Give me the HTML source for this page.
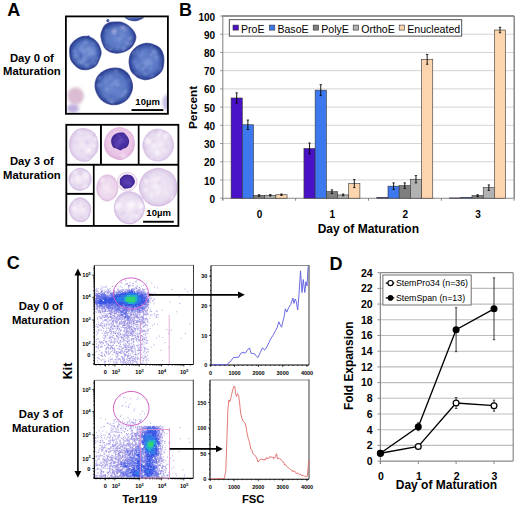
<!DOCTYPE html>
<html><head><meta charset="utf-8"><style>
html,body{margin:0;padding:0;background:#fff;}
svg{display:block;}
text{font-family:"Liberation Sans",sans-serif;}
</style></head><body>
<svg width="520" height="507" viewBox="0 0 520 507" font-family="Liberation Sans">
<text x="7.3" y="15.6" font-size="18" font-weight="bold" text-anchor="start" fill="#000" >A</text>
<text x="31.9" y="61.8" font-size="11.3" font-weight="bold" text-anchor="middle" fill="#000" >Day 0 of</text>
<text x="31.9" y="75.3" font-size="11.3" font-weight="bold" text-anchor="middle" fill="#000" >Maturation</text>
<text x="31.9" y="164.9" font-size="11.3" font-weight="bold" text-anchor="middle" fill="#000" >Day 3 of</text>
<text x="31.9" y="178.9" font-size="11.3" font-weight="bold" text-anchor="middle" fill="#000" >Maturation</text>
<defs><radialGradient id="gBlue" cx="50%" cy="50%" r="50%"><stop offset="0" stop-color="#6e8cd2"/><stop offset="0.68" stop-color="#5774c2"/><stop offset="0.92" stop-color="#354fa0"/><stop offset="1" stop-color="#2b4394"/></radialGradient><radialGradient id="gLav" cx="50%" cy="50%" r="50%"><stop offset="0" stop-color="#f1e9f5"/><stop offset="0.75" stop-color="#e8dcf0"/><stop offset="1" stop-color="#d8c6e6"/></radialGradient><radialGradient id="gPink" cx="50%" cy="50%" r="50%"><stop offset="0" stop-color="#f3e4f2"/><stop offset="0.8" stop-color="#ecd6ec"/><stop offset="1" stop-color="#dec2e0"/></radialGradient><radialGradient id="gPinkS" cx="50%" cy="45%" r="52%"><stop offset="0" stop-color="#f2d6ee"/><stop offset="0.8" stop-color="#eac4e6"/><stop offset="1" stop-color="#deb2da"/></radialGradient><radialGradient id="gNuc" cx="50%" cy="50%" r="50%"><stop offset="0" stop-color="#5840b4"/><stop offset="0.8" stop-color="#452c9c"/><stop offset="1" stop-color="#3c248e"/></radialGradient><filter id="blur1" x="-20%" y="-20%" width="140%" height="140%"><feGaussianBlur stdDeviation="0.7"/></filter><filter id="blurS" x="-20%" y="-20%" width="140%" height="140%"><feGaussianBlur stdDeviation="0.9"/></filter><filter id="blur2" x="-30%" y="-30%" width="160%" height="160%"><feGaussianBlur stdDeviation="1.5"/></filter><clipPath id="clipTop"><rect x="66.8" y="17.2" width="100.2" height="95.8"/></clipPath><clipPath id="clipBR"><rect x="94.5" y="165.6" width="84" height="59.5"/></clipPath></defs>
<g clip-path="url(#clipTop)">
<ellipse cx="75.6" cy="96" rx="8.2" ry="8.8" fill="#dcbcd2" filter="url(#blur2)"/>
<ellipse cx="73" cy="108.5" rx="6" ry="4.5" fill="#c0b0e0" filter="url(#blur2)"/>
<ellipse cx="167.5" cy="102.5" rx="5" ry="8" fill="#c6bae2" filter="url(#blur2)"/>
<clipPath id="cc1"><path d="M146.05 11.30C146.05 12.48 145.79 13.77 145.21 14.86C144.63 15.94 143.67 17.03 142.58 17.83C141.48 18.63 140.04 19.21 138.65 19.67C137.25 20.13 135.70 20.57 134.20 20.60C132.70 20.63 131.04 20.32 129.66 19.85C128.28 19.37 126.98 18.60 125.91 17.76C124.84 16.93 123.82 15.92 123.22 14.85C122.63 13.77 122.34 12.48 122.35 11.30C122.35 10.12 122.68 8.85 123.26 7.77C123.84 6.68 124.79 5.63 125.85 4.79C126.92 3.96 128.26 3.18 129.65 2.74C131.05 2.31 132.69 2.17 134.20 2.18C135.71 2.19 137.32 2.38 138.71 2.82C140.09 3.26 141.42 4.01 142.50 4.83C143.57 5.66 144.59 6.68 145.18 7.75C145.77 8.83 146.04 10.12 146.05 11.30Z"/></clipPath>
<path d="M146.05 11.30C146.05 12.48 145.79 13.77 145.21 14.86C144.63 15.94 143.67 17.03 142.58 17.83C141.48 18.63 140.04 19.21 138.65 19.67C137.25 20.13 135.70 20.57 134.20 20.60C132.70 20.63 131.04 20.32 129.66 19.85C128.28 19.37 126.98 18.60 125.91 17.76C124.84 16.93 123.82 15.92 123.22 14.85C122.63 13.77 122.34 12.48 122.35 11.30C122.35 10.12 122.68 8.85 123.26 7.77C123.84 6.68 124.79 5.63 125.85 4.79C126.92 3.96 128.26 3.18 129.65 2.74C131.05 2.31 132.69 2.17 134.20 2.18C135.71 2.19 137.32 2.38 138.71 2.82C140.09 3.26 141.42 4.01 142.50 4.83C143.57 5.66 144.59 6.68 145.18 7.75C145.77 8.83 146.04 10.12 146.05 11.30Z" fill="url(#gBlue)" filter="url(#blur1)"/>
<g clip-path="url(#cc1)" filter="url(#blurS)"><ellipse cx="126.9" cy="11.4" rx="1.8" ry="1.1" fill="#98aae2" fill-opacity="0.4"/><ellipse cx="127.3" cy="17.6" rx="0.9" ry="0.6" fill="#98aae2" fill-opacity="0.4"/><ellipse cx="143.0" cy="13.1" rx="1.4" ry="1.3" fill="#98aae2" fill-opacity="0.4"/><ellipse cx="137.4" cy="8.2" rx="1.0" ry="1.1" fill="#98aae2" fill-opacity="0.4"/><ellipse cx="137.6" cy="11.6" rx="2.1" ry="2.0" fill="#98aae2" fill-opacity="0.4"/><ellipse cx="143.7" cy="7.1" rx="1.7" ry="1.5" fill="#98aae2" fill-opacity="0.4"/><ellipse cx="131.3" cy="12.7" rx="1.2" ry="1.3" fill="#98aae2" fill-opacity="0.4"/><ellipse cx="141.4" cy="6.0" rx="1.5" ry="1.2" fill="#98aae2" fill-opacity="0.4"/><ellipse cx="126.0" cy="17.1" rx="1.5" ry="1.0" fill="#98aae2" fill-opacity="0.4"/><ellipse cx="137.6" cy="7.1" rx="2.2" ry="1.6" fill="#98aae2" fill-opacity="0.4"/><ellipse cx="125.0" cy="7.1" rx="1.4" ry="1.2" fill="#98aae2" fill-opacity="0.4"/><ellipse cx="142.2" cy="14.2" rx="1.3" ry="0.8" fill="#98aae2" fill-opacity="0.4"/><ellipse cx="127.5" cy="18.5" rx="1.5" ry="1.6" fill="#98aae2" fill-opacity="0.4"/><ellipse cx="125.4" cy="4.7" rx="2.2" ry="2.1" fill="#98aae2" fill-opacity="0.4"/><ellipse cx="130.4" cy="8.8" rx="0.9" ry="0.7" fill="#98aae2" fill-opacity="0.4"/><ellipse cx="124.8" cy="16.3" rx="1.5" ry="1.0" fill="#98aae2" fill-opacity="0.4"/><ellipse cx="138.9" cy="7.0" rx="0.9" ry="0.9" fill="#98aae2" fill-opacity="0.4"/><ellipse cx="142.0" cy="4.6" rx="2.1" ry="1.5" fill="#98aae2" fill-opacity="0.4"/><ellipse cx="126.2" cy="4.4" rx="1.3" ry="1.3" fill="#98aae2" fill-opacity="0.4"/><ellipse cx="134.1" cy="16.5" rx="1.1" ry="0.9" fill="#98aae2" fill-opacity="0.4"/><ellipse cx="129.4" cy="18.3" rx="2.3" ry="1.9" fill="#98aae2" fill-opacity="0.4"/><ellipse cx="132.9" cy="8.7" rx="2.0" ry="1.2" fill="#98aae2" fill-opacity="0.4"/><ellipse cx="125.7" cy="10.0" rx="1.2" ry="1.3" fill="#98aae2" fill-opacity="0.4"/><ellipse cx="139.0" cy="12.1" rx="1.9" ry="1.9" fill="#98aae2" fill-opacity="0.4"/><ellipse cx="139.7" cy="17.6" rx="1.0" ry="1.0" fill="#98aae2" fill-opacity="0.4"/><ellipse cx="127.2" cy="10.6" rx="2.1" ry="2.3" fill="#98aae2" fill-opacity="0.4"/><ellipse cx="139.3" cy="4.7" rx="1.4" ry="1.0" fill="#98aae2" fill-opacity="0.4"/><ellipse cx="144.0" cy="6.3" rx="1.2" ry="1.0" fill="#98aae2" fill-opacity="0.4"/><ellipse cx="125.5" cy="16.7" rx="1.8" ry="1.3" fill="#98aae2" fill-opacity="0.4"/><ellipse cx="134.2" cy="5.3" rx="1.8" ry="1.3" fill="#98aae2" fill-opacity="0.4"/><ellipse cx="125.1" cy="5.8" rx="1.7" ry="1.7" fill="#98aae2" fill-opacity="0.4"/><ellipse cx="130.7" cy="13.5" rx="1.4" ry="0.9" fill="#98aae2" fill-opacity="0.4"/><ellipse cx="130.6" cy="9.9" rx="2.3" ry="1.5" fill="#98aae2" fill-opacity="0.4"/><ellipse cx="126.0" cy="12.3" rx="2.3" ry="2.7" fill="#98aae2" fill-opacity="0.4"/><ellipse cx="138.1" cy="5.1" rx="1.6" ry="1.6" fill="#34469c" fill-opacity="0.35"/><ellipse cx="127.2" cy="10.9" rx="0.8" ry="0.8" fill="#34469c" fill-opacity="0.35"/><ellipse cx="138.5" cy="15.8" rx="1.5" ry="1.2" fill="#34469c" fill-opacity="0.35"/><ellipse cx="139.9" cy="7.8" rx="0.9" ry="0.7" fill="#34469c" fill-opacity="0.35"/><ellipse cx="134.2" cy="8.3" rx="1.4" ry="1.3" fill="#34469c" fill-opacity="0.35"/><ellipse cx="129.1" cy="13.2" rx="1.1" ry="1.1" fill="#34469c" fill-opacity="0.35"/><ellipse cx="130.1" cy="15.7" rx="1.2" ry="1.1" fill="#34469c" fill-opacity="0.35"/><ellipse cx="137.6" cy="11.7" rx="1.0" ry="1.2" fill="#34469c" fill-opacity="0.35"/><ellipse cx="126.2" cy="8.9" rx="1.3" ry="0.8" fill="#34469c" fill-opacity="0.35"/><ellipse cx="127.4" cy="15.7" rx="1.6" ry="1.5" fill="#34469c" fill-opacity="0.35"/><ellipse cx="142.1" cy="15.1" rx="1.0" ry="1.0" fill="#34469c" fill-opacity="0.35"/><ellipse cx="131.0" cy="15.0" rx="1.1" ry="0.8" fill="#34469c" fill-opacity="0.35"/><ellipse cx="141.6" cy="14.1" rx="1.5" ry="1.4" fill="#34469c" fill-opacity="0.35"/><ellipse cx="139.8" cy="10.6" rx="1.3" ry="0.8" fill="#34469c" fill-opacity="0.35"/><ellipse cx="135.3" cy="15.9" rx="1.5" ry="1.6" fill="#34469c" fill-opacity="0.35"/><ellipse cx="134.1" cy="16.9" rx="0.8" ry="0.9" fill="#34469c" fill-opacity="0.35"/><ellipse cx="131.7" cy="5.5" rx="1.4" ry="1.2" fill="#34469c" fill-opacity="0.35"/><ellipse cx="132.8" cy="16.5" rx="0.9" ry="0.8" fill="#34469c" fill-opacity="0.35"/><ellipse cx="132.5" cy="11.8" rx="1.2" ry="0.9" fill="#34469c" fill-opacity="0.35"/><ellipse cx="134.4" cy="16.6" rx="0.9" ry="0.5" fill="#34469c" fill-opacity="0.35"/></g>
<path d="M146.05 11.30C146.05 12.48 145.79 13.77 145.21 14.86C144.63 15.94 143.67 17.03 142.58 17.83C141.48 18.63 140.04 19.21 138.65 19.67C137.25 20.13 135.70 20.57 134.20 20.60C132.70 20.63 131.04 20.32 129.66 19.85C128.28 19.37 126.98 18.60 125.91 17.76C124.84 16.93 123.82 15.92 123.22 14.85C122.63 13.77 122.34 12.48 122.35 11.30C122.35 10.12 122.68 8.85 123.26 7.77C123.84 6.68 124.79 5.63 125.85 4.79C126.92 3.96 128.26 3.18 129.65 2.74C131.05 2.31 132.69 2.17 134.20 2.18C135.71 2.19 137.32 2.38 138.71 2.82C140.09 3.26 141.42 4.01 142.50 4.83C143.57 5.66 144.59 6.68 145.18 7.75C145.77 8.83 146.04 10.12 146.05 11.30Z" fill="none" stroke="#26348a" stroke-width="1.5" stroke-opacity="0.75" filter="url(#blur1)"/>
<clipPath id="cc2"><path d="M101.10 36.60C100.77 33.77 101.85 31.85 102.50 30.00C103.15 28.15 103.92 26.67 105.00 25.50C106.08 24.33 107.50 23.53 109.00 23.00C110.50 22.47 112.17 22.42 114.00 22.30C115.83 22.18 118.00 21.93 120.00 22.30C122.00 22.67 124.25 23.55 126.00 24.50C127.75 25.45 129.17 26.75 130.50 28.00C131.83 29.25 133.13 30.42 134.00 32.00C134.87 33.58 135.78 35.50 135.70 37.50C135.62 39.50 134.47 42.22 133.50 44.00C132.53 45.78 131.48 46.95 129.90 48.20C128.32 49.45 126.15 50.72 124.00 51.50C121.85 52.28 119.33 52.90 117.00 52.90C114.67 52.90 112.08 52.48 110.00 51.50C107.92 50.52 105.98 49.48 104.50 47.00C103.02 44.52 101.43 39.43 101.10 36.60Z"/></clipPath>
<path d="M101.10 36.60C100.77 33.77 101.85 31.85 102.50 30.00C103.15 28.15 103.92 26.67 105.00 25.50C106.08 24.33 107.50 23.53 109.00 23.00C110.50 22.47 112.17 22.42 114.00 22.30C115.83 22.18 118.00 21.93 120.00 22.30C122.00 22.67 124.25 23.55 126.00 24.50C127.75 25.45 129.17 26.75 130.50 28.00C131.83 29.25 133.13 30.42 134.00 32.00C134.87 33.58 135.78 35.50 135.70 37.50C135.62 39.50 134.47 42.22 133.50 44.00C132.53 45.78 131.48 46.95 129.90 48.20C128.32 49.45 126.15 50.72 124.00 51.50C121.85 52.28 119.33 52.90 117.00 52.90C114.67 52.90 112.08 52.48 110.00 51.50C107.92 50.52 105.98 49.48 104.50 47.00C103.02 44.52 101.43 39.43 101.10 36.60Z" fill="url(#gBlue)" filter="url(#blur1)"/>
<g clip-path="url(#cc2)" filter="url(#blurS)"><ellipse cx="110.8" cy="49.5" rx="1.1" ry="0.8" fill="#98aae2" fill-opacity="0.4"/><ellipse cx="113.8" cy="30.4" rx="1.9" ry="1.3" fill="#98aae2" fill-opacity="0.4"/><ellipse cx="130.5" cy="47.1" rx="0.8" ry="0.7" fill="#98aae2" fill-opacity="0.4"/><ellipse cx="106.4" cy="31.2" rx="1.5" ry="1.3" fill="#98aae2" fill-opacity="0.4"/><ellipse cx="117.4" cy="49.0" rx="1.2" ry="0.9" fill="#98aae2" fill-opacity="0.4"/><ellipse cx="123.6" cy="49.5" rx="2.3" ry="2.6" fill="#98aae2" fill-opacity="0.4"/><ellipse cx="105.1" cy="49.2" rx="1.8" ry="2.1" fill="#98aae2" fill-opacity="0.4"/><ellipse cx="115.6" cy="30.1" rx="2.1" ry="2.1" fill="#98aae2" fill-opacity="0.4"/><ellipse cx="126.9" cy="29.7" rx="1.0" ry="1.1" fill="#98aae2" fill-opacity="0.4"/><ellipse cx="103.7" cy="49.5" rx="1.0" ry="1.0" fill="#98aae2" fill-opacity="0.4"/><ellipse cx="115.9" cy="32.9" rx="1.1" ry="1.1" fill="#98aae2" fill-opacity="0.4"/><ellipse cx="131.1" cy="43.7" rx="1.8" ry="1.8" fill="#98aae2" fill-opacity="0.4"/><ellipse cx="119.5" cy="39.1" rx="2.2" ry="1.7" fill="#98aae2" fill-opacity="0.4"/><ellipse cx="109.9" cy="49.5" rx="2.3" ry="2.0" fill="#98aae2" fill-opacity="0.4"/><ellipse cx="127.6" cy="44.1" rx="2.3" ry="1.5" fill="#98aae2" fill-opacity="0.4"/><ellipse cx="130.6" cy="37.6" rx="1.5" ry="1.5" fill="#98aae2" fill-opacity="0.4"/><ellipse cx="122.0" cy="35.9" rx="1.3" ry="1.5" fill="#98aae2" fill-opacity="0.4"/><ellipse cx="128.2" cy="27.0" rx="1.4" ry="1.5" fill="#98aae2" fill-opacity="0.4"/><ellipse cx="130.0" cy="49.9" rx="1.2" ry="1.3" fill="#98aae2" fill-opacity="0.4"/><ellipse cx="124.4" cy="26.1" rx="1.1" ry="0.8" fill="#98aae2" fill-opacity="0.4"/><ellipse cx="105.5" cy="42.6" rx="1.3" ry="1.3" fill="#98aae2" fill-opacity="0.4"/><ellipse cx="105.6" cy="47.5" rx="1.9" ry="2.0" fill="#98aae2" fill-opacity="0.4"/><ellipse cx="121.7" cy="36.5" rx="1.1" ry="1.3" fill="#98aae2" fill-opacity="0.4"/><ellipse cx="107.6" cy="38.2" rx="1.0" ry="0.7" fill="#98aae2" fill-opacity="0.4"/><ellipse cx="124.4" cy="47.9" rx="1.5" ry="1.7" fill="#98aae2" fill-opacity="0.4"/><ellipse cx="129.4" cy="38.5" rx="2.0" ry="1.6" fill="#98aae2" fill-opacity="0.4"/><ellipse cx="107.7" cy="29.3" rx="0.8" ry="0.5" fill="#98aae2" fill-opacity="0.4"/><ellipse cx="126.1" cy="48.3" rx="0.9" ry="0.9" fill="#98aae2" fill-opacity="0.4"/><ellipse cx="126.9" cy="42.4" rx="1.6" ry="1.4" fill="#98aae2" fill-opacity="0.4"/><ellipse cx="124.4" cy="30.8" rx="2.0" ry="1.4" fill="#98aae2" fill-opacity="0.4"/><ellipse cx="104.2" cy="49.1" rx="0.9" ry="0.7" fill="#98aae2" fill-opacity="0.4"/><ellipse cx="104.8" cy="24.6" rx="1.0" ry="1.2" fill="#98aae2" fill-opacity="0.4"/><ellipse cx="124.4" cy="35.1" rx="0.8" ry="0.9" fill="#98aae2" fill-opacity="0.4"/><ellipse cx="117.9" cy="47.0" rx="1.6" ry="1.0" fill="#98aae2" fill-opacity="0.4"/><ellipse cx="105.4" cy="45.3" rx="0.9" ry="0.7" fill="#34469c" fill-opacity="0.35"/><ellipse cx="115.6" cy="31.3" rx="1.0" ry="1.1" fill="#34469c" fill-opacity="0.35"/><ellipse cx="117.5" cy="50.8" rx="0.8" ry="0.6" fill="#34469c" fill-opacity="0.35"/><ellipse cx="130.1" cy="35.9" rx="1.5" ry="1.3" fill="#34469c" fill-opacity="0.35"/><ellipse cx="115.5" cy="47.9" rx="1.0" ry="1.0" fill="#34469c" fill-opacity="0.35"/><ellipse cx="120.4" cy="25.5" rx="0.8" ry="0.6" fill="#34469c" fill-opacity="0.35"/><ellipse cx="103.2" cy="42.5" rx="1.3" ry="1.1" fill="#34469c" fill-opacity="0.35"/><ellipse cx="115.9" cy="25.4" rx="1.1" ry="1.3" fill="#34469c" fill-opacity="0.35"/><ellipse cx="104.3" cy="41.7" rx="1.5" ry="1.1" fill="#34469c" fill-opacity="0.35"/><ellipse cx="112.1" cy="29.1" rx="1.3" ry="1.1" fill="#34469c" fill-opacity="0.35"/><ellipse cx="107.1" cy="32.0" rx="1.0" ry="1.2" fill="#34469c" fill-opacity="0.35"/><ellipse cx="121.8" cy="37.0" rx="1.2" ry="1.2" fill="#34469c" fill-opacity="0.35"/><ellipse cx="133.1" cy="34.5" rx="0.8" ry="0.5" fill="#34469c" fill-opacity="0.35"/><ellipse cx="103.3" cy="29.7" rx="1.4" ry="1.0" fill="#34469c" fill-opacity="0.35"/><ellipse cx="128.7" cy="49.6" rx="0.8" ry="0.9" fill="#34469c" fill-opacity="0.35"/><ellipse cx="123.3" cy="50.7" rx="0.9" ry="1.0" fill="#34469c" fill-opacity="0.35"/><ellipse cx="113.3" cy="29.6" rx="1.0" ry="1.1" fill="#34469c" fill-opacity="0.35"/><ellipse cx="117.8" cy="35.9" rx="1.7" ry="1.8" fill="#34469c" fill-opacity="0.35"/><ellipse cx="130.5" cy="24.9" rx="1.8" ry="1.8" fill="#34469c" fill-opacity="0.35"/><ellipse cx="130.7" cy="45.7" rx="1.7" ry="1.9" fill="#34469c" fill-opacity="0.35"/><ellipse cx="122.9" cy="27.7" rx="2.7" ry="1.7" fill="#d8c4e4" fill-opacity="0.5"/><ellipse cx="113.8" cy="31.8" rx="2.3" ry="2.5" fill="#d8c4e4" fill-opacity="0.5"/></g>
<path d="M101.10 36.60C100.77 33.77 101.85 31.85 102.50 30.00C103.15 28.15 103.92 26.67 105.00 25.50C106.08 24.33 107.50 23.53 109.00 23.00C110.50 22.47 112.17 22.42 114.00 22.30C115.83 22.18 118.00 21.93 120.00 22.30C122.00 22.67 124.25 23.55 126.00 24.50C127.75 25.45 129.17 26.75 130.50 28.00C131.83 29.25 133.13 30.42 134.00 32.00C134.87 33.58 135.78 35.50 135.70 37.50C135.62 39.50 134.47 42.22 133.50 44.00C132.53 45.78 131.48 46.95 129.90 48.20C128.32 49.45 126.15 50.72 124.00 51.50C121.85 52.28 119.33 52.90 117.00 52.90C114.67 52.90 112.08 52.48 110.00 51.50C107.92 50.52 105.98 49.48 104.50 47.00C103.02 44.52 101.43 39.43 101.10 36.60Z" fill="none" stroke="#26348a" stroke-width="1.5" stroke-opacity="0.75" filter="url(#blur1)"/>
<ellipse cx="107.8" cy="20.6" rx="1.5" ry="1.6" fill="#4058a8" filter="url(#blur1)"/>
<ellipse cx="88.5" cy="36.3" rx="1.2" ry="1" fill="#6878c0" filter="url(#blur1)"/>
<clipPath id="cc3"><path d="M100.98 53.10C100.92 55.18 99.80 57.29 98.99 59.26C98.19 61.22 97.47 63.38 96.14 64.90C94.82 66.41 92.88 67.55 91.05 68.33C89.23 69.12 87.16 69.60 85.20 69.61C83.24 69.62 81.09 69.24 79.32 68.40C77.55 67.55 75.96 66.05 74.57 64.55C73.19 63.06 71.78 61.34 71.01 59.43C70.24 57.53 70.06 55.26 69.96 53.10C69.86 50.94 69.68 48.46 70.40 46.49C71.13 44.53 72.79 42.77 74.28 41.33C75.77 39.89 77.51 38.62 79.33 37.83C81.15 37.03 83.25 36.55 85.20 36.56C87.15 36.57 89.25 37.06 91.05 37.89C92.84 38.71 94.57 40.03 95.95 41.51C97.34 42.99 98.52 44.85 99.36 46.78C100.20 48.71 101.04 51.02 100.98 53.10Z"/></clipPath>
<path d="M100.98 53.10C100.92 55.18 99.80 57.29 98.99 59.26C98.19 61.22 97.47 63.38 96.14 64.90C94.82 66.41 92.88 67.55 91.05 68.33C89.23 69.12 87.16 69.60 85.20 69.61C83.24 69.62 81.09 69.24 79.32 68.40C77.55 67.55 75.96 66.05 74.57 64.55C73.19 63.06 71.78 61.34 71.01 59.43C70.24 57.53 70.06 55.26 69.96 53.10C69.86 50.94 69.68 48.46 70.40 46.49C71.13 44.53 72.79 42.77 74.28 41.33C75.77 39.89 77.51 38.62 79.33 37.83C81.15 37.03 83.25 36.55 85.20 36.56C87.15 36.57 89.25 37.06 91.05 37.89C92.84 38.71 94.57 40.03 95.95 41.51C97.34 42.99 98.52 44.85 99.36 46.78C100.20 48.71 101.04 51.02 100.98 53.10Z" fill="url(#gBlue)" filter="url(#blur1)"/>
<g clip-path="url(#cc3)" filter="url(#blurS)"><ellipse cx="95.3" cy="63.4" rx="2.1" ry="1.6" fill="#98aae2" fill-opacity="0.4"/><ellipse cx="74.0" cy="66.1" rx="1.8" ry="1.1" fill="#98aae2" fill-opacity="0.4"/><ellipse cx="96.6" cy="67.2" rx="1.3" ry="1.4" fill="#98aae2" fill-opacity="0.4"/><ellipse cx="74.2" cy="51.3" rx="2.1" ry="1.8" fill="#98aae2" fill-opacity="0.4"/><ellipse cx="85.9" cy="42.0" rx="2.1" ry="1.9" fill="#98aae2" fill-opacity="0.4"/><ellipse cx="78.7" cy="61.1" rx="2.4" ry="2.2" fill="#98aae2" fill-opacity="0.4"/><ellipse cx="91.9" cy="67.4" rx="0.8" ry="0.8" fill="#98aae2" fill-opacity="0.4"/><ellipse cx="98.1" cy="42.0" rx="1.2" ry="1.1" fill="#98aae2" fill-opacity="0.4"/><ellipse cx="91.5" cy="54.6" rx="1.7" ry="1.1" fill="#98aae2" fill-opacity="0.4"/><ellipse cx="91.9" cy="47.9" rx="0.9" ry="1.1" fill="#98aae2" fill-opacity="0.4"/><ellipse cx="89.8" cy="51.8" rx="2.0" ry="1.7" fill="#98aae2" fill-opacity="0.4"/><ellipse cx="75.3" cy="56.1" rx="2.0" ry="2.1" fill="#98aae2" fill-opacity="0.4"/><ellipse cx="86.9" cy="65.5" rx="2.3" ry="2.6" fill="#98aae2" fill-opacity="0.4"/><ellipse cx="82.0" cy="46.3" rx="1.6" ry="1.6" fill="#98aae2" fill-opacity="0.4"/><ellipse cx="76.3" cy="54.8" rx="1.5" ry="0.9" fill="#98aae2" fill-opacity="0.4"/><ellipse cx="83.3" cy="50.2" rx="2.3" ry="1.5" fill="#98aae2" fill-opacity="0.4"/><ellipse cx="97.0" cy="64.9" rx="1.8" ry="1.3" fill="#98aae2" fill-opacity="0.4"/><ellipse cx="93.3" cy="43.2" rx="1.3" ry="1.3" fill="#98aae2" fill-opacity="0.4"/><ellipse cx="83.4" cy="51.9" rx="1.3" ry="0.8" fill="#98aae2" fill-opacity="0.4"/><ellipse cx="81.7" cy="62.6" rx="2.1" ry="1.4" fill="#98aae2" fill-opacity="0.4"/><ellipse cx="86.9" cy="48.8" rx="1.4" ry="1.7" fill="#98aae2" fill-opacity="0.4"/><ellipse cx="93.8" cy="53.3" rx="1.6" ry="1.9" fill="#98aae2" fill-opacity="0.4"/><ellipse cx="82.1" cy="61.3" rx="2.0" ry="2.1" fill="#98aae2" fill-opacity="0.4"/><ellipse cx="84.3" cy="58.5" rx="2.1" ry="1.7" fill="#98aae2" fill-opacity="0.4"/><ellipse cx="92.6" cy="52.6" rx="1.7" ry="1.5" fill="#98aae2" fill-opacity="0.4"/><ellipse cx="82.1" cy="60.4" rx="1.4" ry="1.0" fill="#98aae2" fill-opacity="0.4"/><ellipse cx="93.2" cy="50.2" rx="1.7" ry="2.1" fill="#98aae2" fill-opacity="0.4"/><ellipse cx="89.5" cy="53.8" rx="1.3" ry="1.3" fill="#98aae2" fill-opacity="0.4"/><ellipse cx="97.9" cy="59.1" rx="2.0" ry="1.6" fill="#98aae2" fill-opacity="0.4"/><ellipse cx="80.4" cy="48.9" rx="1.6" ry="1.8" fill="#98aae2" fill-opacity="0.4"/><ellipse cx="84.6" cy="43.7" rx="1.7" ry="1.2" fill="#98aae2" fill-opacity="0.4"/><ellipse cx="89.1" cy="48.4" rx="2.3" ry="2.0" fill="#98aae2" fill-opacity="0.4"/><ellipse cx="87.7" cy="55.5" rx="1.5" ry="1.7" fill="#98aae2" fill-opacity="0.4"/><ellipse cx="73.1" cy="60.2" rx="1.2" ry="0.8" fill="#98aae2" fill-opacity="0.4"/><ellipse cx="76.8" cy="60.4" rx="1.7" ry="1.8" fill="#34469c" fill-opacity="0.35"/><ellipse cx="79.7" cy="53.0" rx="0.8" ry="0.7" fill="#34469c" fill-opacity="0.35"/><ellipse cx="78.9" cy="39.5" rx="1.0" ry="1.2" fill="#34469c" fill-opacity="0.35"/><ellipse cx="86.3" cy="46.5" rx="0.8" ry="0.9" fill="#34469c" fill-opacity="0.35"/><ellipse cx="74.4" cy="39.7" rx="0.8" ry="0.9" fill="#34469c" fill-opacity="0.35"/><ellipse cx="97.2" cy="41.3" rx="1.4" ry="1.4" fill="#34469c" fill-opacity="0.35"/><ellipse cx="86.2" cy="38.7" rx="1.5" ry="1.3" fill="#34469c" fill-opacity="0.35"/><ellipse cx="97.1" cy="67.5" rx="1.4" ry="0.9" fill="#34469c" fill-opacity="0.35"/><ellipse cx="80.5" cy="56.9" rx="1.7" ry="1.4" fill="#34469c" fill-opacity="0.35"/><ellipse cx="81.7" cy="56.2" rx="1.6" ry="1.2" fill="#34469c" fill-opacity="0.35"/><ellipse cx="88.0" cy="56.5" rx="1.2" ry="1.0" fill="#34469c" fill-opacity="0.35"/><ellipse cx="97.6" cy="62.3" rx="0.9" ry="0.5" fill="#34469c" fill-opacity="0.35"/><ellipse cx="78.9" cy="50.8" rx="0.9" ry="0.7" fill="#34469c" fill-opacity="0.35"/><ellipse cx="90.3" cy="60.0" rx="1.6" ry="1.7" fill="#34469c" fill-opacity="0.35"/><ellipse cx="80.7" cy="54.0" rx="1.5" ry="1.5" fill="#34469c" fill-opacity="0.35"/><ellipse cx="87.6" cy="62.2" rx="1.7" ry="2.0" fill="#34469c" fill-opacity="0.35"/><ellipse cx="79.3" cy="42.0" rx="1.0" ry="1.1" fill="#34469c" fill-opacity="0.35"/><ellipse cx="80.5" cy="60.2" rx="1.4" ry="1.6" fill="#34469c" fill-opacity="0.35"/><ellipse cx="75.2" cy="62.6" rx="0.8" ry="0.7" fill="#34469c" fill-opacity="0.35"/><ellipse cx="86.5" cy="45.7" rx="1.0" ry="0.8" fill="#34469c" fill-opacity="0.35"/></g>
<path d="M100.98 53.10C100.92 55.18 99.80 57.29 98.99 59.26C98.19 61.22 97.47 63.38 96.14 64.90C94.82 66.41 92.88 67.55 91.05 68.33C89.23 69.12 87.16 69.60 85.20 69.61C83.24 69.62 81.09 69.24 79.32 68.40C77.55 67.55 75.96 66.05 74.57 64.55C73.19 63.06 71.78 61.34 71.01 59.43C70.24 57.53 70.06 55.26 69.96 53.10C69.86 50.94 69.68 48.46 70.40 46.49C71.13 44.53 72.79 42.77 74.28 41.33C75.77 39.89 77.51 38.62 79.33 37.83C81.15 37.03 83.25 36.55 85.20 36.56C87.15 36.57 89.25 37.06 91.05 37.89C92.84 38.71 94.57 40.03 95.95 41.51C97.34 42.99 98.52 44.85 99.36 46.78C100.20 48.71 101.04 51.02 100.98 53.10Z" fill="none" stroke="#26348a" stroke-width="1.5" stroke-opacity="0.75" filter="url(#blur1)"/>
<clipPath id="cc4"><path d="M129.30 60.70C129.45 58.62 130.00 55.87 130.80 54.00C131.60 52.13 132.73 50.90 134.10 49.50C135.47 48.10 137.03 46.58 139.00 45.60C140.97 44.62 143.57 43.77 145.90 43.60C148.23 43.43 150.70 43.82 153.00 44.60C155.30 45.38 158.02 46.57 159.70 48.30C161.38 50.03 162.45 52.72 163.10 55.00C163.75 57.28 163.72 59.67 163.60 62.00C163.48 64.33 163.17 67.03 162.40 69.00C161.63 70.97 160.38 72.43 159.00 73.80C157.62 75.17 155.77 76.33 154.10 77.20C152.43 78.07 150.60 78.63 149.00 79.00C147.40 79.37 146.17 79.60 144.50 79.40C142.83 79.20 140.62 78.60 139.00 77.80C137.38 77.00 136.05 75.73 134.80 74.60C133.55 73.47 132.32 72.35 131.50 71.00C130.68 69.65 130.27 68.22 129.90 66.50C129.53 64.78 129.15 62.78 129.30 60.70Z"/></clipPath>
<path d="M129.30 60.70C129.45 58.62 130.00 55.87 130.80 54.00C131.60 52.13 132.73 50.90 134.10 49.50C135.47 48.10 137.03 46.58 139.00 45.60C140.97 44.62 143.57 43.77 145.90 43.60C148.23 43.43 150.70 43.82 153.00 44.60C155.30 45.38 158.02 46.57 159.70 48.30C161.38 50.03 162.45 52.72 163.10 55.00C163.75 57.28 163.72 59.67 163.60 62.00C163.48 64.33 163.17 67.03 162.40 69.00C161.63 70.97 160.38 72.43 159.00 73.80C157.62 75.17 155.77 76.33 154.10 77.20C152.43 78.07 150.60 78.63 149.00 79.00C147.40 79.37 146.17 79.60 144.50 79.40C142.83 79.20 140.62 78.60 139.00 77.80C137.38 77.00 136.05 75.73 134.80 74.60C133.55 73.47 132.32 72.35 131.50 71.00C130.68 69.65 130.27 68.22 129.90 66.50C129.53 64.78 129.15 62.78 129.30 60.70Z" fill="url(#gBlue)" filter="url(#blur1)"/>
<g clip-path="url(#cc4)" filter="url(#blurS)"><ellipse cx="156.5" cy="57.1" rx="1.9" ry="2.1" fill="#98aae2" fill-opacity="0.4"/><ellipse cx="150.7" cy="63.0" rx="2.0" ry="2.1" fill="#98aae2" fill-opacity="0.4"/><ellipse cx="145.5" cy="63.8" rx="2.0" ry="1.3" fill="#98aae2" fill-opacity="0.4"/><ellipse cx="150.9" cy="69.0" rx="1.4" ry="1.3" fill="#98aae2" fill-opacity="0.4"/><ellipse cx="138.2" cy="66.3" rx="2.4" ry="1.8" fill="#98aae2" fill-opacity="0.4"/><ellipse cx="145.3" cy="74.0" rx="1.7" ry="1.4" fill="#98aae2" fill-opacity="0.4"/><ellipse cx="151.5" cy="46.6" rx="1.0" ry="1.2" fill="#98aae2" fill-opacity="0.4"/><ellipse cx="136.1" cy="46.5" rx="2.3" ry="2.4" fill="#98aae2" fill-opacity="0.4"/><ellipse cx="160.9" cy="69.8" rx="2.3" ry="1.8" fill="#98aae2" fill-opacity="0.4"/><ellipse cx="154.2" cy="50.8" rx="2.1" ry="2.2" fill="#98aae2" fill-opacity="0.4"/><ellipse cx="137.1" cy="51.5" rx="1.1" ry="1.2" fill="#98aae2" fill-opacity="0.4"/><ellipse cx="151.4" cy="54.5" rx="1.8" ry="1.9" fill="#98aae2" fill-opacity="0.4"/><ellipse cx="152.2" cy="77.3" rx="2.2" ry="1.8" fill="#98aae2" fill-opacity="0.4"/><ellipse cx="132.7" cy="52.9" rx="0.9" ry="1.0" fill="#98aae2" fill-opacity="0.4"/><ellipse cx="155.3" cy="52.4" rx="2.3" ry="1.8" fill="#98aae2" fill-opacity="0.4"/><ellipse cx="145.4" cy="64.1" rx="2.4" ry="2.7" fill="#98aae2" fill-opacity="0.4"/><ellipse cx="135.7" cy="74.0" rx="1.1" ry="1.2" fill="#98aae2" fill-opacity="0.4"/><ellipse cx="151.6" cy="50.4" rx="0.9" ry="1.0" fill="#98aae2" fill-opacity="0.4"/><ellipse cx="131.4" cy="50.3" rx="2.4" ry="2.4" fill="#98aae2" fill-opacity="0.4"/><ellipse cx="148.4" cy="60.0" rx="1.7" ry="1.5" fill="#98aae2" fill-opacity="0.4"/><ellipse cx="133.3" cy="52.9" rx="1.3" ry="1.2" fill="#98aae2" fill-opacity="0.4"/><ellipse cx="143.2" cy="68.5" rx="2.1" ry="2.2" fill="#98aae2" fill-opacity="0.4"/><ellipse cx="145.3" cy="58.1" rx="0.8" ry="0.7" fill="#98aae2" fill-opacity="0.4"/><ellipse cx="155.1" cy="56.7" rx="1.3" ry="0.9" fill="#98aae2" fill-opacity="0.4"/><ellipse cx="150.5" cy="61.5" rx="0.9" ry="0.7" fill="#98aae2" fill-opacity="0.4"/><ellipse cx="133.6" cy="50.5" rx="1.2" ry="0.8" fill="#98aae2" fill-opacity="0.4"/><ellipse cx="161.3" cy="65.8" rx="1.0" ry="0.9" fill="#98aae2" fill-opacity="0.4"/><ellipse cx="143.3" cy="51.8" rx="1.5" ry="1.4" fill="#98aae2" fill-opacity="0.4"/><ellipse cx="134.3" cy="76.0" rx="1.6" ry="1.0" fill="#98aae2" fill-opacity="0.4"/><ellipse cx="152.1" cy="75.7" rx="0.8" ry="0.8" fill="#98aae2" fill-opacity="0.4"/><ellipse cx="156.7" cy="59.8" rx="0.9" ry="1.0" fill="#98aae2" fill-opacity="0.4"/><ellipse cx="141.4" cy="55.2" rx="2.0" ry="1.2" fill="#98aae2" fill-opacity="0.4"/><ellipse cx="138.8" cy="74.4" rx="1.1" ry="0.7" fill="#98aae2" fill-opacity="0.4"/><ellipse cx="134.1" cy="62.1" rx="1.4" ry="1.3" fill="#98aae2" fill-opacity="0.4"/><ellipse cx="159.0" cy="53.3" rx="1.5" ry="1.5" fill="#34469c" fill-opacity="0.35"/><ellipse cx="150.3" cy="46.5" rx="0.8" ry="0.5" fill="#34469c" fill-opacity="0.35"/><ellipse cx="144.7" cy="57.2" rx="1.0" ry="1.2" fill="#34469c" fill-opacity="0.35"/><ellipse cx="148.5" cy="56.3" rx="1.4" ry="1.5" fill="#34469c" fill-opacity="0.35"/><ellipse cx="137.2" cy="58.3" rx="0.9" ry="0.8" fill="#34469c" fill-opacity="0.35"/><ellipse cx="135.3" cy="56.4" rx="1.8" ry="2.1" fill="#34469c" fill-opacity="0.35"/><ellipse cx="131.7" cy="56.7" rx="1.6" ry="1.8" fill="#34469c" fill-opacity="0.35"/><ellipse cx="140.8" cy="66.6" rx="1.5" ry="1.3" fill="#34469c" fill-opacity="0.35"/><ellipse cx="134.8" cy="70.6" rx="1.5" ry="1.4" fill="#34469c" fill-opacity="0.35"/><ellipse cx="154.9" cy="77.1" rx="0.9" ry="0.6" fill="#34469c" fill-opacity="0.35"/><ellipse cx="150.2" cy="51.6" rx="1.7" ry="1.7" fill="#34469c" fill-opacity="0.35"/><ellipse cx="145.6" cy="70.6" rx="1.7" ry="1.8" fill="#34469c" fill-opacity="0.35"/><ellipse cx="139.4" cy="60.2" rx="0.8" ry="0.8" fill="#34469c" fill-opacity="0.35"/><ellipse cx="141.3" cy="50.0" rx="1.0" ry="0.8" fill="#34469c" fill-opacity="0.35"/><ellipse cx="155.9" cy="46.2" rx="0.9" ry="0.7" fill="#34469c" fill-opacity="0.35"/><ellipse cx="156.4" cy="49.1" rx="1.8" ry="1.9" fill="#34469c" fill-opacity="0.35"/><ellipse cx="143.9" cy="65.4" rx="1.4" ry="1.6" fill="#34469c" fill-opacity="0.35"/><ellipse cx="138.7" cy="73.6" rx="1.5" ry="1.0" fill="#34469c" fill-opacity="0.35"/><ellipse cx="131.7" cy="66.0" rx="1.6" ry="1.6" fill="#34469c" fill-opacity="0.35"/><ellipse cx="155.8" cy="45.7" rx="1.7" ry="1.4" fill="#34469c" fill-opacity="0.35"/></g>
<path d="M129.30 60.70C129.45 58.62 130.00 55.87 130.80 54.00C131.60 52.13 132.73 50.90 134.10 49.50C135.47 48.10 137.03 46.58 139.00 45.60C140.97 44.62 143.57 43.77 145.90 43.60C148.23 43.43 150.70 43.82 153.00 44.60C155.30 45.38 158.02 46.57 159.70 48.30C161.38 50.03 162.45 52.72 163.10 55.00C163.75 57.28 163.72 59.67 163.60 62.00C163.48 64.33 163.17 67.03 162.40 69.00C161.63 70.97 160.38 72.43 159.00 73.80C157.62 75.17 155.77 76.33 154.10 77.20C152.43 78.07 150.60 78.63 149.00 79.00C147.40 79.37 146.17 79.60 144.50 79.40C142.83 79.20 140.62 78.60 139.00 77.80C137.38 77.00 136.05 75.73 134.80 74.60C133.55 73.47 132.32 72.35 131.50 71.00C130.68 69.65 130.27 68.22 129.90 66.50C129.53 64.78 129.15 62.78 129.30 60.70Z" fill="none" stroke="#26348a" stroke-width="1.5" stroke-opacity="0.75" filter="url(#blur1)"/>
<clipPath id="cc5"><path d="M132.42 86.20C132.44 88.47 131.80 90.89 130.91 93.02C130.03 95.14 128.74 97.30 127.11 98.96C125.49 100.63 123.34 102.08 121.15 103.01C118.97 103.94 116.38 104.56 114.00 104.55C111.62 104.54 109.05 103.88 106.87 102.94C104.70 102.01 102.58 100.56 100.94 98.91C99.29 97.27 97.93 95.18 96.98 93.06C96.03 90.94 95.32 88.52 95.23 86.20C95.15 83.88 95.55 81.28 96.48 79.14C97.41 77.00 99.05 74.93 100.80 73.36C102.56 71.79 104.79 70.57 106.99 69.73C109.19 68.88 111.62 68.40 114.00 68.31C116.38 68.21 119.06 68.31 121.25 69.16C123.45 70.00 125.59 71.66 127.18 73.37C128.78 75.08 129.95 77.28 130.83 79.42C131.70 81.56 132.41 83.93 132.42 86.20Z"/></clipPath>
<path d="M132.42 86.20C132.44 88.47 131.80 90.89 130.91 93.02C130.03 95.14 128.74 97.30 127.11 98.96C125.49 100.63 123.34 102.08 121.15 103.01C118.97 103.94 116.38 104.56 114.00 104.55C111.62 104.54 109.05 103.88 106.87 102.94C104.70 102.01 102.58 100.56 100.94 98.91C99.29 97.27 97.93 95.18 96.98 93.06C96.03 90.94 95.32 88.52 95.23 86.20C95.15 83.88 95.55 81.28 96.48 79.14C97.41 77.00 99.05 74.93 100.80 73.36C102.56 71.79 104.79 70.57 106.99 69.73C109.19 68.88 111.62 68.40 114.00 68.31C116.38 68.21 119.06 68.31 121.25 69.16C123.45 70.00 125.59 71.66 127.18 73.37C128.78 75.08 129.95 77.28 130.83 79.42C131.70 81.56 132.41 83.93 132.42 86.20Z" fill="url(#gBlue)" filter="url(#blur1)"/>
<g clip-path="url(#cc5)" filter="url(#blurS)"><ellipse cx="120.2" cy="96.6" rx="1.4" ry="0.8" fill="#98aae2" fill-opacity="0.4"/><ellipse cx="116.2" cy="75.0" rx="2.0" ry="1.6" fill="#98aae2" fill-opacity="0.4"/><ellipse cx="112.4" cy="101.8" rx="2.1" ry="2.3" fill="#98aae2" fill-opacity="0.4"/><ellipse cx="115.7" cy="100.7" rx="0.8" ry="0.9" fill="#98aae2" fill-opacity="0.4"/><ellipse cx="110.2" cy="77.8" rx="1.7" ry="1.9" fill="#98aae2" fill-opacity="0.4"/><ellipse cx="108.2" cy="99.6" rx="1.5" ry="1.8" fill="#98aae2" fill-opacity="0.4"/><ellipse cx="122.6" cy="95.6" rx="1.4" ry="1.3" fill="#98aae2" fill-opacity="0.4"/><ellipse cx="105.5" cy="96.1" rx="1.2" ry="1.2" fill="#98aae2" fill-opacity="0.4"/><ellipse cx="99.7" cy="78.3" rx="1.4" ry="1.0" fill="#98aae2" fill-opacity="0.4"/><ellipse cx="105.9" cy="76.8" rx="0.9" ry="0.7" fill="#98aae2" fill-opacity="0.4"/><ellipse cx="112.8" cy="83.8" rx="2.2" ry="1.5" fill="#98aae2" fill-opacity="0.4"/><ellipse cx="117.9" cy="81.6" rx="0.8" ry="0.9" fill="#98aae2" fill-opacity="0.4"/><ellipse cx="111.2" cy="101.8" rx="2.0" ry="2.3" fill="#98aae2" fill-opacity="0.4"/><ellipse cx="116.0" cy="81.3" rx="2.2" ry="1.8" fill="#98aae2" fill-opacity="0.4"/><ellipse cx="126.2" cy="99.7" rx="1.4" ry="1.4" fill="#98aae2" fill-opacity="0.4"/><ellipse cx="124.2" cy="102.5" rx="1.5" ry="1.1" fill="#98aae2" fill-opacity="0.4"/><ellipse cx="105.8" cy="82.6" rx="0.9" ry="0.9" fill="#98aae2" fill-opacity="0.4"/><ellipse cx="99.1" cy="85.3" rx="2.4" ry="2.0" fill="#98aae2" fill-opacity="0.4"/><ellipse cx="104.2" cy="83.5" rx="1.2" ry="0.9" fill="#98aae2" fill-opacity="0.4"/><ellipse cx="105.9" cy="80.2" rx="1.5" ry="1.2" fill="#98aae2" fill-opacity="0.4"/><ellipse cx="118.4" cy="97.9" rx="0.8" ry="0.7" fill="#98aae2" fill-opacity="0.4"/><ellipse cx="117.7" cy="85.6" rx="1.9" ry="1.3" fill="#98aae2" fill-opacity="0.4"/><ellipse cx="128.3" cy="102.4" rx="2.1" ry="2.0" fill="#98aae2" fill-opacity="0.4"/><ellipse cx="124.9" cy="92.0" rx="2.2" ry="2.0" fill="#98aae2" fill-opacity="0.4"/><ellipse cx="106.6" cy="88.3" rx="1.6" ry="1.2" fill="#98aae2" fill-opacity="0.4"/><ellipse cx="119.6" cy="93.9" rx="1.2" ry="0.9" fill="#98aae2" fill-opacity="0.4"/><ellipse cx="116.5" cy="85.1" rx="2.0" ry="2.1" fill="#98aae2" fill-opacity="0.4"/><ellipse cx="97.9" cy="77.1" rx="2.2" ry="2.2" fill="#98aae2" fill-opacity="0.4"/><ellipse cx="123.5" cy="94.3" rx="1.8" ry="1.4" fill="#98aae2" fill-opacity="0.4"/><ellipse cx="106.7" cy="90.3" rx="1.8" ry="2.1" fill="#98aae2" fill-opacity="0.4"/><ellipse cx="118.0" cy="88.6" rx="0.8" ry="0.8" fill="#98aae2" fill-opacity="0.4"/><ellipse cx="126.4" cy="91.0" rx="1.6" ry="1.3" fill="#98aae2" fill-opacity="0.4"/><ellipse cx="130.2" cy="79.8" rx="2.0" ry="1.8" fill="#98aae2" fill-opacity="0.4"/><ellipse cx="116.1" cy="71.1" rx="2.1" ry="1.8" fill="#98aae2" fill-opacity="0.4"/><ellipse cx="128.4" cy="101.1" rx="1.7" ry="1.7" fill="#34469c" fill-opacity="0.35"/><ellipse cx="103.1" cy="76.7" rx="1.1" ry="0.8" fill="#34469c" fill-opacity="0.35"/><ellipse cx="128.7" cy="84.6" rx="1.5" ry="1.0" fill="#34469c" fill-opacity="0.35"/><ellipse cx="116.3" cy="73.4" rx="1.0" ry="1.1" fill="#34469c" fill-opacity="0.35"/><ellipse cx="111.5" cy="96.4" rx="1.3" ry="1.1" fill="#34469c" fill-opacity="0.35"/><ellipse cx="112.3" cy="82.4" rx="1.3" ry="1.0" fill="#34469c" fill-opacity="0.35"/><ellipse cx="125.1" cy="78.0" rx="1.5" ry="1.2" fill="#34469c" fill-opacity="0.35"/><ellipse cx="115.3" cy="75.1" rx="1.7" ry="1.4" fill="#34469c" fill-opacity="0.35"/><ellipse cx="129.1" cy="75.6" rx="1.1" ry="1.0" fill="#34469c" fill-opacity="0.35"/><ellipse cx="115.8" cy="97.9" rx="0.8" ry="0.7" fill="#34469c" fill-opacity="0.35"/><ellipse cx="115.3" cy="87.4" rx="1.3" ry="1.1" fill="#34469c" fill-opacity="0.35"/><ellipse cx="130.0" cy="76.5" rx="1.0" ry="0.9" fill="#34469c" fill-opacity="0.35"/><ellipse cx="129.1" cy="78.4" rx="1.0" ry="0.9" fill="#34469c" fill-opacity="0.35"/><ellipse cx="114.8" cy="85.8" rx="1.3" ry="1.4" fill="#34469c" fill-opacity="0.35"/><ellipse cx="123.5" cy="98.6" rx="1.1" ry="1.1" fill="#34469c" fill-opacity="0.35"/><ellipse cx="117.7" cy="77.3" rx="1.3" ry="1.1" fill="#34469c" fill-opacity="0.35"/><ellipse cx="129.6" cy="89.3" rx="1.6" ry="1.4" fill="#34469c" fill-opacity="0.35"/><ellipse cx="125.0" cy="99.6" rx="0.9" ry="0.8" fill="#34469c" fill-opacity="0.35"/><ellipse cx="118.2" cy="87.5" rx="1.6" ry="1.4" fill="#34469c" fill-opacity="0.35"/><ellipse cx="126.1" cy="96.3" rx="1.4" ry="1.0" fill="#34469c" fill-opacity="0.35"/></g>
<path d="M132.42 86.20C132.44 88.47 131.80 90.89 130.91 93.02C130.03 95.14 128.74 97.30 127.11 98.96C125.49 100.63 123.34 102.08 121.15 103.01C118.97 103.94 116.38 104.56 114.00 104.55C111.62 104.54 109.05 103.88 106.87 102.94C104.70 102.01 102.58 100.56 100.94 98.91C99.29 97.27 97.93 95.18 96.98 93.06C96.03 90.94 95.32 88.52 95.23 86.20C95.15 83.88 95.55 81.28 96.48 79.14C97.41 77.00 99.05 74.93 100.80 73.36C102.56 71.79 104.79 70.57 106.99 69.73C109.19 68.88 111.62 68.40 114.00 68.31C116.38 68.21 119.06 68.31 121.25 69.16C123.45 70.00 125.59 71.66 127.18 73.37C128.78 75.08 129.95 77.28 130.83 79.42C131.70 81.56 132.41 83.93 132.42 86.20Z" fill="none" stroke="#26348a" stroke-width="1.5" stroke-opacity="0.75" filter="url(#blur1)"/>
</g>
<rect x="65.9" y="16.4" width="102" height="97.4" fill="none" stroke="#000" stroke-width="1.8"/>
<rect x="131.5" y="109.1" width="31.8" height="1.9" fill="#000"/>
<text x="147.6" y="104.5" font-size="9.5" font-weight="bold" text-anchor="middle" fill="#000" >10µm</text>
<clipPath id="cc6"><path d="M98.06 144.80C98.08 146.95 97.89 149.35 97.15 151.27C96.40 153.18 94.88 154.76 93.56 156.29C92.24 157.82 90.88 159.60 89.22 160.45C87.56 161.30 85.45 161.47 83.60 161.39C81.75 161.31 79.82 160.82 78.14 159.99C76.46 159.16 74.79 157.91 73.52 156.42C72.24 154.94 71.18 153.01 70.47 151.07C69.76 149.13 69.29 146.91 69.24 144.80C69.19 142.69 69.48 140.35 70.16 138.38C70.85 136.41 72.03 134.49 73.35 132.98C74.66 131.47 76.34 130.09 78.05 129.35C79.76 128.61 81.77 128.47 83.60 128.54C85.43 128.61 87.28 129.04 89.01 129.75C90.74 130.47 92.63 131.41 93.97 132.84C95.31 134.28 96.38 136.38 97.06 138.37C97.74 140.37 98.05 142.65 98.06 144.80Z"/></clipPath>
<path d="M98.06 144.80C98.08 146.95 97.89 149.35 97.15 151.27C96.40 153.18 94.88 154.76 93.56 156.29C92.24 157.82 90.88 159.60 89.22 160.45C87.56 161.30 85.45 161.47 83.60 161.39C81.75 161.31 79.82 160.82 78.14 159.99C76.46 159.16 74.79 157.91 73.52 156.42C72.24 154.94 71.18 153.01 70.47 151.07C69.76 149.13 69.29 146.91 69.24 144.80C69.19 142.69 69.48 140.35 70.16 138.38C70.85 136.41 72.03 134.49 73.35 132.98C74.66 131.47 76.34 130.09 78.05 129.35C79.76 128.61 81.77 128.47 83.60 128.54C85.43 128.61 87.28 129.04 89.01 129.75C90.74 130.47 92.63 131.41 93.97 132.84C95.31 134.28 96.38 136.38 97.06 138.37C97.74 140.37 98.05 142.65 98.06 144.80Z" fill="url(#gLav)" filter="url(#blur1)"/>
<g clip-path="url(#cc6)" filter="url(#blurS)"><ellipse cx="93.7" cy="132.5" rx="2.1" ry="1.8" fill="#ffffff" fill-opacity="0.55"/><ellipse cx="88.1" cy="131.7" rx="1.1" ry="0.8" fill="#ffffff" fill-opacity="0.55"/><ellipse cx="95.5" cy="139.3" rx="1.9" ry="2.3" fill="#ffffff" fill-opacity="0.55"/><ellipse cx="88.7" cy="136.6" rx="1.7" ry="1.1" fill="#ffffff" fill-opacity="0.55"/><ellipse cx="78.3" cy="139.3" rx="1.0" ry="1.1" fill="#ffffff" fill-opacity="0.55"/><ellipse cx="93.5" cy="145.5" rx="2.0" ry="1.9" fill="#ffffff" fill-opacity="0.55"/><ellipse cx="87.7" cy="159.2" rx="1.9" ry="1.3" fill="#ffffff" fill-opacity="0.55"/><ellipse cx="88.4" cy="150.5" rx="2.4" ry="2.4" fill="#ffffff" fill-opacity="0.55"/><ellipse cx="79.3" cy="131.7" rx="1.7" ry="1.7" fill="#ffffff" fill-opacity="0.55"/><ellipse cx="89.5" cy="149.9" rx="2.0" ry="1.9" fill="#ffffff" fill-opacity="0.55"/><ellipse cx="77.0" cy="141.9" rx="1.3" ry="0.8" fill="#c8a8dc" fill-opacity="0.35"/><ellipse cx="94.9" cy="133.0" rx="2.0" ry="2.1" fill="#c8a8dc" fill-opacity="0.35"/><ellipse cx="76.8" cy="141.0" rx="1.1" ry="1.1" fill="#c8a8dc" fill-opacity="0.35"/><ellipse cx="72.0" cy="142.8" rx="1.7" ry="1.5" fill="#c8a8dc" fill-opacity="0.35"/><ellipse cx="86.8" cy="142.9" rx="1.6" ry="1.7" fill="#c8a8dc" fill-opacity="0.35"/><ellipse cx="88.0" cy="156.4" rx="1.8" ry="1.6" fill="#c8a8dc" fill-opacity="0.35"/><ellipse cx="81.6" cy="150.7" rx="1.6" ry="1.3" fill="#c8a8dc" fill-opacity="0.35"/><ellipse cx="86.7" cy="141.8" rx="2.0" ry="1.5" fill="#c8a8dc" fill-opacity="0.35"/></g>
<path d="M98.06 144.80C98.08 146.95 97.89 149.35 97.15 151.27C96.40 153.18 94.88 154.76 93.56 156.29C92.24 157.82 90.88 159.60 89.22 160.45C87.56 161.30 85.45 161.47 83.60 161.39C81.75 161.31 79.82 160.82 78.14 159.99C76.46 159.16 74.79 157.91 73.52 156.42C72.24 154.94 71.18 153.01 70.47 151.07C69.76 149.13 69.29 146.91 69.24 144.80C69.19 142.69 69.48 140.35 70.16 138.38C70.85 136.41 72.03 134.49 73.35 132.98C74.66 131.47 76.34 130.09 78.05 129.35C79.76 128.61 81.77 128.47 83.60 128.54C85.43 128.61 87.28 129.04 89.01 129.75C90.74 130.47 92.63 131.41 93.97 132.84C95.31 134.28 96.38 136.38 97.06 138.37C97.74 140.37 98.05 142.65 98.06 144.80Z" fill="none" stroke="#cfb0e0" stroke-width="1.0" stroke-opacity="0.6" filter="url(#blur1)"/>
<clipPath id="cc7"><path d="M134.55 143.70C134.52 145.70 134.17 147.83 133.44 149.66C132.71 151.49 131.52 153.28 130.18 154.70C128.84 156.12 127.14 157.34 125.37 158.19C123.61 159.03 121.51 159.80 119.60 159.77C117.69 159.75 115.71 158.81 113.89 158.02C112.08 157.22 110.16 156.36 108.73 155.00C107.31 153.64 106.06 151.72 105.34 149.84C104.63 147.95 104.41 145.72 104.46 143.70C104.52 141.68 104.95 139.58 105.68 137.70C106.40 135.83 107.45 133.93 108.79 132.46C110.13 131.00 111.90 129.72 113.70 128.89C115.50 128.06 117.64 127.48 119.60 127.49C121.56 127.50 123.65 128.14 125.48 128.95C127.30 129.75 129.21 130.86 130.55 132.31C131.90 133.77 132.90 135.79 133.57 137.69C134.23 139.58 134.57 141.70 134.55 143.70Z"/></clipPath>
<path d="M134.55 143.70C134.52 145.70 134.17 147.83 133.44 149.66C132.71 151.49 131.52 153.28 130.18 154.70C128.84 156.12 127.14 157.34 125.37 158.19C123.61 159.03 121.51 159.80 119.60 159.77C117.69 159.75 115.71 158.81 113.89 158.02C112.08 157.22 110.16 156.36 108.73 155.00C107.31 153.64 106.06 151.72 105.34 149.84C104.63 147.95 104.41 145.72 104.46 143.70C104.52 141.68 104.95 139.58 105.68 137.70C106.40 135.83 107.45 133.93 108.79 132.46C110.13 131.00 111.90 129.72 113.70 128.89C115.50 128.06 117.64 127.48 119.60 127.49C121.56 127.50 123.65 128.14 125.48 128.95C127.30 129.75 129.21 130.86 130.55 132.31C131.90 133.77 132.90 135.79 133.57 137.69C134.23 139.58 134.57 141.70 134.55 143.70Z" fill="url(#gPinkS)" filter="url(#blur1)"/>
<g clip-path="url(#cc7)" filter="url(#blurS)"><ellipse cx="110.6" cy="145.7" rx="2.1" ry="1.6" fill="#f4e0f0" fill-opacity="0.6"/><ellipse cx="124.4" cy="157.0" rx="3.0" ry="3.0" fill="#f4e0f0" fill-opacity="0.6"/><ellipse cx="128.1" cy="142.5" rx="2.0" ry="1.8" fill="#f4e0f0" fill-opacity="0.6"/><ellipse cx="122.1" cy="155.3" rx="2.1" ry="2.0" fill="#f4e0f0" fill-opacity="0.6"/><ellipse cx="117.2" cy="133.8" rx="1.6" ry="1.2" fill="#f4e0f0" fill-opacity="0.6"/><ellipse cx="122.3" cy="155.1" rx="1.0" ry="0.9" fill="#ffffff" fill-opacity="0.3"/><ellipse cx="127.7" cy="156.7" rx="1.2" ry="0.7" fill="#ffffff" fill-opacity="0.3"/><ellipse cx="110.4" cy="138.7" rx="1.4" ry="1.3" fill="#ffffff" fill-opacity="0.3"/><ellipse cx="107.7" cy="155.6" rx="1.7" ry="1.5" fill="#ffffff" fill-opacity="0.3"/></g>
<path d="M134.55 143.70C134.52 145.70 134.17 147.83 133.44 149.66C132.71 151.49 131.52 153.28 130.18 154.70C128.84 156.12 127.14 157.34 125.37 158.19C123.61 159.03 121.51 159.80 119.60 159.77C117.69 159.75 115.71 158.81 113.89 158.02C112.08 157.22 110.16 156.36 108.73 155.00C107.31 153.64 106.06 151.72 105.34 149.84C104.63 147.95 104.41 145.72 104.46 143.70C104.52 141.68 104.95 139.58 105.68 137.70C106.40 135.83 107.45 133.93 108.79 132.46C110.13 131.00 111.90 129.72 113.70 128.89C115.50 128.06 117.64 127.48 119.60 127.49C121.56 127.50 123.65 128.14 125.48 128.95C127.30 129.75 129.21 130.86 130.55 132.31C131.90 133.77 132.90 135.79 133.57 137.69C134.23 139.58 134.57 141.70 134.55 143.70Z" fill="none" stroke="#d8a0d8" stroke-width="1.0" stroke-opacity="0.5" filter="url(#blur1)"/>
<clipPath id="cc8"><path d="M129.19 141.30C129.22 142.42 128.87 143.66 128.40 144.70C127.94 145.73 127.27 146.84 126.41 147.51C125.55 148.17 124.29 148.22 123.26 148.68C122.22 149.13 121.22 150.24 120.20 150.25C119.18 150.26 118.19 149.16 117.12 148.74C116.04 148.32 114.63 148.41 113.75 147.75C112.88 147.08 112.31 145.82 111.87 144.75C111.43 143.67 111.12 142.45 111.11 141.30C111.10 140.15 111.33 138.87 111.80 137.82C112.27 136.77 113.05 135.75 113.90 135.00C114.75 134.26 115.85 133.74 116.90 133.34C117.95 132.94 119.06 132.72 120.20 132.61C121.34 132.50 122.76 132.24 123.77 132.68C124.78 133.12 125.53 134.34 126.28 135.22C127.03 136.10 127.77 136.95 128.26 137.96C128.74 138.98 129.17 140.18 129.19 141.30Z"/></clipPath>
<path d="M129.19 141.30C129.22 142.42 128.87 143.66 128.40 144.70C127.94 145.73 127.27 146.84 126.41 147.51C125.55 148.17 124.29 148.22 123.26 148.68C122.22 149.13 121.22 150.24 120.20 150.25C119.18 150.26 118.19 149.16 117.12 148.74C116.04 148.32 114.63 148.41 113.75 147.75C112.88 147.08 112.31 145.82 111.87 144.75C111.43 143.67 111.12 142.45 111.11 141.30C111.10 140.15 111.33 138.87 111.80 137.82C112.27 136.77 113.05 135.75 113.90 135.00C114.75 134.26 115.85 133.74 116.90 133.34C117.95 132.94 119.06 132.72 120.20 132.61C121.34 132.50 122.76 132.24 123.77 132.68C124.78 133.12 125.53 134.34 126.28 135.22C127.03 136.10 127.77 136.95 128.26 137.96C128.74 138.98 129.17 140.18 129.19 141.30Z" fill="url(#gNuc)" filter="url(#blur1)"/>
<g clip-path="url(#cc8)" filter="url(#blurS)"><ellipse cx="119.4" cy="142.4" rx="1.7" ry="1.3" fill="#8a70d8" fill-opacity="0.4"/><ellipse cx="121.4" cy="139.5" rx="1.6" ry="1.4" fill="#8a70d8" fill-opacity="0.4"/><ellipse cx="116.0" cy="141.6" rx="1.0" ry="0.7" fill="#8a70d8" fill-opacity="0.4"/><ellipse cx="114.7" cy="139.3" rx="0.8" ry="0.9" fill="#8a70d8" fill-opacity="0.4"/><ellipse cx="124.4" cy="134.9" rx="1.3" ry="1.1" fill="#8a70d8" fill-opacity="0.4"/><ellipse cx="118.8" cy="135.6" rx="1.7" ry="1.4" fill="#8a70d8" fill-opacity="0.4"/><ellipse cx="126.2" cy="140.1" rx="1.0" ry="0.8" fill="#8a70d8" fill-opacity="0.4"/><ellipse cx="116.6" cy="145.6" rx="1.6" ry="1.8" fill="#8a70d8" fill-opacity="0.4"/><ellipse cx="116.9" cy="138.6" rx="1.2" ry="1.3" fill="#302080" fill-opacity="0.3"/><ellipse cx="123.1" cy="146.1" rx="1.4" ry="1.3" fill="#302080" fill-opacity="0.3"/><ellipse cx="122.9" cy="145.0" rx="1.0" ry="1.1" fill="#302080" fill-opacity="0.3"/><ellipse cx="120.7" cy="143.3" rx="1.3" ry="1.4" fill="#302080" fill-opacity="0.3"/><ellipse cx="114.3" cy="135.6" rx="1.0" ry="0.7" fill="#302080" fill-opacity="0.3"/></g>
<clipPath id="cc9"><path d="M173.65 145.20C173.65 147.26 173.11 149.52 172.29 151.39C171.48 153.26 170.16 154.98 168.77 156.43C167.38 157.87 165.72 159.24 163.94 160.04C162.16 160.84 160.05 161.24 158.10 161.23C156.15 161.23 154.08 160.80 152.26 160.03C150.44 159.27 148.55 158.13 147.20 156.67C145.86 155.20 144.95 153.18 144.18 151.27C143.42 149.36 142.63 147.22 142.62 145.20C142.62 143.18 143.38 141.02 144.16 139.12C144.94 137.23 145.97 135.33 147.31 133.84C148.64 132.35 150.38 130.98 152.18 130.17C153.98 129.36 156.15 128.92 158.10 128.97C160.05 129.02 162.07 129.68 163.91 130.45C165.75 131.22 167.75 132.15 169.15 133.57C170.55 135.00 171.55 137.07 172.30 139.01C173.05 140.95 173.65 143.14 173.65 145.20Z"/></clipPath>
<path d="M173.65 145.20C173.65 147.26 173.11 149.52 172.29 151.39C171.48 153.26 170.16 154.98 168.77 156.43C167.38 157.87 165.72 159.24 163.94 160.04C162.16 160.84 160.05 161.24 158.10 161.23C156.15 161.23 154.08 160.80 152.26 160.03C150.44 159.27 148.55 158.13 147.20 156.67C145.86 155.20 144.95 153.18 144.18 151.27C143.42 149.36 142.63 147.22 142.62 145.20C142.62 143.18 143.38 141.02 144.16 139.12C144.94 137.23 145.97 135.33 147.31 133.84C148.64 132.35 150.38 130.98 152.18 130.17C153.98 129.36 156.15 128.92 158.10 128.97C160.05 129.02 162.07 129.68 163.91 130.45C165.75 131.22 167.75 132.15 169.15 133.57C170.55 135.00 171.55 137.07 172.30 139.01C173.05 140.95 173.65 143.14 173.65 145.20Z" fill="url(#gLav)" filter="url(#blur1)"/>
<g clip-path="url(#cc9)" filter="url(#blurS)"><ellipse cx="144.7" cy="155.6" rx="1.4" ry="1.4" fill="#ffffff" fill-opacity="0.55"/><ellipse cx="157.7" cy="153.3" rx="2.4" ry="2.7" fill="#ffffff" fill-opacity="0.55"/><ellipse cx="158.7" cy="158.2" rx="2.5" ry="2.5" fill="#ffffff" fill-opacity="0.55"/><ellipse cx="165.2" cy="136.0" rx="2.4" ry="2.9" fill="#ffffff" fill-opacity="0.55"/><ellipse cx="169.2" cy="134.3" rx="1.6" ry="1.9" fill="#ffffff" fill-opacity="0.55"/><ellipse cx="147.1" cy="139.8" rx="2.1" ry="2.0" fill="#ffffff" fill-opacity="0.55"/><ellipse cx="152.4" cy="151.3" rx="1.0" ry="1.1" fill="#ffffff" fill-opacity="0.55"/><ellipse cx="160.4" cy="131.5" rx="2.0" ry="1.7" fill="#ffffff" fill-opacity="0.55"/><ellipse cx="160.8" cy="144.3" rx="1.5" ry="1.2" fill="#ffffff" fill-opacity="0.55"/><ellipse cx="159.1" cy="135.6" rx="1.8" ry="2.1" fill="#ffffff" fill-opacity="0.55"/><ellipse cx="145.1" cy="148.0" rx="1.9" ry="1.6" fill="#c8a8dc" fill-opacity="0.35"/><ellipse cx="153.5" cy="146.7" rx="1.0" ry="0.6" fill="#c8a8dc" fill-opacity="0.35"/><ellipse cx="166.3" cy="146.1" rx="1.9" ry="1.5" fill="#c8a8dc" fill-opacity="0.35"/><ellipse cx="162.1" cy="135.8" rx="1.5" ry="1.1" fill="#c8a8dc" fill-opacity="0.35"/><ellipse cx="153.5" cy="141.3" rx="1.2" ry="1.4" fill="#c8a8dc" fill-opacity="0.35"/><ellipse cx="156.9" cy="131.8" rx="1.6" ry="1.3" fill="#c8a8dc" fill-opacity="0.35"/><ellipse cx="159.9" cy="138.4" rx="0.9" ry="0.7" fill="#c8a8dc" fill-opacity="0.35"/><ellipse cx="158.8" cy="157.6" rx="1.9" ry="2.1" fill="#c8a8dc" fill-opacity="0.35"/><ellipse cx="151.1" cy="158.6" rx="1.7" ry="1.7" fill="#ffffff" fill-opacity="0.5"/><ellipse cx="148.7" cy="143.1" rx="1.3" ry="1.6" fill="#ffffff" fill-opacity="0.5"/><ellipse cx="150.0" cy="141.1" rx="1.5" ry="1.3" fill="#ffffff" fill-opacity="0.5"/><ellipse cx="153.6" cy="146.3" rx="2.1" ry="2.4" fill="#ffffff" fill-opacity="0.5"/><ellipse cx="164.4" cy="150.4" rx="1.2" ry="1.1" fill="#ffffff" fill-opacity="0.5"/><ellipse cx="171.3" cy="136.1" rx="1.3" ry="1.4" fill="#ffffff" fill-opacity="0.5"/><ellipse cx="157.3" cy="150.9" rx="1.6" ry="1.0" fill="#ffffff" fill-opacity="0.5"/><ellipse cx="147.5" cy="142.1" rx="2.0" ry="1.8" fill="#ffffff" fill-opacity="0.5"/></g>
<path d="M173.65 145.20C173.65 147.26 173.11 149.52 172.29 151.39C171.48 153.26 170.16 154.98 168.77 156.43C167.38 157.87 165.72 159.24 163.94 160.04C162.16 160.84 160.05 161.24 158.10 161.23C156.15 161.23 154.08 160.80 152.26 160.03C150.44 159.27 148.55 158.13 147.20 156.67C145.86 155.20 144.95 153.18 144.18 151.27C143.42 149.36 142.63 147.22 142.62 145.20C142.62 143.18 143.38 141.02 144.16 139.12C144.94 137.23 145.97 135.33 147.31 133.84C148.64 132.35 150.38 130.98 152.18 130.17C153.98 129.36 156.15 128.92 158.10 128.97C160.05 129.02 162.07 129.68 163.91 130.45C165.75 131.22 167.75 132.15 169.15 133.57C170.55 135.00 171.55 137.07 172.30 139.01C173.05 140.95 173.65 143.14 173.65 145.20Z" fill="none" stroke="#d4b8e4" stroke-width="1.0" stroke-opacity="0.5" filter="url(#blur1)"/>
<clipPath id="cc10"><path d="M91.25 179.40C91.22 180.81 90.92 182.32 90.36 183.61C89.81 184.90 88.94 186.18 87.93 187.13C86.92 188.07 85.58 188.74 84.29 189.29C83.01 189.83 81.59 190.34 80.20 190.40C78.81 190.47 77.26 190.20 75.94 189.68C74.63 189.15 73.30 188.29 72.32 187.28C71.35 186.26 70.67 184.90 70.10 183.58C69.53 182.27 68.96 180.82 68.91 179.40C68.86 177.98 69.21 176.39 69.80 175.09C70.39 173.80 71.41 172.62 72.44 171.64C73.48 170.67 74.71 169.82 76.00 169.26C77.29 168.69 78.80 168.27 80.20 168.27C81.60 168.28 83.10 168.71 84.40 169.27C85.70 169.82 86.98 170.62 88.00 171.60C89.02 172.58 89.97 173.83 90.51 175.13C91.05 176.43 91.27 177.99 91.25 179.40Z"/></clipPath>
<path d="M91.25 179.40C91.22 180.81 90.92 182.32 90.36 183.61C89.81 184.90 88.94 186.18 87.93 187.13C86.92 188.07 85.58 188.74 84.29 189.29C83.01 189.83 81.59 190.34 80.20 190.40C78.81 190.47 77.26 190.20 75.94 189.68C74.63 189.15 73.30 188.29 72.32 187.28C71.35 186.26 70.67 184.90 70.10 183.58C69.53 182.27 68.96 180.82 68.91 179.40C68.86 177.98 69.21 176.39 69.80 175.09C70.39 173.80 71.41 172.62 72.44 171.64C73.48 170.67 74.71 169.82 76.00 169.26C77.29 168.69 78.80 168.27 80.20 168.27C81.60 168.28 83.10 168.71 84.40 169.27C85.70 169.82 86.98 170.62 88.00 171.60C89.02 172.58 89.97 173.83 90.51 175.13C91.05 176.43 91.27 177.99 91.25 179.40Z" fill="url(#gLav)" filter="url(#blur1)"/>
<g clip-path="url(#cc10)" filter="url(#blurS)"><ellipse cx="77.1" cy="178.6" rx="2.5" ry="2.9" fill="#ffffff" fill-opacity="0.55"/><ellipse cx="72.7" cy="170.3" rx="1.7" ry="2.0" fill="#ffffff" fill-opacity="0.55"/><ellipse cx="85.8" cy="186.7" rx="2.3" ry="1.6" fill="#ffffff" fill-opacity="0.55"/><ellipse cx="88.9" cy="176.8" rx="1.0" ry="0.6" fill="#ffffff" fill-opacity="0.55"/><ellipse cx="71.4" cy="180.8" rx="1.9" ry="1.3" fill="#ffffff" fill-opacity="0.55"/><ellipse cx="83.4" cy="173.2" rx="1.7" ry="1.3" fill="#ffffff" fill-opacity="0.55"/><ellipse cx="86.6" cy="175.0" rx="2.5" ry="3.0" fill="#ffffff" fill-opacity="0.55"/><ellipse cx="74.9" cy="171.7" rx="2.1" ry="1.5" fill="#ffffff" fill-opacity="0.55"/><ellipse cx="84.7" cy="176.6" rx="1.2" ry="1.2" fill="#ffffff" fill-opacity="0.55"/><ellipse cx="86.2" cy="178.8" rx="1.2" ry="0.8" fill="#ffffff" fill-opacity="0.55"/><ellipse cx="76.0" cy="185.6" rx="1.0" ry="1.0" fill="#c8a8dc" fill-opacity="0.35"/><ellipse cx="81.2" cy="172.5" rx="1.6" ry="1.4" fill="#c8a8dc" fill-opacity="0.35"/><ellipse cx="86.5" cy="173.8" rx="1.2" ry="0.8" fill="#c8a8dc" fill-opacity="0.35"/><ellipse cx="80.6" cy="173.0" rx="1.8" ry="1.5" fill="#c8a8dc" fill-opacity="0.35"/><ellipse cx="74.0" cy="187.6" rx="0.9" ry="0.9" fill="#c8a8dc" fill-opacity="0.35"/><ellipse cx="79.9" cy="185.8" rx="1.2" ry="1.4" fill="#c8a8dc" fill-opacity="0.35"/><ellipse cx="80.9" cy="184.8" rx="1.1" ry="0.7" fill="#c8a8dc" fill-opacity="0.35"/><ellipse cx="76.1" cy="179.1" rx="1.1" ry="0.9" fill="#c8a8dc" fill-opacity="0.35"/></g>
<path d="M91.25 179.40C91.22 180.81 90.92 182.32 90.36 183.61C89.81 184.90 88.94 186.18 87.93 187.13C86.92 188.07 85.58 188.74 84.29 189.29C83.01 189.83 81.59 190.34 80.20 190.40C78.81 190.47 77.26 190.20 75.94 189.68C74.63 189.15 73.30 188.29 72.32 187.28C71.35 186.26 70.67 184.90 70.10 183.58C69.53 182.27 68.96 180.82 68.91 179.40C68.86 177.98 69.21 176.39 69.80 175.09C70.39 173.80 71.41 172.62 72.44 171.64C73.48 170.67 74.71 169.82 76.00 169.26C77.29 168.69 78.80 168.27 80.20 168.27C81.60 168.28 83.10 168.71 84.40 169.27C85.70 169.82 86.98 170.62 88.00 171.60C89.02 172.58 89.97 173.83 90.51 175.13C91.05 176.43 91.27 177.99 91.25 179.40Z" fill="none" stroke="#c8a8dc" stroke-width="1.0" stroke-opacity="0.6" filter="url(#blur1)"/>
<clipPath id="cc11"><path d="M90.75 209.80C90.69 211.28 90.28 212.74 89.82 214.15C89.35 215.56 88.84 217.13 87.94 218.26C87.04 219.39 85.70 220.32 84.41 220.91C83.12 221.49 81.59 221.83 80.20 221.79C78.81 221.74 77.36 221.25 76.09 220.65C74.82 220.04 73.54 219.19 72.57 218.14C71.60 217.08 70.81 215.69 70.26 214.30C69.70 212.91 69.25 211.31 69.22 209.80C69.20 208.29 69.56 206.63 70.12 205.24C70.67 203.85 71.57 202.52 72.56 201.45C73.54 200.38 74.76 199.41 76.03 198.81C77.31 198.20 78.81 197.80 80.20 197.81C81.59 197.81 83.10 198.22 84.35 198.85C85.61 199.48 86.77 200.49 87.74 201.56C88.71 202.64 89.67 203.92 90.17 205.29C90.67 206.66 90.81 208.32 90.75 209.80Z"/></clipPath>
<path d="M90.75 209.80C90.69 211.28 90.28 212.74 89.82 214.15C89.35 215.56 88.84 217.13 87.94 218.26C87.04 219.39 85.70 220.32 84.41 220.91C83.12 221.49 81.59 221.83 80.20 221.79C78.81 221.74 77.36 221.25 76.09 220.65C74.82 220.04 73.54 219.19 72.57 218.14C71.60 217.08 70.81 215.69 70.26 214.30C69.70 212.91 69.25 211.31 69.22 209.80C69.20 208.29 69.56 206.63 70.12 205.24C70.67 203.85 71.57 202.52 72.56 201.45C73.54 200.38 74.76 199.41 76.03 198.81C77.31 198.20 78.81 197.80 80.20 197.81C81.59 197.81 83.10 198.22 84.35 198.85C85.61 199.48 86.77 200.49 87.74 201.56C88.71 202.64 89.67 203.92 90.17 205.29C90.67 206.66 90.81 208.32 90.75 209.80Z" fill="url(#gLav)" filter="url(#blur1)"/>
<g clip-path="url(#cc11)" filter="url(#blurS)"><ellipse cx="74.4" cy="207.8" rx="2.4" ry="2.0" fill="#ffffff" fill-opacity="0.55"/><ellipse cx="83.2" cy="210.0" rx="1.9" ry="2.1" fill="#ffffff" fill-opacity="0.55"/><ellipse cx="75.5" cy="202.6" rx="1.5" ry="1.3" fill="#ffffff" fill-opacity="0.55"/><ellipse cx="82.7" cy="218.5" rx="1.3" ry="1.0" fill="#ffffff" fill-opacity="0.55"/><ellipse cx="74.7" cy="209.5" rx="1.4" ry="1.5" fill="#ffffff" fill-opacity="0.55"/><ellipse cx="87.3" cy="212.5" rx="1.0" ry="0.9" fill="#ffffff" fill-opacity="0.55"/><ellipse cx="81.0" cy="205.3" rx="1.6" ry="1.4" fill="#ffffff" fill-opacity="0.55"/><ellipse cx="74.1" cy="201.5" rx="1.8" ry="1.9" fill="#ffffff" fill-opacity="0.55"/><ellipse cx="76.2" cy="212.1" rx="1.1" ry="1.2" fill="#ffffff" fill-opacity="0.55"/><ellipse cx="87.0" cy="218.3" rx="1.5" ry="1.3" fill="#ffffff" fill-opacity="0.55"/><ellipse cx="74.7" cy="203.0" rx="1.1" ry="1.0" fill="#c8a8dc" fill-opacity="0.35"/><ellipse cx="87.5" cy="210.7" rx="1.0" ry="0.9" fill="#c8a8dc" fill-opacity="0.35"/><ellipse cx="83.9" cy="206.2" rx="1.3" ry="1.1" fill="#c8a8dc" fill-opacity="0.35"/><ellipse cx="80.8" cy="217.0" rx="1.8" ry="1.5" fill="#c8a8dc" fill-opacity="0.35"/><ellipse cx="73.6" cy="202.5" rx="0.9" ry="0.7" fill="#c8a8dc" fill-opacity="0.35"/><ellipse cx="75.4" cy="199.9" rx="1.7" ry="1.9" fill="#c8a8dc" fill-opacity="0.35"/><ellipse cx="83.2" cy="217.8" rx="1.4" ry="1.0" fill="#c8a8dc" fill-opacity="0.35"/><ellipse cx="78.6" cy="202.4" rx="0.9" ry="0.9" fill="#c8a8dc" fill-opacity="0.35"/></g>
<path d="M90.75 209.80C90.69 211.28 90.28 212.74 89.82 214.15C89.35 215.56 88.84 217.13 87.94 218.26C87.04 219.39 85.70 220.32 84.41 220.91C83.12 221.49 81.59 221.83 80.20 221.79C78.81 221.74 77.36 221.25 76.09 220.65C74.82 220.04 73.54 219.19 72.57 218.14C71.60 217.08 70.81 215.69 70.26 214.30C69.70 212.91 69.25 211.31 69.22 209.80C69.20 208.29 69.56 206.63 70.12 205.24C70.67 203.85 71.57 202.52 72.56 201.45C73.54 200.38 74.76 199.41 76.03 198.81C77.31 198.20 78.81 197.80 80.20 197.81C81.59 197.81 83.10 198.22 84.35 198.85C85.61 199.48 86.77 200.49 87.74 201.56C88.71 202.64 89.67 203.92 90.17 205.29C90.67 206.66 90.81 208.32 90.75 209.80Z" fill="none" stroke="#c8a8dc" stroke-width="1.0" stroke-opacity="0.6" filter="url(#blur1)"/>
<g clip-path="url(#clipBR)">
<clipPath id="cc12"><path d="M118.06 187.80C118.12 189.47 117.71 191.32 117.18 192.90C116.65 194.47 115.86 196.09 114.88 197.24C113.90 198.40 112.57 199.19 111.30 199.84C110.04 200.49 108.64 201.12 107.30 201.14C105.96 201.16 104.50 200.64 103.25 199.97C102.01 199.30 100.80 198.29 99.82 197.11C98.84 195.94 97.89 194.47 97.38 192.92C96.86 191.37 96.71 189.48 96.76 187.80C96.80 186.12 97.14 184.37 97.66 182.83C98.17 181.28 98.91 179.69 99.85 178.52C100.79 177.34 102.06 176.38 103.30 175.78C104.54 175.18 105.96 174.92 107.30 174.89C108.64 174.87 110.09 175.04 111.35 175.63C112.60 176.21 113.92 177.21 114.83 178.42C115.75 179.63 116.30 181.32 116.84 182.88C117.38 184.44 118.00 186.13 118.06 187.80Z"/></clipPath>
<path d="M118.06 187.80C118.12 189.47 117.71 191.32 117.18 192.90C116.65 194.47 115.86 196.09 114.88 197.24C113.90 198.40 112.57 199.19 111.30 199.84C110.04 200.49 108.64 201.12 107.30 201.14C105.96 201.16 104.50 200.64 103.25 199.97C102.01 199.30 100.80 198.29 99.82 197.11C98.84 195.94 97.89 194.47 97.38 192.92C96.86 191.37 96.71 189.48 96.76 187.80C96.80 186.12 97.14 184.37 97.66 182.83C98.17 181.28 98.91 179.69 99.85 178.52C100.79 177.34 102.06 176.38 103.30 175.78C104.54 175.18 105.96 174.92 107.30 174.89C108.64 174.87 110.09 175.04 111.35 175.63C112.60 176.21 113.92 177.21 114.83 178.42C115.75 179.63 116.30 181.32 116.84 182.88C117.38 184.44 118.00 186.13 118.06 187.80Z" fill="url(#gPink)" filter="url(#blur1)"/>
<g clip-path="url(#cc12)" filter="url(#blurS)"><ellipse cx="110.9" cy="191.6" rx="1.1" ry="1.1" fill="#ffffff" fill-opacity="0.35"/><ellipse cx="104.3" cy="186.9" rx="2.4" ry="1.5" fill="#ffffff" fill-opacity="0.35"/><ellipse cx="101.9" cy="179.3" rx="2.2" ry="2.2" fill="#ffffff" fill-opacity="0.35"/><ellipse cx="103.0" cy="179.8" rx="2.0" ry="1.4" fill="#ffffff" fill-opacity="0.35"/><ellipse cx="103.6" cy="192.6" rx="1.1" ry="0.9" fill="#ffffff" fill-opacity="0.35"/><ellipse cx="107.5" cy="190.9" rx="1.6" ry="1.9" fill="#ffffff" fill-opacity="0.35"/><ellipse cx="112.0" cy="177.0" rx="1.2" ry="0.7" fill="#d8a0d6" fill-opacity="0.3"/><ellipse cx="113.3" cy="179.3" rx="1.2" ry="1.3" fill="#d8a0d6" fill-opacity="0.3"/><ellipse cx="105.4" cy="177.5" rx="1.1" ry="0.9" fill="#d8a0d6" fill-opacity="0.3"/><ellipse cx="108.5" cy="193.9" rx="1.5" ry="0.9" fill="#d8a0d6" fill-opacity="0.3"/><ellipse cx="113.4" cy="186.0" rx="1.7" ry="1.3" fill="#d8a0d6" fill-opacity="0.3"/><ellipse cx="99.4" cy="184.8" rx="1.8" ry="2.1" fill="#d8a0d6" fill-opacity="0.3"/></g>
<path d="M118.06 187.80C118.12 189.47 117.71 191.32 117.18 192.90C116.65 194.47 115.86 196.09 114.88 197.24C113.90 198.40 112.57 199.19 111.30 199.84C110.04 200.49 108.64 201.12 107.30 201.14C105.96 201.16 104.50 200.64 103.25 199.97C102.01 199.30 100.80 198.29 99.82 197.11C98.84 195.94 97.89 194.47 97.38 192.92C96.86 191.37 96.71 189.48 96.76 187.80C96.80 186.12 97.14 184.37 97.66 182.83C98.17 181.28 98.91 179.69 99.85 178.52C100.79 177.34 102.06 176.38 103.30 175.78C104.54 175.18 105.96 174.92 107.30 174.89C108.64 174.87 110.09 175.04 111.35 175.63C112.60 176.21 113.92 177.21 114.83 178.42C115.75 179.63 116.30 181.32 116.84 182.88C117.38 184.44 118.00 186.13 118.06 187.80Z" fill="none" stroke="#d8a8d8" stroke-width="1.0" stroke-opacity="0.5" filter="url(#blur1)"/>
<clipPath id="cc13"><path d="M177.02 187.20C177.06 189.59 176.77 192.20 175.88 194.41C174.99 196.62 173.42 198.78 171.70 200.46C169.97 202.13 167.76 203.52 165.53 204.46C163.29 205.39 160.73 206.02 158.30 206.07C155.87 206.12 153.19 205.69 150.95 204.76C148.71 203.83 146.53 202.24 144.87 200.49C143.21 198.75 141.94 196.51 141.00 194.29C140.05 192.08 139.23 189.57 139.21 187.20C139.18 184.83 139.93 182.29 140.84 180.05C141.76 177.80 143.00 175.44 144.70 173.75C146.41 172.06 148.79 170.82 151.06 169.90C153.32 168.98 155.90 168.21 158.30 168.24C160.70 168.27 163.18 169.17 165.47 170.07C167.75 170.97 170.31 171.97 172.01 173.63C173.71 175.30 174.85 177.81 175.68 180.08C176.52 182.34 176.99 184.81 177.02 187.20Z"/></clipPath>
<path d="M177.02 187.20C177.06 189.59 176.77 192.20 175.88 194.41C174.99 196.62 173.42 198.78 171.70 200.46C169.97 202.13 167.76 203.52 165.53 204.46C163.29 205.39 160.73 206.02 158.30 206.07C155.87 206.12 153.19 205.69 150.95 204.76C148.71 203.83 146.53 202.24 144.87 200.49C143.21 198.75 141.94 196.51 141.00 194.29C140.05 192.08 139.23 189.57 139.21 187.20C139.18 184.83 139.93 182.29 140.84 180.05C141.76 177.80 143.00 175.44 144.70 173.75C146.41 172.06 148.79 170.82 151.06 169.90C153.32 168.98 155.90 168.21 158.30 168.24C160.70 168.27 163.18 169.17 165.47 170.07C167.75 170.97 170.31 171.97 172.01 173.63C173.71 175.30 174.85 177.81 175.68 180.08C176.52 182.34 176.99 184.81 177.02 187.20Z" fill="url(#gLav)" filter="url(#blur1)"/>
<g clip-path="url(#cc13)" filter="url(#blurS)"><ellipse cx="157.6" cy="178.7" rx="2.2" ry="2.1" fill="#ffffff" fill-opacity="0.55"/><ellipse cx="172.7" cy="171.6" rx="2.3" ry="2.1" fill="#ffffff" fill-opacity="0.55"/><ellipse cx="156.0" cy="186.6" rx="1.2" ry="0.8" fill="#ffffff" fill-opacity="0.55"/><ellipse cx="166.1" cy="192.9" rx="1.6" ry="1.5" fill="#ffffff" fill-opacity="0.55"/><ellipse cx="154.6" cy="184.0" rx="1.3" ry="1.5" fill="#ffffff" fill-opacity="0.55"/><ellipse cx="158.9" cy="191.4" rx="2.0" ry="1.4" fill="#ffffff" fill-opacity="0.55"/><ellipse cx="145.7" cy="190.0" rx="1.9" ry="1.9" fill="#ffffff" fill-opacity="0.55"/><ellipse cx="152.8" cy="179.8" rx="2.2" ry="1.7" fill="#ffffff" fill-opacity="0.55"/><ellipse cx="145.5" cy="180.3" rx="1.2" ry="1.1" fill="#ffffff" fill-opacity="0.55"/><ellipse cx="172.2" cy="197.8" rx="1.7" ry="2.1" fill="#ffffff" fill-opacity="0.55"/><ellipse cx="159.3" cy="182.3" rx="1.4" ry="1.6" fill="#c8a8dc" fill-opacity="0.35"/><ellipse cx="148.9" cy="182.8" rx="1.0" ry="1.1" fill="#c8a8dc" fill-opacity="0.35"/><ellipse cx="143.1" cy="176.7" rx="0.9" ry="0.7" fill="#c8a8dc" fill-opacity="0.35"/><ellipse cx="147.5" cy="177.5" rx="1.7" ry="1.7" fill="#c8a8dc" fill-opacity="0.35"/><ellipse cx="150.8" cy="172.5" rx="1.4" ry="0.8" fill="#c8a8dc" fill-opacity="0.35"/><ellipse cx="168.8" cy="202.9" rx="1.2" ry="1.2" fill="#c8a8dc" fill-opacity="0.35"/><ellipse cx="150.8" cy="196.1" rx="0.8" ry="0.7" fill="#c8a8dc" fill-opacity="0.35"/><ellipse cx="161.8" cy="187.0" rx="0.9" ry="0.7" fill="#c8a8dc" fill-opacity="0.35"/><ellipse cx="145.8" cy="181.1" rx="1.5" ry="1.2" fill="#ffffff" fill-opacity="0.5"/><ellipse cx="156.5" cy="193.8" rx="1.4" ry="1.2" fill="#ffffff" fill-opacity="0.5"/><ellipse cx="153.6" cy="174.6" rx="1.2" ry="0.7" fill="#ffffff" fill-opacity="0.5"/><ellipse cx="145.3" cy="199.5" rx="1.0" ry="1.1" fill="#ffffff" fill-opacity="0.5"/><ellipse cx="170.7" cy="187.8" rx="1.1" ry="1.1" fill="#ffffff" fill-opacity="0.5"/><ellipse cx="155.3" cy="186.9" rx="2.2" ry="1.4" fill="#ffffff" fill-opacity="0.5"/><ellipse cx="151.1" cy="195.3" rx="2.2" ry="2.6" fill="#ffffff" fill-opacity="0.5"/><ellipse cx="147.3" cy="181.7" rx="1.3" ry="1.6" fill="#ffffff" fill-opacity="0.5"/></g>
<path d="M177.02 187.20C177.06 189.59 176.77 192.20 175.88 194.41C174.99 196.62 173.42 198.78 171.70 200.46C169.97 202.13 167.76 203.52 165.53 204.46C163.29 205.39 160.73 206.02 158.30 206.07C155.87 206.12 153.19 205.69 150.95 204.76C148.71 203.83 146.53 202.24 144.87 200.49C143.21 198.75 141.94 196.51 141.00 194.29C140.05 192.08 139.23 189.57 139.21 187.20C139.18 184.83 139.93 182.29 140.84 180.05C141.76 177.80 143.00 175.44 144.70 173.75C146.41 172.06 148.79 170.82 151.06 169.90C153.32 168.98 155.90 168.21 158.30 168.24C160.70 168.27 163.18 169.17 165.47 170.07C167.75 170.97 170.31 171.97 172.01 173.63C173.71 175.30 174.85 177.81 175.68 180.08C176.52 182.34 176.99 184.81 177.02 187.20Z" fill="none" stroke="#d0a4d8" stroke-width="1.0" stroke-opacity="0.6" filter="url(#blur1)"/>
<clipPath id="cc14"><path d="M144.43 207.60C144.45 209.67 144.09 211.92 143.36 213.84C142.63 215.76 141.42 217.64 140.06 219.10C138.69 220.57 136.94 221.83 135.17 222.63C133.39 223.43 131.32 223.91 129.40 223.91C127.48 223.91 125.42 223.41 123.64 222.62C121.85 221.83 120.05 220.63 118.68 219.17C117.32 217.70 116.21 215.76 115.46 213.83C114.71 211.91 114.18 209.67 114.20 207.60C114.21 205.53 114.80 203.32 115.56 201.41C116.32 199.50 117.42 197.58 118.77 196.12C120.12 194.67 121.91 193.45 123.68 192.70C125.45 191.95 127.51 191.59 129.40 191.63C131.29 191.67 133.24 192.20 135.02 192.94C136.80 193.68 138.72 194.65 140.09 196.07C141.45 197.48 142.49 199.50 143.21 201.42C143.94 203.35 144.40 205.53 144.43 207.60Z"/></clipPath>
<path d="M144.43 207.60C144.45 209.67 144.09 211.92 143.36 213.84C142.63 215.76 141.42 217.64 140.06 219.10C138.69 220.57 136.94 221.83 135.17 222.63C133.39 223.43 131.32 223.91 129.40 223.91C127.48 223.91 125.42 223.41 123.64 222.62C121.85 221.83 120.05 220.63 118.68 219.17C117.32 217.70 116.21 215.76 115.46 213.83C114.71 211.91 114.18 209.67 114.20 207.60C114.21 205.53 114.80 203.32 115.56 201.41C116.32 199.50 117.42 197.58 118.77 196.12C120.12 194.67 121.91 193.45 123.68 192.70C125.45 191.95 127.51 191.59 129.40 191.63C131.29 191.67 133.24 192.20 135.02 192.94C136.80 193.68 138.72 194.65 140.09 196.07C141.45 197.48 142.49 199.50 143.21 201.42C143.94 203.35 144.40 205.53 144.43 207.60Z" fill="url(#gLav)" filter="url(#blur1)"/>
<g clip-path="url(#cc14)" filter="url(#blurS)"><ellipse cx="129.4" cy="208.9" rx="1.2" ry="1.0" fill="#ffffff" fill-opacity="0.55"/><ellipse cx="131.4" cy="216.0" rx="1.2" ry="0.9" fill="#ffffff" fill-opacity="0.55"/><ellipse cx="140.9" cy="212.5" rx="2.2" ry="2.2" fill="#ffffff" fill-opacity="0.55"/><ellipse cx="121.8" cy="200.1" rx="1.4" ry="1.2" fill="#ffffff" fill-opacity="0.55"/><ellipse cx="131.0" cy="221.2" rx="2.3" ry="1.5" fill="#ffffff" fill-opacity="0.55"/><ellipse cx="138.6" cy="201.5" rx="1.4" ry="1.2" fill="#ffffff" fill-opacity="0.55"/><ellipse cx="136.6" cy="216.4" rx="2.2" ry="2.0" fill="#ffffff" fill-opacity="0.55"/><ellipse cx="120.7" cy="204.4" rx="2.0" ry="1.6" fill="#ffffff" fill-opacity="0.55"/><ellipse cx="122.5" cy="216.6" rx="1.0" ry="1.0" fill="#ffffff" fill-opacity="0.55"/><ellipse cx="141.6" cy="206.8" rx="2.2" ry="1.6" fill="#ffffff" fill-opacity="0.55"/><ellipse cx="139.9" cy="212.3" rx="1.5" ry="1.0" fill="#c8a8dc" fill-opacity="0.35"/><ellipse cx="135.5" cy="219.8" rx="0.9" ry="0.6" fill="#c8a8dc" fill-opacity="0.35"/><ellipse cx="141.8" cy="214.3" rx="1.2" ry="1.2" fill="#c8a8dc" fill-opacity="0.35"/><ellipse cx="122.3" cy="214.4" rx="1.4" ry="1.6" fill="#c8a8dc" fill-opacity="0.35"/><ellipse cx="128.6" cy="202.6" rx="1.0" ry="0.6" fill="#c8a8dc" fill-opacity="0.35"/><ellipse cx="124.0" cy="221.2" rx="0.9" ry="0.6" fill="#c8a8dc" fill-opacity="0.35"/><ellipse cx="124.4" cy="212.3" rx="1.2" ry="1.3" fill="#c8a8dc" fill-opacity="0.35"/><ellipse cx="136.2" cy="212.1" rx="1.6" ry="1.6" fill="#c8a8dc" fill-opacity="0.35"/><ellipse cx="131.3" cy="204.6" rx="4.0" ry="3.5" fill="#ffffff" fill-opacity="0.6"/><ellipse cx="140.7" cy="205.5" rx="3.5" ry="3.3" fill="#ffffff" fill-opacity="0.6"/><ellipse cx="117.4" cy="206.2" rx="3.2" ry="3.8" fill="#ffffff" fill-opacity="0.6"/></g>
<path d="M144.43 207.60C144.45 209.67 144.09 211.92 143.36 213.84C142.63 215.76 141.42 217.64 140.06 219.10C138.69 220.57 136.94 221.83 135.17 222.63C133.39 223.43 131.32 223.91 129.40 223.91C127.48 223.91 125.42 223.41 123.64 222.62C121.85 221.83 120.05 220.63 118.68 219.17C117.32 217.70 116.21 215.76 115.46 213.83C114.71 211.91 114.18 209.67 114.20 207.60C114.21 205.53 114.80 203.32 115.56 201.41C116.32 199.50 117.42 197.58 118.77 196.12C120.12 194.67 121.91 193.45 123.68 192.70C125.45 191.95 127.51 191.59 129.40 191.63C131.29 191.67 133.24 192.20 135.02 192.94C136.80 193.68 138.72 194.65 140.09 196.07C141.45 197.48 142.49 199.50 143.21 201.42C143.94 203.35 144.40 205.53 144.43 207.60Z" fill="none" stroke="#c8a8dc" stroke-width="1.0" stroke-opacity="0.6" filter="url(#blur1)"/>
<ellipse cx="127.2" cy="181.7" rx="9.8" ry="9.4" fill="#f8f0f8" stroke="#e4c8e6" stroke-width="1"/>
<clipPath id="cc15"><path d="M134.95 181.60C134.96 182.51 134.63 183.54 134.19 184.34C133.74 185.14 132.98 185.79 132.28 186.41C131.58 187.02 130.86 187.67 130.01 188.03C129.17 188.38 128.17 188.46 127.20 188.54C126.23 188.62 125.01 188.88 124.17 188.53C123.32 188.17 122.80 187.10 122.12 186.41C121.43 185.72 120.47 185.19 120.08 184.39C119.69 183.59 119.76 182.53 119.77 181.60C119.78 180.67 119.79 179.66 120.15 178.84C120.52 178.01 121.27 177.28 121.97 176.65C122.66 176.02 123.46 175.42 124.33 175.06C125.21 174.70 126.25 174.49 127.20 174.50C128.15 174.51 129.15 174.77 130.04 175.11C130.93 175.45 131.86 175.92 132.53 176.55C133.21 177.18 133.71 178.05 134.11 178.89C134.51 179.73 134.94 180.69 134.95 181.60Z"/></clipPath>
<path d="M134.95 181.60C134.96 182.51 134.63 183.54 134.19 184.34C133.74 185.14 132.98 185.79 132.28 186.41C131.58 187.02 130.86 187.67 130.01 188.03C129.17 188.38 128.17 188.46 127.20 188.54C126.23 188.62 125.01 188.88 124.17 188.53C123.32 188.17 122.80 187.10 122.12 186.41C121.43 185.72 120.47 185.19 120.08 184.39C119.69 183.59 119.76 182.53 119.77 181.60C119.78 180.67 119.79 179.66 120.15 178.84C120.52 178.01 121.27 177.28 121.97 176.65C122.66 176.02 123.46 175.42 124.33 175.06C125.21 174.70 126.25 174.49 127.20 174.50C128.15 174.51 129.15 174.77 130.04 175.11C130.93 175.45 131.86 175.92 132.53 176.55C133.21 177.18 133.71 178.05 134.11 178.89C134.51 179.73 134.94 180.69 134.95 181.60Z" fill="url(#gNuc)" filter="url(#blur1)"/>
<g clip-path="url(#cc15)" filter="url(#blurS)"><ellipse cx="129.9" cy="183.5" rx="1.6" ry="1.0" fill="#8a70d8" fill-opacity="0.35"/><ellipse cx="129.5" cy="185.8" rx="1.2" ry="0.9" fill="#8a70d8" fill-opacity="0.35"/><ellipse cx="128.5" cy="183.8" rx="0.9" ry="0.6" fill="#8a70d8" fill-opacity="0.35"/><ellipse cx="128.9" cy="176.9" rx="0.8" ry="0.7" fill="#8a70d8" fill-opacity="0.35"/><ellipse cx="124.1" cy="184.3" rx="1.4" ry="1.0" fill="#8a70d8" fill-opacity="0.35"/><ellipse cx="123.3" cy="180.2" rx="1.2" ry="1.1" fill="#8a70d8" fill-opacity="0.35"/></g>
</g>
<rect x="66.3" y="124.8" width="112.1" height="101.1" fill="none" stroke="#000" stroke-width="1.8"/>
<g fill="#000">
<rect x="100" y="124.8" width="1.9" height="40"/>
<rect x="137.8" y="124.8" width="1.7" height="40"/>
<rect x="66.3" y="163.8" width="112.1" height="1.9"/>
<rect x="92.9" y="164.7" width="1.7" height="61"/>
<rect x="66.3" y="192.9" width="27" height="1.9"/>
<rect x="143.1" y="220.8" width="30.7" height="1.9"/>
</g>
<text x="158.6" y="215.6" font-size="9.5" font-weight="bold" text-anchor="middle" fill="#000" >10µm</text>
<text x="179" y="15.6" font-size="18" font-weight="bold" text-anchor="start" fill="#000" >B</text>
<line x1="222.8" y1="179.98" x2="514" y2="179.98" stroke="#d4d4d4" stroke-width="1"/>
<line x1="222.8" y1="161.76" x2="514" y2="161.76" stroke="#d4d4d4" stroke-width="1"/>
<line x1="222.8" y1="143.54" x2="514" y2="143.54" stroke="#d4d4d4" stroke-width="1"/>
<line x1="222.8" y1="125.32" x2="514" y2="125.32" stroke="#d4d4d4" stroke-width="1"/>
<line x1="222.8" y1="107.10" x2="514" y2="107.10" stroke="#d4d4d4" stroke-width="1"/>
<line x1="222.8" y1="88.88" x2="514" y2="88.88" stroke="#d4d4d4" stroke-width="1"/>
<line x1="222.8" y1="70.66" x2="514" y2="70.66" stroke="#d4d4d4" stroke-width="1"/>
<line x1="222.8" y1="52.44" x2="514" y2="52.44" stroke="#d4d4d4" stroke-width="1"/>
<line x1="222.8" y1="34.22" x2="514" y2="34.22" stroke="#d4d4d4" stroke-width="1"/>
<line x1="222.8" y1="16.00" x2="514.2" y2="16.00" stroke="#707070" stroke-width="1.5"/>
<line x1="514.2" y1="16.00" x2="514.2" y2="198.20" stroke="#808080" stroke-width="1.4"/>
<line x1="222.8" y1="15.30" x2="222.8" y2="200.20" stroke="#8a8a8a" stroke-width="1.1"/>
<line x1="220.3" y1="198.20" x2="222.8" y2="198.20" stroke="#8a8a8a" stroke-width="1"/>
<text x="215.1" y="202.80" font-size="10" font-weight="bold" text-anchor="end" fill="#000" >0</text>
<line x1="220.3" y1="179.98" x2="222.8" y2="179.98" stroke="#8a8a8a" stroke-width="1"/>
<text x="215.1" y="184.58" font-size="10" font-weight="bold" text-anchor="end" fill="#000" >10</text>
<line x1="220.3" y1="161.76" x2="222.8" y2="161.76" stroke="#8a8a8a" stroke-width="1"/>
<text x="215.1" y="166.36" font-size="10" font-weight="bold" text-anchor="end" fill="#000" >20</text>
<line x1="220.3" y1="143.54" x2="222.8" y2="143.54" stroke="#8a8a8a" stroke-width="1"/>
<text x="215.1" y="148.14" font-size="10" font-weight="bold" text-anchor="end" fill="#000" >30</text>
<line x1="220.3" y1="125.32" x2="222.8" y2="125.32" stroke="#8a8a8a" stroke-width="1"/>
<text x="215.1" y="129.92" font-size="10" font-weight="bold" text-anchor="end" fill="#000" >40</text>
<line x1="220.3" y1="107.10" x2="222.8" y2="107.10" stroke="#8a8a8a" stroke-width="1"/>
<text x="215.1" y="111.70" font-size="10" font-weight="bold" text-anchor="end" fill="#000" >50</text>
<line x1="220.3" y1="88.88" x2="222.8" y2="88.88" stroke="#8a8a8a" stroke-width="1"/>
<text x="215.1" y="93.48" font-size="10" font-weight="bold" text-anchor="end" fill="#000" >60</text>
<line x1="220.3" y1="70.66" x2="222.8" y2="70.66" stroke="#8a8a8a" stroke-width="1"/>
<text x="215.1" y="75.26" font-size="10" font-weight="bold" text-anchor="end" fill="#000" >70</text>
<line x1="220.3" y1="52.44" x2="222.8" y2="52.44" stroke="#8a8a8a" stroke-width="1"/>
<text x="215.1" y="57.04" font-size="10" font-weight="bold" text-anchor="end" fill="#000" >80</text>
<line x1="220.3" y1="34.22" x2="222.8" y2="34.22" stroke="#8a8a8a" stroke-width="1"/>
<text x="215.1" y="38.82" font-size="10" font-weight="bold" text-anchor="end" fill="#000" >90</text>
<line x1="220.3" y1="16.00" x2="222.8" y2="16.00" stroke="#8a8a8a" stroke-width="1"/>
<text x="215.1" y="20.60" font-size="10" font-weight="bold" text-anchor="end" fill="#000" >100</text>
<line x1="222.8" y1="198.20" x2="514.2" y2="198.20" stroke="#8a8a8a" stroke-width="1.1"/>
<line x1="222.8" y1="198.20" x2="222.8" y2="200.70" stroke="#808080" stroke-width="1"/>
<line x1="295.65" y1="198.20" x2="295.65" y2="200.70" stroke="#808080" stroke-width="1"/>
<line x1="368.5" y1="198.20" x2="368.5" y2="200.70" stroke="#808080" stroke-width="1"/>
<line x1="441.35" y1="198.20" x2="441.35" y2="200.70" stroke="#808080" stroke-width="1"/>
<line x1="514.2" y1="198.20" x2="514.2" y2="200.70" stroke="#808080" stroke-width="1"/>
<text x="259.5" y="217.6" font-size="10" font-weight="bold" text-anchor="middle" fill="#000" >0</text>
<text x="332.34999999999997" y="217.6" font-size="10" font-weight="bold" text-anchor="middle" fill="#000" >1</text>
<text x="405.2" y="217.6" font-size="10" font-weight="bold" text-anchor="middle" fill="#000" >2</text>
<text x="478.05" y="217.6" font-size="10" font-weight="bold" text-anchor="middle" fill="#000" >3</text>
<text x="368.3" y="233.2" font-size="12" font-weight="bold" text-anchor="middle" fill="#000" >Day of Maturation</text>
<text x="0" y="0" font-size="11.8" font-weight="bold" text-anchor="middle" fill="#000" transform="translate(197.2 107.4) rotate(-90)">Percent</text>
<rect x="231.10" y="97.99" width="11.19" height="100.21" fill="#4a12c6" stroke="#333" stroke-width="0.6"/>
<line x1="236.70" y1="92.89" x2="236.70" y2="103.09" stroke="#000" stroke-width="0.9"/>
<line x1="235.50" y1="92.89" x2="237.90" y2="92.89" stroke="#000" stroke-width="0.8"/>
<line x1="235.50" y1="103.09" x2="237.90" y2="103.09" stroke="#000" stroke-width="0.8"/>
<rect x="242.29" y="124.77" width="11.19" height="73.43" fill="#3d78ef" stroke="#333" stroke-width="0.6"/>
<line x1="247.89" y1="120.04" x2="247.89" y2="129.51" stroke="#000" stroke-width="0.9"/>
<line x1="246.69" y1="120.04" x2="249.09" y2="120.04" stroke="#000" stroke-width="0.8"/>
<line x1="246.69" y1="129.51" x2="249.09" y2="129.51" stroke="#000" stroke-width="0.8"/>
<rect x="253.48" y="195.47" width="11.19" height="2.73" fill="#7f7f7f" stroke="#333" stroke-width="0.6"/>
<line x1="259.08" y1="194.74" x2="259.08" y2="196.20" stroke="#000" stroke-width="0.9"/>
<line x1="257.88" y1="194.74" x2="260.28" y2="194.74" stroke="#000" stroke-width="0.8"/>
<line x1="257.88" y1="196.20" x2="260.28" y2="196.20" stroke="#000" stroke-width="0.8"/>
<rect x="264.67" y="195.28" width="11.19" height="2.92" fill="#b2b2b2" stroke="#333" stroke-width="0.6"/>
<line x1="270.27" y1="194.56" x2="270.27" y2="196.01" stroke="#000" stroke-width="0.9"/>
<line x1="269.07" y1="194.56" x2="271.47" y2="194.56" stroke="#000" stroke-width="0.8"/>
<line x1="269.07" y1="196.01" x2="271.47" y2="196.01" stroke="#000" stroke-width="0.8"/>
<rect x="275.86" y="194.74" width="11.19" height="3.46" fill="#fcd5ae" stroke="#333" stroke-width="0.6"/>
<line x1="281.46" y1="194.01" x2="281.46" y2="195.47" stroke="#000" stroke-width="0.9"/>
<line x1="280.26" y1="194.01" x2="282.66" y2="194.01" stroke="#000" stroke-width="0.8"/>
<line x1="280.26" y1="195.47" x2="282.66" y2="195.47" stroke="#000" stroke-width="0.8"/>
<rect x="303.95" y="148.46" width="11.19" height="49.74" fill="#4a12c6" stroke="#333" stroke-width="0.6"/>
<line x1="309.55" y1="142.99" x2="309.55" y2="153.93" stroke="#000" stroke-width="0.9"/>
<line x1="308.35" y1="142.99" x2="310.75" y2="142.99" stroke="#000" stroke-width="0.8"/>
<line x1="308.35" y1="153.93" x2="310.75" y2="153.93" stroke="#000" stroke-width="0.8"/>
<rect x="315.14" y="90.16" width="11.19" height="108.04" fill="#3d78ef" stroke="#333" stroke-width="0.6"/>
<line x1="320.74" y1="84.69" x2="320.74" y2="95.62" stroke="#000" stroke-width="0.9"/>
<line x1="319.54" y1="84.69" x2="321.94" y2="84.69" stroke="#000" stroke-width="0.8"/>
<line x1="319.54" y1="95.62" x2="321.94" y2="95.62" stroke="#000" stroke-width="0.8"/>
<rect x="326.33" y="191.64" width="11.19" height="6.56" fill="#7f7f7f" stroke="#333" stroke-width="0.6"/>
<line x1="331.93" y1="189.82" x2="331.93" y2="193.46" stroke="#000" stroke-width="0.9"/>
<line x1="330.73" y1="189.82" x2="333.12" y2="189.82" stroke="#000" stroke-width="0.8"/>
<line x1="330.73" y1="193.46" x2="333.12" y2="193.46" stroke="#000" stroke-width="0.8"/>
<rect x="337.52" y="194.92" width="11.19" height="3.28" fill="#b2b2b2" stroke="#333" stroke-width="0.6"/>
<line x1="343.12" y1="194.01" x2="343.12" y2="195.83" stroke="#000" stroke-width="0.9"/>
<line x1="341.92" y1="194.01" x2="344.31" y2="194.01" stroke="#000" stroke-width="0.8"/>
<line x1="341.92" y1="195.83" x2="344.31" y2="195.83" stroke="#000" stroke-width="0.8"/>
<rect x="348.71" y="183.62" width="11.19" height="14.58" fill="#fcd5ae" stroke="#333" stroke-width="0.6"/>
<line x1="354.31" y1="179.62" x2="354.31" y2="187.63" stroke="#000" stroke-width="0.9"/>
<line x1="353.11" y1="179.62" x2="355.50" y2="179.62" stroke="#000" stroke-width="0.8"/>
<line x1="353.11" y1="187.63" x2="355.50" y2="187.63" stroke="#000" stroke-width="0.8"/>
<rect x="376.80" y="197.56" width="11.19" height="0.64" fill="#4a12c6" stroke="#333" stroke-width="0.6"/>
<rect x="387.99" y="186.17" width="11.19" height="12.03" fill="#3d78ef" stroke="#333" stroke-width="0.6"/>
<line x1="393.59" y1="182.90" x2="393.59" y2="189.45" stroke="#000" stroke-width="0.9"/>
<line x1="392.39" y1="182.90" x2="394.79" y2="182.90" stroke="#000" stroke-width="0.8"/>
<line x1="392.39" y1="189.45" x2="394.79" y2="189.45" stroke="#000" stroke-width="0.8"/>
<rect x="399.18" y="185.63" width="11.19" height="12.57" fill="#7f7f7f" stroke="#333" stroke-width="0.6"/>
<line x1="404.78" y1="182.90" x2="404.78" y2="188.36" stroke="#000" stroke-width="0.9"/>
<line x1="403.58" y1="182.90" x2="405.98" y2="182.90" stroke="#000" stroke-width="0.8"/>
<line x1="403.58" y1="188.36" x2="405.98" y2="188.36" stroke="#000" stroke-width="0.8"/>
<rect x="410.37" y="179.25" width="11.19" height="18.95" fill="#b2b2b2" stroke="#333" stroke-width="0.6"/>
<line x1="415.97" y1="175.61" x2="415.97" y2="182.90" stroke="#000" stroke-width="0.9"/>
<line x1="414.77" y1="175.61" x2="417.17" y2="175.61" stroke="#000" stroke-width="0.8"/>
<line x1="414.77" y1="182.90" x2="417.17" y2="182.90" stroke="#000" stroke-width="0.8"/>
<rect x="421.56" y="59.36" width="11.19" height="138.84" fill="#fcd5ae" stroke="#333" stroke-width="0.6"/>
<line x1="427.16" y1="54.44" x2="427.16" y2="64.28" stroke="#000" stroke-width="0.9"/>
<line x1="425.96" y1="54.44" x2="428.36" y2="54.44" stroke="#000" stroke-width="0.8"/>
<line x1="425.96" y1="64.28" x2="428.36" y2="64.28" stroke="#000" stroke-width="0.8"/>
<rect x="449.65" y="197.93" width="11.19" height="0.27" fill="#4a12c6" stroke="#333" stroke-width="0.6"/>
<rect x="460.84" y="197.29" width="11.19" height="0.91" fill="#3d78ef" stroke="#333" stroke-width="0.6"/>
<rect x="472.03" y="195.65" width="11.19" height="2.55" fill="#7f7f7f" stroke="#333" stroke-width="0.6"/>
<line x1="477.63" y1="194.74" x2="477.63" y2="196.56" stroke="#000" stroke-width="0.9"/>
<line x1="476.43" y1="194.74" x2="478.83" y2="194.74" stroke="#000" stroke-width="0.8"/>
<line x1="476.43" y1="196.56" x2="478.83" y2="196.56" stroke="#000" stroke-width="0.8"/>
<rect x="483.22" y="187.63" width="11.19" height="10.57" fill="#b2b2b2" stroke="#333" stroke-width="0.6"/>
<line x1="488.82" y1="184.90" x2="488.82" y2="190.37" stroke="#000" stroke-width="0.9"/>
<line x1="487.62" y1="184.90" x2="490.02" y2="184.90" stroke="#000" stroke-width="0.8"/>
<line x1="487.62" y1="190.37" x2="490.02" y2="190.37" stroke="#000" stroke-width="0.8"/>
<rect x="494.41" y="30.03" width="11.19" height="168.17" fill="#fcd5ae" stroke="#333" stroke-width="0.6"/>
<line x1="500.01" y1="27.30" x2="500.01" y2="32.76" stroke="#000" stroke-width="0.9"/>
<line x1="498.81" y1="27.30" x2="501.21" y2="27.30" stroke="#000" stroke-width="0.8"/>
<line x1="498.81" y1="32.76" x2="501.21" y2="32.76" stroke="#000" stroke-width="0.8"/>
<rect x="229.3" y="19.7" width="232.4" height="16.4" fill="#fff" stroke="#404040" stroke-width="0.9"/>
<rect x="233" y="25.1" width="5.4" height="5" fill="#4a12c6" stroke="#333" stroke-width="0.6"/>
<text x="241.0" y="32.6" font-size="10.6" text-anchor="start" fill="#000" >ProE</text>
<rect x="269.4" y="25.1" width="5.4" height="5" fill="#3d78ef" stroke="#333" stroke-width="0.6"/>
<text x="277.4" y="32.6" font-size="10.6" text-anchor="start" fill="#000" >BasoE</text>
<rect x="313.2" y="25.1" width="5.4" height="5" fill="#7f7f7f" stroke="#333" stroke-width="0.6"/>
<text x="321.2" y="32.6" font-size="10.6" text-anchor="start" fill="#000" >PolyE</text>
<rect x="353.2" y="25.1" width="5.4" height="5" fill="#b2b2b2" stroke="#333" stroke-width="0.6"/>
<text x="361.2" y="32.6" font-size="10.6" text-anchor="start" fill="#000" >OrthoE</text>
<rect x="399.2" y="25.1" width="5.4" height="5" fill="#fcd5ae" stroke="#333" stroke-width="0.6"/>
<text x="407.2" y="32.6" font-size="10.6" text-anchor="start" fill="#000" >Enucleated</text>
<text x="6.7" y="269" font-size="18" font-weight="bold" text-anchor="start" fill="#000" >C</text>
<text x="40.8" y="309.9" font-size="11.3" font-weight="bold" text-anchor="middle" fill="#000" >Day 0 of</text>
<text x="40.8" y="323.5" font-size="11.3" font-weight="bold" text-anchor="middle" fill="#000" >Maturation</text>
<text x="40.8" y="418" font-size="11.3" font-weight="bold" text-anchor="middle" fill="#000" >Day 3 of</text>
<text x="40.8" y="431.6" font-size="11.3" font-weight="bold" text-anchor="middle" fill="#000" >Maturation</text>
<text x="0" y="0" font-size="12.5" font-weight="bold" text-anchor="middle" fill="#000" transform="translate(72 371) rotate(-90)">Kit</text>
<line x1="77.9" y1="274" x2="77.9" y2="472" stroke="#000" stroke-width="1.6"/>
<path d="M77.9 268.6 L74.5 275.4 L81.3 275.4 Z" fill="#000"/>
<path d="M77.9 477.8 L74.5 471.1 L81.3 471.1 Z" fill="#000"/>
<path d="M135.9 288.7h1.0M110.2 290.5h1.0M95.9 303.7h1.0M128.0 286.5h1.0M107.4 291.7h1.0M104.4 287.1h1.0M104.8 307.8h1.0M113.5 292.4h1.0M146.9 304.9h1.0M145.0 306.8h1.0M103.7 290.2h1.0M114.1 310.2h1.0M144.4 292.9h1.0M137.8 290.8h1.0M101.4 288.5h1.0M116.6 292.0h1.0M133.2 289.5h1.0M108.7 310.1h1.0M118.0 291.6h1.0M96.7 307.0h1.0M105.5 287.4h1.0M139.4 311.5h1.0M96.1 288.8h1.0M95.1 293.1h1.0M110.8 310.8h1.0M141.7 310.4h1.0M129.7 285.9h1.0M137.4 309.6h1.0M111.7 293.1h1.0M133.0 309.5h1.0M102.7 287.3h1.0M101.2 293.2h1.0M98.4 310.8h1.0M110.2 293.5h1.0M139.0 312.4h1.0M114.3 293.1h1.0M142.4 292.9h1.0M147.8 304.3h1.0M144.7 306.6h1.0M95.8 298.8h1.0M143.7 292.9h1.0M102.0 308.3h1.0M147.3 304.6h1.0M143.4 292.8h1.0M95.8 312.5h1.0M122.5 289.8h1.0M146.9 305.8h1.0M106.5 294.0h1.0M146.4 296.7h1.0M120.9 291.1h1.0M97.6 295.3h1.0M106.8 292.7h1.0M103.0 292.7h1.0M146.1 306.2h1.0M109.2 291.3h1.0M145.3 307.8h1.0M117.4 293.2h1.0M145.8 306.7h1.0M144.3 289.9h1.0M96.1 296.1h1.0M106.0 307.8h1.0M137.6 291.1h1.0M95.9 294.7h1.0M125.3 291.2h1.0M109.8 311.0h1.0M109.8 294.6h1.0M147.9 304.2h1.0M97.4 295.0h1.0M107.8 289.9h1.0M116.8 292.5h1.0M132.3 290.1h1.0M101.4 291.6h1.0M95.4 295.4h1.0M108.6 294.4h1.0M116.6 292.1h1.0M102.7 307.6h1.0M142.2 288.9h1.0M145.5 307.4h1.0M100.2 289.3h1.0M95.8 308.9h1.0M143.4 293.2h1.0M101.1 309.0h1.0M140.1 290.8h1.0M107.3 293.6h1.0M108.5 289.6h1.0M101.0 291.0h1.0M134.0 288.8h1.0M131.7 289.2h1.0M109.0 292.4h1.0M140.4 309.8h1.0M98.2 294.1h1.0M108.7 291.9h1.0M122.2 289.4h1.0M96.3 296.9h1.0M145.5 306.0h1.0M99.8 311.9h1.0M112.0 315.8h1.0M147.0 292.6h1.0M110.8 292.7h1.0M121.4 287.4h1.0M101.5 291.7h1.0M113.3 309.7h1.0M95.8 293.4h1.0M119.7 286.5h1.0M142.9 293.0h1.0M95.8 295.5h1.0M97.6 310.4h1.0M147.9 307.8h1.0M147.6 304.6h1.0M108.4 310.5h1.0M134.9 287.3h1.0M114.9 312.8h1.0M106.6 294.1h1.0M95.8 305.4h1.0M98.3 307.7h1.0M146.4 307.0h1.0M104.9 311.6h1.0M147.5 305.0h1.0M147.5 294.8h1.0M96.3 294.6h1.0M95.9 297.8h1.0M97.8 288.5h1.0M142.5 311.5h1.0M95.5 290.1h1.0M105.8 291.3h1.0M112.1 286.4h1.0M136.5 286.3h1.0M95.9 304.8h1.0M104.8 291.6h1.0M96.5 308.4h1.0M121.6 289.8h1.0M116.0 292.0h1.0M146.7 293.8h1.0M97.1 293.7h1.0M110.0 310.6h1.0M109.7 310.5h1.0M114.5 291.1h1.0M97.7 291.7h1.0M108.0 293.1h1.0M146.0 305.8h1.0M147.0 306.3h1.0M104.2 308.3h1.0M105.1 309.2h1.0M101.4 291.8h1.0M95.6 294.9h1.0M110.2 312.8h1.0M101.4 291.0h1.0M147.6 295.8h1.0M116.4 292.8h1.0M103.5 293.4h1.0M132.8 291.1h1.0M143.6 289.5h1.0M95.6 295.9h1.0M138.4 287.8h1.0M149.5 295.4h1.0M151.1 293.9h1.0M150.6 294.7h1.0M149.7 296.7h1.0M128.0 290.5h1.0M127.0 290.5h1.0M111.3 292.8h1.0M121.9 291.2h1.0M153.6 303.7h1.0M125.3 290.3h1.0M142.1 291.2h1.0M142.2 289.1h1.0M118.3 292.3h1.0M118.0 292.1h1.0M138.1 290.0h1.0M152.6 295.3h1.0M138.1 289.8h1.0M116.2 285.9h1.0M117.9 290.7h1.0M132.5 291.3h1.0M119.0 290.9h1.0M144.7 292.2h1.0M151.9 295.4h1.0M153.6 299.4h1.0M143.7 291.4h1.0M146.4 294.2h1.0M149.9 302.4h1.0M142.7 291.9h1.0M143.0 292.2h1.0M152.2 300.5h1.0M149.8 298.6h1.0M139.2 290.7h1.0M152.2 295.5h1.0M152.6 293.8h1.0M125.9 290.7h1.0M147.2 293.4h1.0M154.9 292.8h1.0M146.9 294.3h1.0M148.5 298.9h1.0M139.8 289.0h1.0M123.5 289.4h1.0M126.9 291.2h1.0M126.8 289.5h1.0M148.4 302.6h1.0M147.5 306.0h1.0M135.8 288.1h1.0M138.0 290.3h1.0M128.0 290.5h1.0M113.9 291.0h1.0M132.1 288.8h1.0M141.0 291.1h1.0M120.5 290.2h1.0M148.9 297.0h1.0M149.2 297.8h1.0M113.7 292.9h1.0M148.9 293.2h1.0M123.2 290.3h1.0M135.5 290.7h1.0M139.2 289.8h1.0M145.4 306.8h1.0M135.8 291.1h1.0M148.5 304.9h1.0M145.5 288.8h1.0M127.9 288.3h1.0M125.5 284.2h1.0M152.6 301.4h1.0M136.7 286.0h1.0M142.7 290.9h1.0M142.6 289.7h1.0M131.2 289.0h1.0M139.3 289.1h1.0M147.0 303.9h1.0M147.8 296.5h1.0M150.9 298.2h1.0M145.3 308.7h1.0M95.3 308.8h1.0M117.3 289.8h1.0M96.7 294.2h1.0M96.9 306.4h1.0M95.7 295.5h1.0M96.1 306.9h1.0M95.9 296.5h1.0M113.5 290.5h1.0M108.6 310.7h1.0M101.7 293.2h1.0M95.6 295.2h1.0M96.7 294.5h1.0M112.3 309.7h1.0M97.5 293.3h1.0M107.9 291.4h1.0M98.5 311.0h1.0M95.7 298.1h1.0M95.1 298.8h1.0M100.6 291.0h1.0M97.5 306.3h1.0M101.0 308.0h1.0M95.8 297.1h1.0M99.1 308.3h1.0M106.0 286.1h1.0M98.0 306.8h1.0M100.2 292.6h1.0M106.3 291.8h1.0M117.4 315.3h1.0M100.8 292.2h1.0M100.9 309.9h1.0M109.8 295.1h1.0M112.8 292.9h1.0M112.4 293.0h1.0M109.8 294.3h1.0M107.2 288.9h1.0M115.1 292.6h1.0M111.4 293.3h1.0M96.9 308.1h1.0M112.3 292.4h1.0M95.9 293.4h1.0M100.4 292.5h1.0M100.9 291.9h1.0M106.8 290.1h1.0M103.9 293.4h1.0M105.0 291.9h1.0M95.3 294.9h1.0M95.7 303.7h1.0M104.0 292.6h1.0M95.6 291.6h1.0M117.0 289.9h1.0M95.3 295.8h1.0M98.0 293.5h1.0M102.6 310.4h1.0M102.4 308.7h1.0M100.9 286.7h1.0M113.1 292.3h1.0M103.6 308.0h1.0M107.4 292.4h1.0M96.2 294.5h1.0M109.5 288.5h1.0M100.9 314.7h1.0M97.2 309.6h1.0M113.3 292.4h1.0M96.1 296.9h1.0M95.5 290.1h1.0M102.8 307.7h1.0M95.4 298.7h1.0M95.9 303.7h1.0M101.9 291.0h1.0M99.2 310.4h1.0M108.0 291.0h1.0M108.6 294.9h1.0M106.7 292.5h1.0M95.8 304.0h1.0M114.3 291.4h1.0M97.9 293.1h1.0M96.1 305.8h1.0M96.7 291.0h1.0M104.0 292.3h1.0M96.9 307.1h1.0M110.2 293.6h1.0M96.7 290.3h1.0M101.7 290.1h1.0M109.8 292.0h1.0M95.8 296.8h1.0M105.0 310.4h1.0M102.3 308.2h1.0M95.3 303.4h1.0M95.5 304.1h1.0M99.6 308.5h1.0M95.9 304.4h1.0M95.3 306.8h1.0M105.3 309.2h1.0M97.7 305.8h1.0M95.3 298.8h1.0M96.3 303.7h1.0M124.5 291.4h1.0M119.7 290.1h1.0M119.2 291.1h1.0M146.5 296.5h1.0M142.4 293.0h1.0M148.8 300.6h1.0M127.1 291.2h1.0M145.1 292.9h1.0M133.1 289.0h1.0M125.4 289.4h1.0M150.4 300.1h1.0M139.5 290.8h1.0M133.0 290.2h1.0M133.6 291.2h1.0M148.6 301.5h1.0M136.7 315.4h1.0M131.8 331.0h1.0M123.9 353.9h1.0M113.2 326.6h1.0M141.7 310.6h1.0M127.7 333.5h1.0M127.8 335.9h1.0M97.4 346.7h1.0M126.6 335.4h1.0M145.5 337.1h1.0M121.7 337.9h1.0M126.4 331.3h1.0M107.4 310.9h1.0M136.3 339.3h1.0M112.0 348.9h1.0M130.7 348.2h1.0M103.7 328.1h1.0M130.6 339.4h1.0M144.4 349.9h1.0M111.4 346.1h1.0M130.5 347.0h1.0M118.6 329.1h1.0M128.9 316.8h1.0M131.5 335.9h1.0M142.1 336.7h1.0M133.6 325.2h1.0M119.3 332.7h1.0M120.6 346.6h1.0M128.3 350.4h1.0M142.3 361.0h1.0M143.5 363.1h1.0M133.7 358.2h1.0M102.1 356.6h1.0M137.5 350.4h1.0M110.1 361.2h1.0M137.2 363.7h1.0M140.4 310.4h1.0M137.8 309.7h1.0M126.2 335.0h1.0M126.0 359.0h1.0M104.1 333.1h1.0M144.7 331.6h1.0M133.6 354.9h1.0M105.2 336.5h1.0M110.0 352.6h1.0M112.4 337.7h1.0M134.2 332.2h1.0M103.0 331.0h1.0M139.4 350.5h1.0M146.9 309.9h1.0M131.0 321.4h1.0M95.5 341.4h1.0M123.2 325.3h1.0M97.0 357.5h1.0M124.3 321.5h1.0M118.7 359.1h1.0M145.5 319.8h1.0M145.6 361.0h1.0M121.9 357.8h1.0M97.4 318.5h1.0M125.6 333.1h1.0M141.9 338.9h1.0M101.4 342.7h1.0M97.2 326.9h1.0M124.5 330.7h1.0M108.4 350.1h1.0M137.4 313.7h1.0M115.3 353.3h1.0M136.2 345.3h1.0M111.0 324.8h1.0M104.6 363.1h1.0M135.4 336.4h1.0M128.2 331.8h1.0M125.5 333.0h1.0M147.0 321.6h1.0M130.4 332.9h1.0M102.8 308.5h1.0M123.5 337.9h1.0M138.6 321.4h1.0M127.0 341.5h1.0M121.6 337.8h1.0M133.8 346.7h1.0M120.3 330.8h1.0M129.8 333.7h1.0M134.6 329.6h1.0M127.8 346.3h1.0M100.7 360.3h1.0M133.5 339.3h1.0M119.0 318.5h1.0M137.0 324.4h1.0M104.5 361.8h1.0M108.0 314.0h1.0M126.2 331.4h1.0M144.2 347.3h1.0M104.5 361.5h1.0M114.4 363.1h1.0M129.2 359.9h1.0M105.7 349.4h1.0M128.8 328.0h1.0M123.8 318.3h1.0M129.5 355.3h1.0M96.4 347.3h1.0M119.7 344.8h1.0M139.5 348.9h1.0M115.3 359.0h1.0M129.5 334.0h1.0M115.4 316.7h1.0M117.8 315.8h1.0M105.3 341.2h1.0M136.5 323.1h1.0M134.7 313.5h1.0M106.7 335.6h1.0M132.9 341.3h1.0M120.7 361.7h1.0M127.9 349.7h1.0M111.2 311.5h1.0M130.7 314.0h1.0M129.6 362.6h1.0M100.1 318.6h1.0M117.6 333.7h1.0M96.1 351.2h1.0M110.8 340.1h1.0M147.6 329.4h1.0M132.6 333.2h1.0M137.5 333.5h1.0M103.9 362.4h1.0M142.3 331.1h1.0M127.1 342.3h1.0M113.9 348.6h1.0M118.6 316.5h1.0M131.1 338.5h1.0M118.9 358.6h1.0M141.6 357.1h1.0M133.0 356.7h1.0M100.0 318.3h1.0M118.6 352.7h1.0M147.4 349.6h1.0M99.1 350.6h1.0M139.7 358.4h1.0M135.1 354.8h1.0M141.6 345.3h1.0M103.4 312.0h1.0M143.4 309.5h1.0M124.2 319.8h1.0M127.2 319.8h1.0M98.5 354.7h1.0M99.8 329.3h1.0M138.2 351.0h1.0M135.4 324.5h1.0M139.4 332.5h1.0M128.0 356.2h1.0M139.9 359.0h1.0M137.6 312.2h1.0M126.8 352.3h1.0M130.9 328.0h1.0M116.9 319.3h1.0M130.9 357.1h1.0M119.3 312.9h1.0M113.2 311.9h1.0M124.7 361.9h1.0M129.5 327.0h1.0M132.0 358.8h1.0M134.1 318.1h1.0M122.1 359.0h1.0M130.0 320.3h1.0M107.9 360.7h1.0M111.5 342.3h1.0M140.3 353.3h1.0M118.0 320.3h1.0M98.3 345.0h1.0M125.8 352.0h1.0M110.0 342.7h1.0M142.8 358.3h1.0M129.3 335.4h1.0M130.1 360.9h1.0M101.3 345.0h1.0M135.6 358.6h1.0M103.8 310.8h1.0M142.3 319.1h1.0M109.6 311.2h1.0M128.9 341.1h1.0M146.3 362.9h1.0M123.5 339.4h1.0M136.3 363.1h1.0M119.4 352.4h1.0M97.2 338.7h1.0M130.7 324.9h1.0M127.5 361.9h1.0M123.7 360.8h1.0M127.2 357.8h1.0M142.0 321.1h1.0M124.8 347.4h1.0M105.1 333.4h1.0M118.9 352.5h1.0M116.3 335.4h1.0M141.5 317.9h1.0M103.7 317.5h1.0M113.4 320.8h1.0M146.9 321.7h1.0M127.8 331.8h1.0M142.8 360.7h1.0M103.6 338.6h1.0M147.4 314.4h1.0M139.5 362.9h1.0M144.6 356.2h1.0M121.5 356.7h1.0M142.2 309.6h1.0M138.5 344.4h1.0M114.9 320.8h1.0M120.6 350.7h1.0M123.9 323.5h1.0M122.0 316.1h1.0M129.7 362.7h1.0M123.8 354.7h1.0M120.2 340.7h1.0M127.3 329.9h1.0M109.3 335.3h1.0M105.9 341.4h1.0M116.3 326.7h1.0M127.7 325.5h1.0M96.7 317.2h1.0M118.0 339.1h1.0M133.9 318.4h1.0M110.5 326.0h1.0M107.2 318.5h1.0M133.2 358.9h1.0M113.3 332.3h1.0M104.6 311.2h1.0M141.3 349.0h1.0M123.8 360.5h1.0M118.2 315.0h1.0M129.7 335.6h1.0M98.7 330.3h1.0M128.5 327.3h1.0M96.1 344.0h1.0M124.1 351.2h1.0M95.4 352.2h1.0M109.7 337.7h1.0M134.2 311.4h1.0M108.9 313.0h1.0M121.2 321.8h1.0M116.0 335.7h1.0M139.1 330.6h1.0M109.0 330.6h1.0M137.6 312.1h1.0M98.6 312.2h1.0M125.3 355.3h1.0M108.9 340.6h1.0M102.4 316.2h1.0M110.0 349.0h1.0M128.2 363.7h1.0M108.3 354.6h1.0M102.0 311.1h1.0M99.1 341.4h1.0M103.8 325.6h1.0M109.8 327.4h1.0M126.5 312.9h1.0M145.8 310.0h1.0M132.8 363.1h1.0M124.0 328.4h1.0M99.8 311.9h1.0M124.7 328.9h1.0M108.6 328.4h1.0M101.4 346.8h1.0M142.5 339.2h1.0M132.4 345.5h1.0M120.9 353.6h1.0M120.8 356.4h1.0M120.2 344.4h1.0M146.4 363.7h1.0M132.8 313.4h1.0M112.8 324.4h1.0M110.5 329.9h1.0M130.6 329.1h1.0M102.4 308.7h1.0M135.5 324.5h1.0M139.9 350.2h1.0M112.4 331.7h1.0M110.7 341.9h1.0M129.2 343.7h1.0M115.3 339.2h1.0M108.0 323.9h1.0M130.9 347.3h1.0M110.1 323.0h1.0M116.9 362.8h1.0M112.7 362.1h1.0M127.4 331.9h1.0M131.7 363.6h1.0M130.1 314.1h1.0M129.2 329.9h1.0M136.8 359.7h1.0M126.9 331.8h1.0M114.0 326.0h1.0M135.1 324.3h1.0M131.8 327.0h1.0M121.3 337.6h1.0M119.7 359.6h1.0M100.4 310.9h1.0M106.7 343.2h1.0M135.2 333.6h1.0M137.3 345.6h1.0M115.6 354.0h1.0M105.7 352.4h1.0M109.8 320.3h1.0M142.1 338.8h1.0M136.8 337.1h1.0M105.5 338.8h1.0M115.7 330.2h1.0M124.7 354.6h1.0M145.7 360.1h1.0M107.9 353.8h1.0M124.6 345.5h1.0M137.2 336.6h1.0M133.2 310.8h1.0M102.5 325.8h1.0M102.4 337.3h1.0M142.7 338.0h1.0M134.0 319.9h1.0M115.8 314.0h1.0M108.5 321.5h1.0M97.7 324.6h1.0M140.4 321.2h1.0M110.8 319.1h1.0M141.2 323.9h1.0M102.1 355.3h1.0M131.3 350.1h1.0M104.0 308.7h1.0M123.3 335.1h1.0M119.9 351.7h1.0M121.4 323.3h1.0M131.9 363.6h1.0M143.1 323.1h1.0M115.0 333.7h1.0M142.6 312.3h1.0M129.3 360.7h1.0M104.0 340.0h1.0M145.2 339.3h1.0M109.9 348.3h1.0M121.3 327.5h1.0M132.3 360.3h1.0M105.9 315.5h1.0M108.3 358.7h1.0M137.7 336.8h1.0M133.2 338.6h1.0M134.5 348.1h1.0M111.9 321.6h1.0M110.7 359.3h1.0M105.8 313.6h1.0M145.6 318.9h1.0M137.2 336.0h1.0M123.4 320.9h1.0M137.7 312.3h1.0M104.6 309.9h1.0M110.3 316.6h1.0M137.5 347.0h1.0M128.7 326.7h1.0M124.0 336.5h1.0M110.8 346.5h1.0M123.0 339.7h1.0M96.7 326.3h1.0M116.3 311.9h1.0M128.9 325.9h1.0M134.5 328.9h1.0M124.9 320.1h1.0M131.6 356.8h1.0M108.9 313.4h1.0M105.6 323.7h1.0M135.2 328.7h1.0M131.1 311.9h1.0M147.7 349.7h1.0M98.5 311.7h1.0M116.4 353.1h1.0M131.3 332.2h1.0M145.6 333.3h1.0M133.4 328.5h1.0M143.4 359.1h1.0M107.9 347.5h1.0M143.2 352.6h1.0M125.1 349.5h1.0M145.9 352.3h1.0M110.6 351.4h1.0M123.3 357.1h1.0M127.2 348.0h1.0M115.8 312.8h1.0M132.6 332.0h1.0M140.6 344.3h1.0M113.0 331.7h1.0M129.9 331.6h1.0M140.6 320.3h1.0M118.1 312.2h1.0M130.3 358.0h1.0M126.6 322.9h1.0M112.8 322.5h1.0M112.9 313.2h1.0M101.9 316.9h1.0M126.7 363.1h1.0M142.1 316.8h1.0M131.2 322.2h1.0M125.5 363.7h1.0M105.6 316.8h1.0M122.8 352.3h1.0M120.2 353.5h1.0M145.5 324.9h1.0M116.3 351.4h1.0M127.0 323.1h1.0M144.4 313.8h1.0M130.6 357.8h1.0M136.4 318.0h1.0M111.1 334.2h1.0M101.9 342.3h1.0M120.4 317.1h1.0M124.4 335.5h1.0M134.1 345.3h1.0M119.6 326.9h1.0M137.6 321.7h1.0M114.8 322.0h1.0M144.3 334.9h1.0M101.9 320.0h1.0M122.1 325.5h1.0M142.0 340.1h1.0M96.4 346.6h1.0M98.0 345.7h1.0M123.1 341.2h1.0M145.5 310.7h1.0M98.5 342.4h1.0M131.2 314.5h1.0M135.1 354.2h1.0M117.2 357.7h1.0M101.1 317.8h1.0M121.7 361.7h1.0M139.0 339.6h1.0M132.1 346.3h1.0M125.1 345.9h1.0M121.4 341.9h1.0M125.5 336.8h1.0M122.9 363.3h1.0M119.2 352.6h1.0M130.1 328.1h1.0M145.6 357.9h1.0M132.5 327.6h1.0M123.8 354.3h1.0M131.6 317.2h1.0M110.5 311.0h1.0M110.0 331.2h1.0M121.8 351.6h1.0M143.8 344.0h1.0M142.9 319.7h1.0M133.0 330.7h1.0M131.1 348.8h1.0M140.2 346.1h1.0M130.5 361.4h1.0M106.7 311.1h1.0M119.7 346.7h1.0M126.5 341.9h1.0M122.7 362.0h1.0M127.5 330.8h1.0M132.9 340.0h1.0M139.1 333.5h1.0M143.0 341.8h1.0M127.0 336.3h1.0M108.8 353.6h1.0M105.7 342.3h1.0M133.4 311.0h1.0M143.5 358.0h1.0M126.0 347.8h1.0M105.4 310.0h1.0M142.5 355.7h1.0M128.2 341.6h1.0M109.1 338.0h1.0M112.2 347.7h1.0M117.9 359.9h1.0M129.7 319.3h1.0M144.6 342.6h1.0M138.9 319.8h1.0M123.3 345.4h1.0M141.7 343.0h1.0M132.8 342.5h1.0M118.2 351.8h1.0M105.2 311.5h1.0M143.3 312.7h1.0M108.0 332.4h1.0M137.1 312.0h1.0M119.7 331.4h1.0M142.5 317.3h1.0M137.7 353.5h1.0M131.6 350.1h1.0M117.9 355.6h1.0M139.6 316.1h1.0M102.0 333.1h1.0M127.1 338.5h1.0M113.7 316.3h1.0M113.5 352.6h1.0M102.1 316.8h1.0M129.2 358.3h1.0M109.8 329.3h1.0M147.8 331.1h1.0M140.6 354.6h1.0M144.1 325.5h1.0M116.5 314.8h1.0M117.1 312.1h1.0M126.3 349.3h1.0M125.1 323.0h1.0M127.0 337.0h1.0M97.7 321.8h1.0M102.2 359.7h1.0M105.3 332.0h1.0M106.0 328.9h1.0M105.2 361.0h1.0M120.7 351.9h1.0M125.6 363.6h1.0M113.1 348.6h1.0M102.9 328.7h1.0M137.2 350.2h1.0M119.9 315.3h1.0M145.4 327.8h1.0M133.2 310.1h1.0M129.5 327.6h1.0M123.9 334.7h1.0M130.3 312.4h1.0M140.0 337.4h1.0M106.3 330.8h1.0M125.2 343.6h1.0M118.9 346.1h1.0M136.5 327.0h1.0M141.0 363.3h1.0M145.3 333.9h1.0M120.4 330.3h1.0M105.8 348.1h1.0M128.7 350.0h1.0M116.4 345.4h1.0M127.0 328.5h1.0M137.0 328.9h1.0M107.6 352.5h1.0M147.7 360.2h1.0M120.5 337.1h1.0M137.6 340.1h1.0M106.0 353.6h1.0M142.2 321.4h1.0M100.0 312.5h1.0M125.2 347.6h1.0M109.0 338.5h1.0M120.9 321.5h1.0M130.1 353.8h1.0M98.2 347.8h1.0M144.6 331.5h1.0M107.6 344.4h1.0M130.0 358.3h1.0M140.6 344.7h1.0M102.2 315.6h1.0M122.8 362.4h1.0M146.9 355.0h1.0M135.6 326.4h1.0M129.2 325.7h1.0M131.2 348.6h1.0M147.1 340.4h1.0M105.1 317.1h1.0M132.4 330.2h1.0M129.7 363.4h1.0M106.5 328.0h1.0M122.8 341.0h1.0M129.5 323.1h1.0M114.8 341.4h1.0M112.1 318.4h1.0M139.5 350.4h1.0M147.1 330.9h1.0M131.4 360.4h1.0M105.8 348.5h1.0M137.5 329.8h1.0M127.4 363.0h1.0M135.4 320.5h1.0M116.9 329.2h1.0M136.0 322.4h1.0M132.1 319.7h1.0M140.6 323.3h1.0M133.6 334.7h1.0M127.2 335.3h1.0M113.9 339.9h1.0M99.8 313.0h1.0M97.6 358.3h1.0M120.1 311.5h1.0M143.9 339.6h1.0M123.6 330.8h1.0M101.7 353.0h1.0M132.9 331.5h1.0M96.2 334.9h1.0M111.3 347.5h1.0M127.1 319.5h1.0M118.7 324.3h1.0M115.2 356.3h1.0M133.5 323.9h1.0M137.5 354.3h1.0M116.9 354.5h1.0M145.4 325.3h1.0M144.5 337.3h1.0M130.3 315.7h1.0M130.9 329.9h1.0M104.7 320.0h1.0M113.4 360.0h1.0M119.5 342.1h1.0M141.0 357.7h1.0M110.2 316.3h1.0M113.9 314.1h1.0M111.6 336.6h1.0M143.8 318.8h1.0M142.1 317.7h1.0M111.6 328.1h1.0M113.0 335.4h1.0M138.8 347.6h1.0M123.4 356.9h1.0M145.7 330.7h1.0M116.5 359.2h1.0M105.7 320.2h1.0M131.3 334.6h1.0M133.4 327.7h1.0M128.6 347.4h1.0M136.8 346.0h1.0M109.0 324.9h1.0M100.3 317.2h1.0M137.8 339.5h1.0M135.1 360.3h1.0M104.2 325.1h1.0M124.4 331.1h1.0M137.3 316.2h1.0M132.5 357.0h1.0M100.0 323.9h1.0M102.2 327.5h1.0M135.1 337.5h1.0M114.5 341.9h1.0M110.4 314.3h1.0M116.2 321.3h1.0M123.7 359.9h1.0M145.3 356.6h1.0M115.9 319.2h1.0M99.2 308.7h1.0M115.1 328.2h1.0M102.7 343.3h1.0M109.9 337.4h1.0M138.7 325.8h1.0M108.8 311.2h1.0M134.8 361.8h1.0M119.6 323.1h1.0M141.2 316.2h1.0M100.4 347.5h1.0M114.8 333.8h1.0M142.9 322.1h1.0M127.0 351.5h1.0M108.0 344.2h1.0M145.5 356.8h1.0M115.4 363.4h1.0M127.7 336.2h1.0M134.8 352.8h1.0M137.3 358.8h1.0M120.3 314.0h1.0M131.1 339.3h1.0M140.2 354.3h1.0M111.6 350.9h1.0M131.9 346.8h1.0M112.1 328.6h1.0M127.0 355.4h1.0M143.1 330.6h1.0M133.7 318.8h1.0M126.0 327.7h1.0M114.3 352.6h1.0M111.1 310.3h1.0M136.5 315.4h1.0M103.9 317.4h1.0M118.4 337.8h1.0M142.9 347.0h1.0M109.6 329.4h1.0M134.3 359.8h1.0M127.3 356.5h1.0M104.3 337.5h1.0M108.4 345.3h1.0M107.1 347.3h1.0M131.5 351.9h1.0M140.5 318.9h1.0M106.5 311.6h1.0M111.5 348.2h1.0M103.1 343.2h1.0M117.1 328.3h1.0M137.4 326.9h1.0M126.5 331.2h1.0M115.4 361.8h1.0M140.5 337.2h1.0M125.7 354.9h1.0M132.2 347.0h1.0M105.8 352.2h1.0M113.8 316.3h1.0M136.2 321.6h1.0M105.6 326.7h1.0M98.5 358.4h1.0M103.6 359.9h1.0M122.4 323.0h1.0M137.2 356.8h1.0M110.9 330.9h1.0M137.8 337.3h1.0M136.4 341.4h1.0M100.1 346.6h1.0M137.8 321.1h1.0M126.7 323.3h1.0M100.5 355.8h1.0M140.1 328.2h1.0M113.2 362.1h1.0M105.9 317.2h1.0M98.1 339.3h1.0M105.8 344.0h1.0M135.3 357.6h1.0M139.7 360.2h1.0M115.1 333.3h1.0M101.3 312.8h1.0M139.8 339.4h1.0M138.6 340.9h1.0M112.5 320.4h1.0M136.2 321.9h1.0M128.0 349.5h1.0M147.3 320.2h1.0M141.0 350.6h1.0M101.1 322.8h1.0M132.0 351.1h1.0M146.0 338.1h1.0M123.6 360.7h1.0M106.2 315.1h1.0M118.2 348.9h1.0M124.7 327.9h1.0M102.0 312.0h1.0M136.1 316.2h1.0M99.8 342.7h1.0M125.3 354.4h1.0M97.1 319.4h1.0M132.9 321.4h1.0M111.1 309.8h1.0M115.3 333.0h1.0M107.8 319.9h1.0M111.7 358.3h1.0M126.4 332.3h1.0M106.4 319.7h1.0M106.1 347.7h1.0M126.7 346.7h1.0M131.2 351.4h1.0M101.0 330.3h1.0M143.2 314.4h1.0M131.7 314.9h1.0M127.1 357.9h1.0M112.5 345.2h1.0M97.9 363.1h1.0M130.0 313.2h1.0M114.0 326.2h1.0M119.3 349.7h1.0M104.8 336.6h1.0M97.7 330.1h1.0M111.8 310.3h1.0M116.5 360.9h1.0M135.5 314.3h1.0M111.7 345.4h1.0M120.7 337.8h1.0M126.3 349.7h1.0M97.7 348.9h1.0M135.6 328.7h1.0M110.4 333.5h1.0M128.6 347.6h1.0M124.4 318.1h1.0M146.2 318.7h1.0M137.6 310.2h1.0M114.2 312.1h1.0M143.5 325.2h1.0M142.3 321.8h1.0M142.8 317.4h1.0M116.1 312.7h1.0M123.2 338.2h1.0M131.0 333.6h1.0M145.5 324.4h1.0M128.4 313.4h1.0M124.6 349.8h1.0M141.8 323.9h1.0M104.2 345.8h1.0M97.2 333.3h1.0M128.1 358.6h1.0M99.9 341.9h1.0M135.8 340.4h1.0M139.6 340.2h1.0M112.6 349.8h1.0M124.6 355.2h1.0M116.9 356.2h1.0M142.9 334.4h1.0M114.0 343.3h1.0M123.7 322.2h1.0M141.9 363.4h1.0M109.3 363.2h1.0M124.6 344.6h1.0M104.8 315.4h1.0M137.1 335.1h1.0M118.0 343.1h1.0M124.8 351.8h1.0M124.1 340.4h1.0M114.1 350.8h1.0M138.4 349.2h1.0M116.6 341.0h1.0M136.8 309.5h1.0M101.6 346.6h1.0M131.1 329.2h1.0M134.8 350.8h1.0M132.4 330.5h1.0M104.1 320.1h1.0M124.4 330.0h1.0M118.8 348.8h1.0M105.1 356.5h1.0M116.8 353.5h1.0M127.4 345.5h1.0M110.0 347.1h1.0M144.6 348.0h1.0M119.0 316.5h1.0M119.0 323.4h1.0M103.1 340.6h1.0M136.8 317.6h1.0M95.8 331.5h1.0M99.6 325.7h1.0M109.4 314.0h1.0M134.1 328.3h1.0M129.7 359.0h1.0M112.1 348.4h1.0M127.8 319.6h1.0M128.9 349.9h1.0M116.3 351.5h1.0M124.3 359.9h1.0M142.5 344.2h1.0M122.6 338.6h1.0M112.5 342.1h1.0M110.8 337.2h1.0M127.3 339.7h1.0M110.2 341.9h1.0M116.2 323.6h1.0M111.1 312.3h1.0M97.5 332.1h1.0M95.5 311.5h1.0M139.8 323.9h1.0M108.0 344.5h1.0M127.2 360.4h1.0M135.2 356.9h1.0M123.7 323.0h1.0M126.1 352.5h1.0M132.8 352.1h1.0M125.7 344.8h1.0M126.9 326.1h1.0M129.2 322.7h1.0M145.9 313.9h1.0M143.9 351.1h1.0M112.7 342.2h1.0M116.3 362.7h1.0M135.9 338.7h1.0M114.4 313.7h1.0M101.2 318.6h1.0M141.4 335.8h1.0M136.6 334.4h1.0M137.9 337.9h1.0M126.8 323.1h1.0M138.4 358.9h1.0M126.1 327.2h1.0M136.4 315.6h1.0M114.4 325.8h1.0M109.3 324.1h1.0M129.7 312.7h1.0M131.9 335.8h1.0M124.9 332.9h1.0M130.2 319.1h1.0M143.5 309.6h1.0M141.4 321.4h1.0M111.8 312.0h1.0M133.1 323.3h1.0M129.2 345.7h1.0M136.8 315.0h1.0M130.6 348.5h1.0M116.9 325.9h1.0M134.9 335.5h1.0M124.4 353.3h1.0M115.1 322.2h1.0M136.7 361.7h1.0M133.5 322.5h1.0M99.7 325.5h1.0M113.6 338.0h1.0M120.8 337.0h1.0M116.5 341.2h1.0M147.6 358.5h1.0M130.9 340.5h1.0M104.8 341.9h1.0M139.8 327.7h1.0M135.2 314.2h1.0M138.6 319.4h1.0M140.7 324.2h1.0M121.6 363.2h1.0M127.5 325.6h1.0M137.7 321.0h1.0M119.6 343.3h1.0M121.3 347.5h1.0M123.5 342.7h1.0M134.7 320.1h1.0M106.9 333.9h1.0M128.1 326.8h1.0M110.7 347.8h1.0M96.0 324.5h1.0M110.0 359.5h1.0M112.2 325.8h1.0M147.8 314.7h1.0M104.0 355.7h1.0M126.2 330.6h1.0M105.4 320.2h1.0M96.4 309.4h1.0M138.7 328.0h1.0M109.8 345.4h1.0M111.8 314.0h1.0M131.5 343.2h1.0M119.4 319.7h1.0M127.7 333.8h1.0M121.6 350.5h1.0M98.0 330.2h1.0M120.1 341.3h1.0M119.0 321.9h1.0M116.0 336.4h1.0M147.7 351.8h1.0M131.1 356.6h1.0M108.2 361.4h1.0M143.7 318.4h1.0M108.3 311.4h1.0M109.7 345.3h1.0M117.4 348.6h1.0M105.3 349.9h1.0M99.3 325.4h1.0M102.7 311.6h1.0M117.7 337.1h1.0M114.3 347.8h1.0M125.0 325.7h1.0M132.1 361.7h1.0M117.1 326.8h1.0M131.4 329.2h1.0M111.9 337.3h1.0M101.4 352.2h1.0M120.0 360.6h1.0M107.6 325.1h1.0M95.4 326.3h1.0M128.1 353.4h1.0M118.6 346.6h1.0M147.1 342.9h1.0M126.6 351.2h1.0M123.2 360.1h1.0M140.5 335.5h1.0M108.7 317.1h1.0M118.0 359.2h1.0M126.2 325.0h1.0M112.9 329.2h1.0M96.4 307.9h1.0M128.1 321.0h1.0M119.8 323.9h1.0M122.0 348.7h1.0M134.1 322.2h1.0M137.0 328.8h1.0M114.6 351.1h1.0M119.7 358.8h1.0M110.2 316.8h1.0M131.5 347.7h1.0M143.0 319.0h1.0M125.9 361.5h1.0M111.6 359.5h1.0M143.4 330.9h1.0M111.8 354.6h1.0M118.6 343.0h1.0M131.5 350.4h1.0M114.5 332.0h1.0M119.9 362.3h1.0M143.7 322.4h1.0M108.4 348.8h1.0M99.2 359.3h1.0M133.0 321.2h1.0M114.6 326.3h1.0M137.0 310.2h1.0M132.4 335.9h1.0M144.1 339.8h1.0M135.4 315.8h1.0M101.9 308.4h1.0M135.6 354.2h1.0M117.7 342.8h1.0M133.4 338.8h1.0M133.4 362.2h1.0M124.1 332.8h1.0M124.9 355.6h1.0M128.1 353.9h1.0M124.4 324.7h1.0M117.3 336.8h1.0M130.0 346.9h1.0M119.8 340.7h1.0M140.7 343.9h1.0M140.7 317.2h1.0M137.4 345.8h1.0M124.6 347.2h1.0M134.7 330.3h1.0M130.9 333.8h1.0M99.8 325.4h1.0M143.8 338.2h1.0M137.6 358.7h1.0M144.7 348.7h1.0M125.8 346.1h1.0M127.9 327.0h1.0M139.6 314.2h1.0M128.6 339.2h1.0M122.7 348.4h1.0M100.1 311.3h1.0M130.3 335.2h1.0M130.9 347.1h1.0M143.0 317.3h1.0M122.7 352.7h1.0M106.7 334.0h1.0M100.8 353.2h1.0M140.1 352.6h1.0M122.8 334.4h1.0M146.4 305.1h1.0M128.4 311.2h1.0M132.4 310.1h1.0M141.0 340.6h1.0M125.6 348.6h1.0M101.6 322.8h1.0M146.1 340.4h1.0M125.7 335.0h1.0M135.7 354.9h1.0M110.0 315.9h1.0M104.8 310.0h1.0M104.0 325.5h1.0M117.5 353.3h1.0M114.6 316.7h1.0M113.5 352.1h1.0M104.1 355.0h1.0M123.1 327.8h1.0M132.0 353.0h1.0M126.3 329.0h1.0M136.5 332.8h1.0M99.9 343.8h1.0M144.9 312.0h1.0M112.0 324.3h1.0M131.2 315.2h1.0M113.7 309.6h1.0M134.6 354.3h1.0M117.5 338.9h1.0M129.1 322.2h1.0M115.9 357.1h1.0M123.3 358.8h1.0M113.8 350.8h1.0M112.0 329.2h1.0M128.3 360.5h1.0M129.0 321.9h1.0M144.9 310.7h1.0M106.9 346.2h1.0M142.7 319.1h1.0M109.6 317.3h1.0M127.8 351.3h1.0M127.2 355.8h1.0M107.8 324.1h1.0M133.2 321.7h1.0M110.7 332.0h1.0M118.3 325.2h1.0M140.0 356.5h1.0M106.9 333.1h1.0M135.1 317.2h1.0M128.2 361.1h1.0M116.7 321.3h1.0M97.0 360.9h1.0M109.8 356.9h1.0M110.7 326.6h1.0M145.4 315.3h1.0M115.9 345.6h1.0M103.5 335.4h1.0M114.3 349.6h1.0M125.5 340.6h1.0M122.4 359.8h1.0M123.7 346.3h1.0M122.6 344.3h1.0M139.6 345.5h1.0M114.7 332.0h1.0M116.7 321.7h1.0M134.4 316.0h1.0M136.0 362.0h1.0M130.2 349.2h1.0M122.2 358.8h1.0M120.5 336.0h1.0M127.8 347.2h1.0M145.1 322.7h1.0M140.4 340.9h1.0M129.6 327.3h1.0M125.7 335.5h1.0M134.5 311.7h1.0M140.2 357.8h1.0M126.0 320.0h1.0M127.4 355.2h1.0M129.2 358.4h1.0M134.1 335.6h1.0M112.4 325.1h1.0M104.9 331.6h1.0M122.3 318.6h1.0M133.9 361.5h1.0M107.5 337.8h1.0M109.2 331.9h1.0M106.2 332.5h1.0M104.9 351.4h1.0M131.7 312.7h1.0M124.0 359.0h1.0M114.2 313.8h1.0M146.2 348.7h1.0M137.7 313.0h1.0M124.2 356.8h1.0M109.5 317.1h1.0M109.8 338.8h1.0M109.4 336.6h1.0M132.6 347.0h1.0M141.5 331.4h1.0M138.8 353.1h1.0M110.5 312.1h1.0M143.6 351.0h1.0M116.7 328.0h1.0M117.1 354.9h1.0M137.7 310.6h1.0M147.3 333.6h1.0M135.0 312.1h1.0M137.3 322.2h1.0M131.2 334.5h1.0M103.6 335.1h1.0M107.0 316.0h1.0M122.1 319.4h1.0M124.8 362.6h1.0M101.0 324.9h1.0M103.9 354.2h1.0M126.9 343.0h1.0M123.9 336.0h1.0M136.6 311.5h1.0M105.1 316.6h1.0M116.3 335.4h1.0M128.7 318.5h1.0M132.2 360.0h1.0M146.4 352.1h1.0M123.0 347.9h1.0M103.1 315.4h1.0M147.1 325.2h1.0M144.5 353.9h1.0M146.1 318.2h1.0M135.8 362.4h1.0M132.8 326.0h1.0M143.4 331.4h1.0M105.7 348.6h1.0M132.4 338.9h1.0M117.5 337.6h1.0M142.8 312.2h1.0M141.7 323.1h1.0M124.3 340.3h1.0M130.9 332.1h1.0M118.3 312.3h1.0M116.1 352.3h1.0M117.0 341.9h1.0M141.7 322.2h1.0M129.4 358.6h1.0M105.7 324.3h1.0M138.6 350.2h1.0M137.4 329.8h1.0M143.8 330.4h1.0M121.5 324.3h1.0M130.8 344.0h1.0M133.4 351.7h1.0M107.7 341.5h1.0M124.4 346.3h1.0M144.6 308.9h1.0M113.0 345.2h1.0M111.0 332.1h1.0M104.3 345.3h1.0M131.4 332.7h1.0M121.5 357.2h1.0M105.5 351.6h1.0M118.9 335.6h1.0M118.5 332.4h1.0M122.8 321.8h1.0M100.9 355.3h1.0M136.7 313.0h1.0M144.1 348.7h1.0M132.0 334.2h1.0M145.4 318.9h1.0M126.5 359.6h1.0M123.6 336.3h1.0M128.7 344.3h1.0M131.6 330.7h1.0M133.5 335.7h1.0M139.9 312.3h1.0M101.2 341.8h1.0M124.1 362.8h1.0M135.2 330.9h1.0M136.7 317.5h1.0M138.4 334.7h1.0M120.7 349.5h1.0M114.8 359.8h1.0M111.0 323.7h1.0M120.0 315.7h1.0M132.9 360.5h1.0M111.0 342.7h1.0M112.8 333.2h1.0M134.7 359.3h1.0M139.5 347.2h1.0M133.0 333.2h1.0M138.1 349.0h1.0M133.3 341.8h1.0M140.8 347.6h1.0M143.5 321.2h1.0M133.2 344.4h1.0M143.1 311.8h1.0M122.8 331.2h1.0M108.3 348.4h1.0M134.9 314.9h1.0M144.2 357.1h1.0M119.3 329.1h1.0M145.5 341.8h1.0M100.7 355.7h1.0M135.2 350.8h1.0M138.5 340.9h1.0M124.1 317.9h1.0M111.9 312.5h1.0M105.2 335.6h1.0M137.5 336.9h1.0M128.3 337.4h1.0M131.4 324.8h1.0M140.7 312.5h1.0M146.3 359.7h1.0M100.5 342.6h1.0M146.0 343.5h1.0M116.7 333.1h1.0M117.8 333.2h1.0M147.7 307.7h1.0M130.0 314.6h1.0M102.1 311.5h1.0M113.9 338.7h1.0M127.7 355.9h1.0M96.0 339.5h1.0M135.6 320.6h1.0M139.8 354.1h1.0M124.6 334.3h1.0M120.3 352.4h1.0M138.5 336.3h1.0M103.9 311.6h1.0M129.8 326.7h1.0M133.8 317.3h1.0M110.9 319.9h1.0M121.9 348.9h1.0M122.3 335.2h1.0M133.4 320.3h1.0M128.6 345.1h1.0M132.0 329.4h1.0M123.6 351.2h1.0M107.7 351.5h1.0M118.2 334.5h1.0M128.5 340.5h1.0M145.0 335.0h1.0M133.7 318.5h1.0M119.5 340.7h1.0M133.6 318.1h1.0M95.4 347.0h1.0M126.7 319.6h1.0M123.1 324.2h1.0M137.1 358.1h1.0M99.1 317.2h1.0M128.4 343.6h1.0M110.6 326.6h1.0M129.3 355.6h1.0M136.6 309.9h1.0M129.8 350.9h1.0M119.3 311.5h1.0M117.3 318.2h1.0M109.5 313.5h1.0M127.7 327.1h1.0M134.1 358.3h1.0M120.6 330.2h1.0M107.8 345.7h1.0M142.6 311.5h1.0M113.4 333.4h1.0M138.5 314.3h1.0M141.8 331.2h1.0M132.8 317.4h1.0M101.2 325.9h1.0M129.7 318.0h1.0M124.4 324.9h1.0M141.8 316.9h1.0M141.3 310.4h1.0M142.3 320.4h1.0M116.2 313.1h1.0M122.5 316.7h1.0M128.7 321.0h1.0M117.5 311.6h1.0M135.6 339.4h1.0M153.8 324.1h1.0M110.3 328.3h1.0M126.4 341.2h1.0M138.0 312.1h1.0M149.6 328.5h1.0M140.7 329.2h1.0M125.7 317.7h1.0M129.0 318.3h1.0M144.2 322.6h1.0M117.6 319.6h1.0M134.2 316.9h1.0M128.7 316.0h1.0M113.2 317.2h1.0M123.9 327.4h1.0M135.7 322.5h1.0M120.5 323.2h1.0M156.2 315.6h1.0M115.3 313.5h1.0M96.7 309.7h1.0M141.0 335.7h1.0M129.1 321.4h1.0M127.1 311.4h1.0M109.1 320.2h1.0M104.1 308.4h1.0M156.5 314.4h1.0M145.1 319.8h1.0M119.6 322.6h1.0M148.3 322.8h1.0M104.2 309.8h1.0M134.4 312.5h1.0M134.5 349.5h1.0M115.9 330.7h1.0M113.7 340.9h1.0M141.7 322.2h1.0M137.9 310.8h1.0M131.0 326.5h1.0M139.4 313.2h1.0M104.9 319.5h1.0M150.1 309.2h1.0M125.5 327.5h1.0M110.4 317.6h1.0M121.5 339.4h1.0M127.2 324.8h1.0M129.8 314.7h1.0M98.3 312.5h1.0M141.1 311.0h1.0M146.6 313.5h1.0M113.7 343.4h1.0M138.1 317.5h1.0M145.5 314.2h1.0M109.5 316.0h1.0M134.7 315.9h1.0M114.0 318.5h1.0M154.3 315.1h1.0M114.5 312.6h1.0M111.4 310.3h1.0M139.4 314.3h1.0M133.5 310.5h1.0M127.7 324.1h1.0M146.7 312.1h1.0M117.5 311.8h1.0M119.1 328.4h1.0M126.2 329.5h1.0M110.7 314.6h1.0M129.7 323.3h1.0M110.9 316.7h1.0M122.3 327.3h1.0M123.1 317.1h1.0M123.1 325.6h1.0M143.8 321.0h1.0M145.6 318.3h1.0M138.9 322.4h1.0M145.0 311.3h1.0M142.9 312.9h1.0M128.8 311.9h1.0M129.3 311.3h1.0M110.0 317.3h1.0M124.1 316.5h1.0M130.4 321.8h1.0M115.8 322.9h1.0M112.1 317.7h1.0M111.8 320.3h1.0M111.9 321.4h1.0M124.8 321.3h1.0M116.1 318.1h1.0M104.7 320.2h1.0M129.4 319.9h1.0M135.8 338.3h1.0M121.5 315.7h1.0M98.1 324.0h1.0M136.8 321.9h1.0M112.9 323.3h1.0M134.6 328.4h1.0M118.9 315.2h1.0M123.8 316.4h1.0M104.4 326.0h1.0M159.0 336.1h1.0M107.2 321.9h1.0M127.3 321.6h1.0M116.3 311.4h1.0M123.2 325.8h1.0M142.5 339.9h1.0M103.6 313.7h1.0M124.3 323.8h1.0M131.9 317.9h1.0M127.4 323.5h1.0M130.8 314.7h1.0M117.0 322.8h1.0M106.3 315.6h1.0M110.3 313.5h1.0M121.1 317.9h1.0M127.0 323.0h1.0M145.2 308.1h1.0M128.3 351.2h1.0M128.4 328.6h1.0M105.2 311.0h1.0M132.9 315.0h1.0M112.7 321.6h1.0M154.1 313.5h1.0M111.2 327.3h1.0M129.5 322.9h1.0M126.0 324.0h1.0M119.3 322.6h1.0M149.9 315.8h1.0M101.9 323.3h1.0M113.7 320.9h1.0M143.8 314.0h1.0M132.6 311.1h1.0M116.8 326.3h1.0M157.7 314.7h1.0M131.9 320.9h1.0M113.6 319.2h1.0M128.9 321.8h1.0M118.5 313.7h1.0M144.0 314.4h1.0M129.5 330.0h1.0M141.1 328.9h1.0M150.5 314.9h1.0M130.9 326.5h1.0M129.4 309.8h1.0M113.8 311.5h1.0M120.9 317.9h1.0M130.7 329.3h1.0M120.0 334.5h1.0M155.9 317.0h1.0M125.9 332.8h1.0M116.9 328.6h1.0M137.9 324.9h1.0M119.6 315.2h1.0M130.9 317.6h1.0M117.4 320.2h1.0M142.7 327.6h1.0M127.1 320.1h1.0M139.1 321.3h1.0M108.9 313.4h1.0M111.1 339.8h1.0M119.8 317.0h1.0M123.8 323.2h1.0M111.1 318.1h1.0M128.8 317.7h1.0M111.4 309.7h1.0M117.8 326.4h1.0M156.8 311.0h1.0M141.3 330.6h1.0M147.5 329.4h1.0M143.0 315.5h1.0M136.7 320.2h1.0M143.6 330.2h1.0M123.0 315.7h1.0M115.7 322.0h1.0M133.0 316.0h1.0M111.0 312.8h1.0M120.0 313.0h1.0M131.5 323.2h1.0M119.9 334.4h1.0M130.2 316.7h1.0M147.9 308.0h1.0M114.2 315.6h1.0M142.8 312.4h1.0M117.8 318.9h1.0M114.8 317.5h1.0M128.7 328.8h1.0M138.3 317.6h1.0M117.4 333.9h1.0M117.3 316.5h1.0M117.4 315.0h1.0M128.3 322.6h1.0M117.5 336.3h1.0M130.2 332.5h1.0M121.0 320.2h1.0M139.8 317.7h1.0M116.7 317.6h1.0M150.5 311.4h1.0M144.1 310.2h1.0M136.0 316.5h1.0M130.1 314.8h1.0M119.9 333.6h1.0M134.1 348.3h1.0M129.7 319.6h1.0M141.4 317.0h1.0M103.9 317.3h1.0M117.8 327.9h1.0M110.1 310.1h1.0M119.1 314.6h1.0M107.8 328.0h1.0M121.5 336.8h1.0M97.6 327.3h1.0M130.7 320.5h1.0M112.6 322.3h1.0M132.8 319.9h1.0M115.2 319.2h1.0M136.9 321.2h1.0M128.5 310.7h1.0M121.4 315.6h1.0M143.8 310.5h1.0M138.3 317.1h1.0M127.3 320.4h1.0M138.0 318.6h1.0M124.6 320.3h1.0M128.5 317.0h1.0M113.6 328.8h1.0M123.1 322.3h1.0M140.6 311.1h1.0M131.4 313.9h1.0M139.7 321.1h1.0M146.8 325.7h1.0M115.9 318.6h1.0M135.8 313.8h1.0M118.9 316.2h1.0M143.3 323.1h1.0M132.6 324.1h1.0M139.2 312.0h1.0M109.8 313.1h1.0M126.4 327.1h1.0M110.6 316.2h1.0M128.4 309.9h1.0M130.9 318.6h1.0M98.4 316.4h1.0M145.2 314.7h1.0M117.5 325.9h1.0M124.4 325.8h1.0M146.2 311.9h1.0M104.6 311.7h1.0M126.6 334.8h1.0M116.2 320.3h1.0M142.4 311.4h1.0M112.6 315.7h1.0M132.5 339.0h1.0M124.9 318.2h1.0M122.9 321.9h1.0M138.3 328.3h1.0M131.5 312.9h1.0M112.9 320.3h1.0M127.9 320.5h1.0M143.3 326.5h1.0M103.1 321.1h1.0M156.0 311.2h1.0M112.4 335.5h1.0M105.1 320.7h1.0M136.5 309.6h1.0M132.9 341.6h1.0M123.4 319.1h1.0M125.5 338.2h1.0M121.0 315.6h1.0M139.9 326.5h1.0M133.6 314.0h1.0M106.4 321.8h1.0M142.5 326.4h1.0M141.5 332.4h1.0M132.0 319.5h1.0M101.9 325.8h1.0M106.1 324.9h1.0M111.0 311.7h1.0M157.5 317.0h1.0M161.8 310.2h1.0M125.6 328.1h1.0M135.7 316.7h1.0M136.8 317.3h1.0M124.7 321.0h1.0M108.4 309.6h1.0M139.0 319.2h1.0M124.0 324.9h1.0M134.6 337.3h1.0M116.4 324.2h1.0M146.4 314.7h1.0M128.8 316.0h1.0M120.9 321.2h1.0M119.4 329.6h1.0M133.1 312.2h1.0M120.9 324.3h1.0M111.3 322.9h1.0M122.2 317.0h1.0M133.4 314.6h1.0M132.8 321.5h1.0M139.1 315.7h1.0M118.0 312.6h1.0M122.5 315.6h1.0M133.6 321.4h1.0M114.7 318.1h1.0M107.5 317.2h1.0M140.3 312.5h1.0M118.1 330.7h1.0M131.6 332.0h1.0M105.3 314.7h1.0M129.8 317.1h1.0M131.6 320.4h1.0M133.4 315.2h1.0M127.4 335.4h1.0M140.0 324.6h1.0M113.8 312.0h1.0M130.9 318.1h1.0M132.4 309.9h1.0M147.0 310.2h1.0M142.4 318.1h1.0M137.0 312.7h1.0M124.0 323.8h1.0M149.5 318.3h1.0M139.6 321.9h1.0M124.8 321.7h1.0M113.7 326.5h1.0M128.7 323.8h1.0M133.1 313.0h1.0M107.2 316.4h1.0M120.1 322.1h1.0M115.4 338.8h1.0M110.8 314.2h1.0M123.1 325.5h1.0M137.2 311.4h1.0M112.7 318.9h1.0M102.1 309.7h1.0M124.3 318.0h1.0M162.2 337.6h1.0M119.1 319.0h1.0M129.5 333.0h1.0M121.3 315.8h1.0M136.6 317.7h1.0M143.6 326.6h1.0M124.3 318.2h1.0M140.5 319.4h1.0M113.2 315.5h1.0M128.7 320.0h1.0M110.9 318.1h1.0M128.5 311.3h1.0M118.8 312.3h1.0M129.1 324.4h1.0M129.0 331.9h1.0M119.4 317.1h1.0M116.6 316.8h1.0M121.5 315.5h1.0M141.5 320.0h1.0M122.4 317.6h1.0M129.8 319.8h1.0M136.3 326.8h1.0M132.5 331.7h1.0M130.9 314.4h1.0M149.5 311.1h1.0M121.6 334.1h1.0M133.4 322.7h1.0M146.0 312.0h1.0M143.3 314.8h1.0M126.7 320.3h1.0M136.3 325.1h1.0M127.2 323.8h1.0M134.2 323.1h1.0M133.8 332.0h1.0M128.0 337.0h1.0M147.1 319.7h1.0M143.1 310.1h1.0M151.6 314.9h1.0M151.8 325.3h1.0M129.6 313.7h1.0M124.1 317.1h1.0M107.1 316.1h1.0M125.6 337.8h1.0M155.7 317.2h1.0M107.4 313.5h1.0M107.7 317.6h1.0M136.4 316.4h1.0M133.8 323.3h1.0M104.3 315.7h1.0M130.4 317.2h1.0M137.9 321.4h1.0M110.3 314.4h1.0M139.9 331.5h1.0M128.8 310.3h1.0M117.9 317.8h1.0M122.2 326.7h1.0M119.2 324.2h1.0M136.8 315.4h1.0M115.3 321.3h1.0M123.8 325.2h1.0M136.7 316.5h1.0M145.0 324.3h1.0M122.0 319.6h1.0M128.9 317.7h1.0M122.1 322.6h1.0M134.3 329.9h1.0M112.8 311.4h1.0M142.3 316.4h1.0M103.6 323.7h1.0M142.5 313.8h1.0M120.0 318.2h1.0M114.0 326.7h1.0M120.4 319.6h1.0M114.0 314.2h1.0M109.6 313.6h1.0M131.1 323.1h1.0M142.4 336.2h1.0M118.9 318.8h1.0M127.9 312.3h1.0M151.2 347.1h1.0M148.0 294.9h1.0M169.5 302.0h1.0M149.0 294.2h1.0M157.0 287.9h1.0M151.2 311.6h1.0M189.5 323.9h1.0M168.8 330.8h1.0M157.2 324.1h1.0M160.3 350.3h1.0M153.7 299.0h1.0M162.3 360.5h1.0M153.5 344.8h1.0M184.5 289.0h1.0M171.3 289.5h1.0M150.0 293.6h1.0M185.0 333.5h1.0M166.2 329.6h1.0M146.6 305.2h1.0M180.6 338.3h1.0M176.1 311.8h1.0M168.6 347.3h1.0M164.5 342.8h1.0M179.3 303.5h1.0M190.8 290.5h1.0M168.5 333.5h1.0M187.1 291.7h1.0M170.8 329.9h1.0M156.3 337.8h1.0M178.6 296.8h1.0M129.5 285.6h1.0M133.2 285.8h1.0M132.5 283.5h1.0M129.4 285.0h1.0M139.1 287.5h1.0M143.1 285.3h1.0M127.8 289.8h1.0M120.5 282.3h1.0M135.3 281.5h1.0M132.4 290.2h1.0M135.7 282.4h1.0M126.9 283.7h1.0M134.7 288.9h1.0M125.1 280.3h1.0M141.1 286.2h1.0M145.8 283.9h1.0M125.0 291.3h1.0M111.6 286.3h1.0M128.5 286.2h1.0M128.2 287.7h1.0M134.0 289.6h1.0M132.6 283.5h1.0M136.4 280.3h1.0M154.2 287.1h1.0M128.0 285.4h1.0M129.5 282.5h1.0M136.0 288.6h1.0M117.7 288.8h1.0M127.6 291.4h1.0M121.0 282.8h1.0M125.8 284.6h1.0M136.6 289.0h1.0M139.3 280.2h1.0M142.6 289.9h1.0M136.1 287.9h1.0M126.8 283.7h1.0M137.1 290.5h1.0M132.0 285.6h1.0M151.3 282.9h1.0" stroke="#968ce2" stroke-width="1.0" stroke-opacity="0.75" fill="none"/>
<path d="M142.4 296.8h1.0M106.2 306.1h1.0M141.2 303.4h1.0M138.3 295.1h1.0M109.0 308.9h1.0M147.8 300.8h1.0M147.4 299.7h1.0M96.4 296.3h1.0M121.8 291.5h1.0M143.5 307.8h1.0M131.4 307.2h1.0M114.0 304.6h1.0M102.3 295.5h1.0M108.5 304.0h1.0M141.5 294.4h1.0M123.2 293.3h1.0M121.4 305.8h1.0M97.2 296.1h1.0M102.1 296.5h1.0M102.1 294.2h1.0M106.9 304.7h1.0M115.7 310.6h1.0M99.2 306.5h1.0M146.3 301.2h1.0M141.2 307.3h1.0M101.1 295.8h1.0M101.9 305.9h1.0M141.7 304.3h1.0M116.2 303.6h1.0M96.1 300.1h1.0M141.3 291.6h1.0M123.6 292.6h1.0M95.4 299.9h1.0M95.6 302.6h1.0M146.2 300.7h1.0M122.3 305.5h1.0M141.1 293.5h1.0M112.6 305.3h1.0M143.1 309.1h1.0M104.7 295.9h1.0M113.6 293.8h1.0M103.7 297.3h1.0M145.2 298.7h1.0M125.0 292.7h1.0M145.4 294.7h1.0M146.9 301.4h1.0M142.4 294.4h1.0M117.0 294.3h1.0M143.8 303.6h1.0M97.7 303.1h1.0M145.4 300.4h1.0M107.6 304.5h1.0M137.5 293.0h1.0M128.0 293.0h1.0M146.5 298.5h1.0M143.4 304.4h1.0M126.1 309.1h1.0M145.9 299.1h1.0M97.3 300.2h1.0M100.1 294.1h1.0M143.3 307.9h1.0M141.4 293.1h1.0M122.3 305.5h1.0M143.4 296.3h1.0M96.5 302.5h1.0M95.6 299.9h1.0M107.4 297.1h1.0M124.6 310.2h1.0M144.7 298.1h1.0M123.1 310.4h1.0M125.0 305.9h1.0M96.1 302.2h1.0M145.8 300.9h1.0M140.1 306.8h1.0M96.7 304.1h1.0M112.3 295.0h1.0M111.2 296.8h1.0M110.9 295.2h1.0M101.0 305.0h1.0M125.0 316.0h1.0M99.2 297.5h1.0M142.2 303.6h1.0M95.4 300.7h1.0M105.6 303.4h1.0M145.0 294.3h1.0M114.5 304.7h1.0M107.6 303.5h1.0M99.5 305.5h1.0M138.8 306.7h1.0M114.4 303.6h1.0M98.2 296.4h1.0M101.1 303.8h1.0M101.2 298.9h1.0M98.4 298.5h1.0M142.9 294.5h1.0M108.5 306.5h1.0M97.5 300.1h1.0M104.3 304.6h1.0M100.8 295.0h1.0M104.0 303.8h1.0M128.8 308.0h1.0M104.0 295.1h1.0M118.0 309.9h1.0M123.6 308.3h1.0M101.4 295.7h1.0M147.6 299.8h1.0M100.3 296.4h1.0M125.0 313.1h1.0M104.3 296.5h1.0M105.7 305.9h1.0M97.7 301.5h1.0M119.6 309.2h1.0M110.9 295.6h1.0M110.9 305.3h1.0M97.1 302.4h1.0M147.7 299.9h1.0M142.0 308.0h1.0M115.3 306.2h1.0M106.3 304.5h1.0M95.8 301.6h1.0M121.2 308.8h1.0M103.9 294.8h1.0M115.4 306.4h1.0M141.2 293.9h1.0M103.7 294.6h1.0M100.1 304.9h1.0M144.8 301.1h1.0M105.2 295.5h1.0M96.2 303.2h1.0M141.6 305.8h1.0M139.9 307.6h1.0M110.3 304.0h1.0M103.1 296.1h1.0M144.6 298.0h1.0M102.4 307.2h1.0M98.9 296.4h1.0M125.1 307.1h1.0M139.1 306.6h1.0M105.3 296.8h1.0M123.8 293.0h1.0M97.5 297.0h1.0M116.1 294.8h1.0M98.0 296.0h1.0M104.6 295.2h1.0M123.9 308.7h1.0M115.9 305.0h1.0M114.6 295.0h1.0M124.1 308.4h1.0M103.9 297.0h1.0M113.0 294.7h1.0M125.4 312.0h1.0M145.2 295.5h1.0M141.8 294.0h1.0M98.0 302.2h1.0M140.8 305.7h1.0M110.9 305.1h1.0M116.7 294.5h1.0M114.2 307.7h1.0M123.5 310.8h1.0M97.1 302.2h1.0M107.3 296.4h1.0M128.4 305.5h1.0M146.0 301.0h1.0M110.5 304.7h1.0M97.6 301.6h1.0M104.6 295.0h1.0M111.4 308.2h1.0M143.9 297.3h1.0M129.4 291.0h1.0M112.6 304.7h1.0M107.9 298.2h1.0M117.8 309.5h1.0M101.5 296.9h1.0M103.4 296.2h1.0M109.3 307.3h1.0M145.9 294.4h1.0M119.6 309.8h1.0M102.8 303.6h1.0M127.3 308.1h1.0M115.9 295.4h1.0M130.1 307.3h1.0M96.7 299.0h1.0M129.8 305.6h1.0M141.9 307.2h1.0M111.0 295.3h1.0M147.4 300.0h1.0M145.4 297.7h1.0M112.1 295.9h1.0M112.2 305.4h1.0M98.2 302.5h1.0M104.0 306.7h1.0M144.1 304.4h1.0M101.7 305.2h1.0M108.4 296.0h1.0M144.7 297.0h1.0M95.9 301.8h1.0M98.6 298.0h1.0M140.6 304.5h1.0M109.8 308.6h1.0M95.4 303.0h1.0M146.0 296.3h1.0M105.1 295.2h1.0M103.3 294.9h1.0M97.4 301.7h1.0M119.2 306.2h1.0M105.6 305.3h1.0M143.8 295.1h1.0M98.1 303.5h1.0M100.7 295.6h1.0M141.8 294.2h1.0M97.6 295.7h1.0M98.0 298.7h1.0M146.3 300.6h1.0M111.3 295.1h1.0M102.3 295.0h1.0M98.4 293.7h1.0M128.9 307.3h1.0M134.6 293.0h1.0M137.4 307.2h1.0M104.7 303.7h1.0M114.1 295.3h1.0M131.1 289.5h1.0M143.9 294.3h1.0M107.5 306.4h1.0M96.4 298.1h1.0M97.8 301.9h1.0M101.6 298.5h1.0M100.3 296.4h1.0M141.0 294.4h1.0M102.8 296.9h1.0M96.8 304.2h1.0M105.7 296.8h1.0M109.2 305.6h1.0M111.9 294.5h1.0M107.8 299.0h1.0M116.0 293.7h1.0M141.9 303.9h1.0M101.5 296.5h1.0M126.5 305.6h1.0M144.5 304.6h1.0M101.1 304.2h1.0M146.5 298.6h1.0M101.0 298.6h1.0M99.6 297.3h1.0M111.9 307.1h1.0M144.6 296.9h1.0M143.6 307.3h1.0M133.8 308.5h1.0M137.9 307.4h1.0M136.3 292.1h1.0M118.5 308.6h1.0M144.9 303.5h1.0M145.1 298.8h1.0M144.8 298.5h1.0M101.6 297.6h1.0M97.3 302.8h1.0M130.3 290.7h1.0M137.3 307.2h1.0M110.4 304.7h1.0M111.5 295.7h1.0M99.7 304.6h1.0M110.0 305.7h1.0M107.7 308.7h1.0M112.8 303.4h1.0M102.3 296.5h1.0M145.3 305.0h1.0M126.5 292.9h1.0M131.9 305.5h1.0M112.1 294.9h1.0M111.7 304.2h1.0M123.7 305.9h1.0M98.1 296.0h1.0M95.7 301.5h1.0M117.5 294.5h1.0M145.9 296.6h1.0M99.0 303.7h1.0M111.2 304.9h1.0M95.4 302.8h1.0M100.8 297.6h1.0M99.4 305.7h1.0M142.8 294.7h1.0M98.7 295.4h1.0M123.5 293.1h1.0M127.4 308.6h1.0M99.4 305.4h1.0M108.1 304.2h1.0M145.4 298.0h1.0M97.6 301.8h1.0M101.0 297.5h1.0M131.4 306.5h1.0M146.8 298.7h1.0M107.2 296.7h1.0M110.8 297.0h1.0M111.1 306.0h1.0M109.1 305.2h1.0M144.7 297.1h1.0M99.2 293.5h1.0M147.5 302.2h1.0M125.3 307.0h1.0M96.9 298.4h1.0M121.2 307.7h1.0M145.4 300.7h1.0M145.2 300.3h1.0M139.0 305.4h1.0M125.1 308.6h1.0M105.3 304.6h1.0M97.1 305.1h1.0M107.6 296.3h1.0M103.3 304.4h1.0M145.8 300.2h1.0M120.6 291.4h1.0M140.4 306.0h1.0M137.4 306.0h1.0M109.5 303.4h1.0M112.0 297.0h1.0M96.9 296.1h1.0M112.9 294.9h1.0M127.6 305.7h1.0M99.3 299.0h1.0M137.6 306.6h1.0M146.4 300.0h1.0M140.9 292.9h1.0M109.7 304.8h1.0M100.8 307.1h1.0M100.9 303.8h1.0M137.3 306.3h1.0M101.7 298.5h1.0M108.2 298.5h1.0M101.3 297.5h1.0M116.8 295.2h1.0M109.6 306.2h1.0M142.8 296.6h1.0M107.3 299.3h1.0M132.8 309.2h1.0M110.7 294.2h1.0M142.3 308.2h1.0M115.3 295.0h1.0M141.4 304.2h1.0M147.5 301.8h1.0M145.8 298.9h1.0M102.7 294.3h1.0M98.7 293.5h1.0M99.9 296.6h1.0M137.4 306.4h1.0M140.6 304.6h1.0M100.2 296.6h1.0M124.4 307.5h1.0M107.9 298.9h1.0M116.9 305.7h1.0M121.9 310.5h1.0M109.4 305.3h1.0M131.5 311.0h1.0M144.5 300.1h1.0M145.2 303.4h1.0M147.7 300.1h1.0M98.0 301.0h1.0M96.7 298.3h1.0M113.9 307.3h1.0M110.5 303.6h1.0M144.6 303.6h1.0M111.8 303.8h1.0M114.1 294.3h1.0M145.9 304.6h1.0M100.4 294.7h1.0M140.1 305.8h1.0M113.9 303.5h1.0M125.3 293.1h1.0M147.3 301.1h1.0M133.4 308.8h1.0M122.3 292.9h1.0M125.3 292.9h1.0M139.5 292.4h1.0M145.2 302.7h1.0M141.4 295.0h1.0M127.1 308.6h1.0M122.9 306.6h1.0M130.5 308.8h1.0M140.1 293.1h1.0M137.6 292.6h1.0M132.7 307.5h1.0M130.4 309.8h1.0M145.0 297.4h1.0M119.3 306.3h1.0M141.1 294.5h1.0M138.3 292.9h1.0M128.1 306.4h1.0M142.6 304.8h1.0M138.4 306.7h1.0M127.1 306.0h1.0M147.2 299.2h1.0M137.2 293.0h1.0M135.6 307.9h1.0M143.7 295.2h1.0M144.7 304.8h1.0M131.7 306.5h1.0M130.7 309.1h1.0M143.9 294.6h1.0M119.7 292.4h1.0M145.5 299.7h1.0M129.2 290.5h1.0M147.1 302.0h1.0M121.8 293.0h1.0M113.9 306.6h1.0M143.6 304.6h1.0M125.3 293.0h1.0M145.5 298.0h1.0M142.7 297.0h1.0M117.4 294.8h1.0M142.6 303.5h1.0M117.2 306.0h1.0M144.7 300.1h1.0M143.6 296.3h1.0M134.7 293.2h1.0M140.6 304.4h1.0M126.4 307.8h1.0M137.7 292.4h1.0M144.2 305.2h1.0M145.3 299.7h1.0M144.6 304.5h1.0M129.4 291.3h1.0M138.2 306.1h1.0M109.8 307.4h1.0M127.3 306.8h1.0M143.7 294.8h1.0M143.7 306.9h1.0M131.0 308.2h1.0M131.1 289.9h1.0M117.2 308.8h1.0M127.1 292.4h1.0M141.0 293.8h1.0M137.0 292.4h1.0M124.0 292.9h1.0M131.8 291.0h1.0M128.6 307.0h1.0M124.2 292.7h1.0M125.0 305.5h1.0M132.1 307.9h1.0M144.4 298.3h1.0M124.3 308.6h1.0M142.6 296.2h1.0M120.8 306.6h1.0M137.8 306.0h1.0M137.3 291.8h1.0M128.4 308.5h1.0M120.0 306.1h1.0M124.7 291.7h1.0M140.8 294.0h1.0M142.5 296.4h1.0M113.3 304.0h1.0M129.1 306.7h1.0M137.5 292.3h1.0M126.1 306.0h1.0M124.4 292.1h1.0M144.8 294.5h1.0M125.4 293.2h1.0M139.9 294.2h1.0M140.3 294.6h1.0M138.8 293.2h1.0M125.6 293.2h1.0M145.4 302.8h1.0M125.0 316.1h1.0M140.2 294.5h1.0M118.5 291.8h1.0M122.5 293.3h1.0M128.1 292.6h1.0M112.6 305.0h1.0M130.4 306.3h1.0M118.7 292.5h1.0M145.8 297.0h1.0M139.1 308.8h1.0M146.2 301.7h1.0M124.5 293.4h1.0M136.9 293.2h1.0M140.0 294.7h1.0M120.1 292.9h1.0M139.5 294.3h1.0M140.6 293.9h1.0M144.9 296.4h1.0M147.3 302.9h1.0M148.2 301.1h1.0M112.4 308.5h1.0M126.8 292.4h1.0M127.0 307.7h1.0M130.6 290.4h1.0M147.0 297.9h1.0M141.6 307.8h1.0M142.3 295.2h1.0M147.8 302.0h1.0M136.6 306.7h1.0M143.1 297.4h1.0M134.9 308.0h1.0M135.8 291.8h1.0M138.9 295.4h1.0M143.4 306.5h1.0M131.2 308.9h1.0M145.0 297.2h1.0M122.2 306.3h1.0M145.6 298.3h1.0M121.0 311.3h1.0M138.8 306.4h1.0M144.7 296.4h1.0M141.0 305.6h1.0M129.5 290.4h1.0M147.9 299.1h1.0M144.4 299.3h1.0M145.8 303.2h1.0M131.5 305.8h1.0M131.9 290.4h1.0M125.7 305.5h1.0M146.0 295.9h1.0M143.5 304.7h1.0M128.1 306.5h1.0M144.8 302.5h1.0M139.4 305.6h1.0M146.3 301.4h1.0M140.4 305.4h1.0M141.3 292.2h1.0M143.6 294.3h1.0M123.5 306.2h1.0M127.3 305.6h1.0M143.1 295.4h1.0M142.5 295.1h1.0M108.1 296.1h1.0M112.1 297.1h1.0M106.5 297.8h1.0M100.6 306.6h1.0M112.9 308.5h1.0M104.5 306.9h1.0M109.5 307.9h1.0M99.7 298.1h1.0M106.8 296.1h1.0M101.1 298.5h1.0M110.8 307.4h1.0M101.5 297.6h1.0M98.9 296.6h1.0M116.3 306.8h1.0M111.9 303.5h1.0M112.3 295.1h1.0M111.3 293.9h1.0M113.4 306.7h1.0M96.2 300.9h1.0M107.9 306.9h1.0M96.4 295.5h1.0M102.9 296.2h1.0M96.5 303.1h1.0M106.8 296.4h1.0M96.6 301.9h1.0M119.0 309.6h1.0M111.7 295.9h1.0M102.7 303.6h1.0M113.1 293.7h1.0M101.6 297.2h1.0M105.0 296.2h1.0M110.5 293.9h1.0M95.2 301.0h1.0M102.5 297.3h1.0M100.1 304.3h1.0M107.2 303.7h1.0M115.3 308.6h1.0M100.8 298.7h1.0M96.0 300.0h1.0M106.1 306.0h1.0M98.4 296.9h1.0M110.3 297.3h1.0M119.5 307.5h1.0M118.7 306.2h1.0M115.5 305.1h1.0M107.8 306.4h1.0M101.8 305.2h1.0M110.9 304.8h1.0M97.9 296.3h1.0M112.6 295.3h1.0M112.1 305.4h1.0M114.3 294.2h1.0M115.7 308.6h1.0M110.0 307.3h1.0M101.0 295.4h1.0M116.7 305.8h1.0M98.7 304.1h1.0M99.8 303.9h1.0M103.8 306.9h1.0M97.4 297.0h1.0M111.8 308.3h1.0M103.2 306.2h1.0M106.1 304.3h1.0M112.1 296.5h1.0M99.2 303.5h1.0M101.4 295.7h1.0M117.9 294.2h1.0M103.5 296.7h1.0M103.9 304.4h1.0M100.8 297.7h1.0M96.6 303.8h1.0M97.6 303.1h1.0M104.6 305.2h1.0M108.6 305.7h1.0M114.4 311.3h1.0M97.1 295.4h1.0M108.3 304.6h1.0M98.2 303.5h1.0M112.2 304.0h1.0M114.7 306.4h1.0M116.1 295.3h1.0M104.5 303.9h1.0M117.9 308.3h1.0M116.9 308.3h1.0M115.0 306.4h1.0M103.9 296.1h1.0M107.7 307.5h1.0M98.5 297.2h1.0M117.2 309.0h1.0M98.2 295.6h1.0M113.4 304.4h1.0M101.0 298.4h1.0M114.3 306.1h1.0M102.8 294.2h1.0M107.4 298.2h1.0M99.1 299.0h1.0M104.3 295.4h1.0M100.5 298.0h1.0M95.7 302.9h1.0M116.9 295.0h1.0M110.7 307.8h1.0M118.0 306.6h1.0M103.2 295.0h1.0M106.7 299.3h1.0M99.8 298.4h1.0M104.2 294.9h1.0M101.4 305.2h1.0M111.3 303.8h1.0M100.7 299.0h1.0M115.9 306.1h1.0M105.5 304.5h1.0M100.8 296.8h1.0M114.9 306.1h1.0M105.0 304.3h1.0M110.4 295.3h1.0M112.5 293.8h1.0M118.5 292.1h1.0M95.5 301.1h1.0M116.8 310.0h1.0M111.4 304.4h1.0M108.0 305.9h1.0M99.5 297.6h1.0M109.2 304.5h1.0M116.8 309.5h1.0M117.0 295.4h1.0M105.7 305.0h1.0M97.7 302.3h1.0M99.9 303.7h1.0M115.2 303.9h1.0M99.7 298.6h1.0M116.4 308.5h1.0M110.1 307.6h1.0M110.4 308.9h1.0M102.2 295.2h1.0M98.6 297.5h1.0M116.3 304.7h1.0M113.9 294.9h1.0M119.9 292.2h1.0M108.5 309.0h1.0M98.6 305.4h1.0M107.3 298.6h1.0M115.1 306.1h1.0M116.4 306.5h1.0M96.8 303.0h1.0M101.1 294.3h1.0M111.1 305.5h1.0M96.4 301.0h1.0M111.5 304.6h1.0M102.4 293.8h1.0M115.1 304.4h1.0M104.7 303.9h1.0M100.1 303.8h1.0M107.5 298.5h1.0M106.1 307.1h1.0M95.1 302.8h1.0M109.7 303.9h1.0M114.3 294.9h1.0M110.0 296.3h1.0M106.8 296.0h1.0M99.8 304.8h1.0M99.7 306.1h1.0M105.4 296.2h1.0M105.6 305.4h1.0M108.3 305.7h1.0M106.4 298.0h1.0M102.5 304.5h1.0M116.9 309.2h1.0M102.2 306.6h1.0M97.1 303.0h1.0M97.9 299.1h1.0M97.5 299.0h1.0M115.2 304.1h1.0M99.0 295.0h1.0M119.1 305.8h1.0M102.9 295.9h1.0M107.5 307.7h1.0M95.8 300.2h1.0M96.9 304.6h1.0M97.2 297.4h1.0M101.8 293.8h1.0M96.0 302.9h1.0M96.9 300.4h1.0M112.7 304.3h1.0M108.4 304.2h1.0M99.5 307.1h1.0M113.3 308.6h1.0M100.8 294.7h1.0M115.7 304.1h1.0M111.2 293.7h1.0M111.1 295.3h1.0M116.6 293.6h1.0M112.0 307.3h1.0M111.3 295.1h1.0M117.4 306.7h1.0M108.3 305.8h1.0M115.9 310.6h1.0M96.4 295.9h1.0M109.7 305.9h1.0M114.5 305.1h1.0M103.7 295.5h1.0M117.7 295.4h1.0M104.7 296.0h1.0M105.0 294.9h1.0M101.2 294.4h1.0M99.6 297.0h1.0M98.2 300.5h1.0M115.5 304.1h1.0M96.5 299.1h1.0M100.4 304.9h1.0M108.8 295.9h1.0M100.1 299.0h1.0M110.4 293.8h1.0M102.3 299.1h1.0M106.8 296.8h1.0M98.7 298.6h1.0M104.3 293.6h1.0M109.0 303.5h1.0M96.6 298.4h1.0M111.3 304.5h1.0M101.6 305.9h1.0M106.6 305.3h1.0M95.5 302.6h1.0M99.9 304.5h1.0M96.6 301.2h1.0M107.4 308.2h1.0M101.0 295.1h1.0M101.0 296.9h1.0M112.5 303.5h1.0M102.8 297.1h1.0M114.9 307.6h1.0M110.4 296.0h1.0M107.8 297.0h1.0M96.5 304.2h1.0M110.2 296.1h1.0M97.8 302.6h1.0M118.6 305.9h1.0M119.5 292.7h1.0M105.7 295.7h1.0M95.4 301.2h1.0M108.6 306.0h1.0M95.3 301.2h1.0M99.7 303.5h1.0M99.2 295.8h1.0M100.5 305.0h1.0M106.9 295.9h1.0M101.0 297.0h1.0M108.5 304.9h1.0M101.1 303.5h1.0M116.8 293.5h1.0M103.0 304.8h1.0M99.1 304.5h1.0M112.1 307.9h1.0M116.4 307.8h1.0M117.8 308.5h1.0M101.6 304.1h1.0M114.5 309.0h1.0M105.9 296.4h1.0M107.1 305.7h1.0M103.8 297.3h1.0M111.7 303.9h1.0M104.5 297.2h1.0M96.5 297.7h1.0M111.4 305.2h1.0M112.5 306.0h1.0M104.3 305.2h1.0M104.8 306.6h1.0M99.3 298.4h1.0M107.0 298.2h1.0M115.5 294.8h1.0M116.6 294.6h1.0M143.0 295.3h1.0M146.4 298.4h1.0M146.1 298.9h1.0M127.5 306.8h1.0M130.9 291.2h1.0M123.2 312.5h1.0M144.6 297.4h1.0M142.9 304.9h1.0M144.0 293.9h1.0M137.1 308.8h1.0M142.4 303.7h1.0M144.8 294.0h1.0M125.1 306.2h1.0M130.3 307.0h1.0M145.1 300.7h1.0M125.7 306.6h1.0M134.3 292.7h1.0M147.6 301.9h1.0M123.6 305.8h1.0M141.5 295.1h1.0M124.5 307.1h1.0M116.9 295.2h1.0M139.1 292.3h1.0M144.3 300.9h1.0M137.8 307.9h1.0M145.4 300.9h1.0M121.4 291.4h1.0M138.9 307.3h1.0M132.0 308.5h1.0M124.4 293.3h1.0M139.1 294.2h1.0M137.8 292.4h1.0M136.6 306.4h1.0M129.0 289.8h1.0M144.0 304.0h1.0M123.8 292.3h1.0M119.9 307.0h1.0M126.2 306.5h1.0M142.8 295.2h1.0M141.4 294.8h1.0M123.8 292.3h1.0M130.9 290.0h1.0M112.5 304.0h1.0M123.2 293.3h1.0M126.6 292.8h1.0M146.0 304.2h1.0M141.2 293.1h1.0M140.0 293.4h1.0M127.8 305.5h1.0M144.1 295.9h1.0M141.8 303.5h1.0M125.5 293.2h1.0M122.3 292.4h1.0M138.7 294.8h1.0M125.4 292.5h1.0M140.0 295.2h1.0M145.3 302.4h1.0M127.3 291.5h1.0M145.7 294.0h1.0M116.1 293.7h1.0M126.4 292.9h1.0M131.2 291.2h1.0M132.4 307.6h1.0M139.7 291.8h1.0M138.3 293.0h1.0M142.3 294.0h1.0M131.0 290.7h1.0M144.4 303.4h1.0M138.5 295.3h1.0M127.1 309.2h1.0M136.7 292.4h1.0M125.1 291.9h1.0M130.7 306.8h1.0M145.4 302.9h1.0M128.9 305.7h1.0M121.5 293.0h1.0M130.4 307.2h1.0M138.3 310.8h1.0M121.2 315.0h1.0M131.9 306.7h1.0M124.9 314.0h1.0M140.1 307.6h1.0M142.3 308.1h1.0M101.3 305.7h1.0M137.0 308.7h1.0M118.0 307.7h1.0M124.7 309.7h1.0M107.3 307.1h1.0M123.3 307.3h1.0M126.2 310.3h1.0M120.6 306.1h1.0M120.3 306.2h1.0M126.7 309.3h1.0M110.5 305.8h1.0M123.3 313.9h1.0M127.1 307.7h1.0M142.4 308.5h1.0M132.9 307.9h1.0M131.3 308.5h1.0M124.6 305.6h1.0M108.2 307.1h1.0M132.1 305.7h1.0M125.0 313.6h1.0M132.2 305.5h1.0M115.6 309.8h1.0M125.4 314.8h1.0M109.2 306.5h1.0M125.9 311.5h1.0M140.5 308.3h1.0M122.0 306.7h1.0M121.3 314.6h1.0M118.9 306.8h1.0M126.1 307.3h1.0M141.6 305.5h1.0M120.4 306.1h1.0M123.8 313.8h1.0M111.3 305.3h1.0M119.1 307.2h1.0M127.1 315.9h1.0M123.7 308.9h1.0M121.4 310.1h1.0M138.6 308.2h1.0M127.6 307.2h1.0M121.5 312.7h1.0M127.7 305.5h1.0M125.6 312.7h1.0M115.1 307.5h1.0M115.2 310.9h1.0M129.3 305.8h1.0M138.8 305.7h1.0M109.0 305.7h1.0M117.5 305.5h1.0M138.5 306.0h1.0M123.2 309.8h1.0M122.1 311.5h1.0M119.0 310.5h1.0M126.6 318.2h1.0M130.6 306.6h1.0M125.7 309.9h1.0M121.9 311.9h1.0M121.9 315.2h1.0M139.0 311.1h1.0M121.5 312.3h1.0M118.8 306.2h1.0M136.3 311.2h1.0M125.6 309.0h1.0M125.4 311.3h1.0M112.5 306.0h1.0M126.8 307.5h1.0M123.9 309.5h1.0M135.5 309.7h1.0M127.6 318.6h1.0M122.1 310.0h1.0M118.2 307.7h1.0M116.2 310.8h1.0M124.0 313.4h1.0M98.5 306.8h1.0M126.5 308.3h1.0M138.1 309.2h1.0M126.8 317.2h1.0M121.5 305.9h1.0M121.3 305.7h1.0M106.6 307.9h1.0M139.4 310.5h1.0M120.5 306.4h1.0M123.5 306.6h1.0M122.4 314.0h1.0M131.5 310.0h1.0M111.6 308.9h1.0M127.3 309.9h1.0M123.8 312.8h1.0M126.7 314.0h1.0M119.2 309.3h1.0M111.8 307.8h1.0M123.8 309.7h1.0M117.1 306.4h1.0M125.7 308.9h1.0M124.5 314.0h1.0M141.7 307.9h1.0M101.8 305.3h1.0M142.4 309.2h1.0M118.8 307.1h1.0M130.6 307.7h1.0M132.9 307.6h1.0M131.4 307.7h1.0M109.0 306.3h1.0M113.4 306.0h1.0M114.2 305.1h1.0M126.9 306.4h1.0M123.0 307.4h1.0M140.0 306.3h1.0M108.4 307.3h1.0M125.8 309.0h1.0M127.3 305.7h1.0M140.4 308.5h1.0M136.5 307.7h1.0M122.2 311.2h1.0M127.7 319.3h1.0M120.9 306.0h1.0M138.9 307.4h1.0M134.2 308.9h1.0M102.1 305.8h1.0M125.7 313.1h1.0M114.5 306.9h1.0M138.9 308.6h1.0M138.2 306.7h1.0M100.4 305.6h1.0M133.7 308.9h1.0M120.4 308.4h1.0M107.8 308.7h1.0M117.6 310.6h1.0M141.8 309.2h1.0M125.3 306.7h1.0M120.0 306.1h1.0M125.4 307.7h1.0M118.6 306.0h1.0M132.8 308.3h1.0M129.1 305.7h1.0M126.4 310.4h1.0M120.6 312.1h1.0M128.7 308.8h1.0M125.1 308.6h1.0M118.6 307.1h1.0M110.1 305.9h1.0M112.1 307.9h1.0M119.9 310.5h1.0M138.5 307.0h1.0M125.5 311.7h1.0M125.3 307.7h1.0M117.2 308.8h1.0M139.6 310.3h1.0M141.8 308.2h1.0M142.1 305.5h1.0M123.8 309.2h1.0M120.7 308.5h1.0M106.2 305.8h1.0M135.5 308.7h1.0M121.6 312.0h1.0M140.3 305.9h1.0M117.4 307.6h1.0M136.1 307.5h1.0M124.7 306.0h1.0M142.5 306.6h1.0M120.3 314.3h1.0M125.4 306.7h1.0M127.7 317.5h1.0M107.2 305.7h1.0M140.6 307.6h1.0M115.6 306.9h1.0M128.4 309.3h1.0M124.1 310.4h1.0M131.8 309.8h1.0M125.3 312.2h1.0M125.6 309.3h1.0M138.7 309.7h1.0M123.1 308.4h1.0M125.7 315.1h1.0M116.1 310.0h1.0M125.5 310.0h1.0M115.6 309.5h1.0M126.9 316.6h1.0M126.4 313.6h1.0M139.5 311.4h1.0M114.6 310.3h1.0M120.7 311.7h1.0M126.6 315.7h1.0M118.3 310.2h1.0M143.6 308.7h1.0M141.0 308.2h1.0M126.4 317.7h1.0M133.4 309.2h1.0M119.3 308.6h1.0M125.2 310.3h1.0M122.6 310.6h1.0M125.4 309.1h1.0M118.7 308.6h1.0M124.5 310.8h1.0M126.1 316.0h1.0M128.1 317.3h1.0M121.1 311.8h1.0M124.3 314.1h1.0M134.9 310.2h1.0M127.2 316.7h1.0M121.4 308.2h1.0M127.4 313.9h1.0M127.5 317.9h1.0M115.2 309.8h1.0M123.0 313.7h1.0M127.9 315.8h1.0M124.9 317.1h1.0M121.9 312.6h1.0M126.7 314.8h1.0M132.2 309.6h1.0M121.6 311.4h1.0M124.5 314.4h1.0M120.7 311.8h1.0M122.9 311.6h1.0M117.9 308.8h1.0M126.9 310.4h1.0M135.7 309.5h1.0M128.0 317.7h1.0M120.9 312.2h1.0M121.1 315.0h1.0M135.4 310.2h1.0M119.1 310.2h1.0M125.4 315.2h1.0M126.5 308.9h1.0M121.3 314.9h1.0M126.0 315.9h1.0M131.3 310.9h1.0M125.9 310.1h1.0M127.0 311.0h1.0M122.1 314.5h1.0M124.7 312.8h1.0M124.7 316.8h1.0M123.0 313.7h1.0M139.4 310.3h1.0M131.6 311.3h1.0M120.7 315.1h1.0M130.4 310.6h1.0M122.8 312.1h1.0M125.1 317.3h1.0M132.4 308.9h1.0M125.7 313.3h1.0M123.8 309.6h1.0M128.1 316.6h1.0M124.6 312.3h1.0M120.3 310.9h1.0M113.6 308.2h1.0M121.3 311.0h1.0M124.2 311.0h1.0M131.5 311.1h1.0M127.0 318.2h1.0M134.6 311.0h1.0M138.3 309.1h1.0M127.0 308.2h1.0M124.7 317.3h1.0M139.0 310.6h1.0M143.9 308.5h1.0M125.4 315.4h1.0M141.3 309.2h1.0M120.4 313.0h1.0M116.8 311.2h1.0M136.6 309.2h1.0M124.7 312.5h1.0M131.5 310.5h1.0M126.4 316.7h1.0M124.4 308.5h1.0M123.3 310.4h1.0M121.1 314.0h1.0M125.2 316.9h1.0M112.7 308.1h1.0M127.6 318.5h1.0M112.0 308.4h1.0M131.1 309.9h1.0M124.7 317.4h1.0M128.1 310.7h1.0M127.2 308.3h1.0M125.4 308.4h1.0M132.3 308.9h1.0M121.8 308.5h1.0M125.6 312.5h1.0M108.1 308.3h1.0M106.9 308.2h1.0M125.2 314.2h1.0M124.7 316.8h1.0M123.8 308.2h1.0M131.8 310.7h1.0M126.0 313.3h1.0M123.0 309.9h1.0M119.9 311.1h1.0M137.6 308.2h1.0M121.9 315.1h1.0M122.2 309.2h1.0M138.8 291.8h1.0" stroke="#6670e6" stroke-width="1.0" stroke-opacity="0.8" fill="none"/>
<path d="M110.4 303.1h1.0M107.8 301.8h1.0M118.0 304.4h1.0M123.9 303.6h1.0M105.6 301.0h1.0M102.7 302.0h1.0M119.2 296.9h1.0M120.8 303.4h1.0M138.8 301.8h1.0M139.7 305.0h1.0M98.9 300.8h1.0M141.1 301.7h1.0M114.9 296.7h1.0M111.4 300.4h1.0M138.1 304.8h1.0M114.5 296.5h1.0M126.7 304.3h1.0M117.8 302.9h1.0M105.6 298.9h1.0M110.2 299.9h1.0M129.8 304.7h1.0M139.6 296.6h1.0M142.8 301.5h1.0M104.4 298.1h1.0M144.1 298.6h1.0M114.3 296.3h1.0M106.9 299.7h1.0M111.4 301.5h1.0M100.6 303.0h1.0M117.1 304.8h1.0M130.9 304.8h1.0M113.2 302.3h1.0M122.0 293.8h1.0M102.2 301.3h1.0M121.7 303.0h1.0M106.2 298.5h1.0M112.7 299.4h1.0M112.4 297.6h1.0M121.8 303.0h1.0M122.1 302.3h1.0M141.4 297.0h1.0M116.2 299.5h1.0M122.1 304.7h1.0M130.5 292.1h1.0M112.0 299.5h1.0M115.5 297.6h1.0M105.0 297.7h1.0M100.1 300.1h1.0M119.9 303.6h1.0M110.6 300.4h1.0M119.2 302.8h1.0M103.9 297.9h1.0M116.2 296.6h1.0M107.6 300.9h1.0M104.1 300.2h1.0M103.0 302.2h1.0M104.3 303.2h1.0M100.1 301.7h1.0M140.6 298.7h1.0M104.7 299.6h1.0M128.5 305.0h1.0M140.8 298.7h1.0M118.7 303.0h1.0M129.5 305.0h1.0M114.6 299.9h1.0M129.8 293.1h1.0M114.1 300.5h1.0M105.6 300.2h1.0M107.4 300.1h1.0M111.8 298.3h1.0M118.7 296.5h1.0M135.2 303.6h1.0M101.1 300.3h1.0M110.5 301.9h1.0M104.1 299.3h1.0M117.5 304.4h1.0M141.7 298.8h1.0M99.2 300.5h1.0M138.6 305.0h1.0M130.4 305.0h1.0M114.0 301.6h1.0M108.4 300.3h1.0M123.0 302.2h1.0M139.5 305.0h1.0M115.3 299.1h1.0M134.9 305.1h1.0M114.4 298.5h1.0M139.6 296.5h1.0M123.3 302.1h1.0M114.9 300.1h1.0M114.6 302.7h1.0M114.9 299.6h1.0M135.1 304.8h1.0M138.6 304.2h1.0M143.7 301.2h1.0M100.7 301.0h1.0M99.0 303.3h1.0M103.5 302.5h1.0M118.6 302.0h1.0M143.5 303.1h1.0M107.3 301.7h1.0M100.7 302.3h1.0M100.6 302.6h1.0M103.5 299.6h1.0M140.5 295.7h1.0M108.4 301.3h1.0M109.3 300.1h1.0M121.9 303.3h1.0M123.0 295.2h1.0M101.4 299.9h1.0M143.4 300.6h1.0M111.0 299.3h1.0M119.1 296.8h1.0M135.1 305.2h1.0M135.1 306.0h1.0M143.7 301.3h1.0M111.8 299.6h1.0M116.4 303.4h1.0M112.1 299.6h1.0M130.2 305.2h1.0M133.5 307.3h1.0M98.6 301.6h1.0M118.5 294.4h1.0M141.4 295.4h1.0M104.7 298.9h1.0M118.5 296.5h1.0M115.4 299.4h1.0M114.5 300.5h1.0M134.8 305.0h1.0M112.3 300.9h1.0M139.6 295.9h1.0M136.4 294.7h1.0M115.0 301.2h1.0M140.5 302.6h1.0M125.5 305.3h1.0M114.1 301.9h1.0M142.0 299.8h1.0M114.4 303.3h1.0M108.4 300.4h1.0M120.7 302.0h1.0M120.7 302.0h1.0M104.7 301.6h1.0M118.7 295.9h1.0M104.9 298.1h1.0M111.1 302.0h1.0M135.6 306.3h1.0M114.3 300.6h1.0M107.9 299.9h1.0M119.7 305.1h1.0M122.3 295.4h1.0M105.0 298.9h1.0M109.6 300.4h1.0M135.7 306.0h1.0M101.7 301.7h1.0M101.3 301.0h1.0M103.9 299.5h1.0M102.9 297.9h1.0M118.7 301.8h1.0M103.9 302.2h1.0M138.1 304.9h1.0M143.9 298.3h1.0M105.5 297.7h1.0M133.1 306.5h1.0M140.0 302.7h1.0M110.4 299.8h1.0M109.0 302.6h1.0M142.5 299.5h1.0M130.7 292.6h1.0M115.8 301.7h1.0M136.5 304.0h1.0M105.5 302.1h1.0M100.3 300.3h1.0M121.9 304.6h1.0M139.7 301.7h1.0M108.8 303.0h1.0M110.9 300.0h1.0M114.4 299.4h1.0M114.9 301.4h1.0M109.6 302.3h1.0M110.5 299.3h1.0M105.9 299.8h1.0M108.6 302.0h1.0M133.9 292.1h1.0M124.9 305.4h1.0M121.4 303.1h1.0M140.7 303.2h1.0M140.8 301.1h1.0M113.9 298.7h1.0M108.3 297.9h1.0M119.4 303.6h1.0M115.2 300.8h1.0M111.5 299.3h1.0M123.7 301.6h1.0M125.5 303.5h1.0M103.0 299.0h1.0M101.3 302.3h1.0M123.4 302.5h1.0M115.8 296.2h1.0M108.6 298.7h1.0M123.3 305.0h1.0M99.5 299.9h1.0M103.4 299.2h1.0M139.9 303.1h1.0M143.2 300.5h1.0M104.4 300.4h1.0M119.4 297.3h1.0M143.8 297.6h1.0M103.2 302.0h1.0M120.3 303.9h1.0M134.3 292.8h1.0M117.6 302.7h1.0M113.1 298.6h1.0M118.6 295.7h1.0M129.7 304.5h1.0M102.9 298.3h1.0M109.4 297.8h1.0M101.0 300.7h1.0M119.1 295.8h1.0M125.7 304.6h1.0M134.8 305.4h1.0M115.8 298.7h1.0M143.6 300.1h1.0M110.8 302.4h1.0M107.7 302.6h1.0M117.6 304.8h1.0M101.9 302.6h1.0M99.0 303.3h1.0M118.8 295.6h1.0M124.5 304.9h1.0M130.6 292.8h1.0M102.5 298.6h1.0M116.2 298.1h1.0M142.2 302.5h1.0M114.1 297.4h1.0M115.9 295.8h1.0M114.2 298.6h1.0M117.4 303.8h1.0M106.4 303.0h1.0M109.0 299.7h1.0M114.2 301.9h1.0M104.1 300.5h1.0M115.8 301.2h1.0M125.2 304.4h1.0M126.9 303.9h1.0M107.7 301.6h1.0M104.8 301.0h1.0M109.5 300.1h1.0M122.1 302.6h1.0M104.9 300.3h1.0M112.0 297.6h1.0M144.1 302.2h1.0M105.1 302.9h1.0M107.2 300.0h1.0M128.3 292.2h1.0M102.4 298.1h1.0M112.0 301.0h1.0M125.5 294.1h1.0M122.0 294.4h1.0M142.1 301.1h1.0M118.4 296.8h1.0M103.6 299.7h1.0M140.8 303.3h1.0M115.7 297.8h1.0M117.9 297.3h1.0M140.9 301.8h1.0M142.4 301.9h1.0M100.7 303.2h1.0M102.2 302.7h1.0M104.5 302.7h1.0M129.7 304.1h1.0M123.2 302.8h1.0M114.6 297.4h1.0M143.0 297.8h1.0M144.0 303.1h1.0M137.6 304.7h1.0M123.3 295.1h1.0M142.0 297.5h1.0M103.6 301.9h1.0M104.9 302.2h1.0M141.4 296.1h1.0M122.2 303.0h1.0M104.8 298.1h1.0M143.8 298.0h1.0M117.2 302.4h1.0M115.6 297.8h1.0M99.1 301.4h1.0M105.5 297.6h1.0M119.5 304.9h1.0M111.2 302.8h1.0M124.4 295.1h1.0M123.3 302.0h1.0M115.1 295.9h1.0M121.6 304.4h1.0M135.4 306.6h1.0M136.1 304.6h1.0M141.2 300.3h1.0M119.1 296.6h1.0M111.1 300.1h1.0M116.1 298.1h1.0M126.7 304.8h1.0M120.8 301.9h1.0M123.6 301.6h1.0M104.0 300.3h1.0M129.2 304.1h1.0M127.8 304.9h1.0M121.4 303.4h1.0M135.0 303.5h1.0M131.5 304.3h1.0M141.7 299.0h1.0M112.8 297.1h1.0M114.9 299.8h1.0M130.7 292.1h1.0M124.2 294.7h1.0M139.4 297.3h1.0M143.9 299.4h1.0M113.5 302.8h1.0M124.5 304.0h1.0M131.0 304.6h1.0M116.0 295.4h1.0M124.2 294.9h1.0M138.2 304.7h1.0M140.4 296.1h1.0M142.1 296.4h1.0M120.1 303.4h1.0M123.9 294.1h1.0M138.9 302.1h1.0M134.2 305.6h1.0M129.0 293.4h1.0M119.0 301.9h1.0M121.4 305.4h1.0M141.4 302.2h1.0M118.8 301.6h1.0M133.3 305.6h1.0M136.1 304.1h1.0M140.5 295.5h1.0M140.7 299.5h1.0M140.5 295.5h1.0M141.9 301.4h1.0M118.8 302.9h1.0M140.5 300.5h1.0M121.1 303.9h1.0M130.6 293.2h1.0M141.1 298.7h1.0M139.5 305.1h1.0M143.1 301.0h1.0M121.6 302.6h1.0M119.5 304.1h1.0M124.2 302.2h1.0M140.9 300.1h1.0M135.7 303.6h1.0M130.2 292.9h1.0M117.4 302.8h1.0M137.7 305.4h1.0M110.3 297.5h1.0M143.4 301.6h1.0M142.4 303.1h1.0M141.1 301.4h1.0M141.7 302.2h1.0M120.5 303.7h1.0M120.2 296.6h1.0M120.5 294.3h1.0M133.4 293.4h1.0M120.0 294.2h1.0M123.1 295.0h1.0M116.7 296.9h1.0M113.5 296.2h1.0M122.0 294.4h1.0M140.9 301.1h1.0M121.7 304.3h1.0M110.8 298.9h1.0M143.4 298.8h1.0M113.4 297.0h1.0M123.1 301.8h1.0M141.4 299.3h1.0M130.6 291.8h1.0M140.7 296.8h1.0M144.1 302.0h1.0M125.3 293.4h1.0M137.4 303.4h1.0M127.5 305.0h1.0M119.6 301.4h1.0M123.3 294.7h1.0M137.8 304.8h1.0M118.9 294.7h1.0M108.8 301.1h1.0M129.3 292.8h1.0M131.8 292.9h1.0M119.1 295.2h1.0M125.5 304.8h1.0M115.7 301.6h1.0M141.6 303.0h1.0M123.5 303.8h1.0M123.7 294.7h1.0M123.7 303.4h1.0M123.0 302.2h1.0M127.8 303.7h1.0M127.8 303.5h1.0M142.9 302.5h1.0M129.0 293.1h1.0M140.4 296.0h1.0M137.1 295.4h1.0M141.2 298.7h1.0M125.6 293.7h1.0M119.4 303.6h1.0M140.5 301.0h1.0M137.1 293.9h1.0M115.9 301.1h1.0M134.0 292.0h1.0M142.3 298.8h1.0M121.3 305.3h1.0M143.0 302.1h1.0M143.7 300.5h1.0M120.7 305.0h1.0M122.2 303.8h1.0M142.8 300.9h1.0M130.5 303.5h1.0M141.1 297.6h1.0M138.7 297.2h1.0M121.7 303.2h1.0M125.5 294.2h1.0M120.3 301.8h1.0M114.8 295.8h1.0M121.0 293.6h1.0M141.7 297.1h1.0M139.6 304.8h1.0M112.9 299.2h1.0M122.7 294.0h1.0M122.1 301.7h1.0M124.0 302.8h1.0M132.0 291.4h1.0M133.6 306.4h1.0M119.5 295.4h1.0M113.8 300.2h1.0M132.2 292.2h1.0M140.4 296.3h1.0M143.2 302.2h1.0M119.3 304.1h1.0M120.7 301.6h1.0M119.6 295.9h1.0M123.0 294.3h1.0M134.6 306.8h1.0M114.7 299.1h1.0M140.9 300.0h1.0M139.4 302.0h1.0M130.2 304.4h1.0M123.6 302.6h1.0M136.2 303.7h1.0M112.0 297.8h1.0M116.3 302.7h1.0M125.4 304.7h1.0M122.8 293.8h1.0M140.5 302.1h1.0M140.4 296.8h1.0M119.9 301.9h1.0M119.7 296.9h1.0M131.6 305.3h1.0M121.3 303.1h1.0M142.0 302.0h1.0M139.2 305.3h1.0M126.6 303.4h1.0M138.4 296.5h1.0M137.0 304.4h1.0M136.4 304.6h1.0M142.3 301.5h1.0M140.6 301.0h1.0M114.7 301.9h1.0M121.5 293.9h1.0M139.3 296.4h1.0M143.5 301.1h1.0M138.9 303.5h1.0M130.3 293.1h1.0M128.5 292.1h1.0M120.8 303.0h1.0M138.5 303.9h1.0M120.3 295.9h1.0M142.8 298.2h1.0M142.3 303.1h1.0M137.5 304.4h1.0M130.5 305.2h1.0M131.0 304.0h1.0M132.0 303.4h1.0M123.8 301.8h1.0M126.1 293.6h1.0M134.6 304.8h1.0M141.0 299.2h1.0M128.2 305.2h1.0M119.8 296.1h1.0M125.5 304.8h1.0M125.0 295.3h1.0M115.6 302.0h1.0M122.7 294.3h1.0M118.6 301.8h1.0M140.7 299.6h1.0M142.4 302.0h1.0M125.1 304.0h1.0M118.3 304.0h1.0M130.4 293.1h1.0M131.4 303.7h1.0M124.4 304.4h1.0M136.2 305.0h1.0M136.7 294.9h1.0M134.8 305.1h1.0M142.0 297.4h1.0M120.7 303.5h1.0M132.2 304.1h1.0M114.3 298.3h1.0M120.0 302.2h1.0M118.1 302.5h1.0M141.5 299.8h1.0M139.8 302.9h1.0M138.5 303.4h1.0M141.6 301.0h1.0M120.2 302.7h1.0M112.0 300.3h1.0M125.0 293.7h1.0M131.8 304.5h1.0M117.1 296.5h1.0M119.9 296.3h1.0M120.3 294.4h1.0M125.2 304.2h1.0M113.3 303.0h1.0M143.7 301.6h1.0M123.7 302.1h1.0M140.7 296.0h1.0M130.3 292.3h1.0M136.9 303.7h1.0M108.5 300.7h1.0M131.3 292.2h1.0M119.4 295.8h1.0M139.5 295.7h1.0M140.2 302.6h1.0M120.7 303.8h1.0M135.9 306.2h1.0M115.8 301.5h1.0M141.3 298.1h1.0M123.2 303.8h1.0M116.1 301.5h1.0M127.9 304.2h1.0M125.5 305.3h1.0M119.2 297.0h1.0M129.0 305.1h1.0M124.7 294.7h1.0M126.6 303.4h1.0M128.9 291.4h1.0M119.6 304.2h1.0M107.3 302.2h1.0M99.9 303.2h1.0M103.2 301.7h1.0M100.4 300.9h1.0M101.7 301.2h1.0M118.8 297.3h1.0M114.5 299.1h1.0M111.4 299.4h1.0M112.4 301.0h1.0M113.1 296.6h1.0M116.5 304.5h1.0M108.9 298.5h1.0M111.7 299.6h1.0M118.5 294.3h1.0M119.5 303.2h1.0M107.8 303.4h1.0M113.9 301.6h1.0M104.0 302.9h1.0M99.0 301.0h1.0M116.1 301.6h1.0M102.8 302.8h1.0M119.8 301.8h1.0M113.5 300.9h1.0M112.6 302.3h1.0M114.1 302.0h1.0M109.9 299.1h1.0M100.8 301.0h1.0M115.0 296.7h1.0M114.3 296.2h1.0M100.1 303.1h1.0M116.2 296.2h1.0M103.9 303.2h1.0M118.5 303.7h1.0M119.6 295.4h1.0M99.8 303.1h1.0M113.2 298.0h1.0M99.8 300.6h1.0M107.0 299.5h1.0M118.3 304.5h1.0M110.9 299.6h1.0M104.8 299.5h1.0M113.8 298.0h1.0M118.1 301.9h1.0M110.0 302.5h1.0M102.9 302.5h1.0M116.0 298.8h1.0M111.1 298.4h1.0M117.3 305.0h1.0M104.1 302.1h1.0M98.6 301.2h1.0M113.8 302.8h1.0M100.7 301.2h1.0M119.2 296.7h1.0M113.8 299.5h1.0M105.7 300.2h1.0M119.5 302.4h1.0M114.6 297.0h1.0M112.4 299.6h1.0M112.7 302.0h1.0M101.7 300.2h1.0M101.7 301.8h1.0M113.4 299.8h1.0M119.6 304.6h1.0M105.5 299.9h1.0M114.2 296.7h1.0M119.9 296.3h1.0M101.7 302.9h1.0M111.0 300.6h1.0M104.1 303.1h1.0M101.2 301.9h1.0M113.9 301.3h1.0M115.9 301.0h1.0M109.5 301.4h1.0M109.5 300.7h1.0M116.6 297.2h1.0M104.7 298.7h1.0M116.6 296.2h1.0M114.5 298.8h1.0M116.1 298.7h1.0M104.2 300.1h1.0M100.2 303.0h1.0M105.6 302.7h1.0M108.7 298.9h1.0M99.8 300.6h1.0M101.0 301.5h1.0M107.4 302.6h1.0M114.3 296.1h1.0M98.5 301.4h1.0M105.5 301.3h1.0M110.7 298.3h1.0M108.3 299.6h1.0M115.7 301.5h1.0M111.6 301.2h1.0M106.3 301.3h1.0M115.0 299.5h1.0M99.6 301.4h1.0M115.7 300.2h1.0M108.8 298.6h1.0M111.4 300.4h1.0M113.7 300.3h1.0M112.0 301.8h1.0M117.8 296.5h1.0M106.5 302.4h1.0M115.0 300.9h1.0M111.3 299.5h1.0M118.3 296.3h1.0M104.9 302.2h1.0M105.1 303.1h1.0M110.5 299.8h1.0M110.0 302.8h1.0M110.0 299.4h1.0M103.8 302.5h1.0M98.7 303.0h1.0M116.3 296.3h1.0M109.8 301.7h1.0M115.2 299.1h1.0M109.5 299.4h1.0M117.5 304.8h1.0M100.3 302.7h1.0M99.6 303.1h1.0M112.6 297.8h1.0M112.5 296.6h1.0M119.7 297.2h1.0M113.7 300.6h1.0M110.3 299.3h1.0M117.2 304.0h1.0M110.4 298.9h1.0M105.2 298.0h1.0M100.3 301.6h1.0M112.1 299.3h1.0M100.8 300.6h1.0M99.1 302.0h1.0M115.7 295.6h1.0M107.5 301.7h1.0M116.2 300.2h1.0M110.2 303.1h1.0M99.2 301.1h1.0M104.9 298.7h1.0M113.1 297.2h1.0M109.8 302.6h1.0M101.5 301.5h1.0M105.9 298.7h1.0M108.7 303.3h1.0M118.0 297.2h1.0M104.8 298.2h1.0M115.3 296.5h1.0M114.1 299.8h1.0M108.3 303.1h1.0M104.5 301.9h1.0M99.0 302.5h1.0M105.9 298.4h1.0M118.3 296.9h1.0M110.3 298.8h1.0M113.8 297.6h1.0M118.8 303.1h1.0M118.7 295.1h1.0M106.1 298.7h1.0M98.8 301.9h1.0M117.3 303.8h1.0M107.2 299.7h1.0M118.3 294.1h1.0M99.7 300.5h1.0M104.3 303.1h1.0M100.4 300.1h1.0M106.5 300.9h1.0M110.7 298.5h1.0M100.4 300.0h1.0M106.3 300.5h1.0M112.4 301.8h1.0M102.6 303.1h1.0M116.0 299.9h1.0M109.6 302.3h1.0M104.5 300.2h1.0M119.1 296.0h1.0M105.9 301.6h1.0M100.6 301.6h1.0M107.7 299.9h1.0M109.2 302.7h1.0M117.7 304.1h1.0M109.2 302.0h1.0M102.1 303.0h1.0M112.3 301.6h1.0M111.1 302.0h1.0M111.5 298.1h1.0M112.5 302.7h1.0M111.2 300.2h1.0M99.0 301.7h1.0M107.8 300.0h1.0M105.2 302.2h1.0M105.6 303.1h1.0M101.1 302.8h1.0M114.9 302.5h1.0M105.4 303.0h1.0M112.5 297.5h1.0M106.3 301.9h1.0M112.6 300.2h1.0M106.2 302.0h1.0M115.7 298.4h1.0M105.2 299.0h1.0M119.3 304.3h1.0M118.2 304.3h1.0M111.7 298.1h1.0M111.9 301.7h1.0M99.4 299.5h1.0M111.0 297.6h1.0M102.7 303.2h1.0M106.0 298.2h1.0M115.8 299.5h1.0M110.7 299.9h1.0M111.7 302.4h1.0M112.9 302.7h1.0M102.4 303.4h1.0M115.9 300.1h1.0M113.7 298.7h1.0M116.4 304.0h1.0M109.9 302.4h1.0M115.2 300.8h1.0M110.2 300.6h1.0M104.6 299.4h1.0M105.5 298.8h1.0M115.3 300.3h1.0M117.9 301.6h1.0M119.1 295.3h1.0M109.3 301.7h1.0M104.3 302.2h1.0M104.6 298.0h1.0M100.2 300.7h1.0M108.4 300.8h1.0M105.6 300.4h1.0M110.6 299.0h1.0M111.2 301.1h1.0M104.3 301.2h1.0M105.6 302.2h1.0M99.8 301.0h1.0M119.3 305.2h1.0M100.8 301.3h1.0M107.5 300.4h1.0M105.5 298.8h1.0M103.9 302.6h1.0M114.0 298.6h1.0M112.5 300.8h1.0M108.6 297.4h1.0M109.1 297.4h1.0M111.6 298.2h1.0M114.3 298.2h1.0M99.3 300.9h1.0M104.4 300.0h1.0M100.0 299.8h1.0M116.4 296.5h1.0M103.9 303.3h1.0M114.9 298.8h1.0M109.9 301.6h1.0M110.2 301.2h1.0M110.5 298.8h1.0M102.0 301.1h1.0M115.1 302.2h1.0M112.1 299.2h1.0M117.3 302.0h1.0M115.7 302.4h1.0M108.2 301.2h1.0M105.2 303.0h1.0M119.9 302.7h1.0M103.5 298.5h1.0M114.0 298.7h1.0M115.2 302.1h1.0M105.4 302.0h1.0M115.5 299.9h1.0M117.5 302.9h1.0M111.5 300.4h1.0M120.5 294.2h1.0M118.4 302.3h1.0M141.0 295.7h1.0M119.1 305.4h1.0M140.6 300.5h1.0M141.6 299.6h1.0M134.4 304.3h1.0M122.6 302.1h1.0M131.9 292.5h1.0M126.2 305.4h1.0M117.2 296.1h1.0M141.7 300.9h1.0M130.2 293.3h1.0M138.9 301.9h1.0M125.7 305.1h1.0M127.2 303.7h1.0M141.9 297.8h1.0M131.5 303.6h1.0M111.0 301.2h1.0M144.1 299.9h1.0M120.1 296.8h1.0M119.6 294.1h1.0M138.1 293.5h1.0M124.4 295.2h1.0M130.7 303.6h1.0M121.8 294.0h1.0M139.8 303.4h1.0M133.2 305.5h1.0M139.4 302.1h1.0M122.9 295.2h1.0M138.5 295.8h1.0M128.7 304.3h1.0M143.0 302.8h1.0M139.1 303.7h1.0M140.5 296.9h1.0M127.8 304.6h1.0M109.9 300.0h1.0M129.3 304.1h1.0M120.9 295.3h1.0M140.6 298.8h1.0M139.6 301.9h1.0M142.8 297.6h1.0M125.3 294.7h1.0M128.9 303.9h1.0M141.6 297.7h1.0M139.2 304.4h1.0M139.2 296.4h1.0M140.8 299.2h1.0M139.8 296.7h1.0M135.7 304.7h1.0M137.0 294.4h1.0M128.9 293.3h1.0M138.4 302.7h1.0M120.2 296.0h1.0M136.7 304.6h1.0M141.6 295.8h1.0M115.3 297.0h1.0M137.1 304.1h1.0M143.1 302.9h1.0M141.2 299.4h1.0M122.4 302.7h1.0M139.5 302.1h1.0M128.7 293.4h1.0M124.3 301.6h1.0M115.2 296.9h1.0M124.1 295.4h1.0M140.4 297.9h1.0M124.0 302.1h1.0M124.3 295.3h1.0M138.4 301.8h1.0M129.6 303.6h1.0M122.4 304.1h1.0M120.5 303.6h1.0M123.4 302.3h1.0M143.1 301.5h1.0M144.1 302.1h1.0M119.0 303.9h1.0M132.8 292.1h1.0M129.8 304.9h1.0M124.2 302.2h1.0M120.5 301.5h1.0M120.9 303.2h1.0M120.0 301.9h1.0M120.5 303.9h1.0M132.4 305.6h1.0M137.3 294.7h1.0M123.5 294.3h1.0M120.7 294.1h1.0M120.4 294.4h1.0M131.9 304.0h1.0M126.1 294.5h1.0M119.5 302.9h1.0M138.7 303.3h1.0M115.0 302.3h1.0M133.8 292.9h1.0M116.5 302.7h1.0M139.7 296.4h1.0M119.4 295.3h1.0M142.8 302.9h1.0M140.8 298.4h1.0M124.8 293.5h1.0M124.6 303.7h1.0M122.0 294.6h1.0M137.4 304.4h1.0M141.1 299.8h1.0M138.8 296.3h1.0M135.7 303.7h1.0M140.5 299.7h1.0M119.9 303.2h1.0M124.1 302.3h1.0M122.0 294.9h1.0M117.9 304.1h1.0M123.9 303.6h1.0M141.2 299.1h1.0M129.0 293.1h1.0M132.9 305.5h1.0M136.9 293.5h1.0M126.5 303.4h1.0M124.0 302.6h1.0M122.7 294.4h1.0M135.9 304.5h1.0M140.6 298.8h1.0M141.9 295.6h1.0M131.5 293.1h1.0M128.8 305.2h1.0M129.6 293.1h1.0M122.8 294.3h1.0M125.4 294.8h1.0M137.8 303.5h1.0M124.0 301.5h1.0M121.7 295.4h1.0M142.4 299.1h1.0M128.5 305.3h1.0M142.0 301.2h1.0M121.9 294.7h1.0M125.8 295.1h1.0M141.3 296.4h1.0M127.7 304.3h1.0M124.2 304.3h1.0M122.9 302.5h1.0M135.8 304.4h1.0M120.2 296.1h1.0M121.4 302.4h1.0M115.7 302.2h1.0M117.4 296.2h1.0M140.9 300.8h1.0M141.7 299.9h1.0M136.1 303.6h1.0M134.8 305.4h1.0M142.3 299.1h1.0M136.9 304.4h1.0M131.7 292.4h1.0M142.1 301.6h1.0M111.7 299.0h1.0M138.9 297.1h1.0M132.1 293.2h1.0M127.0 304.5h1.0M118.6 294.3h1.0M118.4 301.7h1.0M116.2 301.6h1.0M138.3 297.1h1.0M130.1 305.2h1.0M140.1 305.3h1.0M128.1 305.3h1.0M131.8 305.3h1.0M136.2 306.9h1.0M135.6 306.9h1.0M133.7 306.0h1.0M134.4 305.6h1.0M118.7 305.0h1.0M129.8 305.3h1.0M132.6 307.2h1.0M134.9 305.5h1.0M117.3 305.0h1.0M128.7 305.4h1.0M137.3 305.0h1.0M133.0 306.8h1.0M138.8 305.2h1.0M126.2 305.1h1.0M117.0 305.1h1.0M132.6 305.9h1.0M134.3 306.4h1.0M132.3 306.9h1.0M135.3 305.5h1.0" stroke="#3a56e4" stroke-width="1.0" stroke-opacity="0.9" fill="none"/>
<path d="M127.8 294.7h1.0M137.0 299.0h1.0M119.3 301.3h1.0M121.2 297.0h1.0M136.8 297.7h1.0M121.8 296.5h1.0M121.5 298.6h1.0M128.5 294.4h1.0M123.8 297.7h1.0M128.6 294.0h1.0M124.8 297.2h1.0M119.3 299.6h1.0M134.6 301.8h1.0M125.9 302.6h1.0M135.3 294.1h1.0M138.0 301.4h1.0M136.8 301.4h1.0M134.1 305.0h1.0M125.4 296.1h1.0M117.2 299.9h1.0M132.7 303.9h1.0M129.6 294.1h1.0M138.0 299.3h1.0M137.3 299.3h1.0M130.6 294.7h1.0M137.8 302.7h1.0M127.0 302.4h1.0M137.3 300.7h1.0M137.1 298.1h1.0M137.0 302.1h1.0M126.9 302.5h1.0M138.5 300.9h1.0M123.1 297.8h1.0M125.3 297.0h1.0M132.4 295.3h1.0M122.0 298.7h1.0M134.9 302.8h1.0M137.2 302.2h1.0M135.0 302.4h1.0M116.7 299.0h1.0M138.9 298.9h1.0M132.5 303.7h1.0M118.1 299.6h1.0M120.1 298.3h1.0M136.7 296.5h1.0M121.3 299.1h1.0M126.4 302.3h1.0M138.8 297.7h1.0M134.9 295.3h1.0M121.8 297.9h1.0M137.4 301.7h1.0M137.3 297.0h1.0M135.5 294.4h1.0M133.3 294.9h1.0M119.3 301.4h1.0M122.3 296.6h1.0M124.4 302.4h1.0M124.1 298.0h1.0M128.1 301.9h1.0M123.7 300.5h1.0M119.2 299.9h1.0M138.2 299.6h1.0M124.1 297.7h1.0M119.2 299.1h1.0M121.2 300.0h1.0M138.6 299.7h1.0M118.2 301.0h1.0M116.7 300.3h1.0M117.3 299.5h1.0M118.2 299.5h1.0M138.7 299.3h1.0M138.7 301.1h1.0M119.6 298.0h1.0M138.1 298.9h1.0M118.0 300.6h1.0M128.1 303.0h1.0M135.5 293.6h1.0M120.4 300.6h1.0M135.5 303.3h1.0M117.6 300.0h1.0M120.4 298.1h1.0M136.8 296.8h1.0M138.9 298.2h1.0M126.8 301.7h1.0M121.7 298.6h1.0M116.7 299.5h1.0M134.8 302.0h1.0M118.2 297.9h1.0M137.2 297.3h1.0M138.0 302.2h1.0M123.7 296.8h1.0M135.3 301.6h1.0M126.8 295.1h1.0M118.6 298.5h1.0M133.5 303.8h1.0M119.3 298.4h1.0M118.2 300.3h1.0M119.6 300.4h1.0M137.4 300.5h1.0M137.9 296.5h1.0M118.5 299.7h1.0M125.8 297.1h1.0M120.5 300.0h1.0M138.1 303.4h1.0M124.2 298.9h1.0M138.2 298.3h1.0M122.3 300.7h1.0M137.6 299.8h1.0M134.8 301.7h1.0M119.4 300.9h1.0M118.2 299.9h1.0M134.7 293.9h1.0M124.5 297.0h1.0M135.1 302.5h1.0M134.8 294.4h1.0M128.3 295.3h1.0M125.9 295.4h1.0M128.2 301.9h1.0M137.0 301.6h1.0M138.1 297.3h1.0M137.9 300.9h1.0M140.0 298.5h1.0M121.3 296.3h1.0M121.1 296.5h1.0M121.2 299.2h1.0M117.5 300.5h1.0M138.2 298.3h1.0M119.4 299.6h1.0M123.1 296.0h1.0M117.2 301.1h1.0M121.2 299.3h1.0M119.1 299.9h1.0M122.1 299.4h1.0M119.0 297.5h1.0M121.3 298.8h1.0M137.8 297.5h1.0M128.0 294.3h1.0M117.1 297.8h1.0M119.3 301.2h1.0M124.8 295.4h1.0M122.1 297.1h1.0M123.7 296.0h1.0M125.9 302.7h1.0M137.3 300.5h1.0M125.6 301.7h1.0M119.3 297.6h1.0M137.3 297.0h1.0M132.8 303.5h1.0M129.3 293.4h1.0M137.0 303.3h1.0M130.6 294.7h1.0M123.8 299.7h1.0M139.3 299.7h1.0M133.8 294.8h1.0M128.5 294.7h1.0M137.1 298.3h1.0M140.1 299.2h1.0M124.7 295.4h1.0M120.3 301.0h1.0M133.5 304.5h1.0M139.4 298.9h1.0M122.5 298.4h1.0M123.4 299.9h1.0M124.4 295.8h1.0M117.9 298.1h1.0M123.6 300.1h1.0M135.3 294.2h1.0M128.0 302.9h1.0M135.0 301.5h1.0M116.5 298.3h1.0M121.8 297.2h1.0M126.6 302.0h1.0M136.1 303.0h1.0M138.4 300.2h1.0M126.8 301.5h1.0M117.1 298.9h1.0M138.1 300.6h1.0M135.8 294.2h1.0M124.1 297.7h1.0M136.2 302.4h1.0M125.6 302.0h1.0M136.3 295.4h1.0M123.6 298.3h1.0M136.3 300.8h1.0M139.5 300.4h1.0M133.7 304.9h1.0M125.6 302.7h1.0M123.1 298.4h1.0M125.4 297.3h1.0M137.3 301.8h1.0M127.1 303.3h1.0M123.6 297.3h1.0M136.8 299.1h1.0M138.2 298.7h1.0M126.2 297.0h1.0M126.7 293.7h1.0M135.1 293.8h1.0M119.1 299.0h1.0M139.0 297.6h1.0M123.7 299.2h1.0M130.5 295.1h1.0M137.2 296.8h1.0M139.9 301.0h1.0M126.2 297.1h1.0M132.5 294.5h1.0M125.0 303.4h1.0M136.7 303.4h1.0M123.1 299.6h1.0M121.1 297.7h1.0M134.1 304.7h1.0M124.9 297.3h1.0M120.7 298.4h1.0M125.3 297.0h1.0M120.9 297.9h1.0M127.1 294.7h1.0M125.6 302.6h1.0M138.3 300.9h1.0M128.3 293.9h1.0M125.9 302.6h1.0M135.6 293.6h1.0M134.3 295.1h1.0M137.0 299.2h1.0M138.7 300.6h1.0M138.9 298.3h1.0M136.0 302.6h1.0M136.7 301.9h1.0M123.7 296.2h1.0M121.4 300.8h1.0M129.6 294.6h1.0M131.7 294.4h1.0M124.8 296.7h1.0M138.3 299.6h1.0M121.1 298.1h1.0M120.4 299.6h1.0M123.8 300.2h1.0M121.8 297.1h1.0M121.1 300.4h1.0M136.6 298.6h1.0M135.9 301.9h1.0M119.6 299.7h1.0M124.5 296.6h1.0M123.5 298.8h1.0M137.0 298.0h1.0M125.8 295.5h1.0M122.7 299.9h1.0M132.8 304.0h1.0M125.3 296.2h1.0M121.0 298.8h1.0M122.6 298.5h1.0M126.9 294.1h1.0M137.0 299.6h1.0M136.2 295.2h1.0M133.3 295.1h1.0M130.7 294.7h1.0M124.1 300.1h1.0M136.9 296.8h1.0M121.3 296.2h1.0M135.1 302.1h1.0M137.4 301.9h1.0M136.7 298.4h1.0M121.2 299.3h1.0M123.9 301.1h1.0M136.9 296.0h1.0M135.5 301.6h1.0M117.2 299.5h1.0M139.2 298.5h1.0M130.1 295.2h1.0M123.5 297.8h1.0M136.5 298.4h1.0M130.1 294.6h1.0M121.8 300.0h1.0M122.3 297.3h1.0M123.7 298.7h1.0M131.4 295.3h1.0M137.0 296.5h1.0M129.9 294.6h1.0M137.6 301.9h1.0M136.3 302.0h1.0M136.5 298.4h1.0M131.6 293.8h1.0M117.5 299.6h1.0M121.7 300.3h1.0M136.2 294.8h1.0M126.8 303.4h1.0M124.1 295.7h1.0M123.7 299.9h1.0M125.8 296.5h1.0M130.5 295.3h1.0M138.1 297.2h1.0M140.1 299.5h1.0M132.5 305.1h1.0M122.6 297.2h1.0M127.7 302.9h1.0M136.2 302.8h1.0M129.1 295.3h1.0M123.6 297.0h1.0M122.5 297.5h1.0M117.1 301.3h1.0M121.8 295.6h1.0M135.5 293.5h1.0M123.0 301.2h1.0M124.7 301.4h1.0M123.6 297.6h1.0M127.1 294.7h1.0M139.3 297.4h1.0M131.7 294.2h1.0M137.2 299.7h1.0M124.9 301.8h1.0M136.4 299.0h1.0M125.7 296.7h1.0M138.0 301.8h1.0M136.5 298.8h1.0M123.6 297.8h1.0M117.2 298.2h1.0M137.6 297.3h1.0M124.1 299.1h1.0M125.9 302.4h1.0M137.4 296.1h1.0M134.9 293.9h1.0M127.1 301.4h1.0M139.1 300.2h1.0M132.1 294.3h1.0M122.2 298.5h1.0M128.0 303.4h1.0M136.7 303.3h1.0M138.2 300.3h1.0M134.6 293.7h1.0M123.4 296.4h1.0M139.2 300.7h1.0M125.2 301.4h1.0M119.8 299.9h1.0M120.4 296.4h1.0M121.7 300.3h1.0M121.5 296.9h1.0M122.5 297.4h1.0M124.1 299.8h1.0M133.0 303.9h1.0M132.6 295.3h1.0M140.0 298.2h1.0M124.9 297.4h1.0M128.1 303.3h1.0M133.5 294.2h1.0M121.5 295.9h1.0M126.4 302.2h1.0M132.4 294.1h1.0M127.5 301.6h1.0M127.8 302.9h1.0M133.5 293.5h1.0M121.2 296.7h1.0M125.8 295.9h1.0M123.3 300.7h1.0M131.5 293.9h1.0M128.6 293.9h1.0M122.3 298.1h1.0M133.5 293.5h1.0M140.0 300.6h1.0M137.8 295.5h1.0M136.7 302.2h1.0M126.9 302.2h1.0M138.9 298.6h1.0M129.0 294.7h1.0M123.0 297.1h1.0M136.4 297.8h1.0M125.4 302.8h1.0M135.8 294.9h1.0M122.8 295.8h1.0M135.3 303.2h1.0M139.1 299.0h1.0M139.9 301.2h1.0M128.8 295.3h1.0M130.6 295.2h1.0M133.6 303.8h1.0M123.9 299.5h1.0M123.0 297.5h1.0M138.4 300.5h1.0M122.1 295.4h1.0M128.2 293.8h1.0M123.4 298.0h1.0M136.6 295.8h1.0M122.3 296.1h1.0M124.8 295.5h1.0M121.6 299.2h1.0M125.9 303.0h1.0M127.0 302.2h1.0M120.8 298.0h1.0M121.3 300.0h1.0M138.3 298.7h1.0M137.5 301.6h1.0M125.6 302.7h1.0M124.1 298.0h1.0M133.7 303.8h1.0M123.9 298.9h1.0M137.3 298.0h1.0M127.0 302.5h1.0M128.0 295.3h1.0M122.1 298.0h1.0M117.0 298.5h1.0M122.6 299.1h1.0M118.8 298.5h1.0M121.8 297.9h1.0M137.5 300.1h1.0M132.1 295.0h1.0M122.7 298.0h1.0M137.9 295.6h1.0M137.4 302.9h1.0M134.9 303.3h1.0M130.8 294.5h1.0M123.4 298.4h1.0M120.0 300.6h1.0M128.2 294.6h1.0M125.7 297.1h1.0M125.1 302.7h1.0M121.5 295.4h1.0M122.9 298.6h1.0M121.7 298.2h1.0M123.5 297.5h1.0M121.0 301.1h1.0M130.5 295.0h1.0M139.3 299.4h1.0M119.9 300.9h1.0M138.6 300.5h1.0M138.9 300.8h1.0M118.5 298.0h1.0M137.1 299.3h1.0M140.3 297.8h1.0M136.5 299.3h1.0M129.0 295.4h1.0M123.1 299.1h1.0M140.3 297.4h1.0M136.7 299.4h1.0M123.5 298.2h1.0M134.7 295.0h1.0M135.5 302.0h1.0M134.7 303.1h1.0M134.9 302.5h1.0M137.9 300.8h1.0M135.0 293.9h1.0M125.3 301.8h1.0M122.0 297.9h1.0M119.7 300.4h1.0M119.2 298.7h1.0M117.9 300.8h1.0M118.1 300.2h1.0M116.4 300.3h1.0M117.2 301.0h1.0M117.4 300.7h1.0M118.3 299.3h1.0M118.4 300.1h1.0M118.9 298.2h1.0M116.6 298.3h1.0M116.7 298.7h1.0M117.2 301.4h1.0M118.6 301.2h1.0M119.0 298.7h1.0M117.7 300.5h1.0M119.2 299.4h1.0M118.9 297.8h1.0M117.4 298.6h1.0M118.6 297.8h1.0M119.2 298.0h1.0M119.9 298.7h1.0M118.6 300.5h1.0M119.0 297.9h1.0M117.7 300.7h1.0M117.0 299.1h1.0M119.6 300.1h1.0M116.8 298.3h1.0M119.5 301.1h1.0M118.3 300.4h1.0M116.5 298.1h1.0M117.7 300.6h1.0M116.7 298.9h1.0M118.4 299.0h1.0M118.8 301.1h1.0M118.8 301.0h1.0M116.9 298.4h1.0M120.0 300.6h1.0M118.1 300.6h1.0M116.4 301.1h1.0M119.5 299.3h1.0M134.1 293.9h1.0M128.0 294.8h1.0M137.1 299.1h1.0M122.7 299.3h1.0M121.9 300.2h1.0M133.0 303.6h1.0M137.9 300.7h1.0M122.5 300.8h1.0M131.1 293.6h1.0M138.5 297.8h1.0M122.2 298.4h1.0M128.0 301.4h1.0M139.0 299.5h1.0M126.3 295.2h1.0M123.1 296.6h1.0M123.3 295.9h1.0M119.9 299.1h1.0M127.4 302.3h1.0M124.3 297.6h1.0M132.8 295.0h1.0M130.5 295.0h1.0M138.8 299.5h1.0M117.7 301.1h1.0M118.4 299.2h1.0M127.9 301.6h1.0M120.4 299.6h1.0M131.2 294.5h1.0M134.0 294.5h1.0M123.3 297.2h1.0M126.9 293.9h1.0M140.3 301.1h1.0M138.5 301.2h1.0M138.1 299.7h1.0M139.0 299.2h1.0M137.0 298.7h1.0M132.4 303.8h1.0M119.0 300.8h1.0M137.7 297.4h1.0M137.2 296.5h1.0M121.5 300.3h1.0M131.7 293.8h1.0M129.6 295.2h1.0M134.3 294.9h1.0M120.1 298.9h1.0M136.7 302.6h1.0M138.3 301.1h1.0M132.1 294.2h1.0M131.8 294.1h1.0M137.8 302.5h1.0M136.6 299.3h1.0M121.2 300.1h1.0M132.0 294.6h1.0M130.6 293.9h1.0M121.6 297.8h1.0M137.6 299.0h1.0M134.1 295.1h1.0M123.9 301.2h1.0M127.2 293.7h1.0M121.0 300.2h1.0M127.5 295.2h1.0M137.6 299.9h1.0M137.3 297.9h1.0M133.4 304.1h1.0M122.2 298.1h1.0M127.3 302.2h1.0M124.4 302.1h1.0M137.2 302.2h1.0M123.7 296.4h1.0M132.1 294.6h1.0M121.7 296.3h1.0M138.2 299.6h1.0M135.3 294.3h1.0M125.0 297.2h1.0M123.0 297.8h1.0M138.3 298.4h1.0M133.7 304.6h1.0M121.9 296.1h1.0M122.6 300.7h1.0M134.2 293.8h1.0M129.1 295.0h1.0M130.7 294.5h1.0M138.3 297.8h1.0M133.9 294.4h1.0M120.6 299.7h1.0M136.7 297.8h1.0M139.9 300.2h1.0M133.5 293.6h1.0M128.6 295.3h1.0M125.2 302.0h1.0M137.8 298.3h1.0M132.6 294.6h1.0M138.8 301.2h1.0M119.1 299.4h1.0M123.7 299.1h1.0M126.0 296.1h1.0M132.4 304.4h1.0M126.3 303.0h1.0M137.5 298.3h1.0M133.5 304.3h1.0M119.3 299.9h1.0M122.2 296.9h1.0M125.2 295.6h1.0M133.0 295.1h1.0M138.8 297.9h1.0M126.4 293.4h1.0M118.6 301.2h1.0M132.9 305.4h1.0M122.7 295.8h1.0M133.8 304.1h1.0M125.6 302.6h1.0M137.8 298.8h1.0M136.5 299.1h1.0M136.5 302.0h1.0M133.3 294.8h1.0M128.3 294.3h1.0M134.3 294.8h1.0M140.0 297.6h1.0M139.8 297.6h1.0M122.8 296.7h1.0M132.8 295.2h1.0M125.5 303.0h1.0M137.6 299.6h1.0M132.8 294.9h1.0M127.6 293.9h1.0M126.8 294.4h1.0M127.0 302.1h1.0M123.4 296.9h1.0M121.0 301.3h1.0M133.7 294.3h1.0M131.8 293.6h1.0M124.8 303.2h1.0M124.1 297.6h1.0M130.8 295.1h1.0M127.5 294.2h1.0M135.5 303.1h1.0M132.6 293.9h1.0M125.4 302.1h1.0M138.0 297.3h1.0M116.6 298.3h1.0M125.3 302.6h1.0M119.4 298.3h1.0M134.4 302.9h1.0M120.9 298.3h1.0M122.4 298.0h1.0M136.4 297.7h1.0M127.2 302.4h1.0M137.9 296.9h1.0M138.7 297.8h1.0M134.3 294.7h1.0M137.6 300.9h1.0M120.7 301.3h1.0M136.4 297.3h1.0M123.8 297.7h1.0M126.5 294.9h1.0M134.5 295.3h1.0M125.0 295.6h1.0M137.7 299.1h1.0M132.8 293.9h1.0M122.0 296.3h1.0M137.5 301.5h1.0M120.6 298.9h1.0M119.3 298.5h1.0M129.4 294.4h1.0M137.3 301.0h1.0M129.8 293.7h1.0M121.7 297.0h1.0M121.0 298.9h1.0M138.6 298.9h1.0M123.7 300.8h1.0M126.1 296.3h1.0M135.5 302.0h1.0M121.7 300.9h1.0M126.9 302.9h1.0M118.2 300.9h1.0M135.9 302.1h1.0M134.7 295.1h1.0M137.6 297.1h1.0M123.5 300.7h1.0M122.5 299.8h1.0M133.7 293.5h1.0M120.2 300.6h1.0M136.5 300.8h1.0M137.8 301.0h1.0M136.9 297.5h1.0M122.0 296.7h1.0M137.9 301.2h1.0M126.9 295.2h1.0M140.3 299.4h1.0M138.2 295.4h1.0M123.7 295.7h1.0M130.6 294.7h1.0M124.2 297.4h1.0M139.1 298.0h1.0M123.5 299.2h1.0M120.0 298.5h1.0M137.2 300.3h1.0M128.0 303.4h1.0M138.0 297.7h1.0M134.6 302.3h1.0M138.2 300.0h1.0M124.2 299.6h1.0M136.4 296.5h1.0M137.8 297.9h1.0M139.7 299.7h1.0M140.1 298.8h1.0M135.5 301.6h1.0M117.1 298.6h1.0M125.9 301.4h1.0M136.9 297.5h1.0M133.1 303.7h1.0M127.5 302.9h1.0M127.5 294.4h1.0M119.4 298.2h1.0M134.9 294.6h1.0M118.8 300.4h1.0M133.1 303.7h1.0M137.9 300.3h1.0M131.8 294.7h1.0M120.9 295.5h1.0M126.2 301.4h1.0M122.2 296.8h1.0M139.8 301.2h1.0M137.0 297.6h1.0M122.6 295.8h1.0M137.1 301.1h1.0M134.6 302.6h1.0M122.5 301.2h1.0M132.1 295.3h1.0M121.8 295.8h1.0M139.6 299.0h1.0M128.8 294.0h1.0M134.8 294.5h1.0M118.2 297.4h1.0M123.7 297.2h1.0M124.3 296.4h1.0M122.4 298.0h1.0M138.9 300.0h1.0M139.5 300.1h1.0M136.8 301.5h1.0M137.8 296.0h1.0" stroke="#2f7ae8" stroke-width="1.0" stroke-opacity="0.95" fill="none"/>
<path d="M125.9 299.8h1.0M128.5 297.3h1.0M130.3 301.9h1.0M124.8 298.8h1.0M134.7 298.2h1.0M128.3 303.3h1.0M135.3 296.7h1.0M125.9 300.3h1.0M127.8 296.9h1.0M135.4 300.0h1.0M124.4 300.5h1.0M134.6 301.1h1.0M127.5 296.2h1.0M133.3 301.7h1.0M135.9 299.5h1.0M134.4 298.4h1.0M136.0 297.0h1.0M133.0 303.0h1.0M134.5 298.7h1.0M135.5 300.3h1.0M132.9 303.1h1.0M130.8 302.4h1.0M126.2 299.7h1.0M132.0 303.1h1.0M131.4 296.9h1.0M126.0 298.1h1.0M134.5 297.9h1.0M132.2 302.7h1.0M132.5 296.4h1.0M135.5 300.5h1.0M130.9 303.4h1.0M128.7 302.7h1.0M134.5 299.1h1.0M128.6 301.8h1.0M135.7 298.1h1.0M124.8 298.4h1.0M131.5 301.9h1.0M131.1 301.9h1.0M131.9 295.4h1.0M134.9 298.2h1.0M126.1 300.7h1.0M135.0 300.8h1.0M124.7 298.4h1.0M125.3 301.0h1.0M124.8 298.4h1.0M134.5 297.1h1.0M136.2 300.3h1.0M133.7 296.6h1.0M132.5 303.2h1.0M127.0 295.6h1.0M124.7 300.3h1.0M128.4 296.8h1.0M131.6 295.9h1.0M132.2 303.2h1.0M132.3 296.0h1.0M132.5 303.1h1.0M127.7 297.4h1.0M125.5 299.0h1.0M130.3 303.2h1.0M126.0 298.7h1.0M128.5 295.7h1.0M129.3 296.7h1.0M132.1 295.7h1.0M132.8 301.4h1.0M126.7 295.6h1.0M129.6 296.2h1.0M133.9 302.2h1.0M130.0 297.0h1.0M125.0 298.2h1.0M125.6 297.7h1.0M125.2 298.6h1.0M136.2 297.7h1.0M124.9 300.5h1.0M132.1 297.0h1.0M135.9 299.9h1.0M126.1 299.0h1.0M131.4 301.6h1.0M134.5 298.1h1.0M131.3 301.7h1.0M126.3 299.5h1.0M129.0 303.0h1.0M132.8 301.8h1.0M132.8 296.8h1.0M129.6 303.3h1.0M129.5 302.1h1.0M124.4 300.8h1.0M130.7 296.2h1.0M132.8 297.4h1.0M133.5 303.1h1.0M132.8 301.8h1.0M127.4 296.0h1.0M132.9 297.2h1.0M134.4 300.9h1.0M125.9 300.3h1.0M133.6 302.6h1.0M130.3 296.7h1.0M130.0 297.0h1.0M133.6 302.0h1.0M134.3 298.3h1.0M132.3 295.5h1.0M132.4 301.9h1.0M133.1 296.6h1.0M136.0 300.8h1.0M131.2 303.1h1.0M135.3 298.9h1.0M134.3 297.4h1.0M131.5 296.5h1.0M134.3 302.3h1.0M129.3 295.7h1.0M128.4 302.1h1.0M133.7 302.7h1.0M135.3 299.8h1.0M135.6 297.6h1.0M136.0 296.0h1.0M128.7 296.5h1.0M130.8 296.4h1.0M129.7 296.9h1.0M128.8 302.3h1.0M125.0 298.5h1.0M134.9 297.2h1.0M133.3 297.2h1.0M126.4 296.8h1.0M134.6 299.0h1.0M132.4 295.6h1.0M135.2 300.2h1.0M129.4 296.7h1.0M134.4 300.9h1.0M134.3 298.9h1.0M125.5 299.9h1.0M129.8 297.4h1.0M134.7 300.0h1.0M134.4 296.3h1.0M132.3 303.1h1.0M131.0 296.4h1.0M130.1 296.7h1.0M126.2 298.9h1.0M127.1 295.5h1.0M136.3 297.2h1.0M128.1 296.3h1.0M134.4 301.2h1.0M128.7 303.0h1.0M130.7 302.4h1.0M125.3 301.2h1.0M132.8 302.4h1.0M134.3 297.3h1.0M133.2 302.8h1.0M124.3 298.1h1.0M126.8 296.2h1.0M133.2 296.8h1.0M130.0 303.0h1.0M129.0 301.7h1.0M129.2 295.5h1.0M134.3 302.6h1.0M133.3 301.9h1.0M124.3 299.0h1.0M135.0 296.4h1.0M125.7 298.7h1.0M130.9 296.9h1.0M135.7 299.8h1.0M133.7 296.1h1.0M133.7 296.9h1.0M132.3 296.6h1.0M128.7 297.1h1.0M136.2 298.1h1.0M134.0 297.2h1.0M124.8 297.6h1.0M133.4 301.8h1.0M134.3 295.4h1.0M125.1 300.6h1.0M133.9 295.6h1.0M126.0 297.8h1.0M131.1 302.2h1.0M135.7 301.2h1.0M129.6 295.6h1.0M133.9 302.4h1.0M131.1 302.6h1.0M135.0 297.2h1.0M134.2 296.5h1.0M125.3 300.0h1.0M133.1 296.7h1.0M129.1 297.3h1.0M133.7 301.7h1.0M130.1 303.3h1.0M130.3 302.1h1.0M130.8 296.7h1.0M132.1 301.9h1.0M135.2 300.7h1.0M127.7 297.0h1.0M131.8 301.6h1.0M129.0 296.0h1.0M136.0 299.0h1.0M128.3 296.5h1.0M130.3 296.7h1.0M133.0 302.3h1.0M131.8 295.7h1.0M131.9 297.3h1.0M128.1 296.5h1.0M129.7 302.1h1.0M124.7 297.7h1.0M136.2 300.8h1.0M130.4 302.2h1.0M132.9 295.7h1.0M132.9 301.6h1.0M126.1 300.5h1.0M134.4 297.4h1.0M125.8 299.4h1.0M127.2 297.1h1.0M124.9 298.9h1.0M135.2 296.1h1.0M129.0 296.2h1.0M135.1 299.3h1.0M131.0 296.3h1.0M135.8 298.6h1.0M135.3 295.8h1.0M129.9 301.6h1.0M130.9 302.8h1.0M135.7 298.0h1.0M135.1 300.7h1.0M128.6 295.7h1.0M131.6 297.3h1.0M131.2 296.8h1.0M124.9 299.6h1.0M129.2 303.4h1.0M134.8 297.8h1.0M133.3 301.6h1.0M132.9 296.9h1.0M133.8 301.9h1.0M136.2 300.2h1.0M133.2 297.1h1.0M125.4 298.8h1.0M135.5 296.8h1.0M128.8 302.9h1.0M131.0 296.9h1.0M131.7 301.8h1.0M135.7 297.1h1.0M127.2 295.5h1.0M135.0 297.3h1.0M126.3 300.8h1.0M128.1 296.9h1.0M126.7 296.5h1.0M133.3 295.7h1.0M131.8 296.1h1.0M133.7 296.5h1.0M130.4 296.5h1.0M134.8 297.1h1.0M131.3 302.0h1.0M134.5 296.8h1.0M130.4 296.7h1.0M136.0 296.1h1.0M129.7 297.3h1.0M128.3 303.3h1.0M129.0 296.5h1.0M129.6 296.0h1.0M129.8 302.5h1.0M133.3 296.7h1.0M131.4 297.2h1.0M135.1 296.5h1.0M135.9 298.6h1.0M131.8 296.8h1.0M128.7 297.4h1.0M128.0 296.2h1.0M131.8 303.1h1.0M136.1 300.0h1.0M133.1 297.1h1.0M135.6 297.5h1.0M131.1 297.1h1.0M125.2 298.7h1.0M133.8 296.0h1.0M130.7 301.5h1.0M129.5 295.4h1.0M132.7 301.9h1.0M134.1 302.8h1.0M128.5 296.8h1.0M129.6 295.5h1.0M128.4 295.7h1.0M135.5 296.1h1.0M135.9 297.9h1.0M124.9 299.7h1.0M127.3 296.9h1.0M134.7 299.8h1.0M128.4 296.0h1.0M130.6 302.8h1.0M124.3 297.7h1.0M135.0 297.6h1.0M130.7 296.3h1.0M129.4 297.1h1.0M135.8 296.8h1.0M134.5 298.3h1.0M134.4 295.9h1.0M136.1 300.0h1.0M129.7 303.4h1.0M133.1 296.6h1.0M129.7 301.8h1.0M128.8 301.9h1.0M134.9 300.6h1.0M125.9 297.4h1.0M131.2 302.2h1.0M133.1 297.0h1.0M132.2 296.5h1.0M132.2 297.3h1.0M133.5 297.3h1.0M124.4 298.6h1.0M135.7 300.9h1.0M128.2 297.2h1.0M134.0 297.4h1.0M130.1 301.8h1.0M125.4 297.8h1.0M136.1 297.5h1.0M135.7 295.6h1.0M134.4 298.5h1.0M126.1 301.1h1.0M125.9 299.1h1.0M132.3 303.2h1.0M131.4 303.1h1.0M132.5 296.3h1.0M132.3 297.3h1.0M133.3 297.2h1.0M129.7 301.7h1.0M125.3 300.5h1.0M129.7 302.2h1.0M131.3 302.5h1.0M129.4 295.8h1.0M131.0 296.4h1.0M126.3 300.9h1.0M132.5 296.7h1.0M131.4 297.2h1.0M130.9 302.8h1.0M125.1 300.1h1.0M135.3 301.2h1.0M136.2 299.2h1.0M133.0 301.7h1.0M130.4 301.6h1.0M125.3 300.6h1.0M132.1 301.4h1.0M128.1 295.6h1.0M128.4 301.8h1.0M133.8 296.5h1.0M131.5 301.6h1.0M124.6 298.0h1.0M126.0 298.5h1.0M135.8 299.9h1.0M125.7 299.2h1.0M132.0 296.9h1.0M135.3 298.3h1.0M126.0 299.6h1.0M130.0 296.1h1.0M125.9 298.2h1.0M126.1 300.5h1.0M134.5 295.8h1.0M131.9 296.4h1.0M129.4 296.6h1.0M126.9 296.9h1.0M133.9 297.2h1.0M127.8 296.3h1.0M127.8 295.6h1.0M135.8 296.8h1.0M134.4 296.8h1.0M134.0 296.2h1.0M132.6 296.5h1.0M134.9 297.7h1.0M124.8 297.5h1.0M130.4 302.3h1.0M134.2 295.6h1.0M135.4 295.6h1.0M124.5 300.8h1.0M135.5 296.6h1.0M135.8 298.6h1.0M125.3 297.4h1.0M125.0 299.6h1.0M130.5 296.0h1.0M135.5 300.6h1.0M128.2 295.4h1.0M136.2 298.5h1.0M133.3 297.1h1.0M126.4 297.3h1.0M135.3 298.6h1.0M126.3 297.7h1.0M131.1 303.2h1.0M128.7 297.2h1.0M133.6 295.5h1.0M125.8 299.9h1.0M126.0 299.5h1.0M133.9 296.4h1.0M124.5 299.1h1.0M130.4 302.9h1.0M135.3 300.1h1.0M135.7 299.8h1.0M135.3 300.9h1.0M131.2 296.5h1.0M135.1 295.5h1.0M126.2 299.2h1.0M135.2 299.2h1.0M133.6 297.1h1.0M125.3 299.1h1.0M132.4 302.6h1.0M134.9 297.2h1.0M134.6 295.4h1.0M125.7 300.1h1.0M132.1 296.8h1.0M132.2 295.8h1.0M124.8 298.4h1.0M126.4 296.6h1.0M125.3 298.4h1.0M135.7 299.7h1.0M136.1 297.0h1.0M136.1 298.6h1.0M127.4 296.3h1.0M133.8 296.0h1.0M125.8 300.7h1.0M125.9 300.2h1.0M128.3 297.0h1.0M130.9 296.5h1.0M129.6 297.3h1.0M126.3 300.5h1.0M136.0 296.8h1.0M132.9 296.8h1.0M127.0 296.2h1.0M129.5 297.2h1.0M129.9 295.5h1.0M125.5 297.5h1.0M133.4 302.0h1.0M134.3 295.8h1.0M125.7 297.4h1.0M130.3 295.7h1.0M135.0 296.8h1.0M125.6 298.2h1.0M129.1 301.6h1.0M129.3 295.6h1.0M124.8 297.6h1.0M130.5 297.3h1.0M132.6 302.4h1.0M131.7 302.6h1.0M134.1 297.3h1.0M136.0 296.2h1.0M133.4 302.1h1.0M134.9 300.8h1.0M135.3 296.6h1.0M133.9 302.4h1.0M131.1 297.1h1.0M135.1 299.5h1.0M130.3 295.7h1.0M135.0 298.7h1.0M127.5 296.7h1.0M136.2 296.1h1.0M133.5 301.9h1.0M126.9 296.1h1.0M124.6 301.0h1.0M130.4 302.9h1.0M127.5 295.9h1.0M131.5 297.0h1.0M131.7 302.2h1.0" stroke="#26b2c8" stroke-width="1.0" stroke-opacity="1" fill="none"/>
<path d="M127.6 299.5h1.0M127.1 297.5h1.0M134.1 298.2h1.0M126.3 299.8h1.0M130.5 297.5h1.0M129.5 299.0h1.0M127.9 298.8h1.0M126.6 299.9h1.0M127.9 300.8h1.0M133.4 299.3h1.0M129.5 300.4h1.0M128.1 299.2h1.0M129.1 298.3h1.0M132.9 300.3h1.0M128.6 300.6h1.0M132.9 297.6h1.0M130.2 300.6h1.0M127.9 300.8h1.0M132.2 298.4h1.0M133.7 297.7h1.0M128.8 300.1h1.0M132.9 299.4h1.0M127.5 300.2h1.0M130.6 299.1h1.0M128.7 298.3h1.0M134.2 300.0h1.0M129.9 300.2h1.0M130.6 299.5h1.0M131.0 300.5h1.0M132.2 298.8h1.0M133.6 300.4h1.0M127.5 298.3h1.0M126.4 299.8h1.0M127.0 299.5h1.0M130.0 299.5h1.0M130.6 297.6h1.0M128.0 300.3h1.0M128.3 298.2h1.0M133.1 297.8h1.0M132.5 298.1h1.0M127.4 300.6h1.0M133.6 300.8h1.0M131.6 300.5h1.0M126.7 299.7h1.0M130.5 301.2h1.0M128.6 297.9h1.0M133.4 297.7h1.0M131.7 300.8h1.0M129.5 301.0h1.0M132.9 300.3h1.0M126.5 299.2h1.0M130.1 301.1h1.0M127.6 299.5h1.0M129.9 300.4h1.0M133.5 297.6h1.0M132.9 301.0h1.0M126.5 298.8h1.0M128.8 299.9h1.0M132.3 298.9h1.0M133.2 298.6h1.0M131.0 298.6h1.0M133.8 300.2h1.0M129.3 298.3h1.0M126.6 301.3h1.0M127.5 299.2h1.0M131.3 300.2h1.0M127.1 301.3h1.0M132.3 299.0h1.0M131.0 301.1h1.0M133.8 300.1h1.0M130.5 300.3h1.0M131.8 300.3h1.0M130.0 301.1h1.0M129.7 300.8h1.0M131.4 299.5h1.0M128.3 300.4h1.0M130.3 297.7h1.0M129.8 300.2h1.0M129.8 298.1h1.0M128.0 301.3h1.0M130.8 301.2h1.0M128.1 300.5h1.0M128.3 299.9h1.0M130.0 300.6h1.0M127.9 298.4h1.0M127.3 298.0h1.0M132.6 299.0h1.0M132.4 299.2h1.0M129.4 300.7h1.0M126.8 300.0h1.0M132.5 299.4h1.0M132.8 298.3h1.0M133.3 301.2h1.0M133.1 297.5h1.0M129.3 300.7h1.0M133.2 299.6h1.0M128.5 299.1h1.0M126.4 300.2h1.0M132.2 299.1h1.0M130.1 300.7h1.0M128.3 301.3h1.0M131.9 301.1h1.0M132.8 297.6h1.0M128.3 298.3h1.0M133.2 297.9h1.0M127.8 298.1h1.0M129.8 299.9h1.0M131.8 301.1h1.0M128.2 300.3h1.0M131.6 298.0h1.0M133.1 298.7h1.0M130.5 300.2h1.0M128.2 300.2h1.0M127.1 300.5h1.0M130.2 299.9h1.0M129.6 298.2h1.0M127.6 301.2h1.0M132.2 300.9h1.0M128.1 299.6h1.0M130.3 300.5h1.0M127.6 298.3h1.0M131.9 300.8h1.0M127.3 300.4h1.0M132.0 300.1h1.0M133.7 301.2h1.0M131.2 299.4h1.0M134.1 298.7h1.0M131.2 297.8h1.0M129.6 297.5h1.0M129.6 299.9h1.0M127.4 299.8h1.0M128.1 298.9h1.0M129.2 298.8h1.0M127.8 298.4h1.0M133.5 297.6h1.0M129.3 300.1h1.0M126.5 299.1h1.0M129.7 300.4h1.0M132.5 299.2h1.0M132.7 297.7h1.0M130.4 299.9h1.0M127.9 297.6h1.0M127.5 301.0h1.0M126.4 301.3h1.0M130.5 299.6h1.0M127.4 297.9h1.0M127.7 299.5h1.0M126.9 299.1h1.0M131.8 300.9h1.0M127.7 300.2h1.0M133.8 300.4h1.0M133.2 301.1h1.0M130.2 298.0h1.0M131.7 300.6h1.0M128.8 301.1h1.0M129.7 298.7h1.0M131.9 299.2h1.0M128.6 300.3h1.0M134.0 298.8h1.0M127.4 297.5h1.0M131.9 299.7h1.0M128.8 297.9h1.0M132.9 301.0h1.0M132.8 299.6h1.0M130.2 298.3h1.0M128.5 298.2h1.0M132.7 300.8h1.0M133.8 297.9h1.0M133.4 297.4h1.0M130.8 298.9h1.0M128.9 299.7h1.0M127.5 300.7h1.0M130.3 300.6h1.0M129.8 299.1h1.0M126.5 298.0h1.0M133.4 300.5h1.0M133.4 299.9h1.0M128.4 297.5h1.0M130.5 300.0h1.0M130.2 297.7h1.0M130.1 298.5h1.0M129.8 298.2h1.0M129.7 301.3h1.0M134.0 298.9h1.0M133.3 297.5h1.0M129.8 297.9h1.0M131.0 300.9h1.0M126.7 299.5h1.0M126.7 300.8h1.0M133.4 300.3h1.0M131.0 300.6h1.0M133.8 300.8h1.0M132.2 297.6h1.0M134.1 298.4h1.0M126.6 299.1h1.0M127.4 299.1h1.0M128.1 301.3h1.0M128.6 298.0h1.0M133.7 297.9h1.0M126.4 299.0h1.0M130.0 299.3h1.0M128.3 297.8h1.0M126.5 297.9h1.0M132.2 301.2h1.0M127.7 300.8h1.0M126.9 297.9h1.0M131.6 298.0h1.0M130.6 300.0h1.0M128.9 299.9h1.0M133.2 299.5h1.0M129.6 298.7h1.0M133.2 300.7h1.0M130.3 298.6h1.0M129.5 297.8h1.0M128.4 298.1h1.0M134.2 299.6h1.0M130.5 299.7h1.0M129.2 300.2h1.0M128.6 298.5h1.0M128.6 299.3h1.0M128.8 300.1h1.0M128.9 299.9h1.0M133.5 301.3h1.0M129.4 298.9h1.0M128.3 298.1h1.0M132.9 298.7h1.0M133.2 300.7h1.0M129.5 297.6h1.0M133.0 299.3h1.0M128.5 298.4h1.0M129.3 299.7h1.0M129.2 298.1h1.0M131.6 299.4h1.0M130.1 298.2h1.0M127.3 297.8h1.0M127.3 297.9h1.0M127.2 298.7h1.0M134.1 299.7h1.0M130.8 298.9h1.0M131.2 301.0h1.0M134.1 298.9h1.0M131.5 297.5h1.0M127.4 300.8h1.0M134.1 300.7h1.0M132.5 300.5h1.0M131.4 301.4h1.0M131.5 298.9h1.0M132.5 301.3h1.0M132.8 300.4h1.0M131.2 300.3h1.0M132.4 297.9h1.0M126.9 299.7h1.0M133.5 299.4h1.0M129.9 300.3h1.0M132.7 298.2h1.0M132.4 299.1h1.0M129.1 297.6h1.0M126.4 300.3h1.0M132.2 298.7h1.0M130.2 297.5h1.0M131.5 298.0h1.0M132.6 299.4h1.0M133.8 298.4h1.0M131.3 297.5h1.0M126.9 301.4h1.0M132.6 299.6h1.0M127.8 299.3h1.0M132.0 299.7h1.0M130.2 300.5h1.0M132.1 300.2h1.0M128.4 298.4h1.0M130.4 298.7h1.0M133.8 298.9h1.0M128.6 300.0h1.0M129.2 298.8h1.0M130.4 300.4h1.0M132.3 299.9h1.0M129.4 297.8h1.0M129.3 300.4h1.0M126.3 299.4h1.0M130.9 298.9h1.0M133.6 298.8h1.0M130.6 300.3h1.0M127.9 300.0h1.0M127.7 300.8h1.0M131.9 299.7h1.0M131.5 297.8h1.0M132.2 298.8h1.0M134.2 298.9h1.0M130.6 298.9h1.0M126.7 300.0h1.0M131.9 298.1h1.0M133.0 299.7h1.0M128.0 298.0h1.0M134.2 300.1h1.0M132.9 298.5h1.0M128.9 297.8h1.0M134.0 298.7h1.0M133.9 300.6h1.0M132.1 299.9h1.0M127.7 298.9h1.0M131.5 298.4h1.0M128.8 299.2h1.0M133.1 299.9h1.0M127.7 299.7h1.0M128.8 299.8h1.0M128.9 299.0h1.0M126.6 301.1h1.0M133.2 299.2h1.0M131.4 297.6h1.0M126.5 298.9h1.0M130.2 299.3h1.0M128.5 300.1h1.0M131.0 297.9h1.0M126.6 299.5h1.0M131.3 301.0h1.0M132.8 298.9h1.0M133.8 301.1h1.0M128.9 300.2h1.0M131.7 300.6h1.0M131.4 300.5h1.0M129.4 299.1h1.0M128.3 299.5h1.0M128.8 297.6h1.0M126.7 299.2h1.0M131.0 298.6h1.0M126.5 298.3h1.0M130.3 300.1h1.0M126.8 300.1h1.0M132.3 300.0h1.0M128.9 301.2h1.0M128.1 299.3h1.0M132.8 299.4h1.0M129.6 300.8h1.0M133.8 297.9h1.0M133.0 298.4h1.0M127.8 298.3h1.0M127.0 299.2h1.0M127.5 301.0h1.0M128.3 298.9h1.0M131.1 297.4h1.0M127.6 300.8h1.0M128.5 298.7h1.0M127.7 298.5h1.0M128.8 298.4h1.0M131.1 299.1h1.0M132.3 298.2h1.0M130.1 297.9h1.0M129.2 298.5h1.0M133.6 299.2h1.0M130.6 300.7h1.0M133.9 300.2h1.0M129.9 300.6h1.0M129.4 300.1h1.0M129.0 298.7h1.0M132.3 299.8h1.0M130.3 300.6h1.0M131.8 297.5h1.0M127.6 301.0h1.0M132.6 298.7h1.0M131.9 299.2h1.0M129.9 301.0h1.0M131.6 298.7h1.0M129.9 299.6h1.0M131.9 298.7h1.0M133.5 298.6h1.0M127.3 301.0h1.0M133.7 299.8h1.0M129.3 300.0h1.0M127.5 300.1h1.0M129.3 300.6h1.0M127.7 300.9h1.0M133.6 301.2h1.0M128.5 298.0h1.0M132.7 299.3h1.0M127.0 299.8h1.0M127.7 297.8h1.0M129.2 301.4h1.0M134.1 299.6h1.0M132.5 301.0h1.0M129.2 301.4h1.0M130.7 298.7h1.0M127.8 297.8h1.0M129.6 297.5h1.0M127.1 299.9h1.0M133.9 300.4h1.0M130.7 300.6h1.0M130.0 299.0h1.0M127.5 299.6h1.0M130.9 299.6h1.0M130.9 298.3h1.0M129.5 300.8h1.0M131.7 299.7h1.0M129.4 299.7h1.0M132.5 297.7h1.0M127.8 300.5h1.0M132.6 299.6h1.0M132.7 299.6h1.0M127.4 298.5h1.0M131.6 300.4h1.0" stroke="#34d474" stroke-width="1.0" stroke-opacity="1" fill="none"/>
<line x1="94.3" y1="265.4" x2="193.5" y2="265.4" stroke="#8c8c8c" stroke-width="1"/>
<line x1="193.5" y1="264.9" x2="193.5" y2="364.5" stroke="#3a3a3a" stroke-width="1"/>
<line x1="94.3" y1="265.4" x2="94.3" y2="365.1" stroke="#000" stroke-width="1.2"/>
<line x1="93.7" y1="364.5" x2="193.5" y2="364.5" stroke="#000" stroke-width="1.2"/>
<ellipse cx="130.9" cy="293.5" rx="17.6" ry="15.6" fill="none" stroke="#d062c6" stroke-width="1"/>
<line x1="140.5" y1="322" x2="140.5" y2="364" stroke="#d890d0" stroke-width="0.8"/>
<line x1="169.2" y1="315" x2="169.2" y2="364" stroke="#e0a0d0" stroke-width="0.8"/>
<path d="M157.3 461.6h1.0M163.6 475.4h1.0M162.0 460.1h1.0M145.9 426.9h1.0M138.1 446.1h1.0M143.1 457.4h1.0M160.3 441.0h1.0M159.1 469.8h1.0M159.5 438.6h1.0M138.7 429.1h1.0M156.8 458.9h1.0M159.2 435.6h1.0M140.0 437.8h1.0M160.9 454.0h1.0M164.1 441.6h1.0M159.2 439.7h1.0M159.0 453.3h1.0M159.7 454.6h1.0M144.9 428.2h1.0M166.2 464.9h1.0M149.7 477.4h1.0M160.3 471.6h1.0M158.8 468.5h1.0M161.0 470.7h1.0M140.6 431.1h1.0M160.3 434.9h1.0M142.2 427.2h1.0M158.5 449.1h1.0M137.6 429.4h1.0M142.1 432.9h1.0M160.8 439.8h1.0M165.2 460.7h1.0M161.6 437.2h1.0M157.9 463.1h1.0M137.7 433.3h1.0M157.9 461.8h1.0M141.2 426.9h1.0M142.3 442.5h1.0M158.4 433.5h1.0M137.3 426.4h1.0M163.5 432.9h1.0M161.2 430.1h1.0M150.1 426.2h1.0M156.5 476.8h1.0M137.1 435.0h1.0M158.5 455.2h1.0M158.4 444.3h1.0M160.1 455.7h1.0M160.6 454.0h1.0M141.3 433.5h1.0M138.9 437.0h1.0M161.6 446.3h1.0M173.2 467.1h1.0M139.0 436.9h1.0M157.1 468.2h1.0M161.7 438.3h1.0M162.6 430.6h1.0M138.4 438.9h1.0M163.4 473.4h1.0M157.5 469.6h1.0M159.0 431.1h1.0M159.9 459.1h1.0M158.5 474.3h1.0M162.8 431.4h1.0M162.2 440.6h1.0M158.4 430.0h1.0M137.0 428.7h1.0M159.4 448.7h1.0M158.8 432.7h1.0M160.5 435.7h1.0M157.7 460.8h1.0M158.9 465.4h1.0M163.0 460.3h1.0M160.3 426.1h1.0M158.9 436.4h1.0M165.4 468.4h1.0M160.1 471.3h1.0M135.2 443.4h1.0M158.4 429.1h1.0M139.2 443.5h1.0M158.8 459.9h1.0M157.8 459.2h1.0M146.5 476.5h1.0M160.1 473.0h1.0M143.8 426.1h1.0M156.4 466.2h1.0M159.4 452.2h1.0M136.9 432.4h1.0M161.5 454.4h1.0M153.1 477.1h1.0M166.1 475.7h1.0M157.0 427.0h1.0M135.3 433.4h1.0M161.5 441.8h1.0M161.5 458.3h1.0M158.4 471.5h1.0M160.7 477.1h1.0M161.7 427.4h1.0M164.5 466.2h1.0M156.8 426.6h1.0M141.8 433.8h1.0M157.7 427.3h1.0M149.1 476.9h1.0M143.7 454.3h1.0M163.7 435.6h1.0M162.2 466.3h1.0M157.1 476.7h1.0M161.2 444.0h1.0M161.5 450.2h1.0M162.6 472.0h1.0M158.4 476.7h1.0M161.6 461.0h1.0M164.8 472.2h1.0M164.3 476.4h1.0M158.1 465.8h1.0M159.6 448.9h1.0M160.1 465.9h1.0M138.7 443.1h1.0M160.2 448.5h1.0M164.8 449.6h1.0M158.6 461.3h1.0M156.3 426.7h1.0M137.1 431.8h1.0M140.2 440.7h1.0M143.0 454.9h1.0M156.7 465.2h1.0M156.4 477.3h1.0M159.9 449.9h1.0M160.0 434.1h1.0M149.5 477.3h1.0M136.4 430.3h1.0M158.7 459.8h1.0M141.5 433.1h1.0M161.1 461.5h1.0M160.1 455.8h1.0M159.9 471.1h1.0M135.2 436.5h1.0M140.0 441.3h1.0M139.0 446.3h1.0M138.6 432.6h1.0M143.8 455.8h1.0M159.6 452.0h1.0M162.4 470.1h1.0M159.0 465.5h1.0M156.9 467.4h1.0M143.2 477.1h1.0M140.2 428.6h1.0M159.3 436.0h1.0M143.6 457.2h1.0M146.5 476.9h1.0M156.8 459.2h1.0M149.3 476.9h1.0M158.9 441.8h1.0M168.9 476.2h1.0M130.8 430.3h1.0M157.8 470.9h1.0M158.1 427.2h1.0M162.9 466.3h1.0M158.4 460.6h1.0M132.9 448.5h1.0M147.0 476.5h1.0M159.6 457.5h1.0M162.8 456.6h1.0M164.1 452.5h1.0M159.7 442.3h1.0M160.6 451.3h1.0M158.3 458.2h1.0M158.8 465.3h1.0M160.8 461.0h1.0M160.4 473.3h1.0M138.0 438.2h1.0M160.7 433.2h1.0M162.2 429.2h1.0M158.5 464.7h1.0M142.0 433.5h1.0M145.7 426.2h1.0M164.3 443.3h1.0M143.2 476.4h1.0M158.8 458.8h1.0M162.6 445.2h1.0M166.5 433.9h1.0M135.8 444.2h1.0M146.8 477.5h1.0M162.7 470.2h1.0M161.1 434.2h1.0M160.1 447.6h1.0M160.8 437.6h1.0M159.3 432.5h1.0M164.7 466.8h1.0M157.3 476.7h1.0M158.8 433.4h1.0M158.9 426.5h1.0M159.7 473.4h1.0M163.2 459.5h1.0M164.6 466.3h1.0M162.5 440.3h1.0M160.0 436.2h1.0M156.8 464.7h1.0M160.8 434.6h1.0M143.4 477.0h1.0M158.7 438.6h1.0M151.9 476.8h1.0M159.4 434.1h1.0M146.2 476.5h1.0M152.1 477.5h1.0M158.3 444.3h1.0M162.1 447.7h1.0M162.0 430.6h1.0M164.0 470.2h1.0M160.8 452.2h1.0M141.4 427.7h1.0M158.5 445.2h1.0M161.3 436.6h1.0M165.7 468.9h1.0M160.3 445.6h1.0M143.4 427.1h1.0M159.2 441.9h1.0M131.2 452.4h1.0M171.5 468.8h1.0M157.7 468.2h1.0M139.3 444.8h1.0M157.1 471.0h1.0M140.2 426.6h1.0M162.2 431.3h1.0M158.9 441.7h1.0M161.3 458.1h1.0M159.1 431.4h1.0M143.9 456.7h1.0M139.5 435.0h1.0M127.3 456.1h1.0M145.0 477.4h1.0M159.7 458.6h1.0M139.3 429.5h1.0M163.8 451.1h1.0M159.9 435.8h1.0M159.0 453.5h1.0M157.3 467.0h1.0M162.0 465.1h1.0M141.6 432.5h1.0M139.4 439.2h1.0M159.0 430.8h1.0M159.4 431.2h1.0M160.4 456.8h1.0M158.0 476.5h1.0M143.9 426.6h1.0M162.1 468.1h1.0M140.3 447.7h1.0M142.0 433.5h1.0M159.1 437.0h1.0M138.8 444.6h1.0M160.1 472.4h1.0M161.7 448.7h1.0M144.3 477.0h1.0M161.3 468.4h1.0M162.0 461.3h1.0M156.4 468.0h1.0M160.7 433.7h1.0M140.3 429.3h1.0M151.3 476.6h1.0M143.6 427.1h1.0M151.6 477.1h1.0M156.5 458.0h1.0M160.4 446.7h1.0M159.2 433.0h1.0M138.8 427.3h1.0M161.8 471.3h1.0M160.0 445.2h1.0M159.5 473.8h1.0M159.2 441.8h1.0M164.7 447.6h1.0M159.4 429.9h1.0M158.6 436.8h1.0M154.2 476.6h1.0M160.2 457.4h1.0M159.8 461.6h1.0M157.2 457.7h1.0M149.8 476.5h1.0M141.8 428.5h1.0M158.3 439.9h1.0M162.0 446.7h1.0M161.8 460.7h1.0M138.7 435.2h1.0M159.3 428.2h1.0M135.1 444.8h1.0M164.9 468.1h1.0M138.3 445.6h1.0M159.0 436.5h1.0M154.2 476.5h1.0M166.9 475.8h1.0M158.6 476.6h1.0M168.2 442.8h1.0M148.1 476.6h1.0M159.2 462.1h1.0M167.2 474.7h1.0M167.5 464.2h1.0M136.7 438.6h1.0M161.1 459.8h1.0M140.5 442.3h1.0M156.9 463.6h1.0M160.6 449.7h1.0M140.3 447.7h1.0M142.6 476.4h1.0M145.5 426.7h1.0M159.1 438.1h1.0M162.1 467.9h1.0M162.0 466.6h1.0M137.6 429.9h1.0M159.9 428.4h1.0M164.8 441.3h1.0M158.3 437.2h1.0M152.3 477.4h1.0M158.5 426.8h1.0M139.6 438.2h1.0M156.8 477.3h1.0M136.2 446.0h1.0M165.5 470.6h1.0M158.7 457.7h1.0M168.3 475.2h1.0M145.3 427.3h1.0M158.3 477.4h1.0M156.3 463.4h1.0M144.1 426.8h1.0M161.1 463.2h1.0M139.1 447.5h1.0M137.1 446.1h1.0M159.3 470.3h1.0M158.5 426.8h1.0M142.0 429.7h1.0M169.7 458.1h1.0M160.1 428.7h1.0M159.3 474.4h1.0M161.8 475.3h1.0M160.2 457.1h1.0M160.8 470.7h1.0M165.8 468.4h1.0M156.4 471.0h1.0M165.1 472.2h1.0M131.4 437.2h1.0M160.1 463.7h1.0M167.0 457.1h1.0M160.4 426.1h1.0M136.7 429.0h1.0M138.8 434.9h1.0M163.9 433.0h1.0M142.3 431.7h1.0M142.8 427.6h1.0M157.7 466.3h1.0M161.5 450.3h1.0M146.1 426.5h1.0M157.3 462.2h1.0M163.0 462.4h1.0M142.5 427.9h1.0M162.1 436.9h1.0M162.7 430.2h1.0M142.0 428.1h1.0M155.9 476.4h1.0M160.0 437.4h1.0M133.3 428.2h1.0M135.9 433.8h1.0M139.0 441.6h1.0M167.1 475.3h1.0M163.4 426.8h1.0M142.1 432.3h1.0M158.6 464.7h1.0M130.0 427.0h1.0M143.3 476.9h1.0M159.4 465.6h1.0M159.8 464.9h1.0M157.2 457.6h1.0M157.6 465.9h1.0M159.7 446.0h1.0M161.7 434.2h1.0M161.2 441.3h1.0M139.7 432.8h1.0M161.3 476.4h1.0M137.7 440.7h1.0M158.7 460.4h1.0M158.7 451.5h1.0M158.3 430.3h1.0M144.7 477.4h1.0M158.7 445.9h1.0M137.8 443.8h1.0M158.7 456.8h1.0M161.5 471.6h1.0M158.3 449.2h1.0M140.8 432.1h1.0M159.4 445.6h1.0M159.2 460.5h1.0M137.1 427.2h1.0M160.2 440.1h1.0M160.2 474.1h1.0M158.7 462.3h1.0M162.9 474.5h1.0M141.9 444.1h1.0M162.7 452.8h1.0M158.5 429.8h1.0M136.2 436.8h1.0M158.6 452.9h1.0M162.4 467.2h1.0M135.1 427.5h1.0M161.9 477.4h1.0M134.7 445.9h1.0M161.2 470.6h1.0M155.7 477.0h1.0M159.6 440.2h1.0M142.5 456.9h1.0M135.2 442.5h1.0M158.7 430.4h1.0M149.6 477.0h1.0M160.8 429.0h1.0M147.8 476.5h1.0M162.5 465.9h1.0M162.7 476.1h1.0M153.5 426.1h1.0M142.4 457.4h1.0M141.1 429.7h1.0M141.4 431.4h1.0M139.3 445.5h1.0M146.2 428.0h1.0M157.0 476.4h1.0M140.7 426.8h1.0M159.8 454.3h1.0M161.1 467.7h1.0M144.1 477.2h1.0M159.4 459.7h1.0M169.3 473.5h1.0M157.9 471.1h1.0M161.2 429.8h1.0M160.1 465.7h1.0M168.4 472.6h1.0M156.9 476.9h1.0M169.2 442.9h1.0M147.7 477.2h1.0M140.2 436.7h1.0M127.3 440.6h1.0M160.4 428.8h1.0M156.3 467.9h1.0M163.3 473.3h1.0M135.8 437.1h1.0M138.8 428.2h1.0M158.4 456.1h1.0M144.2 427.2h1.0M157.2 427.5h1.0M132.0 434.1h1.0M158.3 451.4h1.0M136.3 440.4h1.0M145.2 427.0h1.0M133.4 449.1h1.0M162.0 427.3h1.0M161.4 473.4h1.0M162.6 471.7h1.0M160.9 434.7h1.0M142.1 427.3h1.0M139.7 443.9h1.0M159.5 438.1h1.0M160.5 448.6h1.0M156.6 458.5h1.0M160.2 448.3h1.0M138.7 438.9h1.0M143.9 455.5h1.0M141.0 443.3h1.0M124.5 452.2h1.0M116.0 450.6h1.0M113.5 462.7h1.0M139.7 440.1h1.0M130.3 447.6h1.0M107.6 456.4h1.0M117.4 472.3h1.0M130.6 431.3h1.0M102.6 426.8h1.0M133.8 448.5h1.0M108.2 451.6h1.0M119.3 445.6h1.0M110.3 470.8h1.0M113.4 470.5h1.0M138.6 442.6h1.0M138.1 425.0h1.0M116.4 429.1h1.0M118.1 445.4h1.0M115.8 439.2h1.0M119.3 451.7h1.0M104.3 460.3h1.0M140.5 428.3h1.0M118.7 467.5h1.0M101.5 476.3h1.0M122.7 440.1h1.0M118.0 455.1h1.0M115.3 471.3h1.0M97.2 469.2h1.0M132.9 446.3h1.0M127.6 417.9h1.0M122.1 455.3h1.0M113.2 462.7h1.0M128.8 441.1h1.0M122.9 444.5h1.0M128.5 442.0h1.0M126.0 433.5h1.0M132.7 436.8h1.0M122.8 447.8h1.0M98.7 460.0h1.0M100.9 435.7h1.0M135.5 444.4h1.0M102.8 461.7h1.0M111.6 458.4h1.0M137.4 433.8h1.0M101.2 449.2h1.0M120.6 452.0h1.0M109.9 451.0h1.0M118.2 461.0h1.0M113.5 427.0h1.0M96.2 457.1h1.0M106.3 451.2h1.0M123.8 448.4h1.0M125.8 459.5h1.0M118.2 435.3h1.0M128.4 443.2h1.0M125.5 459.3h1.0M137.4 431.2h1.0M116.0 459.4h1.0M102.6 464.3h1.0M121.3 471.1h1.0M112.7 446.6h1.0M118.3 453.5h1.0M117.6 477.1h1.0M116.6 469.5h1.0M113.3 436.9h1.0M113.3 452.8h1.0M113.3 447.9h1.0M119.1 453.6h1.0M127.2 449.2h1.0M115.1 469.3h1.0M118.6 440.1h1.0M125.9 477.1h1.0M129.4 476.7h1.0M124.2 455.7h1.0M108.3 423.9h1.0M139.4 435.9h1.0M108.1 448.4h1.0M108.7 471.8h1.0M128.2 454.7h1.0M131.9 439.0h1.0M130.8 437.3h1.0M118.1 436.3h1.0M102.0 455.7h1.0M124.9 429.0h1.0M117.3 464.8h1.0M137.1 439.4h1.0M109.4 452.0h1.0M100.9 449.5h1.0M115.5 458.0h1.0M136.8 427.8h1.0M104.7 466.7h1.0M127.4 459.1h1.0M106.6 444.5h1.0M137.2 434.1h1.0M124.5 476.3h1.0M116.9 472.3h1.0M100.8 473.5h1.0M138.3 444.1h1.0M114.8 453.2h1.0M117.7 462.6h1.0M119.9 452.5h1.0M107.2 456.9h1.0M109.0 471.6h1.0M139.7 420.9h1.0M117.4 459.4h1.0M110.1 459.8h1.0M115.1 449.0h1.0M112.6 477.4h1.0M119.5 455.1h1.0M117.8 457.0h1.0M100.9 465.7h1.0M128.8 436.1h1.0M124.3 460.7h1.0M115.4 450.5h1.0M126.0 449.9h1.0M111.6 468.9h1.0M106.7 455.1h1.0M136.9 445.3h1.0M112.8 463.5h1.0M130.0 434.3h1.0M126.2 449.5h1.0M120.3 446.7h1.0M130.9 443.8h1.0M125.4 448.4h1.0M121.1 433.1h1.0M112.0 444.7h1.0M130.9 449.4h1.0M102.7 475.4h1.0M126.3 449.8h1.0M113.3 450.3h1.0M115.6 475.0h1.0M119.6 463.9h1.0M103.4 452.1h1.0M119.7 448.4h1.0M106.8 448.9h1.0M114.4 450.8h1.0M119.6 456.9h1.0M125.2 454.2h1.0M134.2 440.1h1.0M116.6 467.2h1.0M120.1 443.9h1.0M103.3 456.8h1.0M129.8 445.4h1.0M111.6 466.5h1.0M118.9 435.4h1.0M121.4 424.8h1.0M117.6 426.3h1.0M116.8 465.0h1.0M106.7 475.9h1.0M109.1 448.9h1.0M118.3 466.0h1.0M120.2 475.6h1.0M112.0 472.3h1.0M113.1 467.2h1.0M106.4 432.1h1.0M119.7 468.0h1.0M110.3 440.3h1.0M140.9 419.7h1.0M125.3 452.1h1.0M111.5 465.5h1.0M131.9 453.2h1.0M119.3 475.5h1.0M105.2 475.5h1.0M119.1 434.9h1.0M127.8 443.0h1.0M109.9 451.5h1.0M123.7 450.8h1.0M135.7 438.3h1.0M113.9 426.5h1.0M135.4 447.8h1.0M115.3 428.1h1.0M121.0 444.8h1.0M110.1 425.0h1.0M108.3 448.9h1.0M138.5 440.9h1.0M110.9 463.1h1.0M107.5 467.3h1.0M130.8 444.4h1.0M124.5 453.0h1.0M113.0 462.0h1.0M116.8 465.4h1.0M131.6 429.9h1.0M125.1 470.0h1.0M108.3 473.2h1.0M112.2 471.9h1.0M132.8 446.3h1.0M99.0 476.8h1.0M122.7 471.2h1.0M139.0 426.8h1.0M123.5 446.2h1.0M111.8 471.4h1.0M139.7 432.4h1.0M131.5 477.3h1.0M114.6 461.0h1.0M109.6 441.9h1.0M110.1 475.3h1.0M106.1 459.9h1.0M99.7 436.6h1.0M123.9 431.5h1.0M108.0 459.5h1.0M121.0 477.4h1.0M100.8 467.3h1.0M108.2 459.7h1.0M115.2 444.4h1.0M128.2 440.2h1.0M134.3 440.8h1.0M112.3 455.5h1.0M136.5 439.3h1.0M101.4 476.7h1.0M106.1 461.4h1.0M104.5 460.8h1.0M116.2 476.2h1.0M120.6 472.1h1.0M115.7 452.3h1.0M126.5 456.3h1.0M132.1 425.5h1.0M102.4 468.0h1.0M121.5 471.1h1.0M110.6 447.4h1.0M113.6 461.7h1.0M99.3 458.4h1.0M110.3 475.5h1.0M117.5 451.3h1.0M116.6 443.7h1.0M125.1 445.3h1.0M112.2 468.0h1.0M132.1 447.7h1.0M120.6 461.6h1.0M129.9 446.2h1.0M121.9 474.5h1.0M110.5 428.9h1.0M118.4 464.6h1.0M103.1 467.5h1.0M112.9 457.8h1.0M115.3 476.6h1.0M130.0 445.1h1.0M110.0 457.0h1.0M114.7 461.7h1.0M121.5 457.2h1.0M128.7 421.8h1.0M104.1 446.0h1.0M117.2 473.5h1.0M116.2 465.1h1.0M101.2 476.2h1.0M130.2 477.2h1.0M121.3 462.0h1.0M123.7 461.4h1.0M135.8 443.3h1.0M125.0 456.1h1.0M123.7 444.6h1.0M136.6 445.3h1.0M115.2 419.6h1.0M105.9 455.6h1.0M133.7 452.6h1.0M125.5 451.0h1.0M126.4 458.0h1.0M120.0 440.3h1.0M130.3 443.4h1.0M121.9 457.4h1.0M137.0 438.8h1.0M109.8 440.0h1.0M135.2 437.1h1.0M101.4 445.7h1.0M109.6 466.3h1.0M101.5 447.3h1.0M107.9 441.0h1.0M126.5 459.6h1.0M115.2 477.4h1.0M133.8 439.1h1.0M135.2 446.5h1.0M123.7 454.9h1.0M111.2 465.1h1.0M139.5 444.8h1.0M118.4 452.7h1.0M133.5 448.9h1.0M126.4 426.8h1.0M116.4 473.9h1.0M120.1 422.0h1.0M131.1 453.9h1.0M109.4 433.7h1.0M119.7 461.6h1.0M110.7 458.4h1.0M103.2 471.8h1.0M121.6 475.4h1.0M130.6 426.7h1.0M130.6 439.3h1.0M130.7 422.5h1.0M126.6 457.8h1.0M132.1 447.7h1.0M119.6 459.4h1.0M122.2 455.4h1.0M109.9 463.8h1.0M119.3 425.1h1.0M117.7 438.9h1.0M118.3 424.3h1.0M134.1 453.0h1.0M121.6 461.7h1.0M121.6 454.1h1.0M110.8 462.5h1.0M119.3 470.2h1.0M114.1 431.8h1.0M104.5 466.5h1.0M130.2 448.0h1.0M126.4 439.5h1.0M130.2 450.5h1.0M117.9 446.8h1.0M135.0 435.8h1.0M124.6 455.1h1.0M95.4 438.5h1.0M115.8 429.2h1.0M120.6 470.9h1.0M140.9 433.1h1.0M118.4 457.7h1.0M117.7 454.1h1.0M115.5 431.8h1.0M117.4 477.2h1.0M114.4 463.6h1.0M115.3 435.6h1.0M136.8 432.6h1.0M117.5 430.9h1.0M129.4 442.0h1.0M118.4 423.2h1.0M131.1 435.2h1.0M129.9 451.1h1.0M126.2 447.1h1.0M112.7 472.4h1.0M136.2 436.0h1.0M117.3 475.9h1.0M122.4 457.9h1.0M134.8 439.8h1.0M112.0 437.7h1.0M134.8 433.7h1.0M139.2 448.2h1.0M115.1 458.8h1.0M95.4 447.9h1.0M126.7 449.9h1.0M113.2 445.2h1.0M138.9 436.4h1.0M118.6 424.5h1.0M118.7 450.4h1.0M132.6 449.5h1.0M103.8 454.2h1.0M130.5 426.7h1.0M131.7 437.1h1.0M138.3 447.4h1.0M121.7 461.8h1.0M118.2 476.6h1.0M95.6 460.7h1.0M132.2 443.7h1.0M114.9 456.9h1.0M112.6 472.8h1.0M111.8 440.2h1.0M125.4 457.8h1.0M131.7 439.0h1.0M134.6 434.5h1.0M128.8 450.9h1.0M122.7 477.4h1.0M118.7 461.0h1.0M102.3 431.1h1.0M107.1 458.3h1.0M127.5 438.0h1.0M118.3 459.2h1.0M128.8 451.7h1.0M116.5 421.4h1.0M101.0 437.7h1.0M123.9 422.6h1.0M119.1 452.8h1.0M116.7 470.2h1.0M130.9 476.6h1.0M123.9 440.7h1.0M123.3 468.9h1.0M108.3 433.8h1.0M117.8 466.1h1.0M120.4 475.4h1.0M124.9 459.6h1.0M100.6 455.8h1.0M121.3 451.3h1.0M119.3 457.9h1.0M132.2 436.8h1.0M113.4 448.8h1.0M133.8 445.2h1.0M117.1 465.1h1.0M97.3 477.1h1.0M112.1 450.4h1.0M115.0 454.5h1.0M127.1 459.6h1.0M119.6 456.2h1.0M117.6 472.6h1.0M125.5 452.4h1.0M128.1 455.4h1.0M95.1 477.0h1.0M116.2 472.9h1.0M127.8 457.2h1.0M132.1 431.9h1.0M96.5 469.0h1.0M110.9 463.9h1.0M117.0 469.9h1.0M117.4 471.8h1.0M124.6 428.1h1.0M105.0 475.6h1.0M107.0 472.2h1.0M118.9 459.2h1.0M121.8 469.1h1.0M128.9 444.1h1.0M104.2 426.5h1.0M108.9 434.6h1.0M123.2 443.8h1.0M118.4 458.8h1.0M128.0 459.2h1.0M117.6 468.6h1.0M111.8 440.1h1.0M128.0 476.8h1.0M118.1 460.6h1.0M99.1 465.2h1.0M116.3 443.5h1.0M132.6 436.4h1.0M125.8 448.7h1.0M123.8 471.1h1.0M110.4 465.3h1.0M100.2 469.7h1.0M105.3 459.9h1.0M106.2 443.5h1.0M123.0 456.0h1.0M116.9 473.3h1.0M101.4 447.4h1.0M103.3 471.7h1.0M109.4 468.1h1.0M103.2 448.2h1.0M135.2 439.1h1.0M132.7 432.5h1.0M134.3 435.4h1.0M131.1 438.7h1.0M136.3 435.3h1.0M117.4 437.8h1.0M126.1 449.3h1.0M108.0 452.6h1.0M116.8 471.7h1.0M114.3 422.4h1.0M126.8 476.9h1.0M132.1 448.4h1.0M118.7 437.5h1.0M118.4 459.4h1.0M119.6 464.5h1.0M135.4 426.7h1.0M97.8 468.8h1.0M137.1 432.8h1.0M111.8 466.6h1.0M97.3 465.6h1.0M120.3 464.2h1.0M102.6 448.6h1.0M132.6 445.4h1.0M134.4 444.6h1.0M119.5 443.7h1.0M128.3 444.2h1.0M122.9 437.6h1.0M121.0 476.9h1.0M107.0 473.7h1.0M127.4 450.2h1.0M110.7 457.4h1.0M117.4 455.2h1.0M106.3 462.1h1.0M103.4 462.7h1.0M113.6 472.8h1.0M112.0 438.8h1.0M100.4 463.2h1.0M111.2 459.6h1.0M118.8 435.7h1.0M117.9 432.3h1.0M114.9 455.7h1.0M127.8 458.9h1.0M109.3 457.5h1.0M116.7 473.1h1.0M128.0 459.4h1.0M134.7 442.2h1.0M120.2 474.1h1.0M133.4 438.7h1.0M133.9 435.1h1.0M134.5 441.5h1.0M119.4 448.5h1.0M111.2 474.6h1.0M107.0 468.8h1.0M112.4 469.8h1.0M121.5 450.1h1.0M135.5 447.5h1.0M133.6 433.6h1.0M133.4 441.9h1.0M112.3 446.1h1.0M108.7 443.7h1.0M104.2 461.1h1.0M103.9 459.4h1.0M137.9 442.8h1.0M96.7 472.9h1.0M115.6 448.1h1.0M116.7 467.0h1.0M98.8 456.2h1.0M130.9 428.2h1.0M101.2 463.4h1.0M120.1 461.8h1.0M125.5 437.8h1.0M125.7 469.9h1.0M105.0 477.1h1.0M120.0 466.4h1.0M122.1 459.8h1.0M113.4 420.8h1.0M117.0 450.3h1.0M132.0 455.2h1.0M101.0 471.2h1.0M112.9 472.3h1.0M123.3 445.0h1.0M140.6 426.3h1.0M123.9 453.5h1.0M127.1 443.5h1.0M132.6 445.0h1.0M115.5 472.1h1.0M118.5 448.6h1.0M107.2 423.4h1.0M127.1 422.2h1.0M134.8 424.2h1.0M131.1 430.5h1.0M117.1 448.6h1.0M112.2 444.1h1.0M125.2 459.1h1.0M120.4 457.5h1.0M117.1 463.8h1.0M125.2 428.3h1.0M114.1 465.4h1.0M120.4 438.1h1.0M123.2 471.6h1.0M137.5 445.7h1.0M103.6 475.6h1.0M120.5 475.6h1.0M114.4 458.4h1.0M100.5 477.1h1.0M137.0 439.0h1.0M113.3 456.4h1.0M119.4 456.0h1.0M104.5 461.6h1.0M133.8 449.9h1.0M96.2 475.8h1.0M122.4 460.4h1.0M115.5 465.1h1.0M116.5 468.8h1.0M110.3 460.0h1.0M127.8 444.7h1.0M122.6 476.4h1.0M117.5 451.7h1.0M96.2 477.5h1.0M124.4 453.0h1.0M137.7 429.1h1.0M127.4 459.3h1.0M100.2 418.1h1.0M129.8 447.5h1.0M118.4 455.5h1.0M120.0 472.7h1.0M105.8 451.7h1.0M116.3 449.4h1.0M127.3 459.9h1.0M111.2 427.3h1.0M126.9 458.2h1.0M111.8 461.0h1.0M127.4 436.1h1.0M114.7 458.3h1.0M120.9 458.5h1.0M125.4 451.8h1.0M116.4 456.7h1.0M126.4 458.2h1.0M113.6 471.0h1.0M106.1 439.0h1.0M108.9 444.2h1.0M109.2 470.2h1.0M115.9 465.3h1.0M127.9 446.1h1.0M138.1 435.9h1.0M122.1 466.7h1.0M105.1 447.9h1.0M117.9 429.8h1.0M113.7 465.6h1.0M116.7 436.7h1.0M126.8 443.6h1.0M111.4 425.6h1.0M102.1 440.7h1.0M122.4 472.0h1.0M126.0 445.2h1.0M123.6 450.7h1.0M126.9 477.0h1.0M115.0 469.6h1.0M107.5 456.3h1.0M102.8 472.5h1.0M122.7 453.1h1.0M101.1 466.0h1.0M117.3 469.8h1.0M125.0 451.7h1.0M127.6 445.1h1.0M117.3 425.5h1.0M138.5 435.7h1.0M112.8 470.6h1.0M140.3 420.7h1.0M109.4 469.6h1.0M105.2 451.0h1.0M106.7 423.2h1.0M132.2 436.1h1.0M123.5 449.9h1.0M133.5 449.7h1.0M119.6 465.1h1.0M132.3 426.0h1.0M110.1 436.0h1.0M110.4 457.8h1.0M110.1 447.8h1.0M139.0 421.5h1.0M100.3 442.5h1.0M131.4 425.6h1.0M118.3 469.3h1.0M129.5 446.9h1.0M118.5 464.7h1.0M116.8 470.7h1.0M113.3 445.5h1.0M121.2 476.9h1.0M115.5 452.4h1.0M115.1 462.2h1.0M100.4 433.9h1.0M113.8 461.9h1.0M129.8 448.3h1.0M127.9 444.8h1.0M129.4 425.2h1.0M135.3 420.5h1.0M114.7 462.4h1.0M98.6 449.3h1.0M113.4 431.8h1.0M100.9 471.7h1.0M121.2 446.8h1.0M113.3 471.5h1.0M95.6 464.9h1.0M131.6 436.8h1.0M116.8 442.7h1.0M135.6 434.8h1.0M131.6 446.9h1.0M117.8 467.9h1.0M126.9 476.7h1.0M103.5 476.7h1.0M123.6 442.6h1.0M126.3 445.2h1.0M117.3 461.9h1.0M123.4 460.4h1.0M132.1 454.2h1.0M110.8 476.5h1.0M105.0 465.2h1.0M114.8 437.1h1.0M120.0 466.7h1.0M140.0 447.1h1.0M131.6 453.9h1.0M112.0 469.9h1.0M114.0 440.1h1.0M111.7 431.2h1.0M134.3 440.8h1.0M126.4 443.7h1.0M129.2 446.5h1.0M109.9 465.8h1.0M114.2 473.7h1.0M114.8 445.3h1.0M112.4 473.6h1.0M100.2 455.7h1.0M127.2 438.6h1.0M118.0 461.8h1.0M127.3 440.0h1.0M117.7 454.0h1.0M130.6 438.9h1.0M116.0 456.8h1.0M121.1 477.4h1.0M134.5 439.7h1.0M121.3 469.5h1.0M131.9 444.5h1.0M105.3 468.6h1.0M120.0 476.1h1.0M112.9 434.9h1.0M135.1 447.3h1.0M119.9 416.6h1.0M125.7 457.2h1.0M120.1 476.2h1.0M101.5 466.0h1.0M138.9 440.1h1.0M130.9 433.4h1.0M111.4 455.7h1.0M103.0 459.0h1.0M111.6 457.3h1.0M119.3 469.1h1.0M108.2 434.5h1.0M102.2 441.2h1.0M138.1 445.6h1.0M120.0 460.3h1.0M99.9 462.8h1.0M103.2 447.7h1.0M117.4 460.8h1.0M115.7 454.2h1.0M123.8 461.6h1.0M133.6 440.1h1.0M121.9 447.0h1.0M117.1 458.1h1.0M112.1 475.2h1.0M96.5 455.8h1.0M95.9 475.8h1.0M112.6 470.1h1.0M119.2 464.1h1.0M110.5 475.5h1.0M117.1 426.9h1.0M132.1 453.4h1.0M111.6 445.2h1.0M131.8 454.6h1.0M135.1 422.9h1.0M110.2 442.0h1.0M125.0 438.0h1.0M139.4 445.2h1.0M98.8 474.9h1.0M115.3 443.7h1.0M116.2 466.6h1.0M134.5 436.5h1.0M95.3 442.4h1.0M129.3 444.5h1.0M115.4 458.9h1.0M115.5 448.4h1.0M124.7 457.4h1.0M130.8 436.9h1.0M124.0 436.1h1.0M124.6 450.3h1.0M139.6 421.9h1.0M105.1 476.1h1.0M122.0 476.2h1.0M122.6 476.4h1.0M128.7 445.5h1.0M113.7 445.0h1.0M132.6 449.1h1.0M123.0 459.3h1.0M119.2 469.5h1.0M114.7 476.6h1.0M116.9 432.6h1.0M120.9 432.5h1.0M131.9 422.6h1.0M102.2 459.7h1.0M121.0 446.4h1.0M122.2 457.3h1.0M130.6 420.9h1.0M133.6 450.1h1.0M113.7 419.7h1.0M107.6 472.5h1.0M121.0 449.5h1.0M127.7 448.7h1.0M121.4 456.6h1.0M108.8 477.4h1.0M110.2 447.1h1.0M114.9 467.0h1.0M98.4 452.5h1.0M106.3 472.2h1.0M128.6 421.1h1.0M117.0 446.5h1.0M104.1 437.7h1.0M125.8 451.4h1.0M115.6 431.1h1.0M117.3 469.9h1.0M124.8 445.8h1.0M95.6 464.0h1.0M124.6 457.3h1.0M123.7 445.5h1.0M121.7 442.9h1.0M129.8 423.6h1.0M120.1 474.5h1.0M113.3 473.9h1.0M124.2 460.5h1.0M117.9 454.0h1.0M123.8 450.7h1.0M112.8 423.4h1.0M103.3 442.5h1.0M120.8 466.3h1.0M108.3 443.5h1.0M113.0 462.4h1.0M120.6 444.2h1.0M122.0 421.4h1.0M115.1 445.7h1.0M129.5 449.8h1.0M126.4 440.7h1.0M125.4 453.2h1.0M129.9 428.4h1.0M138.7 446.5h1.0M120.3 428.4h1.0M116.3 466.5h1.0M122.1 445.8h1.0M118.4 452.0h1.0M120.2 450.4h1.0M122.4 469.5h1.0M115.7 476.4h1.0M122.9 427.9h1.0M121.7 449.4h1.0M101.1 473.0h1.0M138.7 419.6h1.0M126.6 476.9h1.0M111.4 469.4h1.0M110.3 477.1h1.0M109.4 438.4h1.0M117.1 476.5h1.0M126.6 448.9h1.0M119.1 455.5h1.0M121.6 445.2h1.0M117.7 426.9h1.0M122.4 453.2h1.0M104.1 444.3h1.0M110.2 461.9h1.0M123.7 457.7h1.0M109.5 434.0h1.0M119.5 453.6h1.0M118.9 450.5h1.0M100.2 472.9h1.0M125.6 452.4h1.0M95.7 461.0h1.0M112.7 476.8h1.0M96.0 465.4h1.0M118.1 471.5h1.0M102.3 461.9h1.0M132.4 449.8h1.0M108.7 450.0h1.0M120.0 464.4h1.0M119.4 441.6h1.0M110.0 468.6h1.0M116.0 467.8h1.0M97.7 473.0h1.0M118.3 420.0h1.0M102.8 475.7h1.0M118.1 463.7h1.0M127.4 459.3h1.0M113.8 446.0h1.0M121.2 469.1h1.0M139.0 444.1h1.0M117.4 466.2h1.0M111.7 460.5h1.0M127.4 445.0h1.0M97.0 459.7h1.0M105.9 451.3h1.0M125.5 448.0h1.0M134.4 434.1h1.0M115.3 466.4h1.0M111.4 477.0h1.0M117.0 473.2h1.0M100.1 465.0h1.0M102.5 471.8h1.0M100.7 469.3h1.0M113.8 474.0h1.0M116.1 440.2h1.0M108.8 471.0h1.0M99.7 471.8h1.0M131.8 435.4h1.0M129.8 476.4h1.0M134.1 438.5h1.0M130.6 476.9h1.0M107.3 456.8h1.0M108.9 463.7h1.0M119.9 462.4h1.0M112.5 460.2h1.0M117.5 469.2h1.0M125.2 429.5h1.0M126.0 454.2h1.0M135.8 443.0h1.0M123.4 448.7h1.0M108.9 468.8h1.0M124.1 448.0h1.0M112.1 429.2h1.0M123.1 442.0h1.0M99.6 476.1h1.0M128.5 477.1h1.0M116.1 473.9h1.0M125.0 459.9h1.0M120.9 461.8h1.0M135.1 447.8h1.0M108.2 474.5h1.0M117.9 471.2h1.0M102.1 446.2h1.0M110.1 463.5h1.0M124.2 458.9h1.0M119.9 447.7h1.0M129.1 477.3h1.0M122.9 452.2h1.0M114.5 451.3h1.0M125.1 451.0h1.0M119.6 451.6h1.0M97.1 468.4h1.0M96.8 441.1h1.0M134.0 433.6h1.0M116.4 469.1h1.0M109.4 437.4h1.0M96.7 465.9h1.0M140.1 432.4h1.0M105.5 445.6h1.0M134.7 421.8h1.0M120.9 470.5h1.0M95.1 442.9h1.0M132.3 441.0h1.0M131.9 454.8h1.0M122.5 456.5h1.0M114.0 472.4h1.0M116.0 448.3h1.0M119.0 454.4h1.0M112.8 441.0h1.0M136.3 438.1h1.0M132.5 440.3h1.0M106.9 464.5h1.0M121.7 438.5h1.0M100.2 476.0h1.0M113.8 476.9h1.0M117.9 460.6h1.0M127.1 430.5h1.0M115.8 441.6h1.0M107.3 477.0h1.0M121.7 450.8h1.0M128.3 426.5h1.0M119.3 463.5h1.0M107.2 437.0h1.0M118.4 476.5h1.0M112.7 439.7h1.0M106.9 460.8h1.0M114.0 445.0h1.0M116.7 473.1h1.0M127.5 457.5h1.0M131.2 455.7h1.0M109.8 424.0h1.0M131.9 422.1h1.0M117.1 467.9h1.0M129.3 419.2h1.0M110.5 473.2h1.0M138.4 440.7h1.0M134.4 444.6h1.0M114.1 463.1h1.0M114.6 468.1h1.0M121.3 469.5h1.0M100.2 440.7h1.0M119.2 448.6h1.0M131.4 433.0h1.0M111.2 459.6h1.0M110.5 448.4h1.0M120.6 474.7h1.0M138.2 436.0h1.0M113.3 465.4h1.0M131.2 438.1h1.0M120.3 446.2h1.0M121.9 471.0h1.0M122.0 452.1h1.0M96.0 432.6h1.0M134.9 433.8h1.0M124.1 432.1h1.0M132.4 445.3h1.0M108.0 472.6h1.0M104.4 435.2h1.0M105.6 459.1h1.0M109.0 467.3h1.0M113.5 466.7h1.0M115.8 454.5h1.0M115.2 439.0h1.0M103.9 463.1h1.0M124.0 450.3h1.0M139.0 445.1h1.0M110.2 436.3h1.0M122.1 456.0h1.0M117.5 460.0h1.0M119.0 444.3h1.0M95.2 437.5h1.0M122.6 430.8h1.0M114.4 476.1h1.0M99.8 454.7h1.0M114.5 467.7h1.0M104.6 453.2h1.0M118.9 475.2h1.0M117.9 456.2h1.0M111.0 430.3h1.0M132.6 422.8h1.0M115.2 442.5h1.0M108.5 444.2h1.0M124.3 447.1h1.0M111.5 432.4h1.0M99.9 440.6h1.0M124.7 460.0h1.0M113.1 466.7h1.0M115.1 459.4h1.0M106.6 462.1h1.0M116.3 447.1h1.0M136.8 433.7h1.0M114.0 435.2h1.0M104.2 447.2h1.0M119.9 452.5h1.0M131.7 434.0h1.0M120.0 470.2h1.0M127.2 434.4h1.0M97.0 464.6h1.0M103.7 476.8h1.0M135.7 434.3h1.0M127.3 455.6h1.0M120.6 469.9h1.0M127.9 437.3h1.0M127.2 430.8h1.0M116.7 476.8h1.0M129.2 443.3h1.0M119.4 441.5h1.0M128.3 448.8h1.0M114.9 475.8h1.0M100.3 462.1h1.0M124.7 451.0h1.0M112.7 463.9h1.0M139.1 431.1h1.0M101.0 470.4h1.0M126.4 445.2h1.0M104.2 474.6h1.0M115.6 466.1h1.0M102.1 450.6h1.0M114.3 474.2h1.0M130.0 450.7h1.0M105.8 450.4h1.0M122.9 437.3h1.0M129.3 428.9h1.0M117.8 464.1h1.0M134.3 445.0h1.0M125.9 435.1h1.0M126.1 426.0h1.0M111.2 457.3h1.0M132.7 439.4h1.0M130.0 477.0h1.0M127.2 434.7h1.0M117.1 449.9h1.0M106.8 465.4h1.0M97.2 475.6h1.0M99.4 445.2h1.0M95.2 475.6h1.0M116.2 457.0h1.0M128.8 449.2h1.0M99.6 448.3h1.0M137.5 435.5h1.0M122.0 456.1h1.0M124.6 469.8h1.0M101.5 438.9h1.0M128.7 440.0h1.0M132.0 430.7h1.0M124.7 441.2h1.0M112.4 473.0h1.0M103.6 468.2h1.0M116.7 473.3h1.0M113.7 450.3h1.0M104.7 459.2h1.0M116.0 470.2h1.0M103.9 456.9h1.0M128.2 440.7h1.0M110.2 472.7h1.0M122.3 460.6h1.0M127.8 433.6h1.0M120.1 442.3h1.0M113.8 425.8h1.0M120.1 455.6h1.0M97.5 437.0h1.0M116.5 472.2h1.0M109.6 477.2h1.0M123.1 439.8h1.0M132.8 422.4h1.0M139.3 440.9h1.0M137.3 445.0h1.0M115.0 475.4h1.0M120.6 430.2h1.0M116.6 477.3h1.0M99.3 441.9h1.0M137.0 432.2h1.0M130.6 428.0h1.0M118.9 476.4h1.0M117.6 469.6h1.0M133.6 438.7h1.0M130.2 439.2h1.0M106.6 462.3h1.0M131.4 449.1h1.0M122.2 446.9h1.0M103.1 459.8h1.0M125.0 454.7h1.0M105.0 476.0h1.0M102.4 443.3h1.0M109.6 466.6h1.0M125.6 454.9h1.0M131.3 425.4h1.0M131.3 447.2h1.0M95.6 463.2h1.0M133.2 454.0h1.0M127.8 455.3h1.0M111.2 459.8h1.0M124.8 457.0h1.0M117.7 448.2h1.0M125.7 454.7h1.0M107.6 463.1h1.0M112.3 476.6h1.0M116.1 471.4h1.0M130.7 452.5h1.0M157.3 468.3h1.0M103.7 454.6h1.0M111.8 446.5h1.0M139.5 421.6h1.0M106.5 465.6h1.0M105.0 476.7h1.0M102.5 458.0h1.0M158.9 470.9h1.0M119.5 477.3h1.0M112.2 457.6h1.0M162.0 466.4h1.0M107.3 458.9h1.0M105.7 461.2h1.0M131.5 448.0h1.0M111.4 454.9h1.0M97.7 464.2h1.0M115.6 432.1h1.0M129.6 450.3h1.0M95.7 456.0h1.0M138.9 431.3h1.0M103.4 465.2h1.0M120.2 463.4h1.0M156.6 456.4h1.0M119.8 458.1h1.0M108.4 437.3h1.0M112.7 440.6h1.0M101.7 450.6h1.0M103.8 465.9h1.0M145.6 427.6h1.0M122.9 425.8h1.0M108.8 460.9h1.0M119.2 432.3h1.0M121.7 472.1h1.0M95.4 465.7h1.0M159.0 438.6h1.0M104.9 464.8h1.0M114.0 474.7h1.0M133.2 426.7h1.0M126.5 441.4h1.0M111.0 475.3h1.0M97.9 452.5h1.0M102.9 435.1h1.0M105.6 464.4h1.0M111.2 475.8h1.0M105.1 474.6h1.0M101.9 465.1h1.0M125.9 469.1h1.0M102.6 474.4h1.0M96.5 462.7h1.0M105.1 463.9h1.0M117.8 454.0h1.0M161.0 458.6h1.0M157.9 458.9h1.0M114.5 471.0h1.0M135.1 419.7h1.0M95.4 470.2h1.0M95.2 451.3h1.0M108.7 465.2h1.0M109.3 468.3h1.0M120.0 451.5h1.0M113.7 452.9h1.0M117.3 427.7h1.0M126.0 450.5h1.0M98.6 469.1h1.0M121.2 427.1h1.0M150.1 423.0h1.0M110.9 450.7h1.0M105.0 419.4h1.0M116.1 459.0h1.0M109.9 443.0h1.0M115.9 465.6h1.0M100.6 427.8h1.0M101.1 451.3h1.0M106.6 457.3h1.0M111.6 462.0h1.0M108.6 452.5h1.0M100.8 475.2h1.0M95.5 456.6h1.0M102.2 449.4h1.0M113.0 442.3h1.0M97.9 459.1h1.0M116.6 444.9h1.0M126.5 439.9h1.0M117.7 421.9h1.0M119.7 475.3h1.0M126.6 423.0h1.0M108.6 454.6h1.0M136.5 440.0h1.0M110.1 460.4h1.0M132.2 453.1h1.0M104.1 442.5h1.0M105.3 450.8h1.0M135.6 435.5h1.0M100.4 474.1h1.0M161.8 468.0h1.0M114.1 476.9h1.0M106.8 458.5h1.0M120.7 458.8h1.0M114.6 451.4h1.0M99.8 445.3h1.0M98.7 430.7h1.0M112.5 448.6h1.0M108.5 443.5h1.0M129.3 438.7h1.0M159.2 429.2h1.0M96.8 435.5h1.0M120.2 428.4h1.0M114.6 446.8h1.0M159.4 448.4h1.0M112.3 446.2h1.0M97.2 437.6h1.0M113.2 429.1h1.0M108.6 440.7h1.0M116.6 447.5h1.0M136.5 432.2h1.0M107.5 456.2h1.0M159.1 428.4h1.0M121.5 428.9h1.0M124.2 461.7h1.0M98.1 456.0h1.0M113.6 458.3h1.0M114.1 474.4h1.0M110.1 432.0h1.0M160.4 458.3h1.0M121.7 468.0h1.0M98.3 450.9h1.0M111.9 472.6h1.0M131.8 442.7h1.0M141.5 430.8h1.0M118.2 462.2h1.0M116.5 462.3h1.0M161.6 432.7h1.0M124.8 440.9h1.0M134.0 424.0h1.0M101.4 476.3h1.0M103.9 475.5h1.0M98.3 457.9h1.0M99.0 465.2h1.0M119.3 461.1h1.0M121.1 452.1h1.0M106.0 463.8h1.0M101.5 471.2h1.0M145.1 477.3h1.0M127.2 422.9h1.0M136.6 438.3h1.0M103.5 447.4h1.0M119.3 447.6h1.0M95.2 440.4h1.0M157.0 462.1h1.0M156.9 469.5h1.0M109.2 449.3h1.0M161.6 442.3h1.0M133.0 423.4h1.0M108.4 460.6h1.0M99.9 442.5h1.0M113.8 463.6h1.0M124.6 456.2h1.0M112.6 426.0h1.0M127.8 476.5h1.0M96.3 452.8h1.0M115.7 465.6h1.0M100.8 475.7h1.0M114.5 450.9h1.0M123.1 439.2h1.0M112.2 459.9h1.0M122.1 456.4h1.0M160.6 458.5h1.0M135.3 434.3h1.0M115.5 462.3h1.0M158.0 462.1h1.0M160.4 453.9h1.0M109.6 456.3h1.0M125.3 402.4h1.0M144.0 414.1h1.0M123.3 419.1h1.0M137.6 397.8h1.0M133.3 410.8h1.0M129.9 398.7h1.0M120.8 415.2h1.0M125.6 406.7h1.0M134.1 409.0h1.0M129.4 403.9h1.0M141.9 411.3h1.0M123.0 397.2h1.0M124.7 397.9h1.0M128.0 406.0h1.0M128.1 407.4h1.0M143.0 396.9h1.0M122.4 405.3h1.0M119.7 396.6h1.0M133.0 419.4h1.0M121.5 406.2h1.0M139.9 414.2h1.0M136.7 399.7h1.0M172.2 455.9h1.0M183.8 476.7h1.0M175.4 473.8h1.0M179.5 427.6h1.0M188.3 438.5h1.0M179.8 438.8h1.0M189.5 442.4h1.0M173.1 460.7h1.0M182.4 469.8h1.0M169.1 428.9h1.0M168.6 461.8h1.0M176.2 475.7h1.0M184.1 474.7h1.0M178.6 451.5h1.0M168.7 430.5h1.0" stroke="#968ce2" stroke-width="1.0" stroke-opacity="0.75" fill="none"/>
<path d="M155.6 467.7h1.0M144.2 460.5h1.0M155.1 427.7h1.0M156.7 474.4h1.0M143.9 447.6h1.0M151.9 460.9h1.0M142.0 473.4h1.0M152.2 426.8h1.0M156.1 470.1h1.0M142.0 437.6h1.0M153.4 428.3h1.0M145.2 475.3h1.0M144.0 433.1h1.0M153.0 456.5h1.0M143.2 447.4h1.0M152.5 472.3h1.0M152.6 473.3h1.0M144.6 460.0h1.0M141.9 442.2h1.0M134.6 455.0h1.0M154.0 458.1h1.0M155.9 467.5h1.0M154.6 465.5h1.0M152.3 427.0h1.0M153.1 473.8h1.0M141.0 464.0h1.0M144.1 462.6h1.0M154.6 471.8h1.0M135.8 449.6h1.0M151.8 426.7h1.0M143.6 461.9h1.0M136.6 456.7h1.0M143.4 429.8h1.0M142.3 452.7h1.0M144.7 460.9h1.0M144.2 451.6h1.0M157.8 454.3h1.0M157.3 451.4h1.0M141.9 476.0h1.0M156.4 433.7h1.0M143.4 448.6h1.0M135.1 450.4h1.0M140.8 436.6h1.0M157.7 448.9h1.0M141.6 457.5h1.0M148.5 427.4h1.0M143.6 475.3h1.0M141.7 454.8h1.0M143.3 432.1h1.0M158.3 443.6h1.0M144.0 447.7h1.0M154.8 457.4h1.0M150.7 475.1h1.0M155.7 466.9h1.0M159.1 443.4h1.0M156.6 435.7h1.0M154.2 461.0h1.0M152.5 427.7h1.0M157.9 454.7h1.0M149.7 428.0h1.0M145.5 462.6h1.0M153.5 427.6h1.0M143.9 433.1h1.0M146.0 431.7h1.0M145.0 459.7h1.0M156.6 434.7h1.0M141.7 440.4h1.0M152.6 475.8h1.0M157.1 428.7h1.0M154.6 474.9h1.0M143.5 465.9h1.0M158.2 435.1h1.0M154.4 465.3h1.0M157.7 433.5h1.0M142.6 429.8h1.0M138.8 455.9h1.0M157.1 430.5h1.0M157.2 449.1h1.0M147.5 427.3h1.0M154.6 472.8h1.0M145.2 460.8h1.0M140.6 463.2h1.0M140.6 459.2h1.0M141.2 436.7h1.0M158.6 443.7h1.0M153.6 462.0h1.0M157.4 430.0h1.0M142.8 452.3h1.0M137.6 448.3h1.0M155.5 459.0h1.0M129.9 463.7h1.0M157.4 436.5h1.0M155.3 462.5h1.0M143.8 432.0h1.0M140.0 448.6h1.0M154.5 467.1h1.0M154.3 474.5h1.0M142.6 450.9h1.0M144.7 456.0h1.0M143.7 433.6h1.0M150.7 474.6h1.0M140.4 451.3h1.0M144.7 431.4h1.0M151.0 459.8h1.0M159.7 443.6h1.0M144.2 447.2h1.0M145.2 464.5h1.0M145.3 452.5h1.0M153.0 428.0h1.0M156.4 444.8h1.0M140.4 448.9h1.0M157.0 453.2h1.0M144.8 428.9h1.0M152.1 459.2h1.0M150.9 460.4h1.0M154.4 458.3h1.0M151.5 461.6h1.0M154.3 467.2h1.0M155.7 470.7h1.0M154.6 463.0h1.0M140.9 463.4h1.0M154.6 468.6h1.0M152.9 461.0h1.0M156.9 455.4h1.0M141.1 457.9h1.0M146.2 432.1h1.0M153.2 466.1h1.0M152.5 465.2h1.0M157.1 431.9h1.0M145.3 454.6h1.0M158.1 453.4h1.0M150.4 427.9h1.0M142.3 432.2h1.0M153.6 460.8h1.0M145.5 474.4h1.0M143.1 431.8h1.0M142.4 461.5h1.0M154.9 428.3h1.0M134.7 463.4h1.0M157.1 453.1h1.0M155.3 473.3h1.0M154.2 458.6h1.0M154.1 428.2h1.0M157.4 454.6h1.0M142.6 471.7h1.0M142.9 466.1h1.0M141.6 463.2h1.0M141.0 451.8h1.0M141.8 458.2h1.0M141.9 450.7h1.0M157.8 474.4h1.0M155.7 461.8h1.0M154.8 466.1h1.0M144.3 475.0h1.0M141.6 452.3h1.0M155.5 459.5h1.0M138.4 453.3h1.0M157.1 428.3h1.0M157.4 473.2h1.0M158.1 431.3h1.0M152.7 475.5h1.0M145.1 464.7h1.0M145.8 462.2h1.0M152.6 463.9h1.0M156.7 454.7h1.0M143.2 469.2h1.0M145.7 432.0h1.0M144.1 475.0h1.0M151.7 459.9h1.0M136.2 451.8h1.0M143.5 432.3h1.0M145.9 432.2h1.0M153.7 462.6h1.0M153.2 472.9h1.0M144.4 428.4h1.0M156.5 447.6h1.0M157.3 437.1h1.0M144.7 432.5h1.0M150.7 461.0h1.0M152.8 428.0h1.0M153.3 426.3h1.0M143.7 445.3h1.0M137.9 457.0h1.0M152.1 427.7h1.0M142.7 472.3h1.0M157.0 437.1h1.0M142.2 470.5h1.0M158.0 449.0h1.0M146.0 431.4h1.0M145.8 463.8h1.0M156.6 453.4h1.0M156.6 450.7h1.0M147.5 426.3h1.0M143.3 450.7h1.0M140.7 449.6h1.0M141.1 458.1h1.0M158.1 446.5h1.0M155.2 476.0h1.0M141.9 451.3h1.0M158.3 442.5h1.0M143.9 447.1h1.0M152.4 464.4h1.0M142.0 434.7h1.0M144.9 458.2h1.0M144.7 452.9h1.0M144.0 447.1h1.0M145.3 465.5h1.0M145.5 464.1h1.0M153.2 475.3h1.0M134.9 462.0h1.0M145.2 453.5h1.0M145.7 456.4h1.0M156.0 466.9h1.0M153.1 460.1h1.0M142.3 428.8h1.0M141.8 471.9h1.0M142.8 460.8h1.0M128.4 454.5h1.0M143.4 461.1h1.0M144.8 462.2h1.0M144.6 464.8h1.0M154.4 427.3h1.0M144.4 456.6h1.0M145.1 474.5h1.0M145.3 460.5h1.0M139.4 452.4h1.0M142.9 428.7h1.0M156.0 462.1h1.0M153.7 476.1h1.0M152.2 465.8h1.0M145.4 433.3h1.0M151.4 427.1h1.0M140.5 437.0h1.0M146.1 455.6h1.0M138.3 453.1h1.0M142.1 476.3h1.0M156.7 447.3h1.0M153.9 462.3h1.0M155.5 427.2h1.0M143.3 475.3h1.0M151.6 461.0h1.0M134.8 458.8h1.0M155.8 466.3h1.0M139.2 450.0h1.0M154.4 467.8h1.0M151.0 476.1h1.0M144.6 431.8h1.0M157.6 429.1h1.0M158.0 430.5h1.0M154.8 473.1h1.0M156.2 465.8h1.0M143.6 444.6h1.0M145.9 455.1h1.0M150.3 460.3h1.0M143.9 473.3h1.0M155.1 474.6h1.0M142.1 459.6h1.0M142.9 472.6h1.0M146.5 427.3h1.0M155.5 474.6h1.0M141.0 472.0h1.0M144.9 430.0h1.0M143.4 470.2h1.0M154.0 461.2h1.0M143.0 470.7h1.0M147.2 427.2h1.0M138.0 447.5h1.0M156.2 474.9h1.0M134.1 467.2h1.0M143.8 474.6h1.0M159.7 443.9h1.0M140.7 435.4h1.0M157.7 473.6h1.0M144.7 433.6h1.0M149.5 427.8h1.0M157.7 473.1h1.0M158.9 443.4h1.0M154.8 475.7h1.0M149.7 427.9h1.0M132.0 470.1h1.0M155.5 471.0h1.0M158.3 445.6h1.0M145.3 455.9h1.0M152.5 427.9h1.0M144.2 471.4h1.0M157.9 473.7h1.0M158.2 449.3h1.0M141.3 440.8h1.0M156.9 453.5h1.0M153.9 475.2h1.0M150.4 474.9h1.0M132.6 465.4h1.0M158.0 434.3h1.0M151.3 465.1h1.0M154.1 458.5h1.0M153.6 462.5h1.0M153.1 474.8h1.0M145.9 433.8h1.0M151.5 475.7h1.0M139.3 477.2h1.0M141.2 477.4h1.0M156.9 451.8h1.0M148.1 427.5h1.0M145.1 432.5h1.0M151.9 459.3h1.0M157.0 450.1h1.0M147.1 427.7h1.0M141.5 451.5h1.0M137.4 457.5h1.0M158.2 428.3h1.0M144.0 446.5h1.0M156.5 476.1h1.0M143.1 462.8h1.0M154.9 471.8h1.0M158.3 432.3h1.0M157.0 453.9h1.0M150.9 458.9h1.0M158.0 445.9h1.0M146.0 475.1h1.0M143.1 462.8h1.0M141.5 450.6h1.0M151.0 475.5h1.0M132.4 450.9h1.0M142.8 458.9h1.0M141.6 442.0h1.0M156.8 428.9h1.0M146.2 459.4h1.0M156.9 432.1h1.0M145.1 452.7h1.0M155.6 460.4h1.0M158.7 443.9h1.0M155.1 475.6h1.0M157.6 453.5h1.0M142.1 475.5h1.0M140.6 454.8h1.0M141.4 436.2h1.0M157.5 448.7h1.0M143.7 468.6h1.0M150.9 474.5h1.0M145.0 463.6h1.0M155.7 459.6h1.0M131.8 467.6h1.0M155.7 463.0h1.0M156.1 455.2h1.0M155.6 461.6h1.0M145.2 428.5h1.0M143.7 460.8h1.0M143.0 461.8h1.0M153.0 457.1h1.0M144.8 455.1h1.0M140.8 437.9h1.0M136.4 446.9h1.0M143.4 452.3h1.0M144.1 472.1h1.0M153.1 459.6h1.0M141.3 475.4h1.0M152.4 465.8h1.0M151.6 466.2h1.0M137.8 446.6h1.0M158.0 450.6h1.0M149.9 426.6h1.0M155.3 459.1h1.0M157.7 474.1h1.0M157.7 438.2h1.0M144.7 456.9h1.0M150.9 465.6h1.0M150.1 428.1h1.0M155.5 472.8h1.0M140.7 459.6h1.0M156.1 460.3h1.0M154.7 472.4h1.0M141.7 473.9h1.0M153.8 473.6h1.0M154.9 427.8h1.0M152.1 460.8h1.0M144.5 432.9h1.0M144.0 458.6h1.0M148.7 426.4h1.0M142.1 475.3h1.0M135.2 460.4h1.0M139.0 450.7h1.0M142.5 432.7h1.0M144.6 463.9h1.0M145.5 465.6h1.0M146.2 459.9h1.0M136.0 455.0h1.0M143.3 453.7h1.0M156.5 429.2h1.0M146.1 464.2h1.0M156.0 460.9h1.0M157.2 436.1h1.0M155.3 472.9h1.0M155.8 426.4h1.0M157.9 434.4h1.0M144.1 465.5h1.0M151.8 474.5h1.0M151.8 462.0h1.0M140.8 461.0h1.0M141.3 440.2h1.0M140.6 453.6h1.0M144.4 457.4h1.0M155.4 471.4h1.0M139.8 449.7h1.0M142.3 441.0h1.0M153.7 460.4h1.0M147.8 427.4h1.0M142.3 430.9h1.0M155.7 428.2h1.0M155.0 458.1h1.0M142.7 430.3h1.0M156.2 467.3h1.0M155.2 468.8h1.0M150.3 474.6h1.0M152.8 427.2h1.0M155.4 457.0h1.0M145.3 465.1h1.0M144.1 449.8h1.0M151.9 464.7h1.0M145.4 434.1h1.0M143.3 449.9h1.0M142.5 444.4h1.0M141.0 456.7h1.0M154.5 469.3h1.0M157.3 454.3h1.0M145.9 455.9h1.0M155.7 467.7h1.0M142.4 444.4h1.0M142.3 460.6h1.0M144.3 460.0h1.0M156.5 448.1h1.0M144.8 458.8h1.0M150.3 475.7h1.0M146.3 454.4h1.0M144.3 471.3h1.0M149.8 427.8h1.0M154.6 456.0h1.0M142.5 458.9h1.0M145.5 429.1h1.0M144.1 470.2h1.0M156.3 446.4h1.0M141.2 451.4h1.0M153.6 428.3h1.0M141.2 436.3h1.0M152.7 461.0h1.0M154.7 456.2h1.0M143.0 471.2h1.0M155.3 473.9h1.0M155.8 472.7h1.0M145.6 454.3h1.0M156.5 428.9h1.0M139.8 450.0h1.0M141.7 453.6h1.0M156.0 460.1h1.0M145.5 459.0h1.0M141.7 437.3h1.0M150.8 428.1h1.0M156.7 474.2h1.0M142.5 465.7h1.0M146.1 463.4h1.0M145.4 461.2h1.0M157.2 472.8h1.0M132.1 475.0h1.0M154.6 462.9h1.0M142.1 460.6h1.0M152.6 465.7h1.0M143.9 432.4h1.0M152.7 462.7h1.0M142.1 477.3h1.0M151.3 475.6h1.0M158.1 475.7h1.0M157.9 451.5h1.0M145.4 452.3h1.0M142.0 448.9h1.0M156.3 474.3h1.0M155.2 470.6h1.0M145.4 463.4h1.0M157.9 444.6h1.0M156.0 462.8h1.0M154.6 468.4h1.0M141.7 435.7h1.0M140.7 455.1h1.0M145.0 460.2h1.0M135.7 458.1h1.0M157.0 432.1h1.0M138.9 455.6h1.0M145.0 475.2h1.0M154.2 462.2h1.0M157.0 448.0h1.0M135.1 450.4h1.0M151.8 427.2h1.0M138.5 476.5h1.0M156.7 431.4h1.0M142.3 449.0h1.0M145.0 432.0h1.0M159.0 442.5h1.0M156.3 452.7h1.0M147.8 427.0h1.0M153.1 460.2h1.0M142.1 435.2h1.0M157.8 434.8h1.0M156.9 435.8h1.0M146.3 429.7h1.0M156.3 450.7h1.0M144.3 461.3h1.0M142.1 456.1h1.0M145.0 474.6h1.0M150.5 465.4h1.0M155.3 466.6h1.0M143.0 465.6h1.0M157.4 455.4h1.0M144.4 466.1h1.0M141.7 477.2h1.0M138.8 476.7h1.0M144.2 471.3h1.0M144.8 453.1h1.0M152.8 428.2h1.0M145.9 460.8h1.0M141.8 449.3h1.0M141.9 434.6h1.0M138.9 451.4h1.0M153.6 428.2h1.0M141.6 477.3h1.0M157.1 429.4h1.0M155.8 461.1h1.0M157.8 434.0h1.0M157.9 435.8h1.0M141.8 476.3h1.0M149.5 426.7h1.0M156.2 456.5h1.0M155.7 473.4h1.0M144.8 460.3h1.0M144.0 431.3h1.0M151.9 460.4h1.0M152.9 426.6h1.0M136.5 446.7h1.0M157.9 454.6h1.0M142.1 476.8h1.0M154.5 457.0h1.0M144.6 432.1h1.0M158.5 444.1h1.0M153.8 426.4h1.0M142.9 470.0h1.0M152.6 426.8h1.0M157.0 449.3h1.0M144.0 471.3h1.0M141.6 441.9h1.0M145.0 458.3h1.0M144.6 475.9h1.0M156.6 473.0h1.0M143.5 448.4h1.0M152.8 465.2h1.0M149.1 426.9h1.0M150.7 459.7h1.0M140.5 436.7h1.0M152.6 464.8h1.0M157.9 452.0h1.0M156.4 472.9h1.0M141.5 452.2h1.0M143.7 447.7h1.0M151.5 465.1h1.0M153.9 473.0h1.0M140.6 438.1h1.0M141.2 436.4h1.0M154.5 464.5h1.0M153.5 460.4h1.0M138.6 452.4h1.0M140.9 434.7h1.0M144.0 466.2h1.0M157.9 446.3h1.0M143.0 465.6h1.0M153.1 461.0h1.0M145.7 430.2h1.0M146.0 457.3h1.0M139.3 456.1h1.0M135.2 462.8h1.0M155.0 459.6h1.0M148.7 427.3h1.0M142.2 462.1h1.0M152.9 465.7h1.0M145.4 461.6h1.0M141.8 462.3h1.0M151.8 461.8h1.0M153.5 426.5h1.0M155.9 462.2h1.0M155.5 467.9h1.0M155.6 474.0h1.0M154.1 427.1h1.0M155.9 470.9h1.0M156.7 472.6h1.0M144.9 475.4h1.0M154.8 466.1h1.0M145.4 457.1h1.0M139.7 453.2h1.0M148.3 428.1h1.0M151.2 459.2h1.0M145.9 429.4h1.0M156.7 448.8h1.0M153.9 427.2h1.0M141.4 454.9h1.0M156.4 475.2h1.0M158.2 434.3h1.0M157.3 450.8h1.0M140.7 460.1h1.0M155.2 460.5h1.0M144.3 428.5h1.0M139.6 454.0h1.0M152.0 427.2h1.0M156.8 453.7h1.0M143.9 446.8h1.0M143.0 453.9h1.0M143.3 447.0h1.0M141.3 460.1h1.0M143.4 447.6h1.0M142.0 448.6h1.0M143.0 448.8h1.0M158.1 446.8h1.0M143.0 449.4h1.0M142.4 449.0h1.0M144.7 453.0h1.0M155.0 457.1h1.0M141.6 439.0h1.0M157.9 437.4h1.0M155.8 454.5h1.0M143.8 452.6h1.0M154.3 458.6h1.0M157.0 434.8h1.0M143.6 433.1h1.0M143.8 446.1h1.0M156.7 449.1h1.0M141.9 441.9h1.0M143.3 450.9h1.0M156.2 455.7h1.0M145.4 452.4h1.0M142.0 440.3h1.0M155.1 455.2h1.0M139.9 448.9h1.0M142.2 437.0h1.0M141.7 448.6h1.0M158.1 452.9h1.0M158.9 443.9h1.0M124.6 467.4h1.0M133.7 477.0h1.0M128.3 471.8h1.0M121.7 462.5h1.0M130.1 462.5h1.0M127.6 467.1h1.0M122.1 473.9h1.0M126.3 470.9h1.0M129.9 473.2h1.0M129.6 473.5h1.0M131.6 475.8h1.0M127.6 466.7h1.0M130.3 474.9h1.0M135.5 454.3h1.0M134.3 460.3h1.0M128.8 460.2h1.0M140.9 472.7h1.0M127.7 451.3h1.0M122.4 465.4h1.0M128.6 463.5h1.0M130.9 463.2h1.0M134.6 463.1h1.0M130.3 458.2h1.0M129.5 466.8h1.0M125.1 467.3h1.0M121.7 474.0h1.0M127.1 466.0h1.0M123.4 464.0h1.0M132.6 463.1h1.0M126.6 467.5h1.0M135.3 454.5h1.0M132.5 457.3h1.0M136.0 465.5h1.0M132.3 450.5h1.0M136.6 460.1h1.0M128.4 466.4h1.0M128.0 468.4h1.0M120.5 464.3h1.0M131.4 451.0h1.0M136.7 448.2h1.0M125.8 475.9h1.0M123.3 474.3h1.0M136.1 454.3h1.0M126.5 473.7h1.0M133.3 468.0h1.0M125.8 461.0h1.0M120.6 464.7h1.0M127.6 469.6h1.0M132.7 456.2h1.0M128.5 453.1h1.0M136.2 450.3h1.0M140.7 448.8h1.0M134.7 460.4h1.0M122.6 473.4h1.0M132.0 459.7h1.0M122.2 473.5h1.0M133.8 467.4h1.0M135.5 470.2h1.0M118.5 470.5h1.0M122.6 464.6h1.0M124.6 462.7h1.0M126.8 476.2h1.0M140.7 471.7h1.0M133.6 459.5h1.0M123.6 462.5h1.0M138.0 476.7h1.0M128.8 472.7h1.0M122.6 462.8h1.0M127.0 475.4h1.0M140.4 477.1h1.0M126.3 471.6h1.0M127.7 451.5h1.0M124.7 463.6h1.0M140.9 460.5h1.0M123.4 466.7h1.0M127.7 454.0h1.0M126.9 454.2h1.0M127.5 463.3h1.0M123.2 466.7h1.0M137.9 457.9h1.0M129.4 469.4h1.0M131.9 457.9h1.0M128.1 450.6h1.0M127.8 473.8h1.0M126.1 467.1h1.0M134.7 449.8h1.0M124.0 466.4h1.0M128.8 455.5h1.0M135.3 459.6h1.0M140.4 456.9h1.0M132.7 456.2h1.0M126.1 463.5h1.0M124.2 463.5h1.0M135.3 458.9h1.0M139.5 450.2h1.0M128.6 462.4h1.0M131.8 460.7h1.0M122.4 475.6h1.0M133.8 458.3h1.0M135.7 453.1h1.0M130.9 460.4h1.0M133.8 454.3h1.0M127.4 464.4h1.0M124.6 466.5h1.0M134.7 466.2h1.0M135.5 458.4h1.0M134.4 457.0h1.0M133.8 462.4h1.0M140.5 448.9h1.0M139.6 455.7h1.0M126.9 474.8h1.0M136.0 460.7h1.0M131.4 465.6h1.0M121.5 473.4h1.0M125.8 475.2h1.0M130.9 457.5h1.0M130.4 461.2h1.0M134.6 459.8h1.0M127.7 467.9h1.0M120.7 463.0h1.0M128.7 470.2h1.0M125.1 460.8h1.0M138.0 452.1h1.0M139.2 450.3h1.0M136.2 463.6h1.0M134.4 453.5h1.0M140.4 453.2h1.0M121.8 472.4h1.0M131.6 462.5h1.0M126.3 461.2h1.0M133.8 452.1h1.0M130.3 475.4h1.0M132.3 454.8h1.0M123.6 464.6h1.0M122.6 463.1h1.0M125.4 475.2h1.0M130.0 454.3h1.0M132.4 455.4h1.0M138.9 454.9h1.0M134.4 463.5h1.0M123.1 474.2h1.0M125.0 466.3h1.0M120.1 470.3h1.0M123.6 468.3h1.0M126.1 472.7h1.0M127.4 453.2h1.0M140.7 461.4h1.0M123.1 474.3h1.0M136.4 452.6h1.0M136.5 476.6h1.0M134.4 452.9h1.0M127.0 464.3h1.0M132.1 464.0h1.0M120.3 463.3h1.0M131.8 475.6h1.0M140.3 473.8h1.0M119.9 471.0h1.0M133.0 461.4h1.0M134.7 465.4h1.0M137.0 452.2h1.0M122.6 467.3h1.0M137.8 459.1h1.0M120.4 466.3h1.0M124.1 466.6h1.0M131.6 465.5h1.0M122.8 472.9h1.0M129.2 455.5h1.0M126.6 475.6h1.0M139.3 476.7h1.0M127.1 463.3h1.0M128.3 475.2h1.0M132.7 464.9h1.0M135.8 461.4h1.0M138.2 449.1h1.0M140.5 460.7h1.0M130.5 450.8h1.0M133.9 457.6h1.0M129.4 458.9h1.0M135.9 449.9h1.0M131.5 461.7h1.0M131.1 458.2h1.0M124.8 463.0h1.0M129.4 472.8h1.0M130.6 474.7h1.0M138.1 448.6h1.0M132.6 460.9h1.0M134.4 467.3h1.0M136.0 468.7h1.0M137.9 450.6h1.0M129.5 462.0h1.0M127.3 463.2h1.0M127.2 474.2h1.0M128.6 459.8h1.0M127.0 475.9h1.0M131.7 457.7h1.0M139.3 448.3h1.0M135.4 451.7h1.0M138.2 447.1h1.0M134.4 465.9h1.0M131.6 469.5h1.0M123.8 463.0h1.0M123.8 464.7h1.0M137.8 453.9h1.0M127.3 463.2h1.0M135.5 459.7h1.0M132.0 452.1h1.0M133.5 456.7h1.0M129.6 469.0h1.0M132.1 465.6h1.0M132.9 467.5h1.0M129.7 456.8h1.0M126.9 452.5h1.0M122.8 475.1h1.0M128.6 463.4h1.0M124.3 473.7h1.0M128.7 465.2h1.0M131.3 464.0h1.0M139.1 477.0h1.0M136.2 463.4h1.0M124.0 463.1h1.0M127.1 469.5h1.0M122.7 475.9h1.0M124.7 462.5h1.0M130.3 456.1h1.0M132.0 459.5h1.0M126.1 475.0h1.0M131.3 450.9h1.0M135.5 465.8h1.0M140.9 442.2h1.0M135.9 452.1h1.0M133.7 455.3h1.0M131.1 459.9h1.0M133.8 465.9h1.0M130.3 457.4h1.0M133.9 462.7h1.0M135.1 453.8h1.0M124.6 471.8h1.0M128.5 472.9h1.0M128.9 459.8h1.0M127.8 473.7h1.0M140.6 474.4h1.0M136.5 458.2h1.0M129.2 474.2h1.0M128.6 464.2h1.0M140.7 471.1h1.0M126.7 465.6h1.0M127.7 461.7h1.0M132.3 459.8h1.0M129.8 470.2h1.0M133.5 464.3h1.0M139.8 452.1h1.0M129.7 463.5h1.0M127.3 451.8h1.0M136.0 452.8h1.0M128.4 470.0h1.0M141.0 476.3h1.0M127.7 475.9h1.0M140.8 434.3h1.0M127.6 473.9h1.0M129.9 466.3h1.0M131.2 458.8h1.0M123.1 473.4h1.0M139.8 453.3h1.0M126.9 450.9h1.0M134.5 468.2h1.0M130.5 460.2h1.0M133.1 459.0h1.0M131.5 459.8h1.0M129.4 468.6h1.0M129.1 456.9h1.0M137.0 477.0h1.0M140.2 476.9h1.0M126.2 475.0h1.0M132.6 458.1h1.0M131.4 475.0h1.0M139.7 448.4h1.0M127.0 450.4h1.0M136.2 465.5h1.0M128.9 464.0h1.0M121.5 466.1h1.0M134.6 469.0h1.0M133.2 462.0h1.0M133.8 462.1h1.0M128.5 460.7h1.0M134.7 450.8h1.0M139.1 452.1h1.0M136.1 476.5h1.0M131.7 461.7h1.0M126.2 471.4h1.0M128.9 464.8h1.0M120.8 472.8h1.0M140.9 460.8h1.0M130.0 457.5h1.0M123.9 475.5h1.0M129.9 459.7h1.0M128.3 465.0h1.0M127.9 461.8h1.0M120.4 464.4h1.0M137.3 476.5h1.0M135.1 463.1h1.0M126.7 451.5h1.0M129.2 457.1h1.0M123.2 466.2h1.0M132.1 451.0h1.0M123.2 473.8h1.0M135.0 464.8h1.0M132.9 461.5h1.0M135.6 459.7h1.0M140.7 458.3h1.0M126.8 471.1h1.0M127.7 467.8h1.0M134.0 476.3h1.0M138.2 449.7h1.0M133.9 464.1h1.0M129.4 460.3h1.0M135.3 465.3h1.0M136.6 458.8h1.0M127.9 466.6h1.0M120.9 464.4h1.0M129.3 468.6h1.0M123.4 466.2h1.0M128.7 475.7h1.0M120.4 473.0h1.0M135.6 452.4h1.0M135.1 450.1h1.0M131.3 464.3h1.0M129.2 468.7h1.0M133.3 463.1h1.0M124.6 473.5h1.0M129.5 458.1h1.0M133.3 462.4h1.0M129.7 465.8h1.0M139.1 454.2h1.0M131.5 460.1h1.0M135.6 469.4h1.0M138.9 454.5h1.0M129.7 476.1h1.0M125.2 472.5h1.0M129.5 463.8h1.0M135.8 454.8h1.0M135.4 476.7h1.0M122.1 464.0h1.0M132.3 450.6h1.0M136.9 476.8h1.0M131.7 467.8h1.0M128.7 469.1h1.0M135.8 458.8h1.0M129.2 468.1h1.0M131.1 466.7h1.0M130.8 457.4h1.0M124.6 475.1h1.0M127.8 471.6h1.0M139.0 452.9h1.0M133.4 476.6h1.0M130.6 461.2h1.0M127.0 452.4h1.0M138.2 477.5h1.0M135.9 451.7h1.0M127.6 473.2h1.0M139.2 455.1h1.0M129.9 453.7h1.0M137.9 477.4h1.0M132.7 466.4h1.0M125.1 467.1h1.0M128.7 465.6h1.0M127.6 461.9h1.0M131.6 475.2h1.0M129.6 462.5h1.0M127.0 461.5h1.0M123.2 462.8h1.0M128.7 468.6h1.0M131.2 469.3h1.0M131.8 463.0h1.0M136.7 459.3h1.0M131.7 475.6h1.0M137.7 452.8h1.0M140.6 452.0h1.0M129.0 453.8h1.0M140.7 454.9h1.0M138.9 454.4h1.0M127.5 472.9h1.0M133.8 451.4h1.0M134.8 460.7h1.0M134.0 465.4h1.0M125.0 471.9h1.0M140.2 454.0h1.0M131.7 470.0h1.0M131.4 469.9h1.0M134.6 458.2h1.0M128.1 451.8h1.0M133.9 465.9h1.0M125.7 460.5h1.0M123.6 464.3h1.0M122.7 463.8h1.0M129.3 468.7h1.0M131.7 450.4h1.0M140.5 471.4h1.0M132.0 457.8h1.0M133.4 477.4h1.0M138.3 453.4h1.0M129.7 452.7h1.0M129.9 472.9h1.0M135.8 465.6h1.0M136.3 451.1h1.0M140.8 453.9h1.0M136.6 448.7h1.0M139.3 451.4h1.0M133.4 461.9h1.0M126.5 462.7h1.0M123.1 465.9h1.0M124.4 462.4h1.0M124.5 472.2h1.0M130.5 465.7h1.0M138.2 454.1h1.0M124.5 472.8h1.0M134.6 454.2h1.0M122.5 464.6h1.0M126.4 462.9h1.0M130.5 451.6h1.0M119.6 471.7h1.0M133.9 476.7h1.0M119.1 471.2h1.0M121.2 473.9h1.0M138.9 455.7h1.0M130.2 452.3h1.0M129.3 461.0h1.0M121.1 464.6h1.0M123.9 475.9h1.0M137.0 476.6h1.0M137.0 447.1h1.0M127.2 461.5h1.0M132.1 464.1h1.0M121.4 462.8h1.0M120.6 462.6h1.0M120.7 473.0h1.0M131.7 467.5h1.0M134.5 465.2h1.0M134.0 455.6h1.0M126.8 469.3h1.0M129.1 469.2h1.0M128.7 469.2h1.0M128.9 469.6h1.0M135.8 449.0h1.0M124.9 474.5h1.0M140.8 473.4h1.0M135.9 476.5h1.0M120.8 472.5h1.0M128.1 468.9h1.0M128.8 463.6h1.0M135.6 469.9h1.0M128.4 471.0h1.0M123.4 463.2h1.0M139.7 454.0h1.0M133.3 465.9h1.0M124.8 473.8h1.0M140.7 471.2h1.0M129.2 465.9h1.0M127.1 466.4h1.0M137.7 458.8h1.0M128.0 475.9h1.0M134.2 477.1h1.0M127.1 469.8h1.0M140.2 455.0h1.0M140.5 477.3h1.0M134.4 453.4h1.0M135.6 468.0h1.0M131.2 451.6h1.0M136.2 476.5h1.0M134.4 458.0h1.0M135.9 467.5h1.0M126.5 475.2h1.0M127.5 471.2h1.0M129.7 468.5h1.0M123.8 475.7h1.0M125.2 474.7h1.0M131.7 461.2h1.0M126.7 460.4h1.0M137.1 458.8h1.0M131.7 465.0h1.0M129.5 472.3h1.0M138.6 455.4h1.0M135.3 448.9h1.0M123.0 473.9h1.0M131.0 469.6h1.0M122.9 465.8h1.0M136.3 476.4h1.0M134.8 463.5h1.0M124.0 476.2h1.0M135.8 454.4h1.0M140.8 474.7h1.0M120.1 470.7h1.0M126.4 469.7h1.0M132.3 466.0h1.0M127.3 473.1h1.0M118.8 472.3h1.0M120.9 463.9h1.0M127.3 471.0h1.0M125.1 475.3h1.0M126.0 467.9h1.0M130.2 464.5h1.0M137.1 460.1h1.0M138.5 452.2h1.0M124.9 463.8h1.0M136.3 450.6h1.0M133.1 463.5h1.0M135.6 455.0h1.0M140.6 451.6h1.0M128.9 453.0h1.0M131.4 465.5h1.0M128.3 469.1h1.0M129.5 454.5h1.0M126.3 473.0h1.0M139.9 451.5h1.0M124.1 474.2h1.0M139.0 451.6h1.0M133.5 461.0h1.0M132.7 457.3h1.0M126.0 473.9h1.0M123.2 472.4h1.0M134.4 456.6h1.0M126.3 474.3h1.0M130.2 453.2h1.0M124.2 467.0h1.0M128.9 476.3h1.0M126.9 468.3h1.0M133.4 467.2h1.0M140.9 477.5h1.0M124.9 463.3h1.0M127.5 471.1h1.0M127.1 465.1h1.0M133.8 468.2h1.0M126.9 471.8h1.0M132.1 469.4h1.0M128.7 470.2h1.0M153.3 475.8h1.0M142.0 471.8h1.0M135.8 468.2h1.0M122.7 467.3h1.0M155.3 454.6h1.0M129.0 454.1h1.0M144.6 475.5h1.0M156.3 475.1h1.0M130.3 457.0h1.0M135.5 454.7h1.0M135.2 450.0h1.0M132.6 466.0h1.0M121.0 466.0h1.0M134.3 466.8h1.0M155.4 463.3h1.0M145.3 474.5h1.0M137.8 450.4h1.0M126.1 471.8h1.0M132.3 467.0h1.0M136.2 468.0h1.0M132.3 476.0h1.0M123.6 465.8h1.0M154.8 472.8h1.0M146.2 452.4h1.0M118.4 470.7h1.0M129.8 472.2h1.0M131.7 457.9h1.0M159.4 443.1h1.0M135.9 466.4h1.0M144.7 464.4h1.0M141.1 460.6h1.0M130.6 463.8h1.0M141.9 476.5h1.0M146.0 453.6h1.0M157.2 474.8h1.0M135.4 462.9h1.0M157.8 449.8h1.0M131.3 460.8h1.0M128.8 458.1h1.0M136.4 459.5h1.0M157.4 448.1h1.0M127.4 466.4h1.0M137.2 449.1h1.0M145.2 452.8h1.0M133.0 458.4h1.0M127.0 461.2h1.0M125.6 470.3h1.0M153.9 465.7h1.0M128.5 470.3h1.0M129.9 472.5h1.0M152.9 473.2h1.0M136.4 449.5h1.0M156.8 455.2h1.0M142.4 449.1h1.0M155.3 461.6h1.0M150.6 458.4h1.0M136.4 450.9h1.0M122.6 466.6h1.0M124.2 473.0h1.0M155.2 454.7h1.0M138.9 453.1h1.0M131.2 462.5h1.0M123.0 466.3h1.0M130.0 476.1h1.0M132.7 465.6h1.0M122.7 464.0h1.0M156.7 475.8h1.0" stroke="#6670e6" stroke-width="1.0" stroke-opacity="0.8" fill="none"/>
<path d="M146.8 432.8h1.0M155.4 435.3h1.0M156.3 438.8h1.0M156.6 442.8h1.0M149.4 462.5h1.0M148.9 431.7h1.0M154.0 468.1h1.0M144.2 439.9h1.0M149.7 456.9h1.0M148.9 471.0h1.0M156.3 435.8h1.0M144.8 472.3h1.0M154.0 468.4h1.0M155.3 449.2h1.0M154.6 432.1h1.0M153.4 468.3h1.0M150.9 473.6h1.0M148.8 460.9h1.0M157.1 442.2h1.0M155.5 437.8h1.0M148.4 431.8h1.0M150.8 472.7h1.0M145.9 468.7h1.0M152.2 431.0h1.0M146.3 451.7h1.0M151.5 474.1h1.0M146.6 474.3h1.0M151.8 462.6h1.0M150.0 464.7h1.0M155.5 452.9h1.0M149.4 462.5h1.0M140.3 468.9h1.0M147.7 476.0h1.0M147.0 432.8h1.0M154.8 431.0h1.0M149.3 470.5h1.0M146.5 464.4h1.0M150.7 454.4h1.0M153.6 455.3h1.0M152.4 430.1h1.0M144.3 471.9h1.0M149.9 433.9h1.0M144.6 472.3h1.0M148.8 472.6h1.0M144.9 470.9h1.0M152.5 469.7h1.0M147.4 460.8h1.0M150.2 456.5h1.0M155.1 429.3h1.0M154.0 467.4h1.0M151.3 463.8h1.0M146.4 432.8h1.0M140.0 471.2h1.0M155.0 433.8h1.0M142.9 440.1h1.0M140.7 465.6h1.0M149.0 464.1h1.0M144.2 440.7h1.0M149.7 463.9h1.0M143.5 436.6h1.0M152.6 432.7h1.0M150.4 462.7h1.0M141.3 465.0h1.0M149.3 466.5h1.0M149.0 475.6h1.0M139.5 471.6h1.0M138.9 462.0h1.0M156.0 428.8h1.0M147.4 468.1h1.0M140.3 459.7h1.0M151.2 430.8h1.0M153.0 455.7h1.0M146.9 453.4h1.0M147.1 457.0h1.0M139.6 476.0h1.0M151.6 455.0h1.0M154.7 431.2h1.0M155.7 438.4h1.0M149.2 462.0h1.0M154.3 433.3h1.0M151.3 467.2h1.0M147.5 470.2h1.0M151.0 473.8h1.0M147.4 465.7h1.0M149.2 456.9h1.0M152.1 457.1h1.0M146.9 468.1h1.0M150.6 474.2h1.0M149.8 466.3h1.0M144.8 468.8h1.0M151.2 432.9h1.0M149.4 473.3h1.0M154.4 451.3h1.0M149.4 470.0h1.0M143.3 442.7h1.0M150.7 457.1h1.0M145.0 468.0h1.0M147.3 468.2h1.0M148.1 430.3h1.0M146.5 462.8h1.0M151.9 473.8h1.0M152.4 433.6h1.0M145.9 472.5h1.0M151.9 473.4h1.0M147.6 459.5h1.0M148.8 460.2h1.0M148.8 458.6h1.0M139.4 474.9h1.0M150.9 456.3h1.0M152.1 473.5h1.0M146.6 461.8h1.0M157.1 444.3h1.0M149.2 472.9h1.0M143.7 436.3h1.0M149.0 432.8h1.0M152.4 434.6h1.0M139.9 458.6h1.0M146.6 465.7h1.0M155.6 453.4h1.0M152.1 457.5h1.0M137.7 460.3h1.0M142.8 442.2h1.0M149.2 467.0h1.0M144.9 472.2h1.0M134.2 473.6h1.0M151.1 463.1h1.0M147.4 476.1h1.0M148.0 475.6h1.0M146.5 464.7h1.0M147.2 454.9h1.0M155.6 449.2h1.0M153.1 455.6h1.0M154.8 451.0h1.0M146.4 458.8h1.0M145.7 473.4h1.0M154.0 429.9h1.0M150.0 469.6h1.0M146.4 461.4h1.0M148.2 463.9h1.0M155.9 447.2h1.0M151.0 469.7h1.0M140.2 458.4h1.0M155.0 448.1h1.0M147.1 433.5h1.0M140.8 469.4h1.0M155.4 438.4h1.0M145.0 472.1h1.0M146.6 465.0h1.0M151.0 466.5h1.0M153.0 470.7h1.0M140.0 456.7h1.0M153.1 430.9h1.0M151.5 473.6h1.0M148.7 460.2h1.0M157.4 443.0h1.0M147.2 463.4h1.0M150.1 430.6h1.0M144.9 471.4h1.0M154.8 431.1h1.0M148.0 467.6h1.0M145.4 472.1h1.0M147.3 464.3h1.0M146.0 436.2h1.0M149.9 459.1h1.0M150.4 472.6h1.0M149.9 473.2h1.0M145.4 471.0h1.0M149.0 470.6h1.0M154.3 430.9h1.0M152.4 467.4h1.0M151.2 469.8h1.0M151.1 470.2h1.0M144.3 470.0h1.0M144.2 439.4h1.0M147.6 455.9h1.0M149.1 472.3h1.0M143.8 435.8h1.0M138.5 464.7h1.0M148.7 462.0h1.0M156.0 439.3h1.0M154.3 471.6h1.0M151.2 464.0h1.0M155.2 434.6h1.0M151.2 467.5h1.0M148.9 475.5h1.0M151.2 432.1h1.0M155.0 436.5h1.0M139.6 458.6h1.0M148.5 461.1h1.0M154.6 439.0h1.0M156.9 440.0h1.0M147.5 430.6h1.0M151.8 467.6h1.0M143.5 440.5h1.0M144.3 434.3h1.0M149.2 464.9h1.0M148.7 472.5h1.0M145.3 470.1h1.0M157.9 441.6h1.0M143.9 437.4h1.0M147.5 453.2h1.0M148.8 466.7h1.0M139.7 464.5h1.0M152.8 455.1h1.0M154.0 456.1h1.0M147.3 475.7h1.0M146.6 429.8h1.0M148.8 465.4h1.0M154.8 435.2h1.0M139.6 470.2h1.0M140.5 468.8h1.0M150.5 470.2h1.0M153.5 469.3h1.0M149.9 431.3h1.0M148.5 465.4h1.0M146.1 469.2h1.0M154.6 438.3h1.0M153.6 471.1h1.0M151.0 436.0h1.0M143.7 467.7h1.0M131.9 471.9h1.0M147.1 474.1h1.0M154.7 440.0h1.0M147.6 475.0h1.0M148.6 460.1h1.0M146.6 473.6h1.0M148.3 457.5h1.0M155.7 452.9h1.0M146.6 466.4h1.0M141.1 470.3h1.0M147.4 468.1h1.0M148.9 470.0h1.0M149.3 456.3h1.0M145.2 470.0h1.0M142.9 439.2h1.0M153.2 467.5h1.0M156.0 433.6h1.0M150.9 456.2h1.0M155.2 436.9h1.0M154.2 468.0h1.0M144.1 438.7h1.0M154.4 433.3h1.0M147.4 474.6h1.0M153.3 428.6h1.0M146.5 458.2h1.0M152.0 470.6h1.0M153.3 435.7h1.0M153.3 467.3h1.0M151.3 454.4h1.0M140.0 462.1h1.0M147.0 465.5h1.0M150.1 457.6h1.0M147.9 464.3h1.0M145.0 474.0h1.0M143.2 466.4h1.0M155.8 430.1h1.0M153.4 432.5h1.0M153.4 468.7h1.0M146.1 474.2h1.0M144.5 471.1h1.0M154.5 454.0h1.0M145.8 469.0h1.0M147.9 453.5h1.0M153.9 467.1h1.0M142.7 444.1h1.0M151.1 474.2h1.0M137.6 470.9h1.0M148.5 470.4h1.0M154.9 446.9h1.0M149.6 431.9h1.0M144.0 440.6h1.0M154.6 438.8h1.0M154.4 437.8h1.0M151.9 455.7h1.0M146.5 456.2h1.0M155.7 451.1h1.0M142.9 436.2h1.0M148.2 469.5h1.0M148.6 469.8h1.0M146.7 475.7h1.0M149.7 460.9h1.0M147.5 456.9h1.0M155.6 431.7h1.0M149.2 472.7h1.0M143.4 438.2h1.0M156.0 451.0h1.0M152.6 431.8h1.0M143.1 436.4h1.0M150.3 430.6h1.0M148.3 459.8h1.0M153.6 468.4h1.0M138.9 475.4h1.0M148.0 473.7h1.0M148.5 432.9h1.0M155.1 429.1h1.0M151.6 455.2h1.0M143.5 439.3h1.0M148.2 456.7h1.0M151.7 430.5h1.0M146.7 474.9h1.0M143.8 466.5h1.0M149.4 455.8h1.0M155.3 440.2h1.0M158.1 443.5h1.0M149.6 471.1h1.0M149.0 473.0h1.0M147.4 432.4h1.0M139.3 467.7h1.0M152.6 455.9h1.0M146.7 466.1h1.0M150.3 467.6h1.0M151.3 455.3h1.0M150.3 468.6h1.0M150.4 468.0h1.0M148.8 469.6h1.0M152.7 471.7h1.0M155.2 433.7h1.0M147.4 470.1h1.0M147.3 466.2h1.0M139.8 467.6h1.0M155.2 453.7h1.0M153.2 470.1h1.0M143.1 436.2h1.0M152.0 430.6h1.0M151.8 468.6h1.0M149.3 461.3h1.0M154.3 435.7h1.0M149.4 463.8h1.0M154.9 428.8h1.0M150.5 469.1h1.0M152.9 466.4h1.0M157.9 439.8h1.0M151.8 454.7h1.0M145.8 472.4h1.0M142.6 441.9h1.0M148.1 452.9h1.0M130.6 472.2h1.0M151.7 469.1h1.0M146.4 433.5h1.0M151.9 462.6h1.0M149.8 455.5h1.0M142.8 468.1h1.0M146.9 429.0h1.0M149.5 460.4h1.0M139.8 468.7h1.0M148.6 431.8h1.0M148.0 465.9h1.0M146.6 463.0h1.0M155.6 448.4h1.0M147.8 429.2h1.0M146.8 476.2h1.0M147.4 429.1h1.0M149.0 466.1h1.0M143.3 443.1h1.0M146.8 472.3h1.0M150.1 467.2h1.0M137.3 476.1h1.0M149.3 464.1h1.0M143.2 467.3h1.0M142.7 442.5h1.0M149.6 454.6h1.0M143.4 440.9h1.0M140.0 473.4h1.0M146.9 430.3h1.0M150.1 430.8h1.0M151.1 473.9h1.0M150.7 431.8h1.0M138.4 468.2h1.0M149.5 474.6h1.0M145.8 470.4h1.0M135.9 475.0h1.0M148.2 459.3h1.0M144.0 440.2h1.0M147.5 465.6h1.0M157.3 441.2h1.0M152.3 463.0h1.0M155.5 450.3h1.0M151.1 466.4h1.0M146.0 470.2h1.0M144.9 470.1h1.0M145.4 468.5h1.0M149.7 473.3h1.0M150.5 431.8h1.0M140.9 467.0h1.0M156.2 432.6h1.0M148.4 466.8h1.0M147.7 468.3h1.0M149.4 459.1h1.0M151.5 455.9h1.0M139.6 468.1h1.0M139.0 463.5h1.0M138.9 467.2h1.0M155.6 436.5h1.0M152.9 454.4h1.0M147.3 476.1h1.0M148.4 463.2h1.0M134.1 471.9h1.0M145.6 473.4h1.0M153.3 428.8h1.0M150.5 432.7h1.0M147.7 458.7h1.0M136.8 471.3h1.0M151.2 471.5h1.0M147.3 470.2h1.0M148.1 454.6h1.0M151.7 431.6h1.0M144.9 434.4h1.0M152.4 472.0h1.0M147.3 469.3h1.0M147.7 428.5h1.0M133.3 469.9h1.0M151.7 431.9h1.0M142.7 436.3h1.0M144.6 473.3h1.0M148.1 473.9h1.0M148.6 475.3h1.0M150.3 471.3h1.0M154.7 434.9h1.0M151.6 470.2h1.0M153.5 429.2h1.0M148.5 470.4h1.0M148.3 475.3h1.0M136.8 471.6h1.0M153.8 456.3h1.0M149.3 456.5h1.0M146.7 454.4h1.0M147.6 432.0h1.0M150.9 472.9h1.0M147.3 466.4h1.0M138.2 461.3h1.0M148.1 430.4h1.0M142.6 442.6h1.0M158.2 439.4h1.0M154.2 432.7h1.0M138.0 455.0h1.0M141.8 470.0h1.0M151.1 466.5h1.0M133.7 474.7h1.0M146.8 474.5h1.0M152.8 470.1h1.0M152.4 433.8h1.0M155.8 437.4h1.0M142.5 442.0h1.0M149.4 432.5h1.0M148.0 474.0h1.0M149.8 459.7h1.0M144.8 472.2h1.0M137.7 469.5h1.0M145.3 434.6h1.0M149.1 466.2h1.0M153.0 433.2h1.0M150.2 465.9h1.0M147.4 472.5h1.0M147.9 430.2h1.0M151.8 457.9h1.0M145.2 466.6h1.0M144.4 468.2h1.0M146.1 473.9h1.0M149.9 474.8h1.0M148.9 471.1h1.0M156.4 439.3h1.0M138.4 465.4h1.0M146.1 436.0h1.0M152.7 435.9h1.0M154.1 433.6h1.0M148.0 468.8h1.0M140.7 467.7h1.0M141.6 464.4h1.0M154.9 446.6h1.0M146.5 465.4h1.0M153.1 433.4h1.0M148.5 455.0h1.0M144.4 467.5h1.0M148.8 469.1h1.0M138.7 475.6h1.0M146.5 462.2h1.0M134.6 471.9h1.0M140.6 465.4h1.0M152.1 433.6h1.0M138.1 469.1h1.0M146.0 469.3h1.0M153.6 469.4h1.0M152.5 435.0h1.0M153.0 469.5h1.0M154.6 449.4h1.0M152.4 470.7h1.0M154.8 428.9h1.0M145.6 435.3h1.0M150.0 465.7h1.0M156.5 442.0h1.0M151.0 467.6h1.0M152.0 462.5h1.0M153.1 435.7h1.0M153.1 454.6h1.0M154.8 436.5h1.0M148.9 431.1h1.0M152.1 432.3h1.0M138.9 465.8h1.0M139.4 467.5h1.0M148.5 466.0h1.0M150.9 457.9h1.0M145.8 451.9h1.0M146.6 461.3h1.0M140.5 464.8h1.0M142.4 467.6h1.0M143.1 442.4h1.0M149.9 471.7h1.0M147.5 456.3h1.0M149.5 476.3h1.0M154.4 432.8h1.0M141.4 466.0h1.0M136.6 455.7h1.0M149.7 472.9h1.0M156.9 438.5h1.0M151.0 469.5h1.0M150.4 471.5h1.0M154.7 452.5h1.0M152.4 454.4h1.0M148.6 455.4h1.0M152.8 432.8h1.0M154.0 430.5h1.0M157.1 442.9h1.0M148.4 467.1h1.0M146.9 459.8h1.0M148.6 464.0h1.0M145.3 469.0h1.0M149.2 472.3h1.0M139.1 464.6h1.0M143.7 441.9h1.0M141.6 464.8h1.0M148.1 461.4h1.0M150.6 469.5h1.0M153.4 433.6h1.0M154.3 432.5h1.0M152.9 433.5h1.0M134.1 471.9h1.0M150.0 471.3h1.0M150.1 434.3h1.0M144.0 435.3h1.0M150.1 472.3h1.0M144.0 468.0h1.0M152.8 468.2h1.0M150.2 457.9h1.0M147.0 456.0h1.0M152.8 431.0h1.0M148.0 467.4h1.0M147.4 459.5h1.0M150.5 467.3h1.0M140.0 473.1h1.0M154.4 431.1h1.0M149.8 461.2h1.0M150.5 431.8h1.0M147.5 431.1h1.0M148.2 461.3h1.0M151.8 457.8h1.0M142.5 443.4h1.0M147.5 472.8h1.0M152.5 454.6h1.0M144.0 466.9h1.0M147.5 431.8h1.0M142.4 444.2h1.0M149.2 469.0h1.0M143.9 441.6h1.0M153.5 435.1h1.0M146.8 476.0h1.0M139.5 473.6h1.0M155.6 438.2h1.0M149.5 469.4h1.0M147.0 454.8h1.0M153.1 431.8h1.0M134.2 471.3h1.0M148.6 469.8h1.0M146.1 473.1h1.0M158.2 441.6h1.0M151.9 469.3h1.0M151.1 455.5h1.0M151.4 455.9h1.0M150.5 473.2h1.0M152.7 455.1h1.0M155.2 434.4h1.0M148.5 431.7h1.0M156.2 428.6h1.0M139.7 459.8h1.0M155.4 453.2h1.0M146.9 428.8h1.0M155.8 453.4h1.0M151.5 456.1h1.0M137.6 461.0h1.0M147.3 457.3h1.0M151.2 471.7h1.0M144.9 435.6h1.0M156.8 438.8h1.0M144.6 434.6h1.0M150.1 460.6h1.0M150.7 430.6h1.0M148.7 432.9h1.0M140.1 458.9h1.0M151.7 432.1h1.0M148.0 453.4h1.0M155.3 448.0h1.0M146.1 469.4h1.0M144.3 434.8h1.0M147.7 474.6h1.0M146.9 458.5h1.0M155.6 438.5h1.0M147.2 466.1h1.0M148.9 466.8h1.0M145.4 451.6h1.0M139.5 471.3h1.0M152.7 433.5h1.0M148.5 431.7h1.0M152.7 436.1h1.0M147.4 466.3h1.0M149.2 455.3h1.0M148.0 476.0h1.0M154.4 448.5h1.0M148.7 471.8h1.0M137.6 470.2h1.0M155.3 451.9h1.0M148.6 457.6h1.0M150.1 432.6h1.0M147.9 475.5h1.0M153.7 436.3h1.0M146.9 469.5h1.0M151.9 430.7h1.0M151.0 454.4h1.0M148.3 433.2h1.0M151.8 472.7h1.0M146.9 456.5h1.0M146.5 468.2h1.0M144.4 471.2h1.0M153.4 431.6h1.0M145.8 467.0h1.0M148.2 474.2h1.0M141.7 469.4h1.0M148.9 464.3h1.0M148.2 429.2h1.0M152.0 472.2h1.0M149.3 459.3h1.0M148.2 474.5h1.0M155.2 450.5h1.0M142.4 441.6h1.0M154.2 455.8h1.0M149.6 474.2h1.0M155.8 454.2h1.0M155.8 431.8h1.0M155.3 432.9h1.0M148.9 465.7h1.0M146.7 456.8h1.0M147.6 469.0h1.0M154.7 434.0h1.0M149.9 466.5h1.0M147.1 458.0h1.0M143.3 438.3h1.0M147.0 475.7h1.0M146.9 463.7h1.0M156.4 442.6h1.0M145.3 452.1h1.0M154.3 431.1h1.0M150.1 431.5h1.0M156.0 438.9h1.0M149.3 458.2h1.0M138.5 456.7h1.0M154.2 429.5h1.0M155.0 454.3h1.0M145.9 474.2h1.0M155.6 432.0h1.0M148.9 460.4h1.0M150.5 430.6h1.0M151.5 435.8h1.0M147.7 430.1h1.0M151.2 454.4h1.0M146.1 434.4h1.0M153.9 435.3h1.0M158.0 439.1h1.0M150.0 463.1h1.0M153.9 436.1h1.0M147.8 432.8h1.0M156.2 440.0h1.0M149.8 433.1h1.0M146.6 468.4h1.0M147.4 454.6h1.0M146.3 429.6h1.0M153.1 466.6h1.0M151.4 455.7h1.0M147.7 432.7h1.0M144.5 469.1h1.0M146.4 469.3h1.0M146.9 463.3h1.0M138.3 468.3h1.0M143.8 438.7h1.0M150.8 430.9h1.0M148.4 469.5h1.0M145.4 472.2h1.0M148.1 463.2h1.0M148.3 461.5h1.0M147.0 461.4h1.0M153.4 454.6h1.0M155.2 451.3h1.0M154.8 429.8h1.0M138.3 464.7h1.0M150.0 471.0h1.0M146.1 472.1h1.0M146.8 466.2h1.0M149.0 470.0h1.0M146.6 433.1h1.0M147.0 468.2h1.0M152.0 435.4h1.0M143.4 468.1h1.0M152.7 434.7h1.0M137.4 469.6h1.0M149.5 456.5h1.0M155.1 429.4h1.0M144.2 436.6h1.0M150.9 455.3h1.0M147.6 463.2h1.0M148.6 470.3h1.0M152.5 454.9h1.0M150.9 456.9h1.0M156.0 452.0h1.0M148.0 454.6h1.0M153.8 471.0h1.0M151.9 434.4h1.0M152.3 454.3h1.0M147.5 431.7h1.0M147.5 428.3h1.0M137.7 454.6h1.0M147.8 466.4h1.0M155.8 449.6h1.0M153.1 466.5h1.0M154.8 439.9h1.0M145.4 451.2h1.0M143.6 437.3h1.0M154.7 446.4h1.0M146.8 433.9h1.0M152.7 432.8h1.0M152.8 434.7h1.0M154.5 446.3h1.0M154.5 436.3h1.0M153.6 433.5h1.0M155.8 440.0h1.0M143.5 444.2h1.0M154.9 447.9h1.0M142.7 435.3h1.0M144.1 443.7h1.0M154.7 433.9h1.0M153.0 431.5h1.0M154.3 437.0h1.0M156.8 441.0h1.0M156.4 442.7h1.0M150.0 465.5h1.0M157.5 441.1h1.0M151.4 455.6h1.0M156.5 442.4h1.0M153.6 435.5h1.0M146.8 428.3h1.0M152.0 434.3h1.0M149.4 454.7h1.0M145.2 450.3h1.0M151.5 435.2h1.0M152.5 435.1h1.0M149.8 431.7h1.0M143.9 436.9h1.0M143.9 441.4h1.0M155.7 451.2h1.0M153.4 435.0h1.0M156.0 448.9h1.0M157.0 441.4h1.0M147.2 456.1h1.0M155.0 430.5h1.0M156.1 439.4h1.0M154.5 438.9h1.0M148.6 456.3h1.0M153.6 433.7h1.0M153.3 454.4h1.0M154.9 448.5h1.0M151.0 433.5h1.0M156.0 440.0h1.0M155.6 452.4h1.0M154.9 438.9h1.0M154.5 438.7h1.0M156.6 440.2h1.0M154.5 439.2h1.0M150.4 433.7h1.0M148.4 456.6h1.0M155.7 432.0h1.0M147.3 432.8h1.0M151.3 435.4h1.0M146.5 454.9h1.0M150.1 456.1h1.0M143.2 437.9h1.0M152.6 436.1h1.0M155.9 450.3h1.0M148.6 431.6h1.0M150.9 435.7h1.0M155.8 450.2h1.0M156.0 448.8h1.0M151.6 434.2h1.0M154.5 440.0h1.0M155.6 450.6h1.0M152.3 432.8h1.0M146.1 451.1h1.0M158.1 443.2h1.0M151.7 435.5h1.0M144.1 439.4h1.0M146.6 453.2h1.0M148.4 434.2h1.0M148.7 433.8h1.0M136.8 461.7h1.0M136.8 471.6h1.0M139.3 475.7h1.0M138.8 468.4h1.0M134.2 475.8h1.0M136.5 455.2h1.0M139.0 470.7h1.0M134.4 475.9h1.0M138.9 456.8h1.0M125.0 466.1h1.0M138.2 468.5h1.0M140.9 469.0h1.0M134.0 470.6h1.0M138.0 466.0h1.0M136.7 463.4h1.0M132.7 475.0h1.0M136.6 464.9h1.0M135.2 475.9h1.0M140.5 470.3h1.0M131.8 473.7h1.0M126.0 465.8h1.0M140.2 463.1h1.0M134.1 472.9h1.0M136.2 471.2h1.0M139.3 468.6h1.0M140.2 470.1h1.0M140.1 456.3h1.0M132.7 473.4h1.0M134.7 474.5h1.0M137.3 455.9h1.0M136.3 467.0h1.0M139.8 473.4h1.0M135.8 474.6h1.0M124.6 465.1h1.0M139.6 464.3h1.0M134.8 475.6h1.0M135.7 471.8h1.0M136.5 463.3h1.0M134.1 474.9h1.0M133.3 468.9h1.0M133.8 469.3h1.0M140.0 461.7h1.0M136.8 462.2h1.0M138.8 464.9h1.0M138.6 462.6h1.0M137.8 461.5h1.0M140.1 461.6h1.0M139.1 460.3h1.0M140.2 466.6h1.0M133.4 471.2h1.0M133.1 469.8h1.0M134.0 470.9h1.0M139.2 466.1h1.0M136.5 472.1h1.0M139.1 470.8h1.0M132.3 469.4h1.0M134.1 472.3h1.0M138.6 461.0h1.0M141.0 466.2h1.0M131.8 473.4h1.0M133.7 474.5h1.0M135.0 474.4h1.0M140.2 474.0h1.0M139.3 470.8h1.0M133.1 475.5h1.0M139.6 471.9h1.0M139.8 475.7h1.0M137.5 461.3h1.0M138.7 467.2h1.0M139.5 456.9h1.0M137.0 454.4h1.0M124.8 465.9h1.0M139.9 474.4h1.0M139.4 476.2h1.0M137.1 475.7h1.0M139.3 465.9h1.0M131.3 472.6h1.0M135.7 475.5h1.0M130.8 472.0h1.0M133.4 471.1h1.0M135.2 474.8h1.0M137.0 474.4h1.0M138.3 470.3h1.0M139.6 458.0h1.0M134.1 475.1h1.0M125.2 466.2h1.0M125.8 466.0h1.0M124.7 465.8h1.0M139.9 475.8h1.0M140.1 468.2h1.0M139.6 456.8h1.0M140.6 467.1h1.0M140.9 470.0h1.0M139.1 467.4h1.0M139.6 458.1h1.0M133.6 473.8h1.0M137.0 455.1h1.0M139.7 467.6h1.0M139.8 467.3h1.0M133.1 468.9h1.0M133.5 472.0h1.0M139.8 457.8h1.0M138.9 456.8h1.0M140.0 458.8h1.0M134.5 471.6h1.0M136.6 474.4h1.0M137.4 475.8h1.0M139.8 476.0h1.0M137.6 463.5h1.0M139.1 461.7h1.0M134.5 475.2h1.0M137.6 460.5h1.0M139.2 464.8h1.0M134.6 471.7h1.0M134.8 471.2h1.0M138.2 455.9h1.0M138.8 475.2h1.0M134.2 474.4h1.0M139.1 469.3h1.0M139.0 473.4h1.0M132.9 474.9h1.0M135.1 476.0h1.0M139.2 464.2h1.0M139.0 461.4h1.0M136.4 463.6h1.0M137.6 474.4h1.0M140.1 473.1h1.0M138.7 462.1h1.0M138.4 462.8h1.0M138.6 459.2h1.0M138.1 454.6h1.0M138.9 471.4h1.0M136.4 475.2h1.0M133.5 468.7h1.0M139.5 472.6h1.0M139.3 458.2h1.0M132.6 472.2h1.0M130.5 472.4h1.0M139.2 470.7h1.0M138.1 472.1h1.0M138.0 474.5h1.0M139.7 469.2h1.0M135.1 474.6h1.0M136.9 475.9h1.0M136.5 475.1h1.0M138.8 465.1h1.0M137.4 469.2h1.0M138.3 465.8h1.0M137.9 475.5h1.0M138.7 473.6h1.0M137.3 468.3h1.0M132.1 471.7h1.0M133.3 474.5h1.0M132.4 471.4h1.0M139.3 467.8h1.0M138.5 463.1h1.0M137.3 475.2h1.0M135.5 474.4h1.0M137.9 462.9h1.0M132.5 475.3h1.0M135.6 475.5h1.0M135.5 474.4h1.0M133.6 473.3h1.0M137.6 466.0h1.0M133.1 473.6h1.0M138.5 459.0h1.0M136.9 465.4h1.0M137.8 467.8h1.0M137.1 455.0h1.0M139.5 471.1h1.0M130.3 472.1h1.0M137.7 468.4h1.0M134.5 470.5h1.0M139.7 460.9h1.0M136.8 466.6h1.0M137.2 460.9h1.0M138.8 460.5h1.0M133.7 475.9h1.0M139.8 470.6h1.0M141.0 465.3h1.0M140.5 466.7h1.0M137.8 456.2h1.0M133.6 469.6h1.0M139.9 475.2h1.0M137.7 475.9h1.0M138.3 469.2h1.0M134.1 472.5h1.0M134.4 474.4h1.0M140.1 475.4h1.0M140.4 468.0h1.0M138.7 467.6h1.0M138.8 459.2h1.0M125.2 465.3h1.0M137.1 472.2h1.0M132.5 468.6h1.0M140.2 473.5h1.0M137.9 455.1h1.0M140.2 475.3h1.0M126.0 466.0h1.0M135.3 470.3h1.0M134.2 470.8h1.0M137.6 461.6h1.0M136.5 464.2h1.0M139.8 463.4h1.0M133.3 475.8h1.0M138.7 463.5h1.0M140.8 468.4h1.0M139.9 475.0h1.0M132.6 474.2h1.0M137.3 471.4h1.0M138.7 461.2h1.0M136.7 466.5h1.0M139.5 457.7h1.0M140.7 464.7h1.0M137.9 466.7h1.0M138.3 462.7h1.0M138.8 465.5h1.0M134.0 469.0h1.0M135.9 470.5h1.0M134.3 474.8h1.0M134.6 474.9h1.0M140.6 469.9h1.0M132.8 474.2h1.0M139.9 471.3h1.0M131.2 471.0h1.0M137.8 466.5h1.0M139.8 474.6h1.0M139.7 473.4h1.0M132.8 474.3h1.0M133.6 475.6h1.0M140.3 466.2h1.0M139.0 475.6h1.0M137.7 464.6h1.0M140.0 463.1h1.0M137.0 462.5h1.0M137.3 469.7h1.0M125.4 465.2h1.0M139.2 467.5h1.0M139.6 475.6h1.0M139.3 464.9h1.0M140.0 472.1h1.0M132.2 472.3h1.0M139.6 472.8h1.0M125.6 465.4h1.0M137.4 463.6h1.0M134.2 474.6h1.0M132.6 472.1h1.0M133.5 475.2h1.0M135.7 470.5h1.0M130.6 470.7h1.0M138.6 462.9h1.0M139.8 474.4h1.0M137.5 466.0h1.0M134.3 474.1h1.0M134.2 471.1h1.0M140.1 462.3h1.0M132.8 475.0h1.0M150.4 457.9h1.0M125.0 466.2h1.0M132.3 476.1h1.0M148.5 473.1h1.0M140.7 470.0h1.0M142.6 466.9h1.0M133.3 469.0h1.0M130.9 470.5h1.0M146.7 473.6h1.0M132.5 470.3h1.0M136.7 468.7h1.0M148.1 466.4h1.0M138.6 472.4h1.0M133.0 472.3h1.0M148.2 460.7h1.0M145.3 471.1h1.0M157.1 443.2h1.0M154.2 434.6h1.0M136.2 475.8h1.0M153.6 471.5h1.0M142.7 466.3h1.0M130.5 472.9h1.0M136.9 467.2h1.0M151.7 464.2h1.0M142.2 467.4h1.0M149.7 458.4h1.0M156.0 434.9h1.0M146.4 456.4h1.0M150.7 470.7h1.0M142.2 466.0h1.0M140.6 465.7h1.0M149.0 473.2h1.0M144.6 467.0h1.0M154.3 454.0h1.0M130.7 470.8h1.0M138.3 469.3h1.0" stroke="#3a56e4" stroke-width="1.0" stroke-opacity="0.9" fill="none"/>
<path d="M148.3 450.4h1.0M154.5 442.1h1.0M146.8 440.3h1.0M144.6 445.2h1.0M151.2 452.4h1.0M155.3 446.1h1.0M154.6 441.2h1.0M146.3 437.4h1.0M148.9 428.4h1.0M145.0 437.2h1.0M146.0 443.8h1.0M151.1 452.3h1.0M153.1 448.4h1.0M147.0 441.5h1.0M146.1 442.6h1.0M151.6 451.3h1.0M146.0 447.2h1.0M153.1 437.7h1.0M144.8 437.6h1.0M153.0 453.9h1.0M153.4 448.1h1.0M148.1 438.2h1.0M153.5 448.7h1.0M148.4 436.3h1.0M144.7 442.7h1.0M137.6 473.1h1.0M151.2 448.7h1.0M154.5 445.7h1.0M155.1 440.5h1.0M146.7 436.1h1.0M155.6 446.0h1.0M146.9 435.3h1.0M155.2 441.8h1.0M153.5 445.4h1.0M146.3 438.2h1.0M147.7 437.6h1.0M147.4 452.3h1.0M148.6 450.7h1.0M153.9 444.5h1.0M147.7 451.8h1.0M146.3 449.7h1.0M147.1 471.8h1.0M144.4 445.2h1.0M150.1 434.6h1.0M154.0 449.1h1.0M148.7 439.9h1.0M146.4 470.9h1.0M154.6 443.0h1.0M156.1 445.5h1.0M150.5 438.4h1.0M146.5 439.5h1.0M152.3 451.5h1.0M154.0 445.9h1.0M152.0 437.8h1.0M144.9 440.0h1.0M148.2 449.9h1.0M149.1 429.1h1.0M145.3 437.2h1.0M152.4 452.2h1.0M151.3 437.3h1.0M150.6 449.6h1.0M146.7 441.7h1.0M149.9 451.2h1.0M149.5 428.3h1.0M151.7 428.9h1.0M149.3 438.4h1.0M145.1 441.8h1.0M152.5 446.7h1.0M148.9 452.4h1.0M146.6 449.8h1.0M145.5 440.6h1.0M151.1 453.6h1.0M155.4 445.5h1.0M146.4 450.3h1.0M149.6 428.5h1.0M149.7 434.7h1.0M147.2 471.8h1.0M152.3 451.2h1.0M151.8 428.6h1.0M151.4 428.6h1.0M152.0 438.0h1.0M153.5 448.5h1.0M153.6 439.5h1.0M147.8 471.5h1.0M146.7 436.3h1.0M152.5 444.5h1.0M147.7 471.7h1.0M152.1 449.1h1.0M147.5 471.1h1.0M150.0 452.4h1.0M148.0 436.8h1.0M148.3 450.0h1.0M154.8 441.4h1.0M149.7 454.1h1.0M152.3 452.5h1.0M151.6 449.2h1.0M147.4 436.8h1.0M150.7 438.5h1.0M149.0 435.4h1.0M144.6 441.9h1.0M150.1 435.0h1.0M136.8 474.2h1.0M154.6 444.1h1.0M147.6 435.9h1.0M148.5 434.4h1.0M153.1 436.9h1.0M146.2 447.3h1.0M151.1 451.6h1.0M146.1 441.9h1.0M154.1 452.4h1.0M153.4 438.3h1.0M149.1 440.0h1.0M147.8 439.3h1.0M150.2 437.8h1.0M154.7 443.7h1.0M151.8 449.4h1.0M151.6 430.0h1.0M151.2 437.8h1.0M152.0 436.4h1.0M155.1 443.0h1.0M149.5 437.3h1.0M146.1 438.1h1.0M147.7 436.3h1.0M149.1 452.5h1.0M146.7 451.7h1.0M154.8 441.0h1.0M149.1 452.7h1.0M147.7 441.0h1.0M145.7 448.8h1.0M146.6 471.7h1.0M149.8 452.9h1.0M148.7 430.2h1.0M154.8 443.8h1.0M152.6 448.1h1.0M149.6 429.6h1.0M147.8 450.8h1.0M152.5 450.7h1.0M144.4 439.1h1.0M154.0 439.1h1.0M153.5 453.3h1.0M148.1 451.1h1.0M147.1 440.8h1.0M153.2 453.2h1.0M146.4 451.7h1.0M152.4 440.0h1.0M147.7 439.2h1.0M152.3 429.2h1.0M144.6 436.4h1.0M150.8 438.9h1.0M155.9 441.5h1.0M149.1 438.2h1.0M148.2 471.2h1.0M149.3 437.4h1.0M145.6 443.8h1.0M149.6 429.4h1.0M144.8 437.7h1.0M144.3 443.9h1.0M146.1 447.2h1.0M146.8 438.7h1.0M154.3 441.9h1.0M147.0 471.8h1.0M148.8 430.2h1.0M150.7 428.6h1.0M146.1 437.8h1.0M147.6 436.2h1.0M146.3 444.0h1.0M150.7 452.8h1.0M151.7 450.6h1.0M149.8 454.0h1.0M148.8 440.2h1.0M152.8 451.8h1.0M151.1 449.0h1.0M144.8 438.9h1.0M145.5 439.0h1.0M152.5 436.9h1.0M135.6 472.3h1.0M150.8 439.6h1.0M151.5 428.9h1.0M146.1 448.4h1.0M147.6 434.6h1.0M155.8 442.5h1.0M147.2 451.9h1.0M149.1 452.1h1.0M153.9 452.3h1.0M153.8 446.2h1.0M145.2 443.2h1.0M148.7 451.5h1.0M154.1 440.2h1.0M144.7 449.2h1.0M152.7 439.7h1.0M153.0 448.6h1.0M145.3 440.2h1.0M150.2 436.2h1.0M155.7 445.8h1.0M150.1 428.6h1.0M151.8 450.5h1.0M146.8 472.0h1.0M146.8 435.8h1.0M149.1 436.9h1.0M154.3 440.5h1.0M146.8 448.7h1.0M145.2 449.4h1.0M154.0 438.0h1.0M148.7 435.2h1.0M154.0 451.9h1.0M151.1 450.8h1.0M147.5 441.8h1.0M145.2 440.5h1.0M146.9 449.2h1.0M147.7 441.4h1.0M149.0 437.1h1.0M144.9 436.4h1.0M153.4 447.3h1.0M152.7 450.0h1.0M148.7 437.2h1.0M148.3 437.8h1.0M147.6 471.8h1.0M145.3 438.6h1.0M149.9 430.3h1.0M145.0 444.0h1.0M146.2 449.0h1.0M145.7 445.1h1.0M150.8 450.5h1.0M146.9 450.0h1.0M154.0 453.5h1.0M145.6 438.2h1.0M148.1 448.5h1.0M150.7 450.1h1.0M150.8 450.6h1.0M145.1 447.3h1.0M151.6 451.3h1.0M153.1 444.4h1.0M154.2 449.2h1.0M145.3 445.6h1.0M152.9 453.2h1.0M153.0 450.3h1.0M155.1 441.8h1.0M148.0 450.4h1.0M148.5 429.3h1.0M148.4 430.2h1.0M145.8 440.7h1.0M146.5 436.8h1.0M151.0 452.0h1.0M152.0 453.0h1.0M153.4 438.9h1.0M153.4 450.7h1.0M149.7 450.7h1.0M150.5 428.8h1.0M151.6 438.9h1.0M149.9 437.0h1.0M145.5 442.6h1.0M144.7 438.0h1.0M152.7 449.6h1.0M148.9 438.2h1.0M146.0 441.8h1.0M147.9 435.9h1.0M146.9 438.1h1.0M150.8 430.0h1.0M152.7 449.9h1.0M147.9 451.7h1.0M150.2 428.5h1.0M149.1 439.3h1.0M145.4 447.7h1.0M153.7 445.3h1.0M152.2 450.1h1.0M151.7 429.8h1.0M145.3 444.9h1.0M145.4 449.5h1.0M144.7 447.0h1.0M154.0 452.6h1.0M150.7 452.8h1.0M153.3 436.7h1.0M149.3 434.6h1.0M150.1 430.1h1.0M150.1 436.4h1.0M147.1 450.5h1.0M150.9 429.1h1.0M156.1 446.3h1.0M148.8 429.0h1.0M145.7 438.7h1.0M151.6 438.9h1.0M145.8 449.9h1.0M154.6 442.0h1.0M144.7 437.1h1.0M155.1 444.8h1.0M156.3 443.9h1.0M147.6 471.7h1.0M146.5 440.5h1.0M150.8 437.8h1.0M150.9 428.6h1.0M148.0 438.3h1.0M153.0 445.5h1.0M154.0 450.4h1.0M151.4 453.3h1.0M153.5 445.7h1.0M154.1 439.9h1.0M148.4 437.4h1.0M146.9 451.3h1.0M145.0 436.3h1.0M150.5 428.5h1.0M155.1 446.2h1.0M153.4 449.1h1.0M154.0 437.3h1.0M145.6 436.6h1.0M146.4 448.8h1.0M146.5 436.9h1.0M147.7 435.8h1.0M144.7 443.8h1.0M145.2 439.5h1.0M146.6 439.9h1.0M150.5 452.5h1.0M146.1 449.6h1.0M152.6 438.3h1.0M150.1 439.2h1.0M146.2 438.1h1.0M152.9 445.6h1.0M156.2 440.5h1.0M146.2 443.3h1.0M144.6 440.7h1.0M145.8 439.7h1.0M146.3 446.0h1.0M150.7 451.3h1.0M152.6 446.8h1.0M150.9 450.7h1.0M152.3 453.6h1.0M150.4 453.7h1.0M151.4 451.1h1.0M148.8 450.9h1.0M150.2 453.0h1.0M155.4 440.7h1.0M146.1 436.3h1.0M153.9 446.5h1.0M150.0 453.9h1.0M148.1 437.5h1.0M153.5 444.6h1.0M150.5 439.8h1.0M144.8 447.7h1.0M145.0 441.0h1.0M150.0 438.0h1.0M152.5 447.9h1.0M147.4 441.6h1.0M146.6 438.3h1.0M151.6 439.0h1.0M152.8 447.8h1.0M153.5 449.8h1.0M151.3 438.2h1.0M151.6 452.0h1.0M154.3 439.9h1.0M148.4 452.0h1.0M146.7 439.4h1.0M147.3 439.9h1.0M155.0 444.1h1.0M150.6 450.8h1.0M146.9 435.6h1.0M154.0 446.2h1.0M152.6 452.7h1.0M146.9 436.2h1.0M149.8 437.7h1.0M144.9 439.5h1.0M150.9 451.6h1.0M154.0 450.5h1.0M151.2 448.3h1.0M153.8 439.7h1.0M153.8 438.7h1.0M147.4 442.3h1.0M148.6 451.1h1.0M155.6 445.1h1.0M144.6 445.6h1.0M153.1 448.6h1.0M146.5 442.0h1.0M151.3 439.4h1.0M151.9 438.9h1.0M145.0 441.1h1.0M146.9 448.5h1.0M150.2 437.1h1.0M152.9 445.8h1.0M148.7 451.4h1.0M153.0 447.2h1.0M151.0 438.0h1.0M154.7 444.2h1.0M146.6 440.3h1.0M148.3 438.0h1.0M150.4 438.9h1.0M145.9 444.0h1.0M153.3 445.8h1.0M152.8 447.6h1.0M150.3 451.2h1.0M148.8 438.5h1.0M153.2 444.3h1.0M148.1 435.3h1.0M154.3 446.1h1.0M145.1 444.0h1.0M153.2 438.6h1.0M154.2 444.6h1.0M152.8 447.0h1.0M144.9 442.6h1.0M148.2 451.1h1.0M151.4 436.6h1.0M147.2 450.1h1.0M150.5 449.6h1.0M152.7 445.4h1.0M146.2 437.5h1.0M149.2 451.9h1.0M145.9 442.2h1.0M146.3 436.3h1.0M144.5 446.0h1.0M151.1 450.9h1.0M144.6 449.2h1.0M145.4 444.7h1.0M146.7 436.4h1.0M152.5 446.7h1.0M150.5 437.8h1.0M151.8 449.7h1.0M150.9 439.9h1.0M152.0 439.9h1.0M147.8 449.9h1.0M149.9 436.5h1.0M147.3 441.2h1.0M151.1 450.2h1.0M145.0 448.8h1.0M152.2 449.9h1.0M147.4 439.9h1.0M151.7 448.5h1.0M151.1 436.9h1.0M156.2 442.3h1.0M153.7 446.3h1.0M153.0 445.3h1.0M150.5 438.3h1.0M149.2 452.1h1.0M151.3 450.7h1.0M152.6 445.8h1.0M151.2 439.3h1.0M152.2 452.8h1.0M148.7 436.2h1.0M147.3 438.7h1.0M148.4 450.8h1.0M145.7 447.3h1.0M145.3 446.0h1.0M152.3 448.9h1.0M153.1 447.8h1.0M147.0 449.7h1.0M152.5 449.0h1.0M148.5 428.6h1.0M149.1 436.5h1.0M151.1 448.7h1.0M151.9 439.1h1.0M145.4 448.9h1.0M144.4 443.7h1.0M149.6 439.8h1.0M147.3 438.5h1.0M151.8 439.2h1.0M148.2 437.3h1.0M154.5 443.7h1.0M153.1 447.6h1.0M150.4 451.2h1.0M145.0 443.7h1.0M152.9 436.9h1.0M153.5 445.7h1.0M152.4 445.5h1.0M149.2 434.9h1.0M151.0 438.4h1.0M146.7 449.8h1.0M149.4 438.9h1.0M147.1 440.7h1.0M146.0 448.0h1.0M148.4 429.3h1.0M151.6 440.3h1.0M149.0 439.2h1.0M151.1 453.8h1.0M154.6 442.3h1.0M152.2 440.1h1.0M150.5 438.9h1.0M145.8 450.2h1.0M150.8 448.6h1.0M154.5 444.8h1.0M149.7 436.1h1.0M147.5 438.2h1.0M150.6 451.9h1.0M152.3 452.8h1.0M145.4 444.8h1.0M145.8 444.3h1.0M155.1 441.2h1.0M146.9 440.0h1.0M151.2 439.3h1.0M152.8 447.8h1.0M150.7 449.0h1.0M153.1 446.8h1.0M147.0 441.6h1.0M151.0 438.3h1.0M151.2 438.7h1.0M147.1 438.9h1.0M151.6 448.5h1.0M145.1 443.0h1.0M150.3 452.4h1.0M154.8 444.7h1.0M147.4 451.3h1.0M147.6 449.7h1.0M148.3 449.6h1.0M152.6 436.7h1.0M155.7 442.0h1.0M151.1 451.7h1.0M147.6 441.7h1.0M147.9 436.8h1.0M149.1 438.1h1.0M147.9 434.8h1.0M145.6 443.8h1.0M145.0 443.8h1.0M154.0 449.2h1.0M145.6 450.1h1.0M152.7 451.5h1.0M147.4 441.3h1.0M144.3 437.8h1.0M148.9 439.6h1.0M152.7 439.9h1.0M145.7 446.6h1.0M145.8 441.3h1.0M146.0 445.8h1.0M151.0 448.5h1.0M145.2 445.6h1.0M146.6 450.5h1.0M149.0 437.5h1.0M151.0 438.6h1.0M153.8 452.3h1.0M138.0 472.8h1.0M137.8 473.9h1.0M136.7 474.2h1.0M135.4 472.7h1.0M135.4 472.3h1.0M135.8 473.5h1.0M137.9 472.7h1.0M137.6 473.2h1.0M136.0 473.8h1.0M136.2 472.4h1.0M136.0 473.4h1.0M137.4 472.3h1.0M137.2 473.5h1.0M135.7 473.9h1.0M135.3 472.3h1.0M136.5 473.6h1.0M135.1 473.2h1.0M137.3 474.1h1.0M148.2 440.6h1.0M146.4 471.8h1.0M148.9 450.8h1.0M148.1 448.3h1.0M136.2 472.5h1.0M137.9 472.4h1.0M151.1 449.6h1.0M149.7 435.7h1.0M150.7 453.1h1.0M152.0 437.0h1.0M145.4 441.4h1.0M152.0 453.2h1.0" stroke="#2f7ae8" stroke-width="1.0" stroke-opacity="0.95" fill="none"/>
<path d="M146.9 446.7h1.0M149.3 440.4h1.0M150.1 440.4h1.0M150.9 441.9h1.0M151.6 447.0h1.0M150.3 446.7h1.0M152.1 440.8h1.0M147.2 447.7h1.0M151.9 447.8h1.0M154.1 443.6h1.0M149.8 449.8h1.0M152.0 447.5h1.0M149.2 448.9h1.0M150.5 447.6h1.0M150.1 442.1h1.0M146.5 446.4h1.0M148.8 441.5h1.0M152.4 443.7h1.0M149.6 446.4h1.0M147.7 444.4h1.0M149.1 448.8h1.0M149.5 441.0h1.0M152.2 442.2h1.0M149.1 441.6h1.0M152.4 441.9h1.0M153.3 440.5h1.0M153.1 442.6h1.0M151.5 442.2h1.0M149.9 446.3h1.0M148.9 449.2h1.0M146.9 444.4h1.0M150.7 447.7h1.0M152.3 441.9h1.0M147.4 448.2h1.0M149.0 448.6h1.0M148.2 446.9h1.0M148.7 441.6h1.0M148.6 446.7h1.0M149.7 441.5h1.0M147.3 448.2h1.0M148.1 448.2h1.0M151.0 441.7h1.0M152.0 441.9h1.0M151.6 446.8h1.0M146.6 447.7h1.0M153.1 441.6h1.0M147.2 443.9h1.0M153.4 443.9h1.0M149.3 447.0h1.0M146.5 442.9h1.0M150.2 440.6h1.0M149.4 440.5h1.0M150.3 448.2h1.0M147.7 448.1h1.0M149.5 450.0h1.0M151.0 441.3h1.0M146.5 447.1h1.0M146.3 447.3h1.0M147.7 447.8h1.0M148.9 446.7h1.0M147.0 443.4h1.0M154.3 442.5h1.0M146.3 445.9h1.0M147.9 445.2h1.0M148.7 448.7h1.0M149.4 449.1h1.0M146.7 442.8h1.0M153.8 443.6h1.0M147.1 444.1h1.0M149.8 449.3h1.0M150.6 440.3h1.0M148.2 444.7h1.0M150.8 447.3h1.0M151.7 441.3h1.0M149.9 448.2h1.0M147.3 443.5h1.0M149.8 449.2h1.0M148.2 447.2h1.0M153.6 442.3h1.0M147.6 443.6h1.0M148.6 448.5h1.0M149.8 447.6h1.0M153.1 442.6h1.0M146.9 447.0h1.0M149.2 447.1h1.0M149.5 441.3h1.0M148.0 446.3h1.0M151.3 447.7h1.0M147.1 443.6h1.0M152.1 441.0h1.0M146.6 442.4h1.0M149.0 449.4h1.0M149.2 440.9h1.0M149.3 447.4h1.0M152.4 441.7h1.0M149.1 450.1h1.0M148.0 443.0h1.0M148.5 449.1h1.0M154.2 443.5h1.0M149.5 442.0h1.0M149.0 449.3h1.0M151.2 446.3h1.0M147.6 447.8h1.0M151.1 441.1h1.0M149.8 441.3h1.0M154.3 440.3h1.0M146.6 447.3h1.0M148.9 449.7h1.0M147.2 447.9h1.0M152.1 441.7h1.0M150.1 440.6h1.0M152.2 441.7h1.0M148.1 447.3h1.0M149.7 440.9h1.0M153.9 443.2h1.0M150.9 440.7h1.0M149.8 441.0h1.0M147.4 444.7h1.0M154.3 440.9h1.0M150.1 447.6h1.0M153.2 442.7h1.0M147.3 443.0h1.0M153.6 441.2h1.0M147.7 447.2h1.0M151.1 447.5h1.0M149.8 448.3h1.0M151.3 446.4h1.0M149.1 449.0h1.0M149.6 441.3h1.0M147.4 444.2h1.0M147.7 442.9h1.0M147.6 443.7h1.0M154.2 441.5h1.0M148.0 446.5h1.0M147.5 445.7h1.0M147.8 445.5h1.0M151.6 440.8h1.0M151.1 440.6h1.0M148.7 442.2h1.0M147.5 444.5h1.0M146.3 444.5h1.0M153.4 442.3h1.0M149.6 446.5h1.0M154.2 443.5h1.0M148.9 440.9h1.0M148.2 447.8h1.0M148.7 447.6h1.0M153.7 443.4h1.0M153.2 443.5h1.0M150.9 442.1h1.0M146.7 445.9h1.0M152.1 447.5h1.0M151.4 441.4h1.0M150.4 442.1h1.0M152.5 444.3h1.0M154.0 443.6h1.0M150.4 446.6h1.0M147.8 447.7h1.0M153.2 443.6h1.0M149.0 440.7h1.0M152.9 442.5h1.0M149.8 448.1h1.0M147.6 444.2h1.0M152.1 440.5h1.0M150.4 448.0h1.0M150.5 440.5h1.0M149.2 441.4h1.0M147.9 447.4h1.0M147.9 445.8h1.0M151.9 442.0h1.0M152.7 440.9h1.0M147.1 442.9h1.0M150.0 449.1h1.0M148.0 443.1h1.0M152.0 441.6h1.0M149.6 447.4h1.0M148.5 447.3h1.0M152.3 442.5h1.0M147.5 442.3h1.0M149.4 450.0h1.0M153.8 442.1h1.0M149.6 442.0h1.0M147.7 443.7h1.0M147.0 442.4h1.0M146.4 444.9h1.0M147.9 447.5h1.0M146.9 444.9h1.0M151.9 440.6h1.0M148.0 443.2h1.0M152.3 443.1h1.0M152.6 443.5h1.0M148.8 449.8h1.0M147.9 443.4h1.0M154.1 443.4h1.0M150.7 446.4h1.0M150.8 442.0h1.0M152.0 447.0h1.0M146.8 445.0h1.0M151.5 440.8h1.0M149.7 441.6h1.0M147.7 445.9h1.0M147.7 445.1h1.0M150.1 449.7h1.0M150.9 440.6h1.0M148.2 445.8h1.0M153.8 442.7h1.0M150.2 449.1h1.0M147.1 444.1h1.0M146.6 446.3h1.0M147.9 443.9h1.0M150.1 446.4h1.0M150.2 441.4h1.0M146.9 445.7h1.0M146.4 444.1h1.0M153.4 444.0h1.0M152.3 442.8h1.0M148.9 450.1h1.0M149.5 449.5h1.0" stroke="#26b2c8" stroke-width="1.0" stroke-opacity="1" fill="none"/>
<path d="M151.5 443.4h1.0M152.2 443.2h1.0M149.4 445.1h1.0M152.3 445.3h1.0M148.9 445.2h1.0M149.9 443.6h1.0M150.8 444.6h1.0M149.1 444.6h1.0M150.1 445.2h1.0M149.5 445.2h1.0M150.4 445.0h1.0M149.8 444.4h1.0M148.4 443.6h1.0M151.4 443.4h1.0M149.8 443.3h1.0M151.9 443.2h1.0M152.0 445.5h1.0M148.6 445.8h1.0M151.4 443.3h1.0M148.5 446.1h1.0M152.1 445.9h1.0M151.0 442.6h1.0M151.9 445.0h1.0M151.3 445.1h1.0M149.8 443.5h1.0M152.2 444.3h1.0M150.1 446.1h1.0M151.9 446.1h1.0M149.0 445.7h1.0M152.2 443.1h1.0M151.5 443.4h1.0M151.2 445.7h1.0M148.4 443.4h1.0M150.6 443.8h1.0M150.4 445.7h1.0M151.9 442.8h1.0M151.5 443.6h1.0M152.1 442.9h1.0M149.4 445.4h1.0M152.0 443.2h1.0M150.2 444.4h1.0M149.6 443.2h1.0M149.1 443.1h1.0M150.1 443.3h1.0M148.6 444.1h1.0M151.9 443.9h1.0M149.9 442.4h1.0M149.4 442.7h1.0M149.8 442.4h1.0M150.0 444.0h1.0M149.2 445.7h1.0M149.4 442.8h1.0M149.2 443.8h1.0M152.2 443.8h1.0M150.9 444.7h1.0M149.9 443.7h1.0M148.6 445.6h1.0M152.2 443.4h1.0M151.5 444.0h1.0M151.2 442.7h1.0M151.4 442.8h1.0M151.3 444.4h1.0M149.0 445.2h1.0M150.7 443.1h1.0M149.5 443.5h1.0M150.9 442.5h1.0M148.9 444.3h1.0M150.7 442.9h1.0M148.4 442.4h1.0M148.3 445.0h1.0M148.7 443.7h1.0M150.4 442.6h1.0M151.8 444.3h1.0M151.5 444.5h1.0M150.0 445.1h1.0M150.0 442.5h1.0M150.7 445.6h1.0M151.2 444.5h1.0M149.6 443.2h1.0M149.8 444.4h1.0M151.6 445.3h1.0M150.2 446.2h1.0M149.7 442.5h1.0M149.7 443.9h1.0M151.2 444.9h1.0M149.8 443.8h1.0M150.7 445.9h1.0M149.7 444.3h1.0M151.5 444.8h1.0M148.6 444.4h1.0M151.1 443.8h1.0M149.2 444.9h1.0M150.0 446.0h1.0M151.7 445.4h1.0M149.2 443.3h1.0M151.4 445.3h1.0M150.6 443.2h1.0M149.2 446.2h1.0M149.9 442.8h1.0M149.3 443.6h1.0M148.8 443.6h1.0M149.6 442.5h1.0M149.4 443.2h1.0M151.7 442.4h1.0M152.3 446.1h1.0M151.2 444.4h1.0M149.8 442.8h1.0M151.6 442.7h1.0M149.9 442.7h1.0M150.3 443.1h1.0M150.9 444.0h1.0M149.8 445.7h1.0M149.5 443.7h1.0M150.1 444.4h1.0M152.1 444.4h1.0M150.7 446.3h1.0M148.6 443.8h1.0M148.9 445.2h1.0M149.0 442.8h1.0" stroke="#34d474" stroke-width="1.0" stroke-opacity="1" fill="none"/>
<line x1="94.3" y1="380.3" x2="193.3" y2="380.3" stroke="#8c8c8c" stroke-width="1"/>
<line x1="193.3" y1="379.8" x2="193.3" y2="478.3" stroke="#3a3a3a" stroke-width="1"/>
<line x1="94.3" y1="380.3" x2="94.3" y2="478.90000000000003" stroke="#000" stroke-width="1.2"/>
<line x1="93.7" y1="478.3" x2="193.3" y2="478.3" stroke="#000" stroke-width="1.2"/>
<ellipse cx="131.2" cy="408.4" rx="17.8" ry="17" fill="none" stroke="#d062c6" stroke-width="1"/>
<rect x="140.3" y="429.4" width="29.3" height="48.9" fill="none" stroke="#e090d0" stroke-width="0.9"/>
<text x="90.7" y="277.3" font-size="5.6" font-weight="bold" text-anchor="end">10<tspan font-size="3.8" dy="-2.2">5</tspan></text>
<text x="90.7" y="299.40000000000003" font-size="5.6" font-weight="bold" text-anchor="end">10<tspan font-size="3.8" dy="-2.2">4</tspan></text>
<text x="90.7" y="322.1" font-size="5.6" font-weight="bold" text-anchor="end">10<tspan font-size="3.8" dy="-2.2">3</tspan></text>
<text x="90.7" y="346.40000000000003" font-size="5.6" font-weight="bold" text-anchor="end">10<tspan font-size="3.8" dy="-2.2">2</tspan></text>
<text x="90.3" y="356.8" font-size="5.6" font-weight="bold" text-anchor="end">0</text>
<path d="M92.3 275.2h2M92.3 297.3h2M92.3 320.0h2M92.3 344.3h2M93.3 290.6h1M93.3 286.8h1M93.3 284.0h1M93.3 281.9h1M93.3 280.1h1M93.3 278.6h1M93.3 277.3h1M93.3 276.2h1M93.3 313.2h1M93.3 309.2h1M93.3 306.3h1M93.3 304.1h1M93.3 302.3h1M93.3 300.8h1M93.3 299.5h1M93.3 298.3h1M93.3 337.0h1M93.3 332.7h1M93.3 329.7h1M93.3 327.3h1M93.3 325.4h1M93.3 323.8h1M93.3 322.4h1M93.3 321.1h1M93.3 268.6h1M92.3 354.8h2M93.3 357.8h1M93.3 360.6h1M93.3 363.5h1" stroke="#000" stroke-width="0.8"/>
<text x="90.7" y="391.70000000000005" font-size="5.6" font-weight="bold" text-anchor="end">10<tspan font-size="3.8" dy="-2.2">5</tspan></text>
<text x="90.7" y="413.70000000000005" font-size="5.6" font-weight="bold" text-anchor="end">10<tspan font-size="3.8" dy="-2.2">4</tspan></text>
<text x="90.7" y="436.90000000000003" font-size="5.6" font-weight="bold" text-anchor="end">10<tspan font-size="3.8" dy="-2.2">3</tspan></text>
<text x="90.7" y="460.6" font-size="5.6" font-weight="bold" text-anchor="end">10<tspan font-size="3.8" dy="-2.2">2</tspan></text>
<text x="90.3" y="470.5" font-size="5.6" font-weight="bold" text-anchor="end">0</text>
<path d="M92.3 389.6h2M92.3 411.6h2M92.3 434.8h2M92.3 458.5h2M93.3 405.0h1M93.3 401.1h1M93.3 398.4h1M93.3 396.2h1M93.3 394.5h1M93.3 393.0h1M93.3 391.7h1M93.3 390.6h1M93.3 427.8h1M93.3 423.7h1M93.3 420.8h1M93.3 418.6h1M93.3 416.7h1M93.3 415.2h1M93.3 413.8h1M93.3 412.7h1M93.3 451.4h1M93.3 447.2h1M93.3 444.2h1M93.3 441.9h1M93.3 440.1h1M93.3 438.5h1M93.3 437.1h1M93.3 435.9h1M93.3 383.0h1M92.3 468.5h2M93.3 471.5h1M93.3 474.4h1M93.3 477.3h1" stroke="#000" stroke-width="0.8"/>
<text x="105.4" y="374.2" font-size="5.6" font-weight="bold" text-anchor="middle">0</text>
<text x="115.9" y="374.2" font-size="5.6" font-weight="bold" text-anchor="middle">10<tspan font-size="3.8" dy="-2.2">2</tspan></text>
<text x="139.5" y="374.2" font-size="5.6" font-weight="bold" text-anchor="middle">10<tspan font-size="3.8" dy="-2.2">3</tspan></text>
<text x="161.9" y="374.2" font-size="5.6" font-weight="bold" text-anchor="middle">10<tspan font-size="3.8" dy="-2.2">4</tspan></text>
<text x="184.10000000000002" y="374.2" font-size="5.6" font-weight="bold" text-anchor="middle">10<tspan font-size="3.8" dy="-2.2">5</tspan></text>
<path d="M105.4 364.5v2M114.9 364.5v2M139.2 364.5v2M161.6 364.5v2M183.8 364.5v2M122.2 364.5v1.1M126.5 364.5v1.1M129.5 364.5v1.1M131.9 364.5v1.1M133.8 364.5v1.1M135.4 364.5v1.1M136.8 364.5v1.1M138.1 364.5v1.1M145.9 364.5v1.1M149.9 364.5v1.1M152.7 364.5v1.1M154.9 364.5v1.1M156.6 364.5v1.1M158.1 364.5v1.1M159.4 364.5v1.1M160.6 364.5v1.1M168.3 364.5v1.1M172.2 364.5v1.1M175.0 364.5v1.1M177.1 364.5v1.1M178.9 364.5v1.1M180.4 364.5v1.1M181.6 364.5v1.1M182.8 364.5v1.1M96.0 364.5v1.1M100.2 364.5v1.1M104.5 364.5v1.1M108.8 364.5v1.1M113.0 364.5v1.1M190.4 364.5v1.1" stroke="#000" stroke-width="0.8"/>
<text x="105.4" y="488.0" font-size="5.6" font-weight="bold" text-anchor="middle">0</text>
<text x="115.9" y="488.0" font-size="5.6" font-weight="bold" text-anchor="middle">10<tspan font-size="3.8" dy="-2.2">2</tspan></text>
<text x="139.5" y="488.0" font-size="5.6" font-weight="bold" text-anchor="middle">10<tspan font-size="3.8" dy="-2.2">3</tspan></text>
<text x="161.9" y="488.0" font-size="5.6" font-weight="bold" text-anchor="middle">10<tspan font-size="3.8" dy="-2.2">4</tspan></text>
<text x="184.10000000000002" y="488.0" font-size="5.6" font-weight="bold" text-anchor="middle">10<tspan font-size="3.8" dy="-2.2">5</tspan></text>
<path d="M105.4 478.3v2M114.9 478.3v2M139.2 478.3v2M161.6 478.3v2M183.8 478.3v2M122.2 478.3v1.1M126.5 478.3v1.1M129.5 478.3v1.1M131.9 478.3v1.1M133.8 478.3v1.1M135.4 478.3v1.1M136.8 478.3v1.1M138.1 478.3v1.1M145.9 478.3v1.1M149.9 478.3v1.1M152.7 478.3v1.1M154.9 478.3v1.1M156.6 478.3v1.1M158.1 478.3v1.1M159.4 478.3v1.1M160.6 478.3v1.1M168.3 478.3v1.1M172.2 478.3v1.1M175.0 478.3v1.1M177.1 478.3v1.1M178.9 478.3v1.1M180.4 478.3v1.1M181.6 478.3v1.1M182.8 478.3v1.1M96.0 478.3v1.1M100.2 478.3v1.1M104.5 478.3v1.1M108.8 478.3v1.1M113.0 478.3v1.1M190.4 478.3v1.1" stroke="#000" stroke-width="0.8"/>
<line x1="211" y1="265.5" x2="309" y2="265.5" stroke="#8c8c8c" stroke-width="1"/>
<line x1="309" y1="265.0" x2="309" y2="365" stroke="#3a3a3a" stroke-width="1"/>
<line x1="211" y1="265.5" x2="211" y2="365.6" stroke="#000" stroke-width="1.1"/>
<line x1="210.4" y1="365" x2="309" y2="365" stroke="#000" stroke-width="1.1"/>
<text x="207.4" y="278.4" font-size="5.5" font-weight="bold" text-anchor="end">30</text>
<text x="207.4" y="307.9" font-size="5.5" font-weight="bold" text-anchor="end">20</text>
<text x="207.4" y="337.6" font-size="5.5" font-weight="bold" text-anchor="end">10</text>
<text x="207.4" y="367.1" font-size="5.5" font-weight="bold" text-anchor="end">0</text>
<text x="210.6" y="375.2" font-size="5.5" font-weight="bold" text-anchor="middle">0</text>
<text x="234.5" y="375.2" font-size="5.5" font-weight="bold" text-anchor="middle">1000</text>
<text x="258.5" y="375.2" font-size="5.5" font-weight="bold" text-anchor="middle">2000</text>
<text x="282.7" y="375.2" font-size="5.5" font-weight="bold" text-anchor="middle">3000</text>
<text x="307" y="375.2" font-size="5.5" font-weight="bold" text-anchor="middle">4000</text>
<path d="M209.0 276.3h2M209.0 305.8h2M209.0 335.5h2M209.0 365.0h2M210.6 365.0v2M234.5 365.0v2M258.5 365.0v2M282.7 365.0v2M307.0 365.0v2M210.0 360.0h1M210.0 355.1h1M210.0 350.1h1M210.0 345.1h1M210.0 340.1h1M210.0 335.1h1M210.0 330.2h1M210.0 325.2h1M210.0 320.2h1M210.0 315.2h1M210.0 310.3h1M210.0 305.3h1M210.0 300.3h1M210.0 295.4h1M210.0 290.4h1M210.0 285.4h1M210.0 280.4h1M210.0 275.4h1M210.0 270.5h1M211.0 365.0v1M215.6 365.0v1M220.1 365.0v1M224.7 365.0v1M229.2 365.0v1M233.8 365.0v1M238.3 365.0v1M242.9 365.0v1M247.5 365.0v1M252.0 365.0v1M256.6 365.0v1M261.1 365.0v1M265.7 365.0v1M270.3 365.0v1M274.8 365.0v1M279.4 365.0v1M283.9 365.0v1M288.5 365.0v1M293.0 365.0v1M297.6 365.0v1M302.2 365.0v1M306.7 365.0v1" stroke="#000" stroke-width="0.7"/>
<polyline points="211.5,364.6 227.5,364.6 228.75,362.5 230,362 233.3,357.6 238.7,357.2 240.8,353.3 243,352.2 245.2,353.3 247.4,350 249.5,347.9 251,353.3 253.9,353.7 256,355.4 257.8,357.6 260.4,352.2 262.5,347.9 264.7,350 266.9,346.8 269,342.4 271.2,338.1 273.4,334.8 275.6,330.5 277.3,327.2 278.8,321.8 280.3,325.1 281.6,327.2 282.5,322.9 284.2,316.4 285.3,308.8 286.8,312.1 288.6,307.7 290.7,304.5 292.9,298 294,303.4 295.1,299 296.2,301.2 297.7,309.9 299,294.7 300.5,270.8 302,292.5 303.3,279.5 304.8,292.5 305.9,281.7 307,286 308.1,266.5" fill="none" stroke="#5a5ae0" stroke-width="0.9"/>
<line x1="210" y1="380" x2="309" y2="380" stroke="#8c8c8c" stroke-width="1"/>
<line x1="309" y1="379.5" x2="309" y2="479.2" stroke="#3a3a3a" stroke-width="1"/>
<line x1="210" y1="380" x2="210" y2="479.8" stroke="#000" stroke-width="1.1"/>
<line x1="209.4" y1="479.2" x2="309" y2="479.2" stroke="#000" stroke-width="1.1"/>
<text x="206.4" y="404.5" font-size="5.5" font-weight="bold" text-anchor="end">150</text>
<text x="206.4" y="430.1" font-size="5.5" font-weight="bold" text-anchor="end">100</text>
<text x="206.4" y="455.7" font-size="5.5" font-weight="bold" text-anchor="end">50</text>
<text x="206.4" y="481.3" font-size="5.5" font-weight="bold" text-anchor="end">0</text>
<text x="210.3" y="489.4" font-size="5.5" font-weight="bold" text-anchor="middle">0</text>
<text x="234" y="489.4" font-size="5.5" font-weight="bold" text-anchor="middle">1000</text>
<text x="258.3" y="489.4" font-size="5.5" font-weight="bold" text-anchor="middle">2000</text>
<text x="282.6" y="489.4" font-size="5.5" font-weight="bold" text-anchor="middle">3000</text>
<text x="307" y="489.4" font-size="5.5" font-weight="bold" text-anchor="middle">4000</text>
<path d="M208.0 402.4h2M208.0 428.0h2M208.0 453.6h2M208.0 479.2h2M210.3 479.2v2M234.0 479.2v2M258.3 479.2v2M282.6 479.2v2M307.0 479.2v2M209.0 474.2h1M209.0 469.3h1M209.0 464.3h1M209.0 459.4h1M209.0 454.4h1M209.0 449.4h1M209.0 444.5h1M209.0 439.5h1M209.0 434.6h1M209.0 429.6h1M209.0 424.6h1M209.0 419.7h1M209.0 414.7h1M209.0 409.8h1M209.0 404.8h1M209.0 399.8h1M209.0 394.9h1M209.0 389.9h1M209.0 385.0h1M210.0 479.2v1M214.6 479.2v1M219.2 479.2v1M223.8 479.2v1M228.4 479.2v1M233.0 479.2v1M237.6 479.2v1M242.2 479.2v1M246.8 479.2v1M251.4 479.2v1M256.0 479.2v1M260.7 479.2v1M265.3 479.2v1M269.9 479.2v1M274.5 479.2v1M279.1 479.2v1M283.7 479.2v1M288.3 479.2v1M292.9 479.2v1M297.5 479.2v1M302.1 479.2v1M306.7 479.2v1" stroke="#000" stroke-width="0.7"/>
<polyline points="210.5,478.7 211.2,478.7 211.9,478.7 212.7,478.7 213.4,478.7 214.1,478.6 214.8,478.6 215.5,478.6 216.3,478.6 217.0,478.6 217.7,478.6 218.4,478.6 219.2,478.6 219.9,478.6 220.6,478.6 221.3,478.5 222.0,478.5 222.8,478.5 223.5,478.5 224.2,478.5 224.9,475.4 225.7,472.3 226.9,439.5 227.9,408.8 228.9,400.0 229.8,401.7 231.0,397.3 231.7,394.2 232.4,391.1 233.2,388.5 233.9,386.2 234.9,386.7 235.5,392.9 236.5,396.5 237.6,393.6 238.6,395.6 239.6,402.9 240.6,412.9 241.3,416.0 242.1,418.8 242.9,421.0 243.7,421.3 244.6,422.7 245.4,423.8 246.1,427.2 246.8,431.7 248.2,438.5 249.5,442.2 250.2,446.0 250.9,449.4 251.9,450.2 252.9,453.7 253.9,454.2 255.0,455.8 256.0,456.5 257.0,459.0 258.1,462.1 259.1,460.8 260.1,459.3 260.9,459.7 261.6,459.2 262.4,459.1 263.2,460.2 264.0,459.0 264.8,460.3 265.5,459.8 266.3,457.6 267.1,458.9 267.9,457.7 268.6,458.3 269.4,458.0 270.1,456.4 270.9,457.3 271.6,457.1 272.4,457.7 273.1,456.8 273.8,458.8 274.5,458.2 275.5,456.4 276.5,453.7 277.6,459.0 278.6,457.9 279.6,458.7 280.6,458.9 281.7,460.6 282.4,461.6 283.2,461.6 283.9,463.0 284.7,465.0 285.5,464.6 286.3,465.9 287.2,466.5 288.0,467.8 288.8,467.9 289.6,468.7 290.4,469.6 291.3,470.1 292.1,470.1 292.9,471.9 293.7,470.8 294.5,471.3 295.4,471.7 296.2,473.7 297.0,473.1 297.8,473.1 298.6,473.4 299.5,474.9 300.3,474.3 301.1,474.5 301.9,476.0 302.7,475.0 303.6,475.8 304.4,476.2 305.2,476.1 305.9,476.2 306.6,477.1 307.3,476.0 308.1,468.0 308.9,460.0" fill="none" stroke="#e06a6a" stroke-width="0.9"/>
<line x1="149" y1="294.8" x2="239" y2="294.8" stroke="#000" stroke-width="1.8"/>
<path d="M244.8 294.8 L238 291.4 L238 298.2 Z" fill="#000"/>
<line x1="169.6" y1="448.9" x2="217" y2="448.9" stroke="#000" stroke-width="1.8"/>
<path d="M222.8 448.9 L216 445.5 L216 452.3 Z" fill="#000"/>
<text x="139.8" y="502.7" font-size="11.3" font-weight="bold" text-anchor="middle" fill="#000" >Ter119</text>
<text x="253.2" y="502.7" font-size="11.3" font-weight="bold" text-anchor="middle" fill="#000" >FSC</text>
<text x="329.6" y="269.5" font-size="18" font-weight="bold" text-anchor="start" fill="#000" >D</text>
<line x1="380.4" y1="445.40" x2="513.2" y2="445.40" stroke="#bdbdbd" stroke-width="1.1"/>
<line x1="380.4" y1="429.70" x2="513.2" y2="429.70" stroke="#bdbdbd" stroke-width="1.1"/>
<line x1="380.4" y1="414.00" x2="513.2" y2="414.00" stroke="#bdbdbd" stroke-width="1.1"/>
<line x1="380.4" y1="398.30" x2="513.2" y2="398.30" stroke="#bdbdbd" stroke-width="1.1"/>
<line x1="380.4" y1="382.60" x2="513.2" y2="382.60" stroke="#bdbdbd" stroke-width="1.1"/>
<line x1="380.4" y1="366.90" x2="513.2" y2="366.90" stroke="#bdbdbd" stroke-width="1.1"/>
<line x1="380.4" y1="351.20" x2="513.2" y2="351.20" stroke="#bdbdbd" stroke-width="1.1"/>
<line x1="380.4" y1="335.50" x2="513.2" y2="335.50" stroke="#bdbdbd" stroke-width="1.1"/>
<line x1="380.4" y1="319.80" x2="513.2" y2="319.80" stroke="#bdbdbd" stroke-width="1.1"/>
<line x1="380.4" y1="304.10" x2="513.2" y2="304.10" stroke="#bdbdbd" stroke-width="1.1"/>
<line x1="380.4" y1="288.40" x2="513.2" y2="288.40" stroke="#bdbdbd" stroke-width="1.1"/>
<line x1="380.4" y1="272.70" x2="513.2" y2="272.70" stroke="#8a8a8a" stroke-width="1.2"/>
<line x1="513.2" y1="272.70" x2="513.2" y2="461.10" stroke="#8a8a8a" stroke-width="1.2"/>
<line x1="380.4" y1="272.70" x2="380.4" y2="464.10" stroke="#8a8a8a" stroke-width="1.2"/>
<line x1="380.4" y1="461.10" x2="513.2" y2="461.10" stroke="#8a8a8a" stroke-width="1.2"/>
<line x1="377.5" y1="461.10" x2="380.4" y2="461.10" stroke="#8a8a8a" stroke-width="1"/>
<text x="372.6" y="464.90" font-size="10.5" font-weight="bold" text-anchor="end" fill="#000" >0</text>
<line x1="377.5" y1="445.40" x2="380.4" y2="445.40" stroke="#8a8a8a" stroke-width="1"/>
<text x="372.6" y="449.20" font-size="10.5" font-weight="bold" text-anchor="end" fill="#000" >2</text>
<line x1="377.5" y1="429.70" x2="380.4" y2="429.70" stroke="#8a8a8a" stroke-width="1"/>
<text x="372.6" y="433.50" font-size="10.5" font-weight="bold" text-anchor="end" fill="#000" >4</text>
<line x1="377.5" y1="414.00" x2="380.4" y2="414.00" stroke="#8a8a8a" stroke-width="1"/>
<text x="372.6" y="417.80" font-size="10.5" font-weight="bold" text-anchor="end" fill="#000" >6</text>
<line x1="377.5" y1="398.30" x2="380.4" y2="398.30" stroke="#8a8a8a" stroke-width="1"/>
<text x="372.6" y="402.10" font-size="10.5" font-weight="bold" text-anchor="end" fill="#000" >8</text>
<line x1="377.5" y1="382.60" x2="380.4" y2="382.60" stroke="#8a8a8a" stroke-width="1"/>
<text x="372.6" y="386.40" font-size="10.5" font-weight="bold" text-anchor="end" fill="#000" >10</text>
<line x1="377.5" y1="366.90" x2="380.4" y2="366.90" stroke="#8a8a8a" stroke-width="1"/>
<text x="372.6" y="370.70" font-size="10.5" font-weight="bold" text-anchor="end" fill="#000" >12</text>
<line x1="377.5" y1="351.20" x2="380.4" y2="351.20" stroke="#8a8a8a" stroke-width="1"/>
<text x="372.6" y="355.00" font-size="10.5" font-weight="bold" text-anchor="end" fill="#000" >14</text>
<line x1="377.5" y1="335.50" x2="380.4" y2="335.50" stroke="#8a8a8a" stroke-width="1"/>
<text x="372.6" y="339.30" font-size="10.5" font-weight="bold" text-anchor="end" fill="#000" >16</text>
<line x1="377.5" y1="319.80" x2="380.4" y2="319.80" stroke="#8a8a8a" stroke-width="1"/>
<text x="372.6" y="323.60" font-size="10.5" font-weight="bold" text-anchor="end" fill="#000" >18</text>
<line x1="377.5" y1="304.10" x2="380.4" y2="304.10" stroke="#8a8a8a" stroke-width="1"/>
<text x="372.6" y="307.90" font-size="10.5" font-weight="bold" text-anchor="end" fill="#000" >20</text>
<line x1="377.5" y1="288.40" x2="380.4" y2="288.40" stroke="#8a8a8a" stroke-width="1"/>
<text x="372.6" y="292.20" font-size="10.5" font-weight="bold" text-anchor="end" fill="#000" >22</text>
<line x1="377.5" y1="272.70" x2="380.4" y2="272.70" stroke="#8a8a8a" stroke-width="1"/>
<text x="372.6" y="276.50" font-size="10.5" font-weight="bold" text-anchor="end" fill="#000" >24</text>
<line x1="380.4" y1="461.10" x2="380.4" y2="464.10" stroke="#8a8a8a" stroke-width="1"/>
<text x="380.9" y="480" font-size="10.5" font-weight="bold" text-anchor="middle" fill="#000" >0</text>
<line x1="418.3" y1="461.10" x2="418.3" y2="464.10" stroke="#8a8a8a" stroke-width="1"/>
<text x="418.8" y="480" font-size="10.5" font-weight="bold" text-anchor="middle" fill="#000" >1</text>
<line x1="456.1" y1="461.10" x2="456.1" y2="464.10" stroke="#8a8a8a" stroke-width="1"/>
<text x="456.6" y="480" font-size="10.5" font-weight="bold" text-anchor="middle" fill="#000" >2</text>
<line x1="494" y1="461.10" x2="494" y2="464.10" stroke="#8a8a8a" stroke-width="1"/>
<text x="494.5" y="480" font-size="10.5" font-weight="bold" text-anchor="middle" fill="#000" >3</text>
<text x="446.4" y="489.3" font-size="12" font-weight="bold" text-anchor="middle" fill="#000" >Day of Maturation</text>
<text x="0" y="0" font-size="11.9" font-weight="bold" text-anchor="middle" fill="#000" transform="translate(352.6 365.7) rotate(-90)">Fold Expansion</text>
<line x1="418.3" y1="444.93" x2="418.3" y2="448.07" stroke="#222" stroke-width="0.9"/>
<line x1="417.1" y1="444.93" x2="419.5" y2="444.93" stroke="#222" stroke-width="0.8"/>
<line x1="417.1" y1="448.07" x2="419.5" y2="448.07" stroke="#222" stroke-width="0.8"/>
<line x1="456.1" y1="397.52" x2="456.1" y2="408.50" stroke="#222" stroke-width="0.9"/>
<line x1="454.90000000000003" y1="397.52" x2="457.3" y2="397.52" stroke="#222" stroke-width="0.8"/>
<line x1="454.90000000000003" y1="408.50" x2="457.3" y2="408.50" stroke="#222" stroke-width="0.8"/>
<line x1="494" y1="400.18" x2="494" y2="411.17" stroke="#222" stroke-width="0.9"/>
<line x1="492.8" y1="400.18" x2="495.2" y2="400.18" stroke="#222" stroke-width="0.8"/>
<line x1="492.8" y1="411.17" x2="495.2" y2="411.17" stroke="#222" stroke-width="0.8"/>
<line x1="418.3" y1="422.79" x2="418.3" y2="430.64" stroke="#222" stroke-width="0.9"/>
<line x1="417.1" y1="422.79" x2="419.5" y2="422.79" stroke="#222" stroke-width="0.8"/>
<line x1="417.1" y1="430.64" x2="419.5" y2="430.64" stroke="#222" stroke-width="0.8"/>
<line x1="456.1" y1="307.71" x2="456.1" y2="351.67" stroke="#222" stroke-width="0.9"/>
<line x1="454.90000000000003" y1="307.71" x2="457.3" y2="307.71" stroke="#222" stroke-width="0.8"/>
<line x1="454.90000000000003" y1="351.67" x2="457.3" y2="351.67" stroke="#222" stroke-width="0.8"/>
<line x1="494" y1="277.88" x2="494" y2="339.74" stroke="#222" stroke-width="0.9"/>
<line x1="492.8" y1="277.88" x2="495.2" y2="277.88" stroke="#222" stroke-width="0.8"/>
<line x1="492.8" y1="339.74" x2="495.2" y2="339.74" stroke="#222" stroke-width="0.8"/>
<polyline points="380.4,453.25 418.3,426.72 456.1,329.69 494,308.81" fill="none" stroke="#000" stroke-width="1.3"/>
<polyline points="380.4,453.25 418.3,446.50 456.1,403.01 494,405.68" fill="none" stroke="#000" stroke-width="1.3"/>
<circle cx="380.4" cy="453.25" r="2.9" fill="#fff" stroke="#000" stroke-width="1.25"/>
<circle cx="418.3" cy="446.50" r="2.9" fill="#fff" stroke="#000" stroke-width="1.25"/>
<circle cx="456.1" cy="403.01" r="2.9" fill="#fff" stroke="#000" stroke-width="1.25"/>
<circle cx="494" cy="405.68" r="2.9" fill="#fff" stroke="#000" stroke-width="1.25"/>
<circle cx="380.4" cy="453.25" r="3.5" fill="#000"/>
<circle cx="418.3" cy="426.72" r="3.5" fill="#000"/>
<circle cx="456.1" cy="329.69" r="3.5" fill="#000"/>
<circle cx="494" cy="308.81" r="3.5" fill="#000"/>
<rect x="382.9" y="275" width="88.3" height="30" fill="#fff" stroke="#707070" stroke-width="1"/>
<line x1="385.7" y1="283.1" x2="394.3" y2="283.1" stroke="#000" stroke-width="1.3"/>
<circle cx="390.5" cy="283.1" r="2.6" fill="#fff" stroke="#000" stroke-width="1.2"/>
<line x1="385.7" y1="297.9" x2="394.3" y2="297.9" stroke="#000" stroke-width="1.3"/>
<circle cx="390.5" cy="297.9" r="2.8" fill="#000"/>
<text x="395.9" y="286.4" font-size="8.8" text-anchor="start" fill="#000" >StemPro34 (n=36)</text>
<text x="395.9" y="301.2" font-size="8.8" text-anchor="start" fill="#000" >StemSpan (n=13)</text>
</svg></body></html>
